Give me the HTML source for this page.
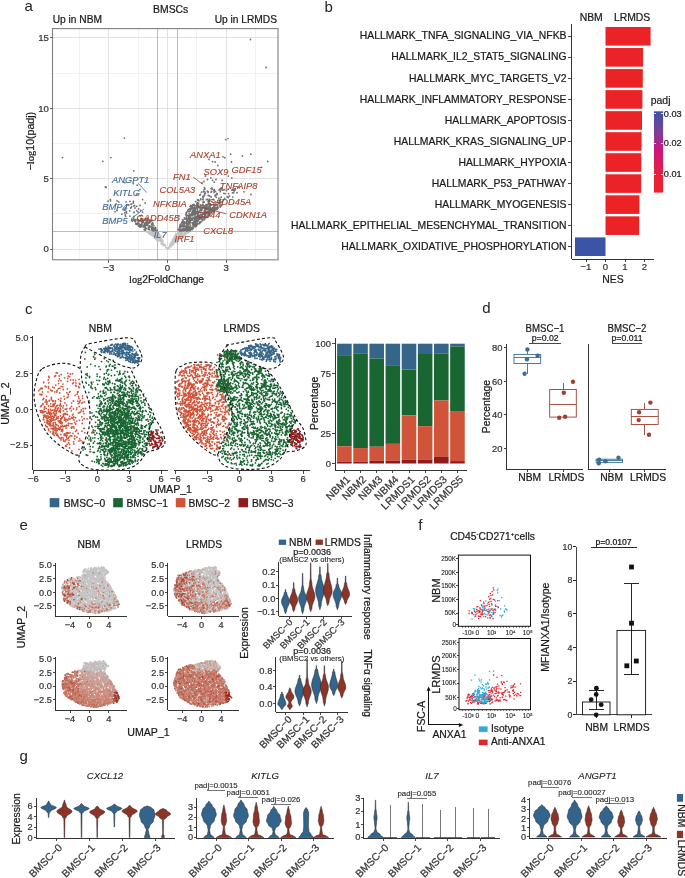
<!DOCTYPE html>
<html><head><meta charset="utf-8"><style>
html,body{margin:0;padding:0;background:#fff;width:685px;height:878px;overflow:hidden}
svg{display:block;will-change:transform}
text{font-family:"Liberation Sans",sans-serif}
</style></head><body>
<svg width="685" height="878" viewBox="0 0 685 878">
<text x="24.5" y="11.2" font-size="15" text-anchor="start" fill="#222" font-family="Liberation Sans" class="pl">a</text>
<text x="324.6" y="11.6" font-size="15" text-anchor="start" fill="#222" font-family="Liberation Sans" class="pl">b</text>
<text x="25.0" y="314.0" font-size="15" text-anchor="start" fill="#222" font-family="Liberation Sans" class="pl">c</text>
<text x="482.3" y="313.0" font-size="15" text-anchor="start" fill="#222" font-family="Liberation Sans" class="pl">d</text>
<text x="19.5" y="530.0" font-size="15" text-anchor="start" fill="#222" font-family="Liberation Sans" class="pl">e</text>
<text x="418.2" y="529.6" font-size="15" text-anchor="start" fill="#222" font-family="Liberation Sans" class="pl">f</text>
<text x="19.5" y="761.0" font-size="15" text-anchor="start" fill="#222" font-family="Liberation Sans" class="pl">g</text>
<line x1="79.4" y1="28.6" x2="79.4" y2="259.8" stroke="#efefef" stroke-width="0.8" shape-rendering="crispEdges"/>
<line x1="138.1" y1="28.6" x2="138.1" y2="259.8" stroke="#efefef" stroke-width="0.8" shape-rendering="crispEdges"/>
<line x1="196.9" y1="28.6" x2="196.9" y2="259.8" stroke="#efefef" stroke-width="0.8" shape-rendering="crispEdges"/>
<line x1="255.6" y1="28.6" x2="255.6" y2="259.8" stroke="#efefef" stroke-width="0.8" shape-rendering="crispEdges"/>
<line x1="52.5" y1="213.8" x2="278.0" y2="213.8" stroke="#efefef" stroke-width="0.8" shape-rendering="crispEdges"/>
<line x1="52.5" y1="143.4" x2="278.0" y2="143.4" stroke="#efefef" stroke-width="0.8" shape-rendering="crispEdges"/>
<line x1="52.5" y1="73.0" x2="278.0" y2="73.0" stroke="#efefef" stroke-width="0.8" shape-rendering="crispEdges"/>
<line x1="108.8" y1="28.6" x2="108.8" y2="259.8" stroke="#e2e2e2" stroke-width="1" shape-rendering="crispEdges"/>
<line x1="167.5" y1="28.6" x2="167.5" y2="259.8" stroke="#e2e2e2" stroke-width="1" shape-rendering="crispEdges"/>
<line x1="226.2" y1="28.6" x2="226.2" y2="259.8" stroke="#e2e2e2" stroke-width="1" shape-rendering="crispEdges"/>
<line x1="52.5" y1="249.0" x2="278.0" y2="249.0" stroke="#e2e2e2" stroke-width="1" shape-rendering="crispEdges"/>
<line x1="52.5" y1="178.6" x2="278.0" y2="178.6" stroke="#e2e2e2" stroke-width="1" shape-rendering="crispEdges"/>
<line x1="52.5" y1="108.2" x2="278.0" y2="108.2" stroke="#e2e2e2" stroke-width="1" shape-rendering="crispEdges"/>
<line x1="52.5" y1="37.8" x2="278.0" y2="37.8" stroke="#e2e2e2" stroke-width="1" shape-rendering="crispEdges"/>
<line x1="157.7" y1="28.6" x2="157.7" y2="259.8" stroke="#b4b4b4" stroke-width="0.9" shape-rendering="crispEdges"/>
<line x1="177.2" y1="28.6" x2="177.2" y2="259.8" stroke="#b4b4b4" stroke-width="0.9" shape-rendering="crispEdges"/>
<line x1="52.5" y1="231.2" x2="278.0" y2="231.2" stroke="#b4b4b4" stroke-width="0.9" shape-rendering="crispEdges"/>
<path transform="scale(.1)" d="M1467 2312h0m1 7h0m12-5h0m19 3h0m8-7h0m7 3h0m3 3h0m32-4h0m1 7h0m11-8h0m4 3h0m0-1h0m2 4h0m2-1h0m205-4h0m10 0h0m3 2h0m13 1h0m15-1h0m5-1h0m2 5h0m4-4h0m28-1h0m2-1h0m2 2h0m6 5h0m1-1h0m3 1h0m12-8h0m15 5h0m-414 11h0m9 9h0m2-15h0m4 20h0m2-12h0m5 9h0m1-17h0m4 15h0m0-6h0m1-8h0m1 26h0m2-28h0m6 33h0m3 2h0m1-21h0m1 0h0m2-1h0m1 4h0m0 5h0m1 1h0m2-4h0m3-12h0m1 21h0m7-21h0m6 29h0m0-20h0m2-1h0m4 18h0m8-18h0m1-15h0m0 3h0m5 13h0m1 7h0m0 2h0m0 11h0m4-19h0m2-12h0m10-3h0m5 16h0m2 6h0m0 2h0m11 9h0m146 3h0m4 0h0m6-21h0m1 5h0m1 3h0m5 5h0m3-6h0m7 9h0m0-16h0m4-12h0m2 34h0m0-33h0m6 1h0m1 27h0m1-17h0m1 20h0m1-10h0m1-14h0m1-6h0m1 27h0m2-27h0m3-4h0m2 19h0m0-1h0m2-19h0m0 28h0m2-2h0m8-14h0m5 21h0m1-23h0m1 5h0m0-1h0m1 4h0m0 19h0m0-34h0m2 31h0m2 1h0m1-24h0m8 24h0m3-10h0m2-2h0m0 12h0m2-4h0m0 3h0m3-26h0m2 18h0m4-25h0m1 4h0m1 21h0m1-8h0m6 6h0m4-22h0m1-2h0m2 5h0m0 4h0m10-1h0m3-5h0m1 3h0m6-4h0m1-3h0m-352 42h0m2 1h0m9 17h0m6-15h0m1-3h0m7 23h0m2-23h0m2 27h0m0 5h0m2 4h0m0-38h0m2 6h0m5 8h0m1 18h0m2-29h0m1 14h0m4-11h0m0 10h0m6-7h0m0 13h0m1-6h0m0 4h0m1-11h0m0-6h0m2 15h0m0-17h0m1 19h0m2 13h0m4-3h0m2-23h0m0 2h0m7 22h0m0-27h0m1 0h0m1 31h0m1 2h0m3-12h0m8 9h0m1 2h0m111-12h0m1-1h0m0 14h0m0 0h0m1-12h0m6 3h0m2-7h0m3-21h0m1 27h0m2 11h0m2-8h0m1-5h0m3 10h0m0-24h0m4-12h0m0 4h0m7 6h0m2-10h0m1 18h0m0 6h0m1 4h0m0-18h0m3 20h0m2-5h0m1-23h0m1 15h0m3 5h0m5-14h0m3 2h0m1 21h0m1-12h0m3 8h0m0-24h0m9 4h0m1 8h0m0-13h0m1 21h0m4-4h0m2-5h0m0-12h0m5 10h0m1 5h0m1-3h0m0 0h0m12-8h0m1-6h0m6 0h0m4 0h0m-270 42h0m7 3h0m2 4h0m3 0h0m17 0h0m6 2h0m4 2h0m3 21h0m0-32h0m1 32h0m0-31h0m3 17h0m0 5h0m0-1h0m1-24h0m7 24h0m1 2h0m2-3h0m1-18h0m0 13h0m1-5h0m3 25h0m75 0h0m1 1h0m3-12h0m3 5h0m3-4h0m1-5h0m0 11h0m2-6h0m1-10h0m1 9h0m0 8h0m2-34h0m5 15h0m0-7h0m1 3h0m0 17h0m1 4h0m3 1h0m1-27h0m2 12h0m0-7h0m1 10h0m3-20h0m1 15h0m1-16h0m4 0h0m2 14h0m2 6h0m2-17h0m0-4h0m1 6h0m1 17h0m0 4h0m2-9h0m3 4h0m1-20h0m0 14h0m0-13h0m10-3h0m9 7h0m-162 33h0m8 4h0m8 10h0m7-11h0m2 4h0m1 1h0m6 2h0m5 18h0m1-13h0m10 24h0m29-11h0m3-6h0m2 3h0m2-18h0m1 5h0m1-8h0m2 13h0m0-9h0m4 15h0m0 2h0m0-22h0m3 13h0m2-7h0m1 7h0m4-15h0m3 7h0m1 0h0m2-5h0m3-3h0m2 6h0m3 0h0m2-2h0m1-4h0m-71 41h0m1 3h0m3 1h0m10 2h0m6-7h0m4 0h0" stroke="#c4c4c4" stroke-width="18.0" stroke-linecap="round" fill="none"/>
<path transform="scale(.1)" d="M2505 395h0m155 280h0m-1417 706h0m1014 15h0m23-10h0m26 156h0m117 17h0m85-17h0m-1883 34h0m484 0h0m981 18h0m140-26h0m18 9h0m-1220 36h0m1098 4h0m26 3h0m163 0h0m362-5h0m-499 40h0m438 18h0m-1278 35h0m717 52h0m20 35h0m33-17h0m52 17h0m123-34h0m35 17h0m-1070 48h0m85 9h0m687-5h0m20-15h0m86-11h0m17 18h0m79-18h0m-1169 65h0m9 5h0m310-22h0m672 24h0m74 2h0m259-5h0m18 5h0m-995 16h0m634 21h0m8-18h0m6 21h0m3-30h0m22 23h0m6 8h0m2-3h0m0 1h0m29-31h0m5 29h0m8-23h0m14 15h0m3-6h0m1 1h0m2-5h0m12 17h0m36-14h0m11 17h0m0-31h0m7 12h0m1-1h0m4-17h0m12 21h0m4-1h0m16-3h0m20 8h0m16-13h0m37 9h0m6 0h0m4-4h0m11 13h0m0-8h0m2-9h0m10 6h0m1-12h0m87 31h0m-1073 27h0m631 7h0m6-7h0m11-23h0m30 32h0m1-15h0m7-9h0m28-6h0m1 31h0m14 4h0m15-37h0m31 2h0m10 28h0m13-3h0m2-16h0m5 6h0m66-6h0m13 3h0m34 0h0m40-8h0m11-1h0m34 0h0m140 18h0m-1406 51h0m322 0h0m579-2h0m2-4h0m1 7h0m19-30h0m1 27h0m2-20h0m1 17h0m8-31h0m26 37h0m7-3h0m19-2h0m21-22h0m22 24h0m16-34h0m13 13h0m26 9h0m18 13h0m5-23h0m34 11h0m27-14h0m9 6h0m12-13h0m33 9h0m-1246 41h0m24-4h0m55 30h0m11-29h0m17 10h0m72-1h0m39-5h0m34 17h0m1-16h0m117 16h0m505-14h0m13 21h0m4-10h0m3-27h0m2 34h0m3-34h0m1 4h0m4 28h0m4-24h0m41 16h0m3-11h0m8 9h0m39-6h0m4-9h0m1 25h0m12-22h0m4 29h0m16-25h0m35 5h0m27-11h0m4 23h0m5 1h0m4 4h0m6-29h0m2 8h0m6 9h0m14-5h0m4 1h0m10-20h0m-979 78h0m17-31h0m15 3h0m22-8h0m1-1h0m4 3h0m1 24h0m23-8h0m6-5h0m1 1h0m21 7h0m33-8h0m499 11h0m4-2h0m2-1h0m1 0h0m2-9h0m4 25h0m5-19h0m3 10h0m2-6h0m4 10h0m1-24h0m4 29h0m4-26h0m2 24h0m2-32h0m1 33h0m2-27h0m3 25h0m0-24h0m1 2h0m4 5h0m8 19h0m0-21h0m7 21h0m4-13h0m1-15h0m3 0h0m1 22h0m0-16h0m4 21h0m2-19h0m1 16h0m2-11h0m2-15h0m12 18h0m1 9h0m7-26h0m0 7h0m7 21h0m7-21h0m1 22h0m3-21h0m6-13h0m4 25h0m1-8h0m7-2h0m3 6h0m1 4h0m1-6h0m3 13h0m6-14h0m4 3h0m1-18h0m7 21h0m0-18h0m0 15h0m1-11h0m2 0h0m8-12h0m5 30h0m9-12h0m1-2h0m1-10h0m0 13h0m2-16h0m4 14h0m2 13h0m1-21h0m9 0h0m13 27h0m4 0h0m3-28h0m2 4h0m3 1h0m0 23h0m1-10h0m4 5h0m0-1h0m1-24h0m3 13h0m2 0h0m1-8h0m2 24h0m4-24h0m3 26h0m2-1h0m6-32h0m6 28h0m2-17h0m2 6h0m1-16h0m5 31h0m17-19h0m3 12h0m2-2h0m2-4h0m6-14h0m4 3h0m-1066 64h0m20-13h0m61-8h0m13 1h0m6 6h0m14 13h0m34-8h0m9-29h0m43 0h0m17 27h0m14 12h0m5-29h0m21 13h0m464 15h0m5-4h0m4-14h0m9-7h0m1 24h0m2-26h0m1 26h0m1-28h0m0 5h0m9 3h0m2 14h0m2-25h0m5 4h0m13 18h0m1 6h0m2-23h0m0 25h0m1-9h0m2-22h0m2 23h0m0-12h0m3 23h0m1-24h0m0 2h0m3-17h0m0 33h0m2-22h0m4 28h0m1-20h0m4-14h0m1 3h0m1 27h0m0-14h0m12-18h0m0 36h0m2-2h0m5-5h0m1 1h0m0-32h0m3 38h0m0-25h0m1 17h0m5 8h0m10-4h0m2 1h0m1 2h0m5-31h0m0 24h0m5-10h0m1-5h0m5-9h0m1 7h0m5 0h0m0 11h0m1-1h0m5-20h0m19 1h0m2 32h0m1-13h0m6-21h0m4 22h0m1-17h0m2 31h0m0-20h0m3 18h0m1-37h0m0 39h0m10-27h0m7 20h0m1-32h0m2 35h0m2 3h0m1-37h0m1 23h0m5 9h0m0 0h0m1-25h0m3 30h0m3-32h0m1 0h0m1 18h0m6-8h0m2 15h0m1-28h0m1-1h0m3 21h0m1-13h0m2 14h0m1-8h0m1 7h0m3 13h0m0-12h0m2 6h0m1-10h0m3 8h0m1 8h0m2-23h0m2 18h0m1-12h0m0 8h0m2 2h0m2-24h0m1 26h0m0-4h0m1-9h0m2 19h0m4-24h0m2 18h0m4-31h0m5 8h0m2 6h0m7-9h0m5 11h0m2-6h0m8-9h0m-961 61h0m28-14h0m6 21h0m12-18h0m75-6h0m2-4h0m72 32h0m12-31h0m433 23h0m3-16h0m0 25h0m1-7h0m1 6h0m1-2h0m1-26h0m0 22h0m8 9h0m9 2h0m3 1h0m4-21h0m5 6h0m3 7h0m0 7h0m6-10h0m5 4h0m2-4h0m1-8h0m5-12h0m3 29h0m1-8h0m6-14h0m1 1h0m1-3h0m4 15h0m0-16h0m4 1h0m5 0h0m5-8h0m1 6h0m0 18h0m3-29h0m0 14h0m1 11h0m1-21h0m3 2h0m2 7h0m13-7h0m1 11h0m3 15h0m1-5h0m2-26h0m5 1h0m3 35h0m0 0h0m9-2h0m2-35h0m7 24h0m8-18h0m3 22h0m1-1h0m6 3h0m7-6h0m1-17h0m7-5h0m3 7h0m3 11h0m4 2h0m1-18h0m2 18h0m1-21h0m0 31h0m1 4h0m1-13h0m2 14h0m5-25h0m7 5h0m8 22h0m2-35h0m4 16h0m1 6h0m3 3h0m3-13h0m3 16h0m1-8h0m3 8h0m2-22h0m3 18h0m1-18h0m5-5h0m9 3h0m-859 36h0m43-3h0m20 36h0m15-12h0m6 10h0m0-30h0m12 31h0m9 1h0m25 2h0m15-39h0m8 37h0m4-14h0m1 13h0m29-3h0m13 3h0m2 2h0m14-16h0m3 15h0m351 2h0m18-21h0m1 9h0m5 3h0m12 0h0m2-18h0m1 18h0m5 9h0m0-4h0m8-10h0m8 13h0m0-21h0m0-9h0m1-4h0m1 14h0m2 14h0m0-32h0m1 28h0m2-7h0m1-2h0m1-6h0m0-4h0m3 25h0m2-19h0m2-5h0m2 19h0m2 8h0m0-25h0m1 12h0m3-2h0m9 15h0m1 1h0m3-6h0m3-5h0m5-12h0m0 7h0m10 2h0m7 15h0m1-16h0m1-14h0m1-6h0m9 11h0m1-7h0m0 18h0m1 14h0m0-5h0m3-10h0m1-8h0m7-7h0m2 19h0m4-3h0m1-15h0m1-10h0m0 9h0m7 21h0m4-9h0m3 12h0m0-25h0m4 0h0m7 18h0m1-16h0m0-5h0m6 9h0m2 3h0m2 10h0m0 2h0m1-24h0m0 14h0m1 6h0m2 7h0m2-17h0m7-9h0m2 6h0m5-3h0m1 5h0m1 7h0m4 14h0m2-13h0m0 12h0m2-21h0m6 4h0m2-9h0m2-3h0m7 7h0m5 4h0m9-16h0m-762 47h0m8 3h0m15-10h0m8 12h0m5 2h0m0-6h0m4 6h0m1-13h0m1 32h0m2 2h0m16 1h0m1-4h0m1-29h0m5 16h0m2-5h0m0 18h0m15-24h0m4 0h0m8 8h0m7 21h0m1-27h0m2 20h0m10-25h0m0 20h0m2-8h0m1-13h0m13 33h0m1-5h0m1 6h0m3-37h0m5 23h0m4 12h0m0-15h0m1 15h0m1-21h0m1-4h0m1 22h0m1-3h0m2-4h0m5-6h0m0 15h0m1-29h0m6 19h0m4 4h0m3-8h0m2 10h0m5-30h0m0 11h0m2 14h0m2-17h0m9 8h0m8-13h0m3 34h0m4-33h0m0 30h0m5-6h0m291-4h0m2-2h0m3-6h0m5 2h0m1-18h0m2 33h0m1-9h0m3-12h0m5 10h0m1 14h0m1-4h0m2-13h0m15 11h0m0 1h0m3-9h0m1 13h0m1-17h0m1-4h0m1-7h0m5 0h0m4 28h0m6-17h0m1 9h0m6 0h0m1-28h0m4 26h0m0-17h0m0 21h0m3-7h0m1 16h0m5-29h0m2 13h0m3 0h0m7-21h0m8 0h0m1 32h0m3-8h0m0-24h0m1 37h0m1-4h0m2-5h0m8-14h0m1 18h0m2-4h0m7-27h0m2 31h0m0-21h0m1 20h0m6-7h0m3 1h0m4-13h0m3 14h0m0-5h0m2-7h0m2-8h0m5 7h0m4 23h0m2-38h0m10 36h0m3-13h0m0-2h0m3 8h0m0-11h0m4 7h0m9-10h0m1 2h0m13-13h0m4-3h0m-671 39h0m1 1h0m11 4h0m1-5h0m2 5h0m13 17h0m4-9h0m2-11h0m1-1h0m1 21h0m4 8h0m2-19h0m3-5h0m5 21h0m4 0h0m1-12h0m5-4h0m13 18h0m0-7h0m7-11h0m0 0h0m1 11h0m4 6h0m1-23h0m4-2h0m1 6h0m1 19h0m1-10h0m0-15h0m1 18h0m1-5h0m2 1h0m0 16h0m4-21h0m4-10h0m0 3h0m3 5h0m5-9h0m8 9h0m3 28h0m1-6h0m7-3h0m3 6h0m3-17h0m2 18h0m14-14h0m2-21h0m1 26h0m2 3h0m4-9h0m1-18h0m7-2h0m3 35h0m6-20h0m14 19h0m3 1h0m239-1h0m3-11h0m1-6h0m3-8h0m1-6h0m0 8h0m1 12h0m2 5h0m1-16h0m0-2h0m5-11h0m2 28h0m4-3h0m8-4h0m0 5h0m0 0h0m2-17h0m6 4h0m2 4h0m1 3h0m2-2h0m10-6h0m2 14h0m3 2h0m5 1h0m2 3h0m8-20h0m1 6h0m1 12h0m3-5h0m1-6h0m8 4h0m0-19h0m3 24h0m3 5h0m5-3h0m3-4h0m2-1h0m6-12h0m7 23h0m6-3h0m11-27h0m0 27h0m1-15h0m1 19h0m5-37h0m4 12h0m3-5h0m1 7h0m3-10h0m0 22h0m3 2h0m2-19h0m5 18h0m2-18h0m1 7h0m0 5h0m0-16h0m3 15h0m3-16h0m6 3h0m-530 48h0m7-3h0m2 10h0m4-21h0m7 6h0m21 5h0m0-3h0m11 8h0m23-9h0m0 7h0m1-10h0m1-2h0m1 18h0m1-18h0m3 4h0m2-2h0m5 23h0m2-12h0m4-13h0m1 11h0m0 15h0m8-17h0m0 3h0m4-3h0m7-5h0m1 20h0m13 1h0m1-7h0m209-4h0m5-2h0m9-2h0m1 16h0m0-2h0m2-12h0m1-12h0m5 11h0m1 15h0m5-8h0m7 4h0m1 4h0m3-17h0m4-4h0m1 16h0m4 0h0m6-8h0m1 12h0m1-26h0m5 2h0m5 20h0m1-1h0m2-14h0m6 6h0m1-4h0m0 2h0m3-1h0m0 13h0m2-5h0m0-3h0m0 11h0m0-5h0m4-17h0m1 23h0m5-1h0m2-26h0m4 14h0m6-4h0m1 15h0m0 0h0m7-14h0m1 14h0m3-19h0m4-3h0m1 6h0m2 14h0m4-20h0m6 4h0m4-7h0m3 13h0m11-11h0" stroke="#707070" stroke-width="18.0" stroke-linecap="round" fill="none"/>
<rect x="52.5" y="28.6" width="225.5" height="231.20000000000002" fill="none" stroke="#808080" stroke-width="1.1"/>
<line x1="49.5" y1="249.0" x2="52.5" y2="249.0" stroke="#666" stroke-width="1" shape-rendering="crispEdges"/>
<text stroke="#333" stroke-width="0.22" x="48.8" y="252.4" font-size="9.6" text-anchor="end" fill="#333" font-family="Liberation Sans">0</text>
<line x1="49.5" y1="178.6" x2="52.5" y2="178.6" stroke="#666" stroke-width="1" shape-rendering="crispEdges"/>
<text stroke="#333" stroke-width="0.22" x="48.8" y="182.0" font-size="9.6" text-anchor="end" fill="#333" font-family="Liberation Sans">5</text>
<line x1="49.5" y1="108.2" x2="52.5" y2="108.2" stroke="#666" stroke-width="1" shape-rendering="crispEdges"/>
<text stroke="#333" stroke-width="0.22" x="48.8" y="111.6" font-size="9.6" text-anchor="end" fill="#333" font-family="Liberation Sans">10</text>
<line x1="49.5" y1="37.8" x2="52.5" y2="37.8" stroke="#666" stroke-width="1" shape-rendering="crispEdges"/>
<text stroke="#333" stroke-width="0.22" x="48.8" y="41.2" font-size="9.6" text-anchor="end" fill="#333" font-family="Liberation Sans">15</text>
<line x1="108.8" y1="259.8" x2="108.8" y2="262.8" stroke="#666" stroke-width="1" shape-rendering="crispEdges"/>
<text stroke="#333" stroke-width="0.22" x="108.8" y="270.6" font-size="9.6" text-anchor="middle" fill="#333" font-family="Liberation Sans">−3</text>
<line x1="167.5" y1="259.8" x2="167.5" y2="262.8" stroke="#666" stroke-width="1" shape-rendering="crispEdges"/>
<text stroke="#333" stroke-width="0.22" x="167.5" y="270.6" font-size="9.6" text-anchor="middle" fill="#333" font-family="Liberation Sans">0</text>
<line x1="226.2" y1="259.8" x2="226.2" y2="262.8" stroke="#666" stroke-width="1" shape-rendering="crispEdges"/>
<text stroke="#333" stroke-width="0.22" x="226.2" y="270.6" font-size="9.6" text-anchor="middle" fill="#333" font-family="Liberation Sans">3</text>
<text stroke="#1a1a1a" stroke-width="0.22" x="170.7" y="13.3" font-size="10.4" text-anchor="middle" fill="#1a1a1a" font-family="Liberation Sans">BMSCs</text>
<text stroke="#1a1a1a" stroke-width="0.22" x="52.7" y="22.9" font-size="10.2" text-anchor="start" fill="#1a1a1a" font-family="Liberation Sans">Up in NBM</text>
<text stroke="#1a1a1a" stroke-width="0.22" x="277.0" y="22.9" font-size="10.2" text-anchor="end" fill="#1a1a1a" font-family="Liberation Sans">Up in LRMDS</text>
<text stroke="#1a1a1a" stroke-width="0.22" x="0" y="0" font-size="10.6" fill="#1a1a1a" text-anchor="middle" transform="translate(34.3 141.2) rotate(-90)"><tspan font-family="Liberation Sans">−</tspan><tspan font-family="Liberation Serif">log</tspan><tspan font-family="Liberation Sans">10(padj)</tspan></text>
<text stroke="#1a1a1a" stroke-width="0.22" x="166.6" y="283.3" font-size="10.3" fill="#1a1a1a" text-anchor="middle"><tspan font-family="Liberation Serif">log</tspan><tspan font-family="Liberation Sans">2FoldChange</tspan></text>
<text stroke="#3c6a9e" stroke-width="0.12" x="112.1" y="182.5" font-size="9.3" text-anchor="start" fill="#3c6a9e" font-family="Liberation Sans" font-style="italic">ANGPT1</text>
<text stroke="#3c6a9e" stroke-width="0.12" x="113.2" y="196.0" font-size="9.3" text-anchor="start" fill="#3c6a9e" font-family="Liberation Sans" font-style="italic">KITLG</text>
<text stroke="#3c6a9e" stroke-width="0.12" x="102.3" y="209.5" font-size="9.3" text-anchor="start" fill="#3c6a9e" font-family="Liberation Sans" font-style="italic">BMP4</text>
<text stroke="#3c6a9e" stroke-width="0.12" x="102.3" y="224.0" font-size="9.3" text-anchor="start" fill="#3c6a9e" font-family="Liberation Sans" font-style="italic">BMP5</text>
<text stroke="#3c6a9e" stroke-width="0.12" x="153.7" y="237.5" font-size="9.3" text-anchor="start" fill="#3c6a9e" font-family="Liberation Sans" font-style="italic">IL7</text>
<line x1="138.4" y1="183.4" x2="146.7" y2="192.6" stroke="#3c6a9e" stroke-width="0.8"/>
<line x1="131.2" y1="218.8" x2="143.9" y2="209.0" stroke="#3c6a9e" stroke-width="0.8"/>
<text stroke="#a63f2c" stroke-width="0.12" x="190.1" y="158.0" font-size="9.3" text-anchor="start" fill="#a63f2c" font-family="Liberation Sans" font-style="italic">ANXA1</text>
<text stroke="#a63f2c" stroke-width="0.12" x="173.0" y="179.6" font-size="9.3" text-anchor="start" fill="#a63f2c" font-family="Liberation Sans" font-style="italic">FN1</text>
<text stroke="#a63f2c" stroke-width="0.12" x="203.5" y="174.6" font-size="9.3" text-anchor="start" fill="#a63f2c" font-family="Liberation Sans" font-style="italic">SOX9</text>
<text stroke="#a63f2c" stroke-width="0.12" x="231.6" y="173.1" font-size="9.3" text-anchor="start" fill="#a63f2c" font-family="Liberation Sans" font-style="italic">GDF15</text>
<text stroke="#a63f2c" stroke-width="0.12" x="159.6" y="192.9" font-size="9.3" text-anchor="start" fill="#a63f2c" font-family="Liberation Sans" font-style="italic">COL5A3</text>
<text stroke="#a63f2c" stroke-width="0.12" x="219.8" y="189.4" font-size="9.3" text-anchor="start" fill="#a63f2c" font-family="Liberation Sans" font-style="italic">TNFAIP8</text>
<text stroke="#a63f2c" stroke-width="0.12" x="153.1" y="207.2" font-size="9.3" text-anchor="start" fill="#a63f2c" font-family="Liberation Sans" font-style="italic">NFKBIA</text>
<text stroke="#a63f2c" stroke-width="0.12" x="207.9" y="204.8" font-size="9.3" text-anchor="start" fill="#a63f2c" font-family="Liberation Sans" font-style="italic">GADD45A</text>
<text stroke="#a63f2c" stroke-width="0.12" x="136.5" y="221.1" font-size="9.3" text-anchor="start" fill="#a63f2c" font-family="Liberation Sans" font-style="italic">GADD45B</text>
<text stroke="#a63f2c" stroke-width="0.12" x="196.7" y="218.1" font-size="9.3" text-anchor="start" fill="#a63f2c" font-family="Liberation Sans" font-style="italic">CD44</text>
<text stroke="#a63f2c" stroke-width="0.12" x="229.3" y="218.1" font-size="9.3" text-anchor="start" fill="#a63f2c" font-family="Liberation Sans" font-style="italic">CDKN1A</text>
<text stroke="#a63f2c" stroke-width="0.12" x="203.2" y="233.5" font-size="9.3" text-anchor="start" fill="#a63f2c" font-family="Liberation Sans" font-style="italic">CXCL8</text>
<text stroke="#a63f2c" stroke-width="0.12" x="174.4" y="241.8" font-size="9.3" text-anchor="start" fill="#a63f2c" font-family="Liberation Sans" font-style="italic">IRF1</text>
<line x1="193.1" y1="176.9" x2="202.6" y2="184.3" stroke="#a63f2c" stroke-width="0.8"/>
<line x1="196.7" y1="205.9" x2="226.3" y2="213.9" stroke="#a63f2c" stroke-width="0.8"/>
<rect x="605.50" y="27.00" width="45.10" height="18.60" fill="#ec2326" stroke="none" stroke-width="0"/>
<line x1="568.3" y1="36.3" x2="571.5" y2="36.3" stroke="#333" stroke-width="0.9" shape-rendering="crispEdges"/>
<text stroke="#1a1a1a" stroke-width="0.22" x="566.5" y="39.4" font-size="10.4" text-anchor="end" fill="#1a1a1a" font-family="Liberation Sans">HALLMARK_TNFA_SIGNALING_VIA_NFKB</text>
<rect x="605.50" y="48.04" width="37.50" height="18.60" fill="#ec2326" stroke="none" stroke-width="0"/>
<line x1="568.3" y1="57.3" x2="571.5" y2="57.3" stroke="#333" stroke-width="0.9" shape-rendering="crispEdges"/>
<text stroke="#1a1a1a" stroke-width="0.22" x="566.5" y="60.4" font-size="10.4" text-anchor="end" fill="#1a1a1a" font-family="Liberation Sans">HALLMARK_IL2_STAT5_SIGNALING</text>
<rect x="605.50" y="69.08" width="37.30" height="18.60" fill="#ec2326" stroke="none" stroke-width="0"/>
<line x1="568.3" y1="78.4" x2="571.5" y2="78.4" stroke="#333" stroke-width="0.9" shape-rendering="crispEdges"/>
<text stroke="#1a1a1a" stroke-width="0.22" x="566.5" y="81.5" font-size="10.4" text-anchor="end" fill="#1a1a1a" font-family="Liberation Sans">HALLMARK_MYC_TARGETS_V2</text>
<rect x="605.50" y="90.12" width="36.90" height="18.60" fill="#ec2326" stroke="none" stroke-width="0"/>
<line x1="568.3" y1="99.4" x2="571.5" y2="99.4" stroke="#333" stroke-width="0.9" shape-rendering="crispEdges"/>
<text stroke="#1a1a1a" stroke-width="0.22" x="566.5" y="102.5" font-size="10.4" text-anchor="end" fill="#1a1a1a" font-family="Liberation Sans">HALLMARK_INFLAMMATORY_RESPONSE</text>
<rect x="605.50" y="111.16" width="36.50" height="18.60" fill="#ec2326" stroke="none" stroke-width="0"/>
<line x1="568.3" y1="120.5" x2="571.5" y2="120.5" stroke="#333" stroke-width="0.9" shape-rendering="crispEdges"/>
<text stroke="#1a1a1a" stroke-width="0.22" x="566.5" y="123.6" font-size="10.4" text-anchor="end" fill="#1a1a1a" font-family="Liberation Sans">HALLMARK_APOPTOSIS</text>
<rect x="605.50" y="132.20" width="36.10" height="18.60" fill="#ec2326" stroke="none" stroke-width="0"/>
<line x1="568.3" y1="141.5" x2="571.5" y2="141.5" stroke="#333" stroke-width="0.9" shape-rendering="crispEdges"/>
<text stroke="#1a1a1a" stroke-width="0.22" x="566.5" y="144.6" font-size="10.4" text-anchor="end" fill="#1a1a1a" font-family="Liberation Sans">HALLMARK_KRAS_SIGNALING_UP</text>
<rect x="605.50" y="153.24" width="35.80" height="18.60" fill="#ec2326" stroke="none" stroke-width="0"/>
<line x1="568.3" y1="162.5" x2="571.5" y2="162.5" stroke="#333" stroke-width="0.9" shape-rendering="crispEdges"/>
<text stroke="#1a1a1a" stroke-width="0.22" x="566.5" y="165.6" font-size="10.4" text-anchor="end" fill="#1a1a1a" font-family="Liberation Sans">HALLMARK_HYPOXIA</text>
<rect x="605.50" y="174.28" width="35.60" height="18.60" fill="#ec2326" stroke="none" stroke-width="0"/>
<line x1="568.3" y1="183.6" x2="571.5" y2="183.6" stroke="#333" stroke-width="0.9" shape-rendering="crispEdges"/>
<text stroke="#1a1a1a" stroke-width="0.22" x="566.5" y="186.7" font-size="10.4" text-anchor="end" fill="#1a1a1a" font-family="Liberation Sans">HALLMARK_P53_PATHWAY</text>
<rect x="605.50" y="195.32" width="33.90" height="18.60" fill="#ec2326" stroke="none" stroke-width="0"/>
<line x1="568.3" y1="204.6" x2="571.5" y2="204.6" stroke="#333" stroke-width="0.9" shape-rendering="crispEdges"/>
<text stroke="#1a1a1a" stroke-width="0.22" x="566.5" y="207.7" font-size="10.4" text-anchor="end" fill="#1a1a1a" font-family="Liberation Sans">HALLMARK_MYOGENESIS</text>
<rect x="605.50" y="216.36" width="33.70" height="18.60" fill="#ec2326" stroke="none" stroke-width="0"/>
<line x1="568.3" y1="225.7" x2="571.5" y2="225.7" stroke="#333" stroke-width="0.9" shape-rendering="crispEdges"/>
<text stroke="#1a1a1a" stroke-width="0.22" x="566.5" y="228.8" font-size="10.4" text-anchor="end" fill="#1a1a1a" font-family="Liberation Sans">HALLMARK_EPITHELIAL_MESENCHYMAL_TRANSITION</text>
<rect x="575.00" y="237.40" width="30.50" height="18.60" fill="#3b54a5" stroke="none" stroke-width="0"/>
<line x1="568.3" y1="246.7" x2="571.5" y2="246.7" stroke="#333" stroke-width="0.9" shape-rendering="crispEdges"/>
<text stroke="#1a1a1a" stroke-width="0.22" x="566.5" y="249.8" font-size="10.4" text-anchor="end" fill="#1a1a1a" font-family="Liberation Sans">HALLMARK_OXIDATIVE_PHOSPHORYLATION</text>
<line x1="571.5" y1="23.7" x2="571.5" y2="259.0" stroke="#333" stroke-width="1" shape-rendering="crispEdges"/>
<line x1="571.5" y1="259.0" x2="654.3" y2="259.0" stroke="#333" stroke-width="1" shape-rendering="crispEdges"/>
<line x1="586.0" y1="259.0" x2="586.0" y2="262.0" stroke="#333" stroke-width="0.9" shape-rendering="crispEdges"/>
<text stroke="#333" stroke-width="0.22" x="586.0" y="269.6" font-size="9.6" text-anchor="middle" fill="#333" font-family="Liberation Sans">−1</text>
<line x1="605.5" y1="259.0" x2="605.5" y2="262.0" stroke="#333" stroke-width="0.9" shape-rendering="crispEdges"/>
<text stroke="#333" stroke-width="0.22" x="605.5" y="269.6" font-size="9.6" text-anchor="middle" fill="#333" font-family="Liberation Sans">0</text>
<line x1="625.0" y1="259.0" x2="625.0" y2="262.0" stroke="#333" stroke-width="0.9" shape-rendering="crispEdges"/>
<text stroke="#333" stroke-width="0.22" x="625.0" y="269.6" font-size="9.6" text-anchor="middle" fill="#333" font-family="Liberation Sans">1</text>
<line x1="644.4" y1="259.0" x2="644.4" y2="262.0" stroke="#333" stroke-width="0.9" shape-rendering="crispEdges"/>
<text stroke="#333" stroke-width="0.22" x="644.4" y="269.6" font-size="9.6" text-anchor="middle" fill="#333" font-family="Liberation Sans">2</text>
<text stroke="#1a1a1a" stroke-width="0.22" x="613.0" y="282.9" font-size="10.4" text-anchor="middle" fill="#1a1a1a" font-family="Liberation Sans">NES</text>
<text stroke="#1a1a1a" stroke-width="0.22" x="591.2" y="21.0" font-size="10.4" text-anchor="middle" fill="#1a1a1a" font-family="Liberation Sans">NBM</text>
<text stroke="#1a1a1a" stroke-width="0.22" x="632.1" y="21.0" font-size="10.4" text-anchor="middle" fill="#1a1a1a" font-family="Liberation Sans">LRMDS</text>
<defs><linearGradient id="cb" x1="0" y1="0" x2="0" y2="1"><stop offset="0" stop-color="#3b54a5"/><stop offset="0.3" stop-color="#8a3a95"/><stop offset="0.47" stop-color="#cc1480"/><stop offset="0.78" stop-color="#e8203c"/><stop offset="1" stop-color="#ec2326"/></linearGradient></defs>
<rect x="654.00" y="111.30" width="9.10" height="81.30" fill="url(#cb)" stroke="none" stroke-width="0"/>
<line x1="654.0" y1="113.7" x2="656.0" y2="113.7" stroke="#fff" stroke-width="0.8" shape-rendering="crispEdges"/>
<line x1="661.0" y1="113.7" x2="663.1" y2="113.7" stroke="#fff" stroke-width="0.8" shape-rendering="crispEdges"/>
<text stroke="#1a1a1a" stroke-width="0.22" x="663.8" y="117.0" font-size="9.2" text-anchor="start" fill="#1a1a1a" font-family="Liberation Sans">0.03</text>
<line x1="654.0" y1="143.1" x2="656.0" y2="143.1" stroke="#fff" stroke-width="0.8" shape-rendering="crispEdges"/>
<line x1="661.0" y1="143.1" x2="663.1" y2="143.1" stroke="#fff" stroke-width="0.8" shape-rendering="crispEdges"/>
<text stroke="#1a1a1a" stroke-width="0.22" x="663.8" y="146.4" font-size="9.2" text-anchor="start" fill="#1a1a1a" font-family="Liberation Sans">0.02</text>
<line x1="654.0" y1="174.0" x2="656.0" y2="174.0" stroke="#fff" stroke-width="0.8" shape-rendering="crispEdges"/>
<line x1="661.0" y1="174.0" x2="663.1" y2="174.0" stroke="#fff" stroke-width="0.8" shape-rendering="crispEdges"/>
<text stroke="#1a1a1a" stroke-width="0.22" x="663.8" y="177.3" font-size="9.2" text-anchor="start" fill="#1a1a1a" font-family="Liberation Sans">0.01</text>
<text stroke="#1a1a1a" stroke-width="0.22" x="650.8" y="104.2" font-size="10.4" text-anchor="start" fill="#1a1a1a" font-family="Liberation Sans">padj</text>
<path transform="scale(.1)" d="M556 3757h0m6-27h0m11-1h0m0 0h0m40 18h0m65-14h0m25 9h0m22-5h0m-243 62h0m6-36h0m3 14h0m56-12h0m45-5h0m2 28h0m51-10h0m32 6h0m5-23h0m14 6h0m10 32h0m26 0h0m58-5h0m-353 28h0m0 4h0m1-1h0m50 3h0m97-20h0m1 28h0m23-29h0m67 7h0m51 23h0m7-11h0m22-22h0m3 25h0m35 5h0m-343 27h0m9 9h0m24-3h0m43 4h0m16 7h0m14-27h0m55 12h0m16 5h0m1-27h0m127 13h0m4 8h0m26 3h0m5 12h0m7-35h0m-410 66h0m12-15h0m10-12h0m10 7h0m3-4h0m57 35h0m6-35h0m21 16h0m5 6h0m12 2h0m24 11h0m22-15h0m13-18h0m16-5h0m34 14h0m40-6h0m27 27h0m80 1h0m-381 26h0m11 2h0m3 4h0m6-5h0m6-24h0m144 0h0m28 9h0m72-2h0m13 21h0m0-6h0m13-19h0m56 30h0m21-11h0m4-18h0m1-4h0m48 39h0m-395 38h0m4-9h0m3-4h0m24 15h0m5-36h0m47 26h0m1-14h0m72 19h0m23-10h0m31-21h0m6 27h0m26-13h0m8-8h0m105-4h0m5 20h0m35-2h0m-396 54h0m22-16h0m12-12h0m7 19h0m1-10h0m19-10h0m1 2h0m4-7h0m12 35h0m15-35h0m7 13h0m4-6h0m11 26h0m9-28h0m1 24h0m1-20h0m49-6h0m4 10h0m41 13h0m67 2h0m18-21h0m45 1h0m3 25h0m13-7h0m1-12h0m7-14h0m16 28h0m7-5h0m18-7h0m-437 46h0m4-4h0m3-8h0m16-9h0m14 35h0m4-12h0m20-25h0m18 18h0m22 3h0m14 0h0m7-5h0m1-15h0m6 18h0m8-12h0m9 24h0m12-8h0m4-8h0m9-4h0m19 2h0m2-4h0m5-11h0m8 22h0m17 17h0m4-21h0m32-7h0m1 3h0m49 10h0m53 14h0m24-13h0m-390 41h0m13 0h0m8 4h0m8 9h0m7-1h0m3-22h0m16 18h0m5-31h0m21 15h0m1 1h0m1 20h0m0-25h0m4 18h0m18-18h0m4 13h0m16-5h0m17 11h0m1-17h0m9-10h0m4 21h0m4 11h0m7-13h0m5-18h0m2 7h0m6-14h0m5 35h0m11-12h0m4-22h0m3 13h0m0 19h0m29-4h0m18-18h0m12 2h0m4-4h0m3 27h0m26-29h0m5-5h0m11 26h0m22-19h0m30 7h0m42 20h0m6-16h0m17-15h0m2 29h0m1 1h0m2-29h0m21-1h0m-447 37h0m13 6h0m5-8h0m9 5h0m0 29h0m0 3h0m6-37h0m1 35h0m8-3h0m17-20h0m5 3h0m1 2h0m7 22h0m7-27h0m2-6h0m1 1h0m1 1h0m2 13h0m7-12h0m3 15h0m4-18h0m10 13h0m16-13h0m4 0h0m2 11h0m6 5h0m1 15h0m2-8h0m1-2h0m9 10h0m3-22h0m1 0h0m40-11h0m2 34h0m27-13h0m3 7h0m4-10h0m8-3h0m2-6h0m8 5h0m1 4h0m0-2h0m17 5h0m50 6h0m7-10h0m52-10h0m12-4h0m44 9h0m-408 59h0m5-19h0m1 21h0m3-37h0m0 6h0m12-4h0m6 9h0m1 6h0m7-6h0m0-7h0m2-4h0m4 29h0m0-8h0m8 3h0m7-13h0m4 0h0m8 26h0m2 1h0m1-24h0m2-11h0m2 5h0m2-8h0m4 31h0m2-9h0m8-21h0m8 5h0m1 20h0m6 12h0m3-25h0m1-12h0m12 36h0m9-6h0m6-9h0m2-11h0m3 4h0m7 11h0m3-17h0m21 21h0m5 2h0m8-15h0m3 3h0m5-9h0m9-4h0m13 12h0m3 15h0m11 1h0m11 4h0m13-16h0m11-20h0m2 27h0m16-11h0m4-4h0m0 2h0m6 7h0m5-4h0m7-11h0m18 8h0m64-9h0m23 19h0m29 2h0m-423 32h0m20 7h0m1-23h0m3 11h0m0 6h0m1 7h0m0-13h0m3 16h0m0-15h0m1 2h0m1-2h0m1 21h0m3-29h0m8 29h0m3-6h0m6-19h0m1 10h0m2-9h0m4 25h0m1-6h0m4-19h0m1-6h0m6-3h0m12-4h0m3 25h0m20-3h0m2 16h0m26-30h0m12 10h0m1-10h0m1 13h0m9 12h0m1-30h0m3 8h0m2 11h0m3 4h0m4 10h0m1-5h0m1 7h0m0-16h0m3 1h0m22-24h0m14 14h0m20-14h0m5 35h0m0-2h0m18 3h0m18 1h0m20-37h0m8 25h0m22-14h0m26-8h0m27 32h0m4-34h0m-371 50h0m7 13h0m11 5h0m19-25h0m3 1h0m2 9h0m6-5h0m3-2h0m3 12h0m15-3h0m8-16h0m0 20h0m1-18h0m4 12h0m6 23h0m11-12h0m8-21h0m3 5h0m3-2h0m15 12h0m10 17h0m14-14h0m12 5h0m7-8h0m8 7h0m12-6h0m7-1h0m6 7h0m7-14h0m18 3h0m28 21h0m8-6h0m14-2h0m8 11h0m15-39h0m-273 49h0m3 15h0m18 15h0m6-35h0m9 2h0m5 5h0m5 5h0m0 22h0m3-36h0m3 2h0m6 17h0m7 2h0m3-22h0m8 13h0m2 13h0m7-25h0m3 21h0m11-11h0m2-4h0m10 7h0m7-15h0m11 29h0m1-13h0m6 7h0m6 13h0m1-13h0m1-12h0m34-9h0m54 0h0m40 32h0m10-12h0m53 10h0m19-29h0m6 0h0m-318 53h0m7 6h0m4-2h0m1-17h0m4 30h0m15-19h0m4-14h0m4 25h0m1 7h0m1-9h0m6-1h0m1 9h0m35-6h0m32 4h0m2-11h0m7 16h0m4-6h0m3-8h0m5 13h0m3-26h0m5 28h0m1-22h0m5-7h0m10 6h0m15-4h0m1 31h0m28-25h0m52 1h0m66-7h0m-267 32h0m5 9h0m10 12h0m13 18h0m0-9h0m7-14h0m12 1h0m7 22h0m0-6h0m25 6h0m6-29h0m5 19h0m11-5h0m6-12h0m30-12h0m27 29h0m3-29h0m0 27h0m21-15h0m27 16h0m-159 21h0m13 5h0m36 16h0m5-27h0m45 15h0m54-8h0m19-6h0m15 14h0m4 12h0m-173 30h0m8 3h0m8-19h0m23 35h0m2-35h0m43-4h0m-20 69h0m70-15h0" stroke="#d0543a" stroke-width="17.6" stroke-linecap="round" fill="none"/>
<path transform="scale(.1)" d="M854 3524h0m93 21h0m-99 44h0m87-23h0m13 26h0m95-5h0m-28 29h0m53-8h0m16 10h0m48-13h0m-261 65h0m35-27h0m45 16h0m38 7h0m70 2h0m5-6h0m29-5h0m0 3h0m9-17h0m20 18h0m8 0h0m14 12h0m6 6h0m0-29h0m5 27h0m-152 17h0m68 17h0m3-11h0m11-3h0m30 5h0m32-17h0m25 31h0m27-5h0m50 4h0m-392 29h0m14-7h0m1 18h0m99-13h0m72-2h0m21-8h0m18 19h0m6-8h0m25 14h0m33-5h0m41-5h0m9-24h0m1 10h0m5 6h0m28 2h0m9-7h0m37-14h0m-416 59h0m34-14h0m2 11h0m0-10h0m76-3h0m26 6h0m39 21h0m6-15h0m15 20h0m19-12h0m96 8h0m33 4h0m13-12h0m2 4h0m27-26h0m10 14h0m28-9h0m5-5h0m5 13h0m-437 50h0m4 7h0m49-6h0m2 0h0m55-22h0m22 1h0m6 2h0m31 32h0m29-13h0m6 11h0m15-21h0m8 10h0m2 6h0m0-10h0m1-8h0m7-6h0m4 18h0m25 9h0m23 4h0m10-33h0m14 1h0m13 3h0m9-9h0m2 12h0m12-12h0m1 25h0m8-4h0m3-5h0m8 15h0m18-10h0m2 16h0m8-22h0m4-5h0m4-9h0m31 3h0m8 34h0m0-2h0m9-8h0m2-6h0m12-10h0m1 25h0m6-4h0m5-11h0m2 8h0m-452 20h0m21 26h0m2-14h0m7-22h0m34 37h0m25-34h0m51 1h0m13 7h0m1-10h0m9 37h0m12-3h0m15-32h0m7 1h0m17 34h0m38-3h0m5-3h0m3-3h0m1-27h0m24 17h0m9 5h0m12 14h0m8-29h0m3 17h0m3 4h0m5 9h0m11-22h0m1 14h0m1-2h0m28-22h0m6 11h0m29 18h0m26-18h0m11-2h0m6 21h0m25-29h0m4 8h0m20 23h0m-458 5h0m35 11h0m44 23h0m3-5h0m26 1h0m5-10h0m17-22h0m11 0h0m12 11h0m5 7h0m20 4h0m8-13h0m11 7h0m23-3h0m4-10h0m10 16h0m4 0h0m12 7h0m6-13h0m7 3h0m6 12h0m1 8h0m4-32h0m5 5h0m1 22h0m1-30h0m3 15h0m3-13h0m5 2h0m22 7h0m10-14h0m7 22h0m2-3h0m1-11h0m21 29h0m16-29h0m11-1h0m4 24h0m7-12h0m0 11h0m16 1h0m4-23h0m21 12h0m1 2h0m7-14h0m1-5h0m1 36h0m7-14h0m16-9h0m0 0h0m9 6h0m-510 22h0m94 14h0m24 15h0m26-24h0m5 3h0m5 0h0m6 25h0m8-36h0m5 20h0m47-15h0m3-2h0m15 23h0m2 7h0m10-33h0m7 2h0m26 15h0m7-6h0m6 22h0m12-4h0m0 6h0m9 2h0m12-32h0m2-4h0m1 29h0m7-27h0m2 32h0m1-11h0m5 1h0m1-2h0m1-22h0m0 37h0m6-9h0m2-21h0m2 23h0m6-7h0m0-1h0m4 15h0m12-29h0m3 13h0m10 12h0m9-30h0m3 29h0m18 2h0m1-26h0m12 16h0m3 12h0m7-24h0m15 14h0m2 4h0m2-31h0m0 21h0m10-1h0m10-21h0m26 31h0m35-10h0m-510 39h0m1 2h0m14-16h0m27 12h0m7 4h0m10-17h0m9 19h0m11-20h0m7 2h0m10 1h0m14 20h0m17 6h0m18-9h0m14-8h0m10 17h0m0 6h0m7-25h0m8 5h0m1 2h0m8 6h0m1 4h0m0 4h0m1-31h0m2 21h0m1-19h0m1 7h0m2 19h0m0-28h0m1 35h0m3-16h0m10-19h0m3 4h0m3-7h0m7 19h0m5-7h0m22 8h0m3 14h0m2 1h0m1-1h0m4 0h0m1-30h0m2-3h0m6 27h0m5-12h0m2 20h0m1-10h0m0 8h0m7-1h0m11-16h0m1 5h0m9 0h0m1-13h0m1 25h0m6-32h0m19 1h0m19 34h0m10-27h0m1 0h0m17 17h0m2-27h0m3 5h0m6-4h0m3 20h0m5 7h0m14-22h0m0 24h0m6-1h0m6-24h0m10 22h0m1-26h0m15 3h0m4 34h0m1-16h0m1-3h0m23-2h0m31 19h0m18-16h0m-565 44h0m106-17h0m5 24h0m9-12h0m6 15h0m19-31h0m9 30h0m5-6h0m22-18h0m5 7h0m13-17h0m8 25h0m2-23h0m14 11h0m4 7h0m7 10h0m1 0h0m2-18h0m6-12h0m12 37h0m0-11h0m2-7h0m8-7h0m7-2h0m1 24h0m7-16h0m3-5h0m2 11h0m4-6h0m3-3h0m2 13h0m1 4h0m2-5h0m2 2h0m5 9h0m3-21h0m4-16h0m1 29h0m0-23h0m1-7h0m3 30h0m2-5h0m4-3h0m8-6h0m8 8h0m4-18h0m0 21h0m6 5h0m26-15h0m4 13h0m12-26h0m2 20h0m7 0h0m3-23h0m3 16h0m6 14h0m0-21h0m4 8h0m5-17h0m4 38h0m4-25h0m5 13h0m0-18h0m3-4h0m7 15h0m19-10h0m4-1h0m4 21h0m0-21h0m6 5h0m5-1h0m2 13h0m4 10h0m29-26h0m7 18h0m14-7h0m9-15h0m8 28h0m-479 20h0m23 7h0m5-17h0m2 18h0m9-18h0m9-4h0m13 32h0m10-14h0m6 9h0m10-26h0m14 38h0m4-17h0m11-22h0m7 34h0m4-15h0m2 19h0m2-16h0m0 13h0m4-17h0m4-5h0m3-11h0m19 35h0m0-15h0m7-8h0m8-14h0m9 10h0m5-10h0m1 10h0m8 9h0m1-9h0m14 0h0m1 3h0m0 6h0m5-11h0m3 14h0m6-6h0m2 3h0m2 17h0m19-36h0m4 35h0m3 2h0m0-34h0m3 3h0m0-6h0m3 9h0m0-8h0m2 13h0m17 8h0m4-17h0m1 7h0m2 11h0m9-3h0m5-20h0m0 24h0m8 11h0m3-12h0m6 16h0m3-13h0m5 7h0m17 6h0m9-34h0m1-5h0m0 34h0m1-27h0m5 27h0m7-6h0m8 11h0m22-25h0m6 9h0m7-5h0m12-11h0m7 14h0m2 12h0m26 1h0m21-22h0m37 25h0m4-4h0m-528 44h0m18-34h0m10 35h0m5-12h0m5-20h0m2 12h0m5 2h0m1-13h0m3 17h0m1-2h0m1 14h0m19-12h0m1 0h0m6-12h0m2 22h0m6-2h0m6-7h0m0 3h0m2 0h0m8-20h0m2 26h0m1-8h0m1-3h0m1-10h0m8 21h0m2 3h0m2-15h0m8 9h0m0-15h0m4 23h0m5-31h0m3 16h0m7-6h0m2 0h0m1-13h0m14 11h0m3 22h0m11-34h0m9 32h0m8-1h0m2-13h0m8-13h0m4-3h0m3 18h0m2 1h0m0-9h0m1-5h0m3 21h0m1-25h0m1 1h0m6 31h0m1-38h0m2 20h0m7 11h0m5 5h0m2-1h0m1-20h0m1 7h0m11 12h0m2 1h0m2 2h0m0-37h0m1 6h0m3 32h0m3-30h0m7 11h0m7-11h0m3 21h0m2 5h0m7-28h0m1 6h0m15 8h0m0-19h0m2 26h0m2-9h0m0-16h0m9 25h0m2-4h0m5-4h0m0 13h0m3-1h0m16-19h0m12 24h0m2-1h0m10-34h0m10 1h0m1 34h0m3-29h0m9 2h0m2 5h0m23 16h0m11-29h0m9 13h0m1 15h0m7-30h0m12 34h0m8-7h0m1 7h0m25-7h0m7 6h0m35 5h0m3-28h0m-580 38h0m21 27h0m42-34h0m6 12h0m5 8h0m0-4h0m13 17h0m6-16h0m14-14h0m12 22h0m8 13h0m8-6h0m10-7h0m2-5h0m2-12h0m21 19h0m0-1h0m2 9h0m3-20h0m7-10h0m4 25h0m1 2h0m3-15h0m5 17h0m1-30h0m12 10h0m4-14h0m9 20h0m0 4h0m1 8h0m2-25h0m2-2h0m4 28h0m2-29h0m0 10h0m0 20h0m2-26h0m1 25h0m2-19h0m3 14h0m10 0h0m1-20h0m4 22h0m2-13h0m4-7h0m4 2h0m13 12h0m11-22h0m4 16h0m0-6h0m3-13h0m3 33h0m2-1h0m1-28h0m3-2h0m0 9h0m5 12h0m8 1h0m1-23h0m3 26h0m1-23h0m4 32h0m2-16h0m1 13h0m8 0h0m1-22h0m2 5h0m4-9h0m1 19h0m0-2h0m1-7h0m2 3h0m1-11h0m2 26h0m3 1h0m6-5h0m1-27h0m1 22h0m2-8h0m1-13h0m3 2h0m2 27h0m0 2h0m2 2h0m13-21h0m1 13h0m6-17h0m18-4h0m8 8h0m7 11h0m9-8h0m8-3h0m4-12h0m6-4h0m2 15h0m7 22h0m9-23h0m11 15h0m18 7h0m1-11h0m1-21h0m21 33h0m1 0h0m38-15h0m22 10h0m5-27h0m-593 68h0m13-31h0m28 6h0m18 3h0m40 15h0m1-17h0m7 3h0m0 15h0m1-12h0m4 5h0m6-14h0m9 22h0m3-9h0m4-18h0m1 5h0m3 11h0m10-9h0m6 6h0m0 13h0m7-6h0m4-1h0m3-2h0m5 20h0m8-27h0m2 26h0m4-30h0m3 14h0m2-19h0m0 14h0m0-5h0m1 27h0m1-6h0m3-29h0m0 3h0m3 16h0m1 5h0m6-10h0m3-17h0m1 35h0m4-2h0m4-5h0m2-11h0m5-14h0m4 10h0m2 12h0m7-10h0m1 14h0m7 5h0m6-28h0m5 7h0m0-7h0m2 7h0m3 4h0m4 12h0m1-16h0m1 18h0m0-5h0m0 4h0m8-30h0m1 27h0m2-26h0m2 27h0m1-11h0m2-4h0m1 16h0m0-24h0m3-4h0m2 34h0m2-8h0m5 10h0m1-25h0m2 11h0m8 11h0m5-6h0m7-13h0m1 23h0m6-39h0m6 3h0m3 19h0m7-4h0m1 19h0m0-1h0m4-29h0m0-3h0m2 34h0m1-23h0m0 21h0m1-23h0m4 8h0m1-19h0m10 6h0m1-1h0m4 9h0m0 12h0m0-28h0m16 26h0m1-8h0m1 7h0m6-19h0m8 19h0m2 10h0m7-12h0m5 2h0m17 14h0m8-21h0m7 6h0m5 4h0m10-17h0m1 27h0m1-2h0m7-12h0m1-4h0m7-11h0m0 30h0m17-10h0m7-22h0m7 10h0m7-3h0m1-3h0m23 28h0m15-6h0m23-23h0m4 27h0m19-15h0m3-10h0m-569 51h0m24-22h0m13 0h0m6 21h0m2-6h0m0 12h0m10-2h0m9 13h0m6-10h0m19-28h0m2-1h0m2 11h0m5 26h0m2-3h0m3-31h0m3 5h0m2-7h0m0 32h0m2 0h0m1-29h0m1 29h0m0 0h0m10-33h0m5 23h0m0 7h0m3-23h0m16 14h0m5-5h0m2 15h0m7 3h0m4-21h0m2-10h0m3 6h0m1 23h0m0-28h0m7 4h0m2 2h0m5 12h0m0-10h0m3-4h0m1 19h0m5-1h0m0-4h0m1 16h0m2-13h0m0-25h0m10 23h0m5 11h0m1-14h0m9 15h0m0-11h0m3-9h0m3 10h0m4-22h0m1 22h0m2-24h0m4 21h0m0-4h0m1-8h0m6 1h0m4-11h0m0 32h0m7-14h0m1 0h0m1 11h0m0-8h0m3-10h0m9 22h0m1-8h0m1 7h0m4-32h0m4 8h0m0 16h0m0-4h0m2-13h0m4 22h0m8-22h0m1 12h0m3 13h0m2-13h0m0-2h0m1 12h0m10-2h0m4-3h0m4 4h0m6-6h0m7-17h0m7 29h0m4 5h0m1-36h0m2 36h0m0-25h0m2 18h0m0-4h0m5-14h0m4 21h0m6-9h0m2 2h0m1-13h0m2-7h0m4-5h0m1 29h0m13-10h0m4 11h0m3-1h0m4-22h0m2-6h0m18 25h0m2-25h0m2 20h0m4 12h0m11-35h0m25 5h0m66 6h0m5 27h0m14-10h0m20-19h0m0 10h0m10 4h0m-614 37h0m33 5h0m20-3h0m8-20h0m6 19h0m8 0h0m6-20h0m9 6h0m2 5h0m36 19h0m4-16h0m6 5h0m3 0h0m11 11h0m6-20h0m6-3h0m0 5h0m5-3h0m0 1h0m8-3h0m3 8h0m3 3h0m6 14h0m9-20h0m1 7h0m4-6h0m0 15h0m1-24h0m4 3h0m1 2h0m2 20h0m1-29h0m4 17h0m1 9h0m7-22h0m1 13h0m6 5h0m0 15h0m3-3h0m4-15h0m6 17h0m0-17h0m4 13h0m11-28h0m10 32h0m1-19h0m0 4h0m4-6h0m0 6h0m4-1h0m2-4h0m5 19h0m2-10h0m1-22h0m5 11h0m2 6h0m2-20h0m0 29h0m2-18h0m2 1h0m5 1h0m1 4h0m2 1h0m6-2h0m3-12h0m4 23h0m0-29h0m3 26h0m1-1h0m8 4h0m1-4h0m2-7h0m0-3h0m1-8h0m1 29h0m2-21h0m1-4h0m8 5h0m1-2h0m3 13h0m1 12h0m3-32h0m1 23h0m2-29h0m2 27h0m1 5h0m11-5h0m1-27h0m8 24h0m1-4h0m4 6h0m2 11h0m2-19h0m5 19h0m9-13h0m11-3h0m0 10h0m5-12h0m1 11h0m10-27h0m7 33h0m5-37h0m3 8h0m5 27h0m13-23h0m22 26h0m6-26h0m1 15h0m2-1h0m3 10h0m7-17h0m22 8h0m0 3h0m5-4h0m1 3h0m2-11h0m10-7h0m28 11h0m2 7h0m4-4h0m1-9h0m2-5h0m-570 49h0m18 7h0m27-26h0m5 0h0m10 8h0m9 16h0m2-19h0m0 27h0m5-25h0m3 24h0m1-4h0m5-17h0m11 3h0m1-10h0m1 34h0m9-29h0m5 6h0m22 17h0m3-7h0m1-1h0m1 15h0m1-31h0m11 15h0m0-14h0m1 29h0m4-9h0m10-24h0m3 16h0m0 5h0m1-10h0m4 22h0m1-23h0m3-11h0m4 30h0m4-26h0m2 12h0m4-3h0m2 5h0m4 5h0m1-6h0m12 9h0m7 4h0m1-9h0m2-6h0m2-5h0m0 18h0m2-22h0m5 27h0m2-7h0m2-28h0m2 20h0m1-5h0m1 18h0m3-13h0m4-2h0m5 8h0m13-26h0m0 25h0m0-10h0m6 11h0m4-26h0m1 19h0m1 15h0m0-4h0m5-8h0m3 15h0m0-7h0m8 2h0m1-7h0m1-10h0m1 20h0m1-28h0m1 16h0m3 4h0m3-3h0m12-21h0m1 22h0m3-2h0m2-25h0m1 25h0m1 7h0m1-19h0m6 1h0m0 21h0m6-13h0m3-14h0m0 18h0m0 12h0m0-7h0m4-20h0m3 19h0m0-11h0m1 14h0m2-10h0m1 8h0m0-28h0m4 9h0m7 13h0m6-8h0m1-6h0m6 1h0m3 25h0m2-7h0m6-21h0m14 22h0m1 3h0m1-13h0m2 10h0m3-30h0m6 14h0m0 2h0m1-2h0m2 15h0m1-21h0m1-8h0m3 4h0m6 9h0m1-2h0m3 25h0m1-21h0m1 19h0m1-29h0m8 28h0m0 1h0m5-24h0m2 6h0m3-7h0m5 28h0m1-24h0m9 11h0m0 7h0m10 0h0m6-2h0m3-26h0m7 0h0m1 2h0m14 23h0m12-2h0m39-22h0m2 30h0m5-34h0m10 34h0m9-4h0m-627 48h0m32-32h0m14-2h0m3 1h0m11 21h0m19-15h0m26 4h0m11 14h0m14-27h0m3 23h0m5-13h0m3 5h0m5-15h0m4 15h0m1 7h0m4-24h0m2 4h0m0 30h0m8-32h0m0 25h0m4-16h0m3 9h0m1-20h0m4 24h0m9 1h0m2-12h0m0-1h0m3 26h0m1-34h0m6 8h0m4 22h0m0-15h0m9-6h0m3-14h0m7 9h0m0 8h0m6 0h0m7 0h0m5 21h0m1-31h0m1-4h0m1 18h0m1 10h0m1-27h0m7 4h0m0 0h0m3 14h0m2 14h0m2-20h0m1 17h0m2-22h0m4 14h0m7-18h0m5-1h0m1 12h0m2 7h0m2-23h0m5 33h0m0-35h0m1 23h0m5-11h0m0 7h0m1-11h0m12 5h0m4 6h0m3 1h0m3 18h0m1-38h0m3 21h0m1-16h0m1 33h0m3 1h0m5-25h0m3-12h0m5 10h0m2-3h0m4 6h0m3-3h0m0-2h0m0 14h0m1 1h0m0-1h0m2 14h0m0-30h0m1 5h0m1 12h0m1-9h0m3 17h0m5-15h0m1 13h0m5-23h0m5 8h0m7 13h0m1 0h0m4-3h0m2-21h0m5 1h0m0 21h0m3 8h0m3 4h0m3-27h0m14 3h0m1 18h0m1-20h0m1-3h0m1-8h0m4 15h0m7 7h0m1-24h0m1 37h0m2-5h0m0-28h0m6 8h0m22 7h0m4 7h0m3-19h0m6 0h0m6 11h0m1 4h0m10 5h0m8-24h0m1 30h0m5-21h0m4 25h0m15-20h0m16 3h0m10-15h0m9 20h0m15 0h0m4-24h0m5 0h0m13 34h0m14-10h0m8 2h0m-632 35h0m29 10h0m1-15h0m23 4h0m20-3h0m35 8h0m22-11h0m6-11h0m1 20h0m2-16h0m1 25h0m1-27h0m13 15h0m26 17h0m6-6h0m2-13h0m18 12h0m6 4h0m4-35h0m1 38h0m4-23h0m0 9h0m1-18h0m0 14h0m4 19h0m3-31h0m1 29h0m3-29h0m2 0h0m16-8h0m2 3h0m3 30h0m5-25h0m10 21h0m0 8h0m4-26h0m2-4h0m2 28h0m7-6h0m3 10h0m7-28h0m0 2h0m5 8h0m0-5h0m2 6h0m0-4h0m5-5h0m1-4h0m1 3h0m2 3h0m2-4h0m12 15h0m3-5h0m1-14h0m3 30h0m0-7h0m0-5h0m2 0h0m3 7h0m2-25h0m3-2h0m4 17h0m13-7h0m8-4h0m2 6h0m1 6h0m2-9h0m7 8h0m0-8h0m5 2h0m5-2h0m1-3h0m2-1h0m0-5h0m3 9h0m4 24h0m10-37h0m5 30h0m2 7h0m6-15h0m1-18h0m2 22h0m9 5h0m5-12h0m1-13h0m1 26h0m0-17h0m14 0h0m0-16h0m1 6h0m1 17h0m2-12h0m5 7h0m1 10h0m1 9h0m2-19h0m12-14h0m7 27h0m13 6h0m2-26h0m17 4h0m6 10h0m8-15h0m19 23h0m2-12h0m14-18h0m2 3h0m6 0h0m20 21h0m3-9h0m11 8h0m9 11h0m3-22h0m-590 34h0m26 21h0m12-17h0m28 20h0m5 4h0m12-5h0m2-3h0m4-3h0m8-22h0m4 28h0m17-24h0m8 29h0m21-8h0m6 9h0m2-32h0m2 24h0m3-6h0m4-12h0m14 22h0m15-34h0m1 11h0m2 26h0m1-7h0m13-2h0m5 2h0m7 2h0m0-10h0m0 4h0m1 10h0m3-28h0m0 20h0m4-27h0m1 10h0m11 11h0m2 5h0m3-7h0m1-4h0m4-14h0m3 29h0m4-4h0m2 5h0m6-32h0m0 37h0m4-14h0m3 12h0m4-26h0m1 11h0m0 5h0m1-19h0m8-4h0m2 12h0m1-13h0m1 37h0m2-32h0m1-1h0m2 28h0m2 6h0m7-5h0m0-2h0m2-26h0m2-3h0m0 34h0m0-6h0m2-9h0m1-22h0m4 1h0m10 38h0m0-28h0m1 27h0m0-19h0m1 20h0m1-2h0m7-17h0m4-4h0m4 4h0m0 9h0m5-16h0m4 13h0m6 1h0m5-5h0m8-2h0m0 17h0m6-31h0m7 22h0m0-12h0m5 20h0m2-21h0m6 1h0m4 0h0m1-3h0m0 9h0m8 7h0m2-15h0m0 2h0m1-15h0m1 22h0m1-12h0m2 28h0m0-38h0m1 1h0m2 35h0m9-29h0m0 21h0m7 1h0m2-18h0m4-5h0m3 23h0m14 8h0m15-25h0m1 8h0m4 18h0m5-7h0m0-6h0m5 2h0m1-24h0m6 19h0m19-2h0m17-11h0m3 27h0m12-6h0m2 0h0m3 6h0m24-25h0m9 24h0m13-26h0m-675 66h0m8-4h0m52-32h0m9 25h0m27 4h0m67-4h0m3 6h0m0 8h0m4-37h0m14 18h0m0 11h0m4-17h0m6 11h0m2-5h0m12 3h0m3 12h0m1-7h0m7-7h0m3-1h0m9-1h0m3 5h0m4-8h0m1-5h0m7 22h0m3-24h0m5 11h0m3-20h0m15 3h0m2 5h0m11 31h0m6-30h0m8 24h0m0 3h0m2-16h0m1 3h0m3-6h0m12-3h0m3 18h0m0-27h0m6 8h0m2 11h0m4 12h0m6-29h0m3 6h0m1 22h0m3-9h0m1-5h0m8-8h0m1-5h0m3 10h0m1-14h0m2 8h0m0 10h0m5-5h0m8-11h0m2-6h0m1 11h0m4 10h0m4-11h0m1-9h0m7 5h0m1 22h0m1-1h0m0 1h0m0-3h0m8 2h0m1-25h0m2 24h0m1 3h0m3 10h0m1-8h0m3-25h0m6 19h0m2-19h0m2 19h0m3-4h0m1-12h0m0 2h0m1-7h0m0 4h0m1 13h0m4-2h0m2 1h0m12-12h0m1-6h0m2 37h0m2-11h0m5 7h0m2 4h0m6-9h0m1-26h0m5 35h0m6-35h0m2 10h0m1 24h0m0-13h0m3 7h0m4-29h0m1 17h0m3 10h0m0-12h0m6 2h0m7 14h0m1-17h0m4-15h0m2 8h0m6 23h0m4-28h0m0 5h0m1 13h0m3-11h0m30-3h0m38 9h0m13 9h0m16-11h0m4 20h0m6-22h0m-635 47h0m20-11h0m49 28h0m1-25h0m75 18h0m5-8h0m4-17h0m1-3h0m8-2h0m7 38h0m2-5h0m9-18h0m13 5h0m6-6h0m5 15h0m10-25h0m2 33h0m3-27h0m0 0h0m6 21h0m4-18h0m20 14h0m0 0h0m1-10h0m11 2h0m1 13h0m7-23h0m1 8h0m5 10h0m0-22h0m3 6h0m4 10h0m5-21h0m4 32h0m1-31h0m1 8h0m4 14h0m6-8h0m1 6h0m5-16h0m1 25h0m1-7h0m6-22h0m2 19h0m3-11h0m9 21h0m0-28h0m1 32h0m8-22h0m3 4h0m0-13h0m1 5h0m1-9h0m1 14h0m2 2h0m1 3h0m1-6h0m2-8h0m5 34h0m1-25h0m7-12h0m3 6h0m14 23h0m1 1h0m2-19h0m4-1h0m6 3h0m5 14h0m5-13h0m8 14h0m1-23h0m2-3h0m0 27h0m6-25h0m0-3h0m1-2h0m9 28h0m6-22h0m7 8h0m3 0h0m4 12h0m0 7h0m13-28h0m7-3h0m0 34h0m5-15h0m9-19h0m7 15h0m3 0h0m17 7h0m3-2h0m21 14h0m3-34h0m1 28h0m0-28h0m4 27h0m6-8h0m2 8h0m4-12h0m11-13h0m19 5h0m1 28h0m4-16h0m2-14h0m13 23h0m11 2h0m9-9h0m-596 46h0m14 3h0m56-30h0m11 1h0m67 22h0m29-2h0m1-16h0m2-3h0m5 19h0m1 11h0m22-2h0m4-6h0m3-15h0m18-11h0m5 17h0m7-15h0m2 21h0m3 8h0m0 4h0m6-34h0m4 29h0m14-16h0m2-4h0m9 16h0m2-9h0m2-17h0m5 28h0m3 10h0m2-31h0m5 4h0m0 25h0m3-6h0m3 8h0m8-38h0m3 21h0m1 6h0m2 11h0m2-14h0m5 9h0m5-28h0m2-3h0m1 17h0m3 18h0m2-29h0m1-8h0m5 37h0m1-35h0m7 25h0m2-2h0m2 6h0m2-6h0m1-13h0m5 4h0m3-15h0m0 3h0m2 17h0m7-1h0m3 17h0m2-25h0m2 17h0m3 2h0m1-32h0m6 0h0m3 14h0m1-12h0m5 33h0m2-9h0m5 9h0m3-9h0m1-26h0m3 33h0m3-11h0m2-18h0m5-2h0m12 22h0m3-13h0m6 7h0m1-2h0m7-14h0m4 37h0m11-13h0m5-21h0m9 11h0m1-15h0m2 31h0m6-24h0m4-5h0m13 17h0m5-10h0m14-6h0m6-4h0m1 16h0m10-2h0m1-5h0m4 20h0m9-4h0m6-5h0m-469 55h0m6-30h0m12 29h0m22 3h0m3-29h0m2 22h0m37-5h0m4 12h0m17-23h0m6 23h0m4 0h0m11-9h0m0-6h0m3 1h0m2 15h0m15-9h0m4-24h0m10 12h0m16 20h0m0-23h0m0 5h0m0-15h0m1 11h0m0 19h0m1-33h0m4 36h0m5-1h0m5-22h0m1-11h0m1 25h0m10-26h0m1 33h0m6-19h0m1 3h0m3-6h0m1 22h0m3 1h0m12 3h0m1-9h0m1-3h0m1-11h0m1 12h0m2 8h0m3-7h0m3-3h0m4-7h0m2-5h0m9-5h0m5 5h0m1 2h0m3 6h0m4-8h0m4 1h0m3 24h0m2-18h0m1 14h0m3-15h0m1-4h0m3-14h0m3 4h0m3-2h0m5 5h0m4-1h0m1 9h0m1-8h0m1 22h0m1-27h0m3 11h0m6-6h0m1 27h0m3-19h0m20-7h0m1 25h0m2-3h0m13-20h0m5 2h0m0-3h0m11 2h0m5-12h0m11 38h0m1-21h0m27-15h0m3 33h0m-462 16h0m24 6h0m22 5h0m6-19h0m8 10h0m6 23h0m1-16h0m2 5h0m2 9h0m3-30h0m34 29h0m10 5h0m16-27h0m3 25h0m5-27h0m14 4h0m2 6h0m10-4h0m2 11h0m1 12h0m1-2h0m7-36h0m0 19h0m10-4h0m1-9h0m0 16h0m2-19h0m1 15h0m9 1h0m6-4h0m4 18h0m0 0h0m5-22h0m0-6h0m1 29h0m9 0h0m3-21h0m3 24h0m4-10h0m1 6h0m5-29h0m4 10h0m1-1h0m5 4h0m1 14h0m1-29h0m11 2h0m20 17h0m4-1h0m3-1h0m0 18h0m1-6h0m2 3h0m5-10h0m1 8h0m2-18h0m10 16h0m6-8h0m4 8h0m8-4h0m6 8h0m9-14h0m10-12h0m10 27h0m0-16h0m8-10h0m1-10h0m2 34h0m4-26h0m10 8h0m3-7h0m4-3h0m2 24h0m5-18h0m5 8h0m20-5h0m0-5h0m2-5h0m20 6h0m-360 41h0m14 11h0m22-10h0m12-2h0m11-11h0m2 1h0m2 7h0m4 21h0m4-22h0m1 7h0m4 2h0m0 0h0m2-15h0m14 22h0m5-4h0m5-5h0m2 10h0m7-5h0m11-9h0m4 6h0m4-2h0m32-9h0m7 7h0m7 14h0m4-3h0m3-12h0m1-1h0m8 9h0m6-3h0m3-10h0m18-3h0m0 5h0m1 11h0m17-7h0m4-8h0m3 10h0m4 0h0m12-10h0m27-2h0" stroke="#1a6633" stroke-width="17.6" stroke-linecap="round" fill="none"/>
<path transform="scale(.1)" d="M1181 3439h0m52 0h0m3-6h0m1 4h0m11-3h0m4 0h0m22 4h0m-218 34h0m26-9h0m0-2h0m6 16h0m7-3h0m9 4h0m2-24h0m7-8h0m4 6h0m7-9h0m13 21h0m3-5h0m5-8h0m5 24h0m7-33h0m6 22h0m2-19h0m1 34h0m5-1h0m1-16h0m0-6h0m6-9h0m0 4h0m3 27h0m3-35h0m3 4h0m6 25h0m7-7h0m0-5h0m4 13h0m1-29h0m11 21h0m2 14h0m0-19h0m4-3h0m1-12h0m1-4h0m1 31h0m1-31h0m4 26h0m1-2h0m1-11h0m2 23h0m0-36h0m2 25h0m3-3h0m1-12h0m4 22h0m0-33h0m1 2h0m8 0h0m2 29h0m1-19h0m2 1h0m13 6h0m0 17h0m7-5h0m2 6h0m2-21h0m5 10h0m4 11h0m2-18h0m3 13h0m13-7h0m2 5h0m7 2h0m-328 19h0m16-2h0m2 1h0m2 23h0m1-23h0m0 2h0m3 11h0m6-5h0m3 7h0m14 14h0m0-33h0m6 31h0m0-22h0m4 10h0m1-22h0m2 8h0m4 19h0m2-19h0m1 18h0m1-5h0m7-19h0m6 7h0m1 24h0m1-21h0m0-7h0m2 24h0m1-6h0m1-26h0m5 35h0m0-27h0m2 17h0m6 2h0m2 0h0m1-27h0m5 8h0m2-4h0m0 31h0m6 1h0m0 3h0m2-38h0m5 38h0m5-37h0m3 21h0m4-21h0m2 17h0m0-10h0m1 27h0m16-13h0m3-14h0m2 18h0m9 3h0m4-20h0m11 25h0m6-20h0m1-7h0m4 4h0m1 11h0m8-21h0m5 14h0m2 16h0m6-23h0m10 21h0m1-23h0m0 3h0m1 2h0m8 20h0m1-4h0m8-4h0m12-18h0m4 6h0m5-5h0m4 10h0m4-4h0m4 0h0m3 2h0m2-12h0m5 1h0m2 14h0m10 4h0m5-20h0m2 26h0m4-27h0m1 12h0m1-1h0m5 7h0m1-1h0m4 7h0m2-6h0m9-7h0m4-11h0m1 30h0m19-13h0m-334 25h0m21-1h0m5 2h0m6 1h0m4 1h0m27-2h0m3-4h0m18 9h0m1 12h0m18-2h0m18 4h0m6-15h0m1 5h0m10 10h0m2 1h0m1-6h0m0 15h0m14-20h0m2 20h0m3-29h0m4 30h0m3-28h0m2 12h0m2 4h0m0 4h0m2 0h0m1-19h0m0-6h0m6 34h0m0-16h0m2 2h0m2-9h0m0 25h0m10-20h0m3-5h0m8-11h0m2 6h0m2 18h0m1 10h0m1-25h0m0 14h0m7-16h0m3-4h0m5 12h0m4-9h0m8 24h0m9-8h0m0-15h0m1 7h0m3-13h0m3 28h0m5-21h0m2-5h0m5 6h0m4 7h0m1-3h0m0-8h0m0 18h0m9 6h0m3-6h0m2-22h0m5 32h0m14-15h0m5-5h0m6 10h0m7 0h0m2 4h0m2 4h0m7-11h0m5 5h0m2 7h0m3-16h0m1-4h0m0 7h0m5 12h0m1-31h0m2 29h0m5-9h0m7 11h0m0-6h0m-205 17h0m4 5h0m14-8h0m11 19h0m8-2h0m2-6h0m13-3h0m7 5h0m1 1h0m17 3h0m8 7h0m1-9h0m1 3h0m0-4h0m7 10h0m2-6h0m2-6h0m1-9h0m2 23h0m0 11h0m4 1h0m2-12h0m8-11h0m0 10h0m1-12h0m2-6h0m4 11h0m1-7h0m5 25h0m2-2h0m6-13h0m5-11h0m0 15h0m2-25h0m0 6h0m6-3h0m8 23h0m1 3h0m2-12h0m9-15h0m1 22h0m0-13h0m1-5h0m3 22h0m0-22h0m3 6h0m1-7h0m3 6h0m20 9h0m9 6h0m1 1h0m0-11h0m11 10h0m2-8h0m-138 26h0m21-1h0m8 11h0m8 2h0m8-11h0m2 16h0m5-21h0m13 26h0m0-3h0m2-23h0m0 18h0m10-14h0m0 6h0m2 4h0m0 6h0m8 9h0m3-11h0m5-13h0m6 4h0m0 17h0m3-19h0m5 5h0m1-4h0m8 3h0m0 11h0m1 8h0m0-9h0m3-20h0m8 3h0m2 8h0m1 2h0" stroke="#36658a" stroke-width="17.6" stroke-linecap="round" fill="none"/>
<path transform="scale(.1)" d="M1560 4298h0m2 10h0m5 9h0m13-16h0m-76 50h0m7-22h0m3 15h0m3-19h0m2 15h0m2 0h0m2 14h0m7-23h0m3-11h0m3 35h0m22-19h0m3 6h0m13 7h0m2-17h0m13 26h0m20-32h0m-119 70h0m3-27h0m0-1h0m13 9h0m4 19h0m2-21h0m5 10h0m3-7h0m8-14h0m2 31h0m1-17h0m3-10h0m1 27h0m4-28h0m10 10h0m19 6h0m12 2h0m14-13h0m1 14h0m17-14h0m5-1h0m3 11h0m4 5h0m0 8h0m-133 40h0m12-23h0m6-3h0m8 24h0m18-32h0m8 14h0m8 17h0m4-11h0m0-9h0m5 17h0m11-3h0m18-2h0m4-16h0m11-3h0m3 32h0m3-11h0m5 7h0m10-24h0m4-8h0m-128 52h0m0 1h0m10-4h0m17-5h0m2 25h0m1 1h0m9-1h0m3-3h0m7-21h0m4 18h0m1-16h0m2-4h0m13 15h0m1-10h0m4 10h0m1 14h0m9 5h0m10-14h0m10-13h0m6-6h0m4-5h0m-88 41h0" stroke="#8d1c1e" stroke-width="17.6" stroke-linecap="round" fill="none"/>
<path transform="scale(.1)" d="M944 3530h0m-6 43h0m17 6h0m-23 241h0m-39 185h0m32 268h0m5 40h0m-10 10h0m-31 76h0m26 3h0m-38 39h0m30 75h0" stroke="#d0543a" stroke-width="17.0" stroke-linecap="round" fill="none"/>
<path d="M85.2 346.4C85.2 345.2 84.2 344.7 91.3 343.3C98.5 341.9 120.6 337.6 128.1 337.8C135.6 337.9 134.1 341.5 136.3 344.3C138.5 347.1 140.5 351.8 141.4 354.5C142.2 357.3 142.2 358.6 141.4 360.7C140.5 362.7 138.2 365.6 136.3 366.8C134.4 368.0 132.9 368.2 130.2 367.8C127.4 367.5 123.7 366.3 119.9 364.7C116.2 363.2 112.4 361.0 107.7 358.6C102.9 356.2 95.1 352.5 91.3 350.4C87.6 348.4 85.2 347.5 85.2 346.4Z" fill="none" stroke="#111" stroke-width="1.1" stroke-dasharray="3 2.2"/>
<path d="M42.3 368.8C46.4 365.9 55.2 363.8 60.7 363.3C66.1 362.8 71.6 364.5 75.0 365.8C78.4 367.0 79.9 368.3 81.1 370.9C82.3 373.4 80.8 375.3 82.1 381.1C83.5 386.9 88.1 398.1 89.3 405.6C90.5 413.1 90.3 419.6 89.3 426.1C88.3 432.5 84.8 439.7 83.1 444.5C81.4 449.2 81.1 453.3 79.1 454.7C77.0 456.0 74.3 454.3 70.9 452.6C67.5 450.9 62.7 447.9 58.6 444.5C54.5 441.1 49.8 437.0 46.4 432.2C42.9 427.4 40.2 421.6 38.2 415.8C36.1 410.1 34.4 403.2 34.1 397.5C33.7 391.7 34.8 385.9 36.1 381.1C37.5 376.3 38.2 371.8 42.3 368.8Z" fill="none" stroke="#111" stroke-width="1.1" stroke-dasharray="3 2.2"/>
<path d="M85.2 346.4C84.5 347.7 82.0 350.8 81.1 354.5C80.2 358.3 80.2 366.5 80.1 368.8" fill="none" stroke="#111" stroke-width="1.1" stroke-dasharray="3 2.2"/>
<path d="M79.1 454.7C79.2 456.0 78.0 460.5 80.1 462.9C82.1 465.2 85.4 467.8 91.3 469.0C97.3 470.2 109.0 470.4 115.8 470.0C122.7 469.7 128.1 468.5 132.2 466.9C136.3 465.4 138.0 463.2 140.4 460.8C142.8 458.4 144.5 454.3 146.5 452.6C148.6 450.9 149.9 451.6 152.6 450.6C155.4 449.6 160.8 448.2 162.9 446.5C164.9 444.8 165.2 443.4 164.9 440.4C164.6 437.3 162.5 431.9 160.8 428.1C159.1 424.4 156.0 420.6 154.7 417.9C153.3 415.2 154.3 415.2 152.6 411.8C150.9 408.4 147.2 402.6 144.5 397.5C141.7 392.3 138.7 386.0 136.3 381.1C133.9 376.2 131.2 370.0 130.2 367.8" fill="none" stroke="#111" stroke-width="1.1" stroke-dasharray="3 2.2"/>
<path d="M154.7 417.9C153.8 419.6 150.8 424.4 149.6 428.1C148.4 431.9 148.0 436.3 147.5 440.4C147.0 444.5 146.7 450.6 146.5 452.6" fill="none" stroke="#111" stroke-width="1.1" stroke-dasharray="3 2.2"/>
<path transform="scale(.1)" d="M1865 3678h0m15-11h0m0 8h0m7-4h0m12-2h0m16-10h0m17 20h0m7-32h0m2 32h0m5-31h0m0 17h0m5 10h0m17-24h0m1 27h0m8-24h0m5-8h0m9 9h0m7 21h0m0-11h0m9 0h0m4-21h0m2 27h0m9 6h0m19-10h0m18-3h0m2-16h0m6 14h0m4-7h0m8-5h0m8-2h0m7 6h0m0 19h0m4-19h0m5 14h0m9-13h0m32 18h0m-339 45h0m12-13h0m10 13h0m9-10h0m4 3h0m8-23h0m7 15h0m1-23h0m10 34h0m31-18h0m2 12h0m19-2h0m11 4h0m1 0h0m2-5h0m4-1h0m11-19h0m4 5h0m5 11h0m4 12h0m4-17h0m10 0h0m8-5h0m4 9h0m25-4h0m7 17h0m16-21h0m1-10h0m1 3h0m10 4h0m8 13h0m5 1h0m1-12h0m30-2h0m10 8h0m9 2h0m16-3h0m1-4h0m18 24h0m-355 38h0m9-27h0m4 15h0m1 5h0m9-24h0m6 35h0m11-2h0m5-19h0m6-3h0m6 22h0m5-32h0m13-4h0m5 14h0m9 23h0m18-25h0m2-12h0m7 36h0m1-3h0m9-6h0m4-27h0m19 8h0m13 17h0m1 4h0m0-26h0m2 9h0m1 6h0m6 16h0m10 5h0m6-17h0m19 11h0m22-23h0m6 27h0m13-6h0m9-11h0m4-17h0m2 28h0m3-2h0m5-23h0m1 2h0m13 23h0m15-17h0m3-8h0m9 18h0m7-3h0m14 15h0m1-25h0m20 3h0m0 1h0m12 21h0m16-23h0m1 13h0m0-15h0m-356 63h0m11 2h0m3-11h0m22-11h0m10 6h0m28-17h0m5 32h0m29-33h0m5 11h0m6 19h0m0-9h0m6-7h0m14-1h0m9-9h0m7 2h0m5 31h0m3-8h0m8-27h0m12-1h0m23 26h0m7 5h0m3-5h0m11-23h0m32 11h0m13 22h0m1 0h0m1-18h0m5-14h0m26 0h0m19 4h0m21-3h0m22-1h0m-416 52h0m2-1h0m7-6h0m12-7h0m26 30h0m6-27h0m4 17h0m9-13h0m13 0h0m2-1h0m4 18h0m5-13h0m4-5h0m19-4h0m1 28h0m3-25h0m3-1h0m1 22h0m2-7h0m10 15h0m4-8h0m4 1h0m31 7h0m5-31h0m13 20h0m1-7h0m8-2h0m6 11h0m19-18h0m5 11h0m2 5h0m2-11h0m6-11h0m3 21h0m7-12h0m0 8h0m6-14h0m4-8h0m19 35h0m8-8h0m8 7h0m2-30h0m11-2h0m2 17h0m0-1h0m1 12h0m14-31h0m0 4h0m9 2h0m28 19h0m8 3h0m10-12h0m26 22h0m8-4h0m-392 16h0m4 2h0m0 10h0m7-22h0m7 18h0m13 11h0m4-2h0m4 3h0m21 3h0m3-14h0m1-10h0m17 22h0m0 3h0m5-22h0m7 6h0m3 6h0m1 0h0m1-23h0m6 12h0m12 22h0m4-32h0m2 2h0m7 16h0m0-11h0m0 8h0m2 17h0m2-31h0m6 19h0m0 5h0m3 5h0m6-21h0m4 25h0m2-29h0m13 18h0m27 13h0m47-8h0m2-27h0m5 4h0m4-8h0m4 29h0m2-7h0m8 5h0m3 1h0m6-1h0m0-21h0m9 12h0m2-13h0m2-2h0m5-3h0m16 11h0m13 20h0m5-19h0m5 4h0m6-2h0m39 13h0m5-15h0m23 2h0m2-6h0m9 16h0m0 7h0m3-13h0m-446 40h0m2 21h0m0-35h0m4 0h0m15 6h0m5 10h0m0 7h0m10 0h0m34 2h0m8-20h0m6-7h0m2 8h0m2 0h0m4 9h0m2 9h0m2 5h0m6-27h0m16-5h0m14 31h0m5-5h0m4-6h0m2-14h0m7 13h0m23-18h0m3 9h0m1 2h0m2 25h0m7-33h0m0 3h0m5 19h0m23-24h0m6 6h0m5 29h0m9-4h0m4 3h0m5-18h0m11-16h0m5 28h0m22-30h0m0 16h0m1 9h0m16-16h0m5 10h0m36-7h0m9 5h0m10-3h0m8 8h0m0-7h0m24-3h0m10-7h0m7 14h0m3-4h0m0 15h0m2-5h0m10-11h0m37-3h0m1 7h0m-452 58h0m7-24h0m1 6h0m15-2h0m0-6h0m6 0h0m2 20h0m19 3h0m13-26h0m5 9h0m3 18h0m5-21h0m4 4h0m1 15h0m2 6h0m2-2h0m0-20h0m7 10h0m2 6h0m3 3h0m7-25h0m9 18h0m1-20h0m4 4h0m1 3h0m0 15h0m1-24h0m6 2h0m3-5h0m2 24h0m3-5h0m2 4h0m12-13h0m1 3h0m6 1h0m3 13h0m6-29h0m1 27h0m4 3h0m3-10h0m7 14h0m9-3h0m1-30h0m0 19h0m1-13h0m1 28h0m4-4h0m2-3h0m1-25h0m3 15h0m21-2h0m11 12h0m24-18h0m12 17h0m24 7h0m4-24h0m3-1h0m1 27h0m7-31h0m1 13h0m6-13h0m0 3h0m9-1h0m18 0h0m8-3h0m7 21h0m44 12h0m3-13h0m5-14h0m19-11h0m4 24h0m14 5h0m12-10h0m-448 30h0m9 23h0m1-32h0m4 30h0m27 7h0m4-13h0m7-8h0m9-11h0m7 28h0m10 0h0m7-1h0m4-4h0m4 4h0m3 3h0m5-21h0m6 6h0m2 16h0m1-33h0m2 10h0m10-8h0m4 6h0m1 1h0m2 9h0m1 5h0m1-21h0m8 32h0m5-23h0m2-12h0m9 7h0m5 16h0m2-18h0m13 11h0m5-1h0m6 19h0m8-18h0m2 15h0m14-19h0m1 10h0m12 7h0m23-6h0m2 5h0m1-3h0m9-20h0m5-1h0m1 20h0m9-2h0m3-18h0m0 14h0m12 8h0m7-1h0m6 5h0m12-25h0m3 8h0m3 16h0m29-10h0m4-11h0m2 2h0m17 21h0m11-30h0m53 31h0m1-23h0m1 24h0m4-16h0m2-19h0m1 9h0m6 7h0m6-15h0m2 29h0m14-9h0m1-6h0m2 16h0m-483 35h0m2 7h0m19 3h0m13-19h0m3 21h0m14-7h0m1-14h0m4-16h0m2 6h0m1 8h0m9 16h0m6-5h0m5-9h0m1 21h0m0-24h0m3-1h0m0 9h0m8-17h0m3-3h0m5-1h0m15-1h0m3 31h0m1 6h0m12-16h0m2-19h0m3 5h0m2 7h0m15 18h0m6-3h0m3-3h0m5-3h0m2-9h0m2 3h0m3-9h0m1 14h0m0 1h0m2 3h0m1-5h0m20-5h0m10 9h0m2 6h0m8-1h0m5-12h0m21 4h0m6 5h0m27-19h0m3 20h0m1-29h0m1 6h0m12 31h0m8-5h0m19-2h0m10-23h0m2 24h0m49-3h0m2 9h0m16-22h0m16-2h0m5 18h0m3-25h0m8-4h0m3 6h0m16 17h0m12-6h0m6 7h0m12-9h0m-455 61h0m11-29h0m11 30h0m8-32h0m8 31h0m1 1h0m15-25h0m4 7h0m7-4h0m7 14h0m3-24h0m0 6h0m7-12h0m5 26h0m7 2h0m1-17h0m1-6h0m5 27h0m2 2h0m3-27h0m1 27h0m9-12h0m5 10h0m1-25h0m13 26h0m1-4h0m0 8h0m10-30h0m7 10h0m10-9h0m10 0h0m8 15h0m2 10h0m16-9h0m7-6h0m5 1h0m1-1h0m3-10h0m5 15h0m7 12h0m5-32h0m14 17h0m0-15h0m13 22h0m8 5h0m6-21h0m22 17h0m4 4h0m2-32h0m2 11h0m1 25h0m16-18h0m2-4h0m4 5h0m7-5h0m13 2h0m20 9h0m8 7h0m8-1h0m7-32h0m6 26h0m22-4h0m11-3h0m7-13h0m22 19h0m15 4h0m6-17h0m-492 56h0m0-9h0m1-12h0m8 24h0m2-27h0m9 9h0m3 4h0m11-3h0m0-5h0m23 23h0m1-28h0m3 22h0m0-1h0m5 10h0m1-15h0m6 12h0m1-3h0m7-7h0m6 14h0m1-1h0m4 0h0m3-2h0m1 4h0m3-1h0m4 2h0m5-11h0m2 1h0m1-21h0m3 31h0m4-11h0m12-6h0m3 0h0m3-9h0m3-11h0m3 10h0m6 27h0m3-31h0m2 17h0m1-22h0m0 12h0m8 9h0m3-17h0m1 5h0m3-3h0m8 23h0m2-28h0m1 11h0m1 12h0m4 13h0m4-2h0m0-28h0m1 10h0m1 12h0m1-13h0m0-5h0m10 8h0m13 16h0m1-5h0m2-15h0m3-16h0m3 23h0m6-4h0m7-7h0m3 23h0m4-26h0m10 16h0m9 2h0m7-7h0m8-17h0m11 9h0m5 9h0m7-15h0m20-2h0m4 11h0m0 20h0m1-34h0m16 26h0m5-3h0m23-5h0m9-12h0m11 10h0m0-18h0m11 16h0m20-7h0m3 23h0m16 7h0m11-38h0m19 17h0m3-16h0m5 31h0m11 3h0m3-4h0m10-15h0m2-3h0m-485 27h0m3 2h0m1 29h0m8-14h0m1-13h0m2 1h0m15 11h0m0 19h0m3-4h0m1 4h0m14-9h0m3-12h0m13-10h0m4 27h0m1-1h0m3-1h0m5 8h0m2-30h0m2 27h0m4-15h0m1 3h0m3-20h0m12 20h0m2 12h0m1-27h0m2 27h0m7-12h0m1 2h0m1 9h0m7-14h0m2-12h0m6 11h0m5-12h0m1 21h0m3-1h0m0 3h0m26 1h0m7-10h0m3-3h0m2 0h0m1-7h0m18 19h0m2 7h0m8-4h0m11-24h0m2 0h0m2 18h0m0-5h0m4-18h0m2 5h0m2 22h0m7-18h0m5 11h0m3 1h0m38 9h0m0-10h0m23 3h0m6 0h0m36-19h0m12 21h0m4-3h0m4-20h0m10 33h0m11-14h0m5 10h0m15-10h0m33-24h0m6 24h0m8-19h0m29 3h0m6 16h0m-482 27h0m17-1h0m9-10h0m4 32h0m1-12h0m6-11h0m4 2h0m6-11h0m2 29h0m0 0h0m2-21h0m3 19h0m9-27h0m10 34h0m4 0h0m10-34h0m5 20h0m1-9h0m2-7h0m17 15h0m17-12h0m14 19h0m1 12h0m2-13h0m18-7h0m8 1h0m5-14h0m9 5h0m4-3h0m0 28h0m3-9h0m9-21h0m9 13h0m2 5h0m0-22h0m2 34h0m6-2h0m7-7h0m11-4h0m5-16h0m9 29h0m7-10h0m0-11h0m6-12h0m12 36h0m2-3h0m17-5h0m4 0h0m28-10h0m8-1h0m7-7h0m19-10h0m7 30h0m2-32h0m39 30h0m5-17h0m3-1h0m0-12h0m4 34h0m8-26h0m1-2h0m4 30h0m6-5h0m2-14h0m2 9h0m13 4h0m-438 17h0m4 11h0m0-16h0m8-3h0m1 36h0m4-21h0m3 6h0m0 14h0m1-11h0m0-16h0m1-6h0m4 35h0m10-13h0m5 11h0m6-11h0m2-18h0m10 8h0m12-4h0m1 8h0m3 0h0m19-6h0m2 2h0m11 17h0m1-27h0m1 14h0m6 10h0m1-17h0m7-2h0m7 13h0m6-8h0m9-8h0m10 32h0m3-24h0m3 12h0m7 4h0m18-20h0m1 26h0m1-1h0m7-4h0m8-22h0m0 24h0m17 1h0m1 2h0m5-24h0m5 15h0m1-11h0m2-2h0m17 18h0m21-25h0m12 13h0m15 0h0m10 12h0m5-5h0m30-6h0m10-14h0m25 24h0m23-22h0m12-2h0m8 28h0m39-5h0m-440 37h0m6 5h0m5-17h0m6 4h0m1-10h0m3 0h0m1-7h0m4 15h0m6 11h0m2 0h0m1-21h0m3 8h0m2 23h0m1-1h0m12-27h0m23 27h0m2-36h0m1 19h0m5-15h0m2 33h0m3-26h0m3 19h0m4 6h0m1-27h0m2-3h0m19 12h0m3 4h0m6 12h0m29-26h0m3 25h0m1-25h0m6 16h0m1-17h0m12 31h0m6-25h0m14 16h0m6-15h0m4 20h0m11-20h0m2-8h0m41 5h0m6 27h0m12-9h0m33-1h0m0-16h0m8-11h0m11 0h0m4 7h0m2 2h0m12-9h0m28 22h0m7-5h0m22 14h0m3 2h0m9-1h0m4 4h0m3-12h0m5-15h0m-407 47h0m2-11h0m5-1h0m2 12h0m5 0h0m2-5h0m5 15h0m5-7h0m3-21h0m0 14h0m1-10h0m5 4h0m10 17h0m0 4h0m2 1h0m12-5h0m4 4h0m0 8h0m7-1h0m0-23h0m0 19h0m1-25h0m2 4h0m1-7h0m5 34h0m1-26h0m1 4h0m2 9h0m2 14h0m2-35h0m2 13h0m1 8h0m9-8h0m0 10h0m15-13h0m13-2h0m4-9h0m10 13h0m5 21h0m2-26h0m11-9h0m4 29h0m3 0h0m10-8h0m12 14h0m3-11h0m6-7h0m7-6h0m8-10h0m21 9h0m1-12h0m10 23h0m1-12h0m17 23h0m1-3h0m2-12h0m29 15h0m31-4h0m43 3h0m-337 12h0m15 10h0m2 23h0m3-26h0m10 14h0m1-3h0m4 1h0m13-16h0m12 27h0m9-5h0m2-23h0m9 12h0m19 6h0m9-12h0m5-4h0m4 27h0m7-25h0m3 20h0m3-9h0m0 10h0m6-22h0m5-5h0m0 16h0m2-13h0m9 25h0m8-18h0m31 6h0m8 8h0m4 10h0m1-39h0m16 13h0m5-1h0m2 7h0m1-11h0m4 15h0m9 10h0m14-15h0m5 20h0m39-12h0m20-24h0m10 34h0m13-16h0m-309 36h0m5 0h0m2-8h0m9 1h0m2 23h0m4-9h0m2 10h0m4-19h0m0 5h0m12-6h0m9 16h0m6 8h0m3-36h0m3 8h0m5 21h0m4-16h0m24 13h0m2-14h0m5 9h0m10-1h0m19 14h0m2-19h0m2-4h0m2 20h0m4-23h0m2 26h0m1 0h0m12-1h0m4-21h0m9-7h0m1 23h0m0-24h0m14 20h0m9-10h0m5-6h0m0 24h0m21-11h0m14-6h0m2 16h0m14-4h0m20-15h0m6 12h0m-218 41h0m8-5h0m3-19h0m4 15h0m0-11h0m6-1h0m3 19h0m1 14h0m17 1h0m17 0h0m1-30h0m9 17h0m1-4h0m8-5h0m1-15h0m3 20h0m12 11h0m0-11h0m6-10h0m23 7h0m6-1h0m20 16h0m25-10h0m10-3h0m12 0h0m8 13h0m-150 28h0m6-2h0m9-5h0m30 10h0m1-8h0m7-15h0m1 19h0m16-7h0m27-14h0m21 15h0m2-3h0m4 22h0m1-6h0m9 9h0m-116 5h0m38 5h0m10 1h0m12-4h0m17 26h0m18-20h0m4-7h0m3 11h0m19-7h0m8-5h0" stroke="#d0543a" stroke-width="17.6" stroke-linecap="round" fill="none"/>
<path transform="scale(.1)" d="M2241 3517h0m-46 38h0m4-17h0m27 19h0m15-18h0m11 13h0m9-6h0m3-19h0m3 21h0m3-12h0m2 7h0m4-11h0m2 14h0m20-12h0m16 18h0m8-11h0m3-8h0m22 24h0m7-11h0m2 0h0m-164 39h0m0 6h0m5-19h0m10 18h0m8-7h0m1-21h0m33 37h0m11-29h0m12-10h0m2 20h0m6-16h0m20 27h0m10-6h0m3 11h0m7-35h0m1 21h0m2 6h0m8 4h0m16-3h0m1-3h0m1 4h0m1-19h0m2 9h0m1-10h0m3 27h0m3-26h0m4-1h0m6 11h0m0-11h0m9 10h0m13 9h0m3-1h0m3-17h0m12 22h0m4-13h0m-243 43h0m19-7h0m15 15h0m3 4h0m17-5h0m7-21h0m33 21h0m0 9h0m2-24h0m5-7h0m4 4h0m1 13h0m4 7h0m1-7h0m14-15h0m27 1h0m3 21h0m4 7h0m3-11h0m9-1h0m24-21h0m17 7h0m14-7h0m5 27h0m2 1h0m10-9h0m2-5h0m11 6h0m31-19h0m10 27h0m12-2h0m0-11h0m1-8h0m9 26h0m-290 28h0m15-24h0m1 36h0m5-17h0m9-18h0m1 0h0m3 24h0m28 7h0m11-4h0m18-4h0m3 8h0m40-25h0m3 19h0m0 5h0m5-13h0m36 9h0m24 9h0m4-31h0m6 21h0m6 1h0m7 9h0m7-22h0m1-14h0m27 20h0m11 13h0m2-34h0m4 10h0m4 10h0m14 11h0m3-14h0m12 4h0m19 6h0m8-24h0m7 24h0m12-13h0m45 10h0m0 12h0m30-2h0m-467 24h0m2 12h0m16-13h0m20 13h0m25-10h0m7 4h0m7 11h0m12-9h0m5-14h0m11 2h0m0 17h0m0-3h0m9-15h0m11 21h0m10-30h0m6 6h0m28 19h0m13-22h0m3 27h0m52-6h0m26-25h0m7 1h0m5 30h0m3-17h0m3 9h0m7-3h0m7-8h0m1 20h0m3-23h0m3 9h0m4-21h0m5 10h0m5 11h0m9 13h0m2-1h0m4-2h0m22-18h0m29-8h0m1 31h0m6-6h0m1 0h0m2-11h0m2-13h0m5 16h0m7 9h0m12-2h0m5 8h0m7-16h0m0-16h0m4 31h0m2-3h0m4-33h0m4 13h0m4 16h0m2-14h0m7-14h0m19 0h0m16 29h0m-490 14h0m5-5h0m5 35h0m29-1h0m2-30h0m12 19h0m15-24h0m3 39h0m2-10h0m14-10h0m0-13h0m38 24h0m23-9h0m2-16h0m1-2h0m5 8h0m5-1h0m0 25h0m0-3h0m3 5h0m6-11h0m10 4h0m8-12h0m15 0h0m4-7h0m6 25h0m6-32h0m4 33h0m8-30h0m5 16h0m4-16h0m1-4h0m4 22h0m2-22h0m2 14h0m4-11h0m6 8h0m5 20h0m14-20h0m8 12h0m2-8h0m1 16h0m10-10h0m4 3h0m9-14h0m2-11h0m6 24h0m10 2h0m1 9h0m1-1h0m1-30h0m11 3h0m18 13h0m0-12h0m40 27h0m3-9h0m11-6h0m0-16h0m15 9h0m5-5h0m15 2h0m7 14h0m0-6h0m1 10h0m7-1h0m11 9h0m18-12h0m2 3h0m16 8h0m7 1h0m2-22h0m10 12h0m0-1h0m-527 47h0m5-28h0m37 33h0m3-31h0m1-3h0m1 10h0m22 7h0m2 13h0m6-29h0m25 28h0m14-12h0m0 16h0m14-21h0m12 21h0m1-1h0m12-14h0m0-11h0m3-2h0m19 23h0m20-33h0m4 16h0m11 3h0m6 3h0m11 4h0m20 2h0m20-19h0m3 4h0m2 25h0m10-35h0m4 33h0m10-1h0m11-27h0m2 9h0m7 0h0m41 6h0m7 11h0m7-19h0m13-3h0m2 1h0m6 12h0m3 4h0m0-22h0m7 26h0m9-19h0m5 1h0m1 1h0m30-16h0m1 37h0m8-19h0m5-17h0m14 11h0m5 27h0m23-11h0m19-25h0m26 28h0m14 5h0m-550 34h0m5-17h0m1-13h0m9 10h0m20 29h0m2-3h0m1-20h0m18 17h0m0-7h0m7-17h0m22-9h0m14 13h0m0 26h0m0-16h0m22 4h0m1 10h0m23-1h0m13-24h0m1 6h0m8-11h0m10 3h0m6 3h0m9 8h0m12 11h0m17-25h0m27 16h0m4 15h0m7-3h0m12-6h0m1-1h0m3-22h0m4 28h0m10 2h0m29-32h0m13 31h0m9-33h0m4-2h0m7 27h0m29-13h0m0 6h0m5-20h0m2 22h0m10 15h0m31 0h0m9 1h0m20-9h0m1-17h0m0 25h0m1-32h0m10 17h0m4 11h0m2-24h0m9 17h0m22-18h0m17 8h0m4-15h0m19 15h0m0-15h0m3 13h0m5-12h0m2-2h0m-540 65h0m11 8h0m4 6h0m5-1h0m14-16h0m0 8h0m6 3h0m5-8h0m0 1h0m1 11h0m3-7h0m6-22h0m16-6h0m1 34h0m3-16h0m4-2h0m8-5h0m2 0h0m2-11h0m14 19h0m1-3h0m10 9h0m34 3h0m4-24h0m7 28h0m4-15h0m19-8h0m6 12h0m5 8h0m26 1h0m8-18h0m2 20h0m49-33h0m4 33h0m4-20h0m5 21h0m3-10h0m8-14h0m0 0h0m6 16h0m2 2h0m1 10h0m6-16h0m9-22h0m30 26h0m4 3h0m3-22h0m3 10h0m8 16h0m1-33h0m35 38h0m2-6h0m3-14h0m5 17h0m5-16h0m2 11h0m4-10h0m1-11h0m0-7h0m2 2h0m7 18h0m6-10h0m2-3h0m2 27h0m5-31h0m4 16h0m15-3h0m11 2h0m7 10h0m4-2h0m1 10h0m3-5h0m2-29h0m0 25h0m4-19h0m2 10h0m4-20h0m2 18h0m21-2h0m5-15h0m5 12h0m9 23h0m7-23h0m11 17h0m4-14h0m-574 39h0m4-13h0m7 1h0m3 31h0m15-23h0m6-10h0m0 10h0m12-12h0m4 17h0m1 16h0m7-5h0m3 10h0m3-28h0m23-2h0m0 11h0m1 6h0m10-13h0m6-11h0m0 36h0m10-32h0m1 10h0m6-13h0m4 6h0m7-6h0m2 28h0m15-1h0m10-19h0m11-7h0m14 36h0m44-3h0m15-21h0m13 14h0m2-24h0m11-3h0m7 31h0m19-26h0m0 7h0m2-4h0m9 0h0m2-5h0m0 9h0m2 9h0m12-3h0m1-8h0m1 10h0m1-7h0m3-15h0m2 21h0m6-4h0m0 1h0m7-5h0m22-9h0m1 19h0m6 14h0m10-4h0m8-33h0m1 1h0m6 9h0m3-1h0m5 17h0m5 2h0m15-5h0m28 13h0m3-24h0m1-11h0m16 30h0m0 4h0m2-19h0m6 8h0m4-2h0m5-8h0m0 17h0m5-17h0m10 13h0m0 10h0m16-36h0m5 35h0m7-34h0m3 32h0m4-32h0m26 36h0m5-17h0m8-14h0m20 29h0m0-1h0m-568 5h0m5 4h0m14 31h0m8-33h0m6 5h0m3 23h0m9-25h0m9 32h0m0-3h0m5-31h0m13 11h0m18-5h0m41-3h0m10 2h0m22 29h0m13-21h0m1 15h0m4-1h0m45 6h0m0-6h0m7-23h0m1 28h0m3-10h0m11-25h0m16 39h0m10-5h0m6-31h0m1 8h0m0 14h0m8-17h0m5 28h0m5-15h0m5-8h0m11 3h0m9-3h0m1 2h0m12 15h0m4-24h0m21 6h0m15-5h0m0 18h0m7-10h0m10 20h0m8-32h0m4-2h0m11 35h0m4-17h0m3-14h0m8 10h0m1 21h0m8-16h0m44 13h0m0 2h0m1-19h0m6-6h0m5-7h0m6 14h0m9 1h0m6 7h0m9-6h0m0 12h0m2-15h0m22-6h0m3 27h0m7-14h0m15-12h0m8 24h0m2-4h0m7-17h0m-579 34h0m4-2h0m22 31h0m8-10h0m2 4h0m18-19h0m2 15h0m12 0h0m8 10h0m5-16h0m9-6h0m2 16h0m0-25h0m2 28h0m4 5h0m9-25h0m5 22h0m12-19h0m25 18h0m12-22h0m2 6h0m26 11h0m8 1h0m11 4h0m10-3h0m4-1h0m7-22h0m1 9h0m3 18h0m1-26h0m1 27h0m10-29h0m23 26h0m23-19h0m2 20h0m4-20h0m15-3h0m3 19h0m0-27h0m5 16h0m18 1h0m5-16h0m1 4h0m1 0h0m17 25h0m0-3h0m21-19h0m2 16h0m7-28h0m3 37h0m11-15h0m15 12h0m7-1h0m12 6h0m1-23h0m4 21h0m7-31h0m12-4h0m9 31h0m23-2h0m29-24h0m17 32h0m3-16h0m15 11h0m3-21h0m22 6h0m12-12h0m-594 35h0m9 16h0m39 7h0m6-19h0m4 11h0m10-10h0m2 28h0m3 3h0m10-33h0m39 14h0m10-17h0m2 6h0m3 29h0m5-2h0m1-35h0m17 2h0m6 5h0m7 5h0m27 15h0m8-6h0m1 15h0m2 3h0m2-19h0m2-16h0m0 17h0m2 3h0m4-2h0m13-16h0m4-3h0m0 24h0m6 6h0m8 0h0m3 1h0m10-31h0m1 4h0m4 15h0m3-14h0m3 6h0m7 19h0m11 5h0m16-16h0m5-1h0m1 7h0m9 8h0m9-24h0m1 0h0m2-3h0m3 13h0m7-2h0m3 5h0m13 13h0m10-15h0m11-17h0m4 5h0m4 0h0m9 27h0m67-17h0m10-12h0m10 0h0m2 3h0m0-9h0m4 10h0m3-2h0m3 10h0m11 10h0m3 5h0m0-1h0m1-19h0m2 14h0m4-9h0m10-15h0m8-4h0m4 22h0m13 8h0m17-31h0m5 19h0m4 12h0m15-21h0m2 22h0m1-11h0m2-15h0m0 1h0m9 14h0m7-5h0m-587 35h0m6 15h0m0 1h0m2-18h0m21-6h0m2-3h0m8 14h0m0 16h0m10-12h0m15 12h0m5-1h0m7-27h0m4 2h0m11 14h0m16-9h0m2 8h0m2 19h0m30-30h0m13 18h0m5-14h0m13 26h0m4-2h0m14-34h0m5 21h0m4 15h0m5-22h0m3 12h0m10-16h0m0 28h0m5-15h0m6-23h0m4 29h0m3 9h0m1-35h0m15 17h0m28 14h0m11-29h0m8 4h0m14 0h0m2 19h0m11 1h0m32-3h0m5-10h0m0 10h0m7-9h0m5 17h0m2 2h0m5-37h0m3 12h0m7 4h0m10 11h0m1-19h0m1 22h0m3-23h0m3 18h0m2-4h0m6-5h0m12-13h0m42 22h0m10-20h0m5 27h0m11-4h0m5-25h0m16 4h0m7-6h0m3 37h0m4-22h0m0-11h0m22-1h0m2 1h0m1 19h0m6-1h0m12-19h0m16-4h0m4 7h0m3 27h0m5-21h0m-594 54h0m3-2h0m3-20h0m14 11h0m5 19h0m44-21h0m7-7h0m4 13h0m5 17h0m3-1h0m14 1h0m4-30h0m11 22h0m11-21h0m5-5h0m14 2h0m43 3h0m6-6h0m5 10h0m0-6h0m6 31h0m7-19h0m10-14h0m25 35h0m29-8h0m2-23h0m11 9h0m1-10h0m9 5h0m11 7h0m1-7h0m0-8h0m2 28h0m1 3h0m3-10h0m1-2h0m7-14h0m2-7h0m4 7h0m11 28h0m1-1h0m10-11h0m10-8h0m13 22h0m0-5h0m7-9h0m11 0h0m21-15h0m9 1h0m6 23h0m0-31h0m20-3h0m18 5h0m5 11h0m12 12h0m34-21h0m0 1h0m48 3h0m20 16h0m21-24h0m-585 68h0m6-22h0m13 10h0m6 18h0m30-31h0m5 26h0m6-2h0m2 1h0m7-23h0m2-5h0m0 2h0m12 9h0m10 2h0m2-2h0m2 7h0m4 1h0m21 4h0m5-1h0m7 14h0m12-15h0m4 0h0m16 9h0m5-8h0m1 4h0m2-22h0m13 30h0m24-32h0m1 34h0m0-32h0m12 18h0m7-23h0m30 1h0m9 21h0m2-23h0m6 15h0m5 9h0m5-10h0m4 13h0m18-2h0m4-3h0m7-2h0m22 8h0m6 6h0m3-33h0m1 6h0m2 8h0m19 20h0m3 3h0m2-25h0m4 13h0m5-1h0m0 10h0m2-10h0m23-3h0m1 11h0m4-30h0m7 34h0m23-13h0m2 5h0m13 4h0m1-9h0m20-13h0m6-9h0m8 0h0m19 35h0m4-18h0m26 3h0m7-1h0m18 7h0m11 1h0m2-24h0m5 10h0m3 22h0m-600 37h0m9-28h0m6 12h0m11-18h0m0 34h0m2-33h0m13 5h0m2 9h0m5 5h0m6 13h0m12-27h0m5 13h0m1-8h0m8 11h0m13 9h0m9-29h0m21 35h0m8-36h0m6 1h0m17 21h0m1 1h0m4-19h0m5 11h0m3 21h0m11-18h0m11 12h0m12-23h0m18 13h0m6-15h0m19 13h0m3 5h0m7 13h0m12-4h0m0-29h0m1 17h0m0-9h0m22 18h0m5-28h0m1 26h0m10-23h0m9 18h0m4 4h0m4-8h0m17-6h0m1-7h0m4 7h0m19 10h0m7-22h0m16 14h0m1-9h0m17-1h0m9 15h0m0 17h0m7-5h0m7-18h0m1-5h0m6-1h0m1 15h0m13-8h0m17-4h0m3-11h0m3 7h0m3 27h0m33-20h0m9 23h0m6-36h0m8 35h0m2-20h0m13 5h0m1-11h0m0 17h0m5 9h0m4-11h0m3-5h0m5-14h0m20-1h0m13 18h0m19-15h0m1 23h0m1-16h0m4 18h0m-619 13h0m6-1h0m3 9h0m0-10h0m9 3h0m2 17h0m10 2h0m18 10h0m4-12h0m30-1h0m2 5h0m6 2h0m4-18h0m21 23h0m1 0h0m8-32h0m5 35h0m2-17h0m11 3h0m8-1h0m6-7h0m26-7h0m10 8h0m7 20h0m2-22h0m10 17h0m5-18h0m38-15h0m0 19h0m21-14h0m3 16h0m4 9h0m1 6h0m40-15h0m1-19h0m2 20h0m15 9h0m0 5h0m24-25h0m1 6h0m4 16h0m3-13h0m9-18h0m6 31h0m8-23h0m49 17h0m1-13h0m0 11h0m1-8h0m6 7h0m4 14h0m2-18h0m2 12h0m4-26h0m0 18h0m8 8h0m7-21h0m7 26h0m17-2h0m9-6h0m14 9h0m8-33h0m1 14h0m5-8h0m1 12h0m8 9h0m25-13h0m14 13h0m2-15h0m10-7h0m18 11h0m9-16h0m3 26h0m-657 15h0m1 1h0m35 17h0m14 11h0m1 2h0m0-35h0m3 26h0m1-22h0m10 16h0m8-20h0m1 7h0m1 12h0m3-10h0m2-4h0m1-5h0m29 9h0m31 18h0m15-16h0m2 15h0m13 4h0m8-17h0m5 20h0m21-22h0m12-12h0m10 33h0m2-28h0m3-2h0m8 28h0m10-32h0m8 35h0m26 3h0m27-9h0m6-4h0m17 8h0m20-5h0m23-21h0m7 13h0m22 3h0m2 3h0m14-10h0m1-9h0m1 11h0m10-15h0m16 16h0m3-18h0m6 37h0m2-13h0m2 8h0m1-20h0m19 18h0m2-1h0m1-28h0m2-2h0m1 34h0m7-25h0m11 19h0m2 11h0m3-14h0m8-19h0m10-1h0m1 25h0m1-3h0m12-18h0m4-3h0m10 4h0m6 14h0m2 13h0m1-32h0m12 25h0m11-8h0m12-7h0m6 12h0m13-5h0m6 11h0m0-22h0m1 5h0m-633 46h0m3 0h0m5-15h0m12 14h0m5 15h0m2-3h0m5-31h0m1 22h0m28-11h0m4-3h0m2-4h0m9 11h0m0 2h0m7 9h0m7-3h0m2 11h0m6-12h0m14 5h0m20-29h0m0 33h0m1 3h0m5-31h0m8 9h0m10-2h0m3-1h0m19-11h0m10 30h0m0-25h0m1 34h0m2-21h0m57 12h0m3-28h0m3 37h0m11-38h0m8 25h0m2 11h0m7-34h0m2 19h0m4 10h0m11-13h0m1 2h0m2-4h0m5-5h0m9 12h0m7-23h0m2 23h0m3 11h0m2-8h0m29-22h0m10 23h0m2 0h0m0-23h0m0-4h0m8 22h0m0 5h0m4-6h0m11-10h0m14 3h0m2-1h0m3 18h0m28-25h0m20 9h0m9 11h0m3-4h0m4 11h0m7-13h0m19 5h0m16-2h0m2-16h0m11 9h0m34 16h0m9-15h0m3 5h0m3-23h0m0 34h0m2-6h0m5-4h0m20-11h0m2 18h0m2 6h0m2-11h0m2-17h0m15-6h0m1 32h0m-655 29h0m3 1h0m2-15h0m9 26h0m0-4h0m5 7h0m10-39h0m1 14h0m20 13h0m8-12h0m10-13h0m0 13h0m4 18h0m2-24h0m1-5h0m4 7h0m3-4h0m28-2h0m1 3h0m3 27h0m25-10h0m10 0h0m1 4h0m1-18h0m3-3h0m11 0h0m16-1h0m31 6h0m2 20h0m9-21h0m2 14h0m18-21h0m1 8h0m12 14h0m2-17h0m7-6h0m2-1h0m1 25h0m6-14h0m6 9h0m8-4h0m13 20h0m1-20h0m2 15h0m2-4h0m1 0h0m12-3h0m7-18h0m12-2h0m9 30h0m8-7h0m13-30h0m9 17h0m11-2h0m0-13h0m7 13h0m2 13h0m8 4h0m3-5h0m1-6h0m13 5h0m1-23h0m1 6h0m8 15h0m4 12h0m16-27h0m1 4h0m28-4h0m3 4h0m6 6h0m7-2h0m5-4h0m0 8h0m6 11h0m5-13h0m8 3h0m9-17h0m18 24h0m9-28h0m6 11h0m20 16h0m3 6h0m2-9h0m1-21h0m9 11h0m3-4h0m1 16h0m0-1h0m16-25h0m30 6h0m0 10h0m24-11h0m-688 50h0m4-8h0m12 23h0m3 3h0m6-20h0m24 11h0m0-17h0m23 24h0m3-10h0m18-3h0m8 20h0m22-39h0m1 5h0m16 17h0m0 6h0m1 0h0m15 4h0m1 6h0m6-12h0m3-25h0m6-1h0m25 21h0m27 13h0m14-34h0m3 4h0m0 4h0m21 10h0m17 1h0m3-12h0m20 30h0m15-17h0m3 1h0m6-7h0m0 22h0m2-30h0m0-2h0m11-3h0m3 18h0m10 0h0m1 10h0m3-29h0m4 21h0m13 0h0m7-20h0m1 21h0m27 4h0m3-1h0m8-8h0m11 16h0m20-31h0m2 9h0m17 17h0m7-20h0m2 7h0m20 11h0m4 13h0m5-30h0m3 24h0m7 1h0m13-23h0m13 20h0m76 2h0m6-15h0m40-11h0m24 25h0m8-3h0m2-18h0m-712 52h0m4-19h0m17 33h0m19-31h0m6 13h0m25 13h0m7-9h0m16-18h0m0 25h0m7-12h0m3-4h0m11-1h0m6 23h0m8-33h0m36 9h0m2-9h0m2-1h0m11 20h0m5-18h0m27 21h0m44-17h0m9 19h0m0-2h0m31 10h0m2 3h0m19-5h0m2-14h0m6-19h0m1 12h0m37 16h0m4 8h0m15-32h0m17 5h0m13 13h0m3 7h0m4 8h0m5-36h0m6 5h0m9 6h0m0 20h0m1-21h0m1 12h0m13 2h0m9 4h0m16-20h0m19 7h0m13-3h0m38 7h0m9 0h0m2-19h0m1 17h0m13-18h0m2 16h0m0-4h0m19-12h0m3 30h0m5-18h0m1-10h0m7 20h0m8 3h0m3 8h0m3 6h0m12-21h0m4-11h0m7 7h0m1 8h0m7-3h0m31-3h0m7-9h0m-703 51h0m10 4h0m12-19h0m15 10h0m20 1h0m1-11h0m21-3h0m2 10h0m7 29h0m9-23h0m26-2h0m23 12h0m1-25h0m22 8h0m12 4h0m0 4h0m5-8h0m7-8h0m13 19h0m3-10h0m10 6h0m7-10h0m12 23h0m5 3h0m7-18h0m3 19h0m16 3h0m6-8h0m3-7h0m12-8h0m26 6h0m14 14h0m18-8h0m0-2h0m7-19h0m10 27h0m9-14h0m7 18h0m23-16h0m2 1h0m8 3h0m12-6h0m13-16h0m3 15h0m1-3h0m0-12h0m9 16h0m17-9h0m2 11h0m1-12h0m20 28h0m5-19h0m11-14h0m17 20h0m18 5h0m13-25h0m6-1h0m5 25h0m5-26h0m12 17h0m13 2h0m3 7h0m4-22h0m21 21h0m9-8h0m16 9h0m30-20h0m-689 63h0m8-21h0m9-3h0m1 23h0m17 6h0m24 2h0m29-25h0m33 3h0m44-3h0m32 5h0m7 3h0m9 18h0m17-2h0m8-25h0m30 18h0m5-4h0m2-15h0m19 20h0m28 8h0m10-30h0m5 23h0m25-16h0m5 5h0m16-19h0m2 23h0m4-18h0m1 13h0m7-1h0m17 8h0m16-1h0m38-8h0m3-2h0m2 14h0m7-23h0m2 33h0m5-31h0m46 7h0m7 17h0m2 6h0m3 0h0m0-17h0m5-19h0m4 14h0m2 16h0m3-9h0m10-16h0m12 28h0m6-26h0m1-2h0m0-1h0m24 17h0m-626 18h0m18 15h0m22-11h0m1 17h0m12-1h0m6 2h0m4 1h0m10 5h0m2-28h0m9 24h0m4-6h0m15 14h0m16-18h0m8 15h0m7-14h0m13-10h0m4 9h0m9-13h0m5 34h0m0-28h0m30 20h0m0-27h0m28 27h0m14-2h0m21-21h0m1 1h0m23 2h0m8 28h0m16-32h0m6 28h0m11-31h0m20 0h0m3 36h0m4-30h0m11 32h0m14-25h0m0-3h0m0 20h0m4 4h0m2-30h0m12 6h0m5-1h0m1 13h0m0 10h0m27-29h0m8 8h0m7 1h0m11 23h0m9-32h0m2 0h0m2 1h0m1 18h0m7 2h0m3-2h0m9 6h0m1-23h0m4 0h0m2 18h0m11 5h0m0-18h0m17 11h0m3-16h0m18 5h0m6-8h0m2 27h0m2-27h0m3 14h0m13 6h0m16-10h0m14 9h0m7 5h0m20-7h0m13-14h0m-623 49h0m14-9h0m17 25h0m7-12h0m19-5h0m2 12h0m25-6h0m10 19h0m19-9h0m10-14h0m26-4h0m5 17h0m1-2h0m18-13h0m7 8h0m31 7h0m15-26h0m20 19h0m9-19h0m41 36h0m1 1h0m22-25h0m23 25h0m0-1h0m12-5h0m2-16h0m10 15h0m9-31h0m3-1h0m7 5h0m0 2h0m4 17h0m0-20h0m13-2h0m25 1h0m8 30h0m14 4h0m9-28h0m15 18h0m21 9h0m2-23h0m1-12h0m36 22h0m23-19h0m15 3h0m-528 38h0m12 16h0m8 0h0m30 8h0m5 6h0m3 2h0m23 1h0m17-5h0m46-21h0m1 12h0m10-6h0m11 5h0m6-11h0m12-6h0m27-4h0m6 20h0m0 4h0m35-13h0m40 16h0m6-23h0m1-2h0m53 31h0m5-1h0m15-19h0m14-8h0m33 26h0m1-31h0m53-1h0m-371 48h0m32-5h0m9-2h0m7 0h0m8 10h0m24-12h0m21 7h0m6 0h0m31 5h0m2-1h0m7 4h0m13 2h0m3-13h0m52 13h0m9-12h0m4 15h0m0-9h0m10-1h0m66-9h0" stroke="#1a6633" stroke-width="17.6" stroke-linecap="round" fill="none"/>
<path transform="scale(.1)" d="M2556 3439h0m46 0h0m52-2h0m37-4h0m-225 45h0m3 1h0m16 0h0m1-20h0m4 14h0m1 0h0m7-16h0m1 14h0m5-14h0m8-3h0m1 9h0m4-6h0m6 18h0m1-9h0m9 12h0m0-12h0m10 1h0m4 11h0m11-10h0m1-22h0m1-5h0m0 11h0m10-7h0m2 11h0m1 4h0m6 4h0m4 2h0m2-14h0m8 24h0m8-9h0m4 1h0m2-6h0m4-3h0m1-11h0m1 24h0m16-29h0m0 2h0m3 6h0m9 7h0m6-14h0m3 13h0m12-9h0m3 8h0m11 8h0m0 3h0m0-10h0m3-4h0m4 16h0m1-25h0m15 20h0m1 12h0m7-8h0m3-6h0m4-2h0m5 19h0m8-14h0m-326 52h0m7-16h0m12-5h0m8-8h0m6 0h0m15-8h0m2 37h0m2-21h0m3-8h0m1 18h0m10-23h0m4 27h0m2-16h0m5 14h0m4-28h0m5 23h0m8-17h0m3 0h0m6 6h0m0 9h0m6-9h0m1 10h0m5-13h0m11 0h0m5-6h0m10 23h0m8 8h0m0-19h0m6 8h0m4 5h0m1-10h0m2 21h0m19-22h0m0-2h0m4-2h0m4 8h0m10 4h0m3 6h0m2 7h0m4-29h0m10 29h0m6-15h0m1-21h0m1 0h0m6 22h0m6-22h0m4 12h0m5 4h0m2 12h0m6-24h0m4 22h0m9-23h0m11-2h0m1 31h0m1-13h0m3 13h0m1-19h0m5-8h0m3 17h0m2-17h0m2 27h0m14-10h0m1 15h0m8-21h0m9-14h0m3 28h0m2-15h0m0-12h0m9-3h0m6 30h0m3-16h0m4 0h0m7 17h0m3-20h0m-364 34h0m3 9h0m1-4h0m5-4h0m4 22h0m1-29h0m1 13h0m10 6h0m5 4h0m4 6h0m5-15h0m4-8h0m0 18h0m0 12h0m3-4h0m3-22h0m2 22h0m5-7h0m11 13h0m1 0h0m8-2h0m10-28h0m6 6h0m0 24h0m6-38h0m0 13h0m0 11h0m4-20h0m5 31h0m6-11h0m0-11h0m8 20h0m13 3h0m2-26h0m4 19h0m0 2h0m1 3h0m4-35h0m1 27h0m13 8h0m3-11h0m1-4h0m5-13h0m12 22h0m2-4h0m7 10h0m1-6h0m1 8h0m0-21h0m2 21h0m2 2h0m1-24h0m2 6h0m1-16h0m0 25h0m1-25h0m6-1h0m2 22h0m2 3h0m5-13h0m3-16h0m11 21h0m20 14h0m6-8h0m2 10h0m1-28h0m0 0h0m1 5h0m4 3h0m2 9h0m2-23h0m4 28h0m2-30h0m1 9h0m7 21h0m6-1h0m3-22h0m0 30h0m5-27h0m0 26h0m5 1h0m1-20h0m1-10h0m2 6h0m1 23h0m5-6h0m5 0h0m5-11h0m6-17h0m3 3h0m1 14h0m2-5h0m4-15h0m4 15h0m27 16h0m1-11h0m10 14h0m5-10h0m7 11h0m0-9h0m-306 26h0m11-2h0m6-1h0m22-5h0m21 4h0m3 17h0m0-7h0m19 6h0m2-1h0m17-21h0m10 29h0m4-19h0m13 25h0m3-33h0m5 24h0m3-28h0m0 39h0m1-19h0m2 5h0m4 0h0m1 5h0m1-16h0m1 7h0m5 10h0m5-19h0m4-4h0m2 5h0m13 24h0m2-28h0m3 26h0m5-19h0m3 21h0m0-37h0m7 16h0m1-11h0m7 10h0m3 19h0m1-31h0m2 30h0m7-2h0m8 3h0m1-17h0m1 12h0m22 8h0m9-6h0m1-23h0m6 28h0m0-29h0m3 30h0m2-30h0m1 17h0m21-15h0m5 15h0m7-7h0m3-17h0m2 24h0m3 5h0m6-12h0m-143 35h0m37 0h0m37-4h0m2 8h0m14 2h0m42-17h0m4 8h0m3 10h0" stroke="#36658a" stroke-width="17.6" stroke-linecap="round" fill="none"/>
<path transform="scale(.1)" d="M2913 4318h0m9-9h0m18-8h0m0 1h0m10 15h0m1-7h0m6-4h0m6 6h0m11-19h0m8-3h0m7 13h0m12 13h0m-97 29h0m7 13h0m0-13h0m10-18h0m3 14h0m13-1h0m11-20h0m3 30h0m3-21h0m5-3h0m11 20h0m4-9h0m11 8h0m4-9h0m7 20h0m0-30h0m1 22h0m0-12h0m5 5h0m16 7h0m4 7h0m2 0h0m-126 8h0m6 8h0m0-11h0m11 29h0m1-6h0m6 1h0m2-20h0m2 23h0m6-22h0m0-1h0m7 21h0m7-21h0m0 13h0m4-9h0m9 29h0m3-37h0m1 23h0m0-3h0m9 14h0m2-33h0m8 13h0m8 6h0m4-20h0m6 15h0m1-5h0m2 14h0m7 15h0m8-12h0m2 9h0m3-33h0m8 35h0m0-10h0m0 7h0m1-20h0m-133 26h0m7-1h0m2 27h0m3-12h0m6 12h0m4 12h0m2-13h0m5-13h0m3 3h0m12 13h0m6 1h0m8-30h0m10 36h0m5-29h0m5 13h0m4-11h0m8 1h0m2 14h0m6-1h0m2-2h0m13-13h0m16-1h0m-111 43h0m10 11h0m18-7h0m7-14h0m4 27h0m7 0h0m1-1h0m2-22h0m13 23h0m5-5h0m0 3h0m10 0h0m1 9h0m2-15h0m3-16h0m4 18h0m1 7h0m3-3h0m-45 22h0m4 0h0" stroke="#8d1c1e" stroke-width="17.6" stroke-linecap="round" fill="none"/>
<path transform="scale(.1)" d="M2176 3548h0m71 31h0m-74 166h0m-10 21h0m26 30h0m97 117h0m-16 14h0m3 410h0m11 39h0m-22 33h0m22 138h0m10 42h0" stroke="#d0543a" stroke-width="17.0" stroke-linecap="round" fill="none"/>
<path d="M227.2 345.3C227.6 344.0 224.2 345.6 231.3 344.3C238.5 343.0 262.7 338.1 270.2 337.8C277.7 337.4 274.1 339.1 276.3 342.3C278.5 345.4 282.8 353.0 283.4 356.6C284.1 360.1 281.7 361.9 280.4 363.7C279.0 365.6 277.7 367.0 275.3 367.8C272.9 368.7 269.3 369.3 266.1 368.8C262.8 368.3 259.9 366.5 255.8 364.7C251.8 363.0 246.0 360.7 241.5 358.6C237.1 356.6 231.7 354.7 229.3 352.5C226.9 350.3 226.9 346.7 227.2 345.3Z" fill="none" stroke="#111" stroke-width="1.1" stroke-dasharray="3 2.2"/>
<path d="M176.1 370.9C177.3 367.3 179.9 367.1 182.3 365.8C184.6 364.4 185.7 363.2 190.4 362.7C195.2 362.2 206.1 361.7 210.9 362.7C215.6 363.7 217.4 366.5 219.1 368.8C220.8 371.2 219.1 370.5 221.1 377.0C223.1 383.5 229.6 400.2 231.3 407.7C233.0 415.2 231.7 418.6 231.3 422.0C231.0 425.4 231.0 424.4 229.3 428.1C227.6 431.9 223.1 440.0 221.1 444.5C219.1 448.9 219.4 453.7 217.0 454.7C214.6 455.7 211.2 453.7 206.8 450.6C202.4 447.5 194.9 441.1 190.4 436.3C186.0 431.5 182.6 426.7 180.2 422.0C177.8 417.2 177.0 413.5 176.1 407.7C175.3 401.9 175.1 393.4 175.1 387.2C175.1 381.1 174.9 374.5 176.1 370.9Z" fill="none" stroke="#111" stroke-width="1.1" stroke-dasharray="3 2.2"/>
<path d="M227.2 345.3C226.2 346.9 222.5 350.8 221.1 354.5C219.7 358.3 219.4 365.6 219.1 367.8" fill="none" stroke="#111" stroke-width="1.1" stroke-dasharray="3 2.2"/>
<path d="M217.4 453.7C218.0 455.2 218.8 460.5 221.1 462.9C223.4 465.2 226.2 466.9 231.3 468.0C236.4 469.1 245.6 469.6 251.8 469.4C257.9 469.2 263.3 468.7 268.1 466.9C272.9 465.2 277.7 461.2 280.4 458.8C283.1 456.4 281.7 454.0 284.5 452.6C287.2 451.3 293.3 451.6 296.7 450.6C300.1 449.6 303.4 448.2 304.9 446.5C306.4 444.8 306.3 443.4 305.9 440.4C305.6 437.3 304.4 431.5 302.9 428.1C301.3 424.7 298.4 422.7 296.7 419.9C295.0 417.2 294.7 415.8 292.6 411.8C290.6 407.7 287.2 400.5 284.5 395.4C281.7 390.3 279.4 385.5 276.3 381.1C273.2 376.7 267.8 370.9 266.1 368.8" fill="none" stroke="#111" stroke-width="1.1" stroke-dasharray="3 2.2"/>
<path d="M296.7 419.9C295.7 421.6 292.0 426.4 290.6 430.2C289.2 433.9 289.6 438.7 288.6 442.4C287.5 446.2 285.1 450.9 284.5 452.6" fill="none" stroke="#111" stroke-width="1.1" stroke-dasharray="3 2.2"/>
<line x1="32.5" y1="336.0" x2="32.5" y2="470.0" stroke="#333" stroke-width="1" shape-rendering="crispEdges"/>
<line x1="32.5" y1="470.0" x2="167.9" y2="470.0" stroke="#333" stroke-width="1" shape-rendering="crispEdges"/>
<line x1="29.5" y1="337.9" x2="32.5" y2="337.9" stroke="#333" stroke-width="0.9" shape-rendering="crispEdges"/>
<text stroke="#333" stroke-width="0.22" x="28.5" y="341.2" font-size="9.4" text-anchor="end" fill="#333" font-family="Liberation Sans">5.0</text>
<line x1="29.5" y1="373.6" x2="32.5" y2="373.6" stroke="#333" stroke-width="0.9" shape-rendering="crispEdges"/>
<text stroke="#333" stroke-width="0.22" x="28.5" y="376.9" font-size="9.4" text-anchor="end" fill="#333" font-family="Liberation Sans">2.5</text>
<line x1="29.5" y1="409.4" x2="32.5" y2="409.4" stroke="#333" stroke-width="0.9" shape-rendering="crispEdges"/>
<text stroke="#333" stroke-width="0.22" x="28.5" y="412.7" font-size="9.4" text-anchor="end" fill="#333" font-family="Liberation Sans">0.0</text>
<line x1="29.5" y1="445.1" x2="32.5" y2="445.1" stroke="#333" stroke-width="0.9" shape-rendering="crispEdges"/>
<text stroke="#333" stroke-width="0.22" x="28.5" y="448.4" font-size="9.4" text-anchor="end" fill="#333" font-family="Liberation Sans">−2.5</text>
<line x1="33.4" y1="470.0" x2="33.4" y2="473.8" stroke="#333" stroke-width="0.9" shape-rendering="crispEdges"/>
<text stroke="#333" stroke-width="0.22" x="33.4" y="482.3" font-size="9.4" text-anchor="middle" fill="#333" font-family="Liberation Sans">−6</text>
<line x1="65.3" y1="470.0" x2="65.3" y2="473.8" stroke="#333" stroke-width="0.9" shape-rendering="crispEdges"/>
<text stroke="#333" stroke-width="0.22" x="65.3" y="482.3" font-size="9.4" text-anchor="middle" fill="#333" font-family="Liberation Sans">−3</text>
<line x1="97.3" y1="470.0" x2="97.3" y2="473.8" stroke="#333" stroke-width="0.9" shape-rendering="crispEdges"/>
<text stroke="#333" stroke-width="0.22" x="97.3" y="482.3" font-size="9.4" text-anchor="middle" fill="#333" font-family="Liberation Sans">0</text>
<line x1="129.2" y1="470.0" x2="129.2" y2="473.8" stroke="#333" stroke-width="0.9" shape-rendering="crispEdges"/>
<text stroke="#333" stroke-width="0.22" x="129.2" y="482.3" font-size="9.4" text-anchor="middle" fill="#333" font-family="Liberation Sans">3</text>
<line x1="161.2" y1="470.0" x2="161.2" y2="473.8" stroke="#333" stroke-width="0.9" shape-rendering="crispEdges"/>
<text stroke="#333" stroke-width="0.22" x="161.2" y="482.3" font-size="9.4" text-anchor="middle" fill="#333" font-family="Liberation Sans">6</text>
<line x1="173.7" y1="470.0" x2="310.0" y2="470.0" stroke="#333" stroke-width="1" shape-rendering="crispEdges"/>
<line x1="175.4" y1="470.0" x2="175.4" y2="473.8" stroke="#333" stroke-width="0.9" shape-rendering="crispEdges"/>
<text stroke="#333" stroke-width="0.22" x="175.4" y="482.3" font-size="9.4" text-anchor="middle" fill="#333" font-family="Liberation Sans">−6</text>
<line x1="207.4" y1="470.0" x2="207.4" y2="473.8" stroke="#333" stroke-width="0.9" shape-rendering="crispEdges"/>
<text stroke="#333" stroke-width="0.22" x="207.4" y="482.3" font-size="9.4" text-anchor="middle" fill="#333" font-family="Liberation Sans">−3</text>
<line x1="239.3" y1="470.0" x2="239.3" y2="473.8" stroke="#333" stroke-width="0.9" shape-rendering="crispEdges"/>
<text stroke="#333" stroke-width="0.22" x="239.3" y="482.3" font-size="9.4" text-anchor="middle" fill="#333" font-family="Liberation Sans">0</text>
<line x1="271.2" y1="470.0" x2="271.2" y2="473.8" stroke="#333" stroke-width="0.9" shape-rendering="crispEdges"/>
<text stroke="#333" stroke-width="0.22" x="271.2" y="482.3" font-size="9.4" text-anchor="middle" fill="#333" font-family="Liberation Sans">3</text>
<line x1="303.2" y1="470.0" x2="303.2" y2="473.8" stroke="#333" stroke-width="0.9" shape-rendering="crispEdges"/>
<text stroke="#333" stroke-width="0.22" x="303.2" y="482.3" font-size="9.4" text-anchor="middle" fill="#333" font-family="Liberation Sans">6</text>
<text stroke="#1a1a1a" stroke-width="0.22" x="100.3" y="331.7" font-size="10.4" text-anchor="middle" fill="#1a1a1a" font-family="Liberation Sans">NBM</text>
<text stroke="#1a1a1a" stroke-width="0.22" x="241.7" y="331.7" font-size="10.4" text-anchor="middle" fill="#1a1a1a" font-family="Liberation Sans">LRMDS</text>
<text stroke="#1a1a1a" stroke-width="0.22" x="170.8" y="492.8" font-size="10.6" text-anchor="middle" fill="#1a1a1a" font-family="Liberation Sans">UMAP_1</text>
<text stroke="#1a1a1a" stroke-width="0.22" x="9.3" y="403.6" font-size="10.6" text-anchor="middle" fill="#1a1a1a" font-family="Liberation Sans" transform="rotate(-90 9.3 403.6)">UMAP_2</text>
<rect x="49.70" y="498.10" width="9.60" height="9.20" fill="#36658a" stroke="none" stroke-width="0"/>
<text stroke="#1a1a1a" stroke-width="0.22" x="63.7" y="506.8" font-size="10.3" text-anchor="start" fill="#1a1a1a" font-family="Liberation Sans">BMSC−0</text>
<rect x="113.20" y="498.10" width="9.60" height="9.20" fill="#1a6633" stroke="none" stroke-width="0"/>
<text stroke="#1a1a1a" stroke-width="0.22" x="126.4" y="506.8" font-size="10.3" text-anchor="start" fill="#1a1a1a" font-family="Liberation Sans">BMSC−1</text>
<rect x="175.80" y="498.10" width="9.60" height="9.20" fill="#d0543a" stroke="none" stroke-width="0"/>
<text stroke="#1a1a1a" stroke-width="0.22" x="188.5" y="506.8" font-size="10.3" text-anchor="start" fill="#1a1a1a" font-family="Liberation Sans">BMSC−2</text>
<rect x="238.50" y="498.10" width="9.60" height="9.20" fill="#8d1c1e" stroke="none" stroke-width="0"/>
<text stroke="#1a1a1a" stroke-width="0.22" x="252.0" y="506.8" font-size="10.3" text-anchor="start" fill="#1a1a1a" font-family="Liberation Sans">BMSC−3</text>
<rect x="337.10" y="343.70" width="14.60" height="11.50" fill="#36658a" stroke="none" stroke-width="0"/>
<rect x="337.10" y="355.20" width="14.60" height="91.05" fill="#1a6633" stroke="none" stroke-width="0"/>
<rect x="337.10" y="446.25" width="14.60" height="15.33" fill="#d0543a" stroke="none" stroke-width="0"/>
<rect x="337.10" y="461.58" width="14.60" height="1.92" fill="#8d1c1e" stroke="none" stroke-width="0"/>
<line x1="344.4" y1="470.0" x2="344.4" y2="473.0" stroke="#333" stroke-width="0.9" shape-rendering="crispEdges"/>
<text stroke="#333" stroke-width="0.22" x="0" y="0" font-size="10.5" text-anchor="end" fill="#333" transform="translate(350.8 480.0) rotate(-45)">NBM1</text>
<rect x="353.25" y="343.70" width="14.60" height="9.58" fill="#36658a" stroke="none" stroke-width="0"/>
<rect x="353.25" y="353.28" width="14.60" height="94.76" fill="#1a6633" stroke="none" stroke-width="0"/>
<rect x="353.25" y="448.05" width="14.60" height="13.54" fill="#d0543a" stroke="none" stroke-width="0"/>
<rect x="353.25" y="461.58" width="14.60" height="1.92" fill="#8d1c1e" stroke="none" stroke-width="0"/>
<line x1="360.6" y1="470.0" x2="360.6" y2="473.0" stroke="#333" stroke-width="0.9" shape-rendering="crispEdges"/>
<text stroke="#333" stroke-width="0.22" x="0" y="0" font-size="10.5" text-anchor="end" fill="#333" transform="translate(366.9 480.0) rotate(-45)">NBM2</text>
<rect x="369.40" y="343.70" width="14.60" height="14.98" fill="#36658a" stroke="none" stroke-width="0"/>
<rect x="369.40" y="358.68" width="14.60" height="88.05" fill="#1a6633" stroke="none" stroke-width="0"/>
<rect x="369.40" y="446.73" width="14.60" height="14.02" fill="#d0543a" stroke="none" stroke-width="0"/>
<rect x="369.40" y="460.74" width="14.60" height="2.76" fill="#8d1c1e" stroke="none" stroke-width="0"/>
<line x1="376.7" y1="470.0" x2="376.7" y2="473.0" stroke="#333" stroke-width="0.9" shape-rendering="crispEdges"/>
<text stroke="#333" stroke-width="0.22" x="0" y="0" font-size="10.5" text-anchor="end" fill="#333" transform="translate(383.1 480.0) rotate(-45)">NBM3</text>
<rect x="385.55" y="343.70" width="14.60" height="22.16" fill="#36658a" stroke="none" stroke-width="0"/>
<rect x="385.55" y="365.86" width="14.60" height="77.99" fill="#1a6633" stroke="none" stroke-width="0"/>
<rect x="385.55" y="443.85" width="14.60" height="16.89" fill="#d0543a" stroke="none" stroke-width="0"/>
<rect x="385.55" y="460.74" width="14.60" height="2.76" fill="#8d1c1e" stroke="none" stroke-width="0"/>
<line x1="392.9" y1="470.0" x2="392.9" y2="473.0" stroke="#333" stroke-width="0.9" shape-rendering="crispEdges"/>
<text stroke="#333" stroke-width="0.22" x="0" y="0" font-size="10.5" text-anchor="end" fill="#333" transform="translate(399.2 480.0) rotate(-45)">NBM4</text>
<rect x="401.70" y="343.70" width="14.60" height="25.88" fill="#36658a" stroke="none" stroke-width="0"/>
<rect x="401.70" y="369.58" width="14.60" height="45.76" fill="#1a6633" stroke="none" stroke-width="0"/>
<rect x="401.70" y="415.34" width="14.60" height="44.45" fill="#d0543a" stroke="none" stroke-width="0"/>
<rect x="401.70" y="459.79" width="14.60" height="3.71" fill="#8d1c1e" stroke="none" stroke-width="0"/>
<line x1="409.0" y1="470.0" x2="409.0" y2="473.0" stroke="#333" stroke-width="0.9" shape-rendering="crispEdges"/>
<text stroke="#333" stroke-width="0.22" x="0" y="0" font-size="10.5" text-anchor="end" fill="#333" transform="translate(415.4 480.0) rotate(-45)">LRMDS1</text>
<rect x="417.85" y="343.70" width="14.60" height="10.30" fill="#36658a" stroke="none" stroke-width="0"/>
<rect x="417.85" y="354.00" width="14.60" height="72.12" fill="#1a6633" stroke="none" stroke-width="0"/>
<rect x="417.85" y="426.12" width="14.60" height="33.42" fill="#d0543a" stroke="none" stroke-width="0"/>
<rect x="417.85" y="459.55" width="14.60" height="3.95" fill="#8d1c1e" stroke="none" stroke-width="0"/>
<line x1="425.2" y1="470.0" x2="425.2" y2="473.0" stroke="#333" stroke-width="0.9" shape-rendering="crispEdges"/>
<text stroke="#333" stroke-width="0.22" x="0" y="0" font-size="10.5" text-anchor="end" fill="#333" transform="translate(431.6 480.0) rotate(-45)">LRMDS2</text>
<rect x="434.00" y="343.70" width="14.60" height="10.06" fill="#36658a" stroke="none" stroke-width="0"/>
<rect x="434.00" y="353.76" width="14.60" height="46.72" fill="#1a6633" stroke="none" stroke-width="0"/>
<rect x="434.00" y="400.49" width="14.60" height="56.43" fill="#d0543a" stroke="none" stroke-width="0"/>
<rect x="434.00" y="456.91" width="14.60" height="6.59" fill="#8d1c1e" stroke="none" stroke-width="0"/>
<line x1="441.3" y1="470.0" x2="441.3" y2="473.0" stroke="#333" stroke-width="0.9" shape-rendering="crispEdges"/>
<text stroke="#333" stroke-width="0.22" x="0" y="0" font-size="10.5" text-anchor="end" fill="#333" transform="translate(447.7 480.0) rotate(-45)">LRMDS3</text>
<rect x="450.15" y="343.70" width="14.60" height="2.76" fill="#36658a" stroke="none" stroke-width="0"/>
<rect x="450.15" y="346.46" width="14.60" height="64.57" fill="#1a6633" stroke="none" stroke-width="0"/>
<rect x="450.15" y="411.03" width="14.60" height="50.08" fill="#d0543a" stroke="none" stroke-width="0"/>
<rect x="450.15" y="461.10" width="14.60" height="2.40" fill="#8d1c1e" stroke="none" stroke-width="0"/>
<line x1="457.4" y1="470.0" x2="457.4" y2="473.0" stroke="#333" stroke-width="0.9" shape-rendering="crispEdges"/>
<text stroke="#333" stroke-width="0.22" x="0" y="0" font-size="10.5" text-anchor="end" fill="#333" transform="translate(463.8 480.0) rotate(-45)">LRMDS5</text>
<line x1="335.0" y1="338.0" x2="335.0" y2="470.0" stroke="#333" stroke-width="1" shape-rendering="crispEdges"/>
<line x1="335.0" y1="470.0" x2="466.8" y2="470.0" stroke="#333" stroke-width="1" shape-rendering="crispEdges"/>
<line x1="332.0" y1="463.5" x2="335.0" y2="463.5" stroke="#333" stroke-width="0.9" shape-rendering="crispEdges"/>
<text stroke="#333" stroke-width="0.22" x="331.0" y="466.8" font-size="9.4" text-anchor="end" fill="#333" font-family="Liberation Sans">0</text>
<line x1="332.0" y1="433.6" x2="335.0" y2="433.6" stroke="#333" stroke-width="0.9" shape-rendering="crispEdges"/>
<text stroke="#333" stroke-width="0.22" x="331.0" y="436.9" font-size="9.4" text-anchor="end" fill="#333" font-family="Liberation Sans">25</text>
<line x1="332.0" y1="403.6" x2="335.0" y2="403.6" stroke="#333" stroke-width="0.9" shape-rendering="crispEdges"/>
<text stroke="#333" stroke-width="0.22" x="331.0" y="406.9" font-size="9.4" text-anchor="end" fill="#333" font-family="Liberation Sans">50</text>
<line x1="332.0" y1="373.6" x2="335.0" y2="373.6" stroke="#333" stroke-width="0.9" shape-rendering="crispEdges"/>
<text stroke="#333" stroke-width="0.22" x="331.0" y="376.9" font-size="9.4" text-anchor="end" fill="#333" font-family="Liberation Sans">75</text>
<line x1="332.0" y1="343.7" x2="335.0" y2="343.7" stroke="#333" stroke-width="0.9" shape-rendering="crispEdges"/>
<text stroke="#333" stroke-width="0.22" x="331.0" y="347.0" font-size="9.4" text-anchor="end" fill="#333" font-family="Liberation Sans">100</text>
<text stroke="#1a1a1a" stroke-width="0.22" x="318.3" y="403.3" font-size="10.4" text-anchor="middle" fill="#1a1a1a" font-family="Liberation Sans" transform="rotate(-90 318.3 403.3)">Percentage</text>
<path transform="scale(.1)" d="M2260 3511h0m7 2h0m2 4h0m7-3h0m24 4h0m8-3h0m3-8h0m0 7h0m3-14h0m2 17h0m5-11h0m6 0h0m8 3h0m5 4h0m1-2h0m5 0h0m10-6h0m3 6h0m7 0h0m-128 48h0m5-1h0m2-35h0m10 20h0m9-10h0m5-13h0m10 31h0m3-3h0m0-13h0m2-4h0m6 9h0m7-6h0m1 13h0m1-19h0m0 22h0m1-18h0m0 16h0m1-1h0m3-8h0m0-13h0m4-5h0m0 12h0m2 8h0m4 13h0m2-1h0m15-10h0m3 0h0m2-12h0m0 15h0m0-5h0m17 8h0m2-24h0m1 13h0m2 16h0m11 1h0m1-6h0m7-3h0m4-11h0m-136 30h0m22 8h0m2 5h0m2 9h0m7-22h0m8 31h0m7-9h0m3 5h0m0-3h0m1-17h0m2 16h0m3 11h0m2-28h0m9-9h0m4 9h0m2 7h0m0 9h0m2-12h0m0-5h0m9-5h0m15 7h0m8-2h0m4 15h0m5-22h0m13 18h0m2-6h0m0 13h0m10-17h0m6-3h0m-107 39h0m2-3h0m28 5h0m8 6h0" stroke="#1a6633" stroke-width="19.0" stroke-linecap="round" fill="none"/>
<path transform="scale(.1)" d="M2207 3799h0m3-7h0m23 7h0m8-8h0m-56 37h0m2 0h0m3-5h0m1-17h0m7 31h0m3-11h0m0-20h0m2-4h0m3 5h0m1 1h0m8 28h0m5-22h0m7 24h0m8-34h0m0 23h0m8-15h0m4-11h0m2 24h0m1 12h0m1-30h0m5 2h0m6-1h0m14 13h0m4 7h0m6 6h0m16 2h0m-136 22h0m5-9h0m5 7h0m0 6h0m3 9h0m6-17h0m0-9h0m16 10h0m16 9h0m8 2h0m0 9h0m5-35h0m3 28h0m2-10h0m24-4h0m3-14h0m1 10h0m1-4h0m1 26h0m4-8h0m2 11h0m5-33h0m2 4h0m3 23h0m4-22h0m10 29h0m-107 30h0m12-2h0m6 7h0m5-28h0m1 15h0m4-9h0m1 5h0m9-9h0m4 4h0m2 23h0m3-17h0m3 4h0m7 10h0m7-14h0m3 0h0m2-5h0m7 25h0m9-2h0m1-4h0m2-26h0m1 3h0m1 2h0m9-6h0m10 10h0" stroke="#1a6633" stroke-width="19.0" stroke-linecap="round" fill="none"/>
<line x1="506.3" y1="344.2" x2="506.3" y2="469.0" stroke="#333" stroke-width="1" shape-rendering="crispEdges"/>
<line x1="506.3" y1="469.0" x2="583.4" y2="469.0" stroke="#333" stroke-width="1" shape-rendering="crispEdges"/>
<line x1="588.1" y1="344.2" x2="588.1" y2="469.0" stroke="#333" stroke-width="1" shape-rendering="crispEdges"/>
<line x1="588.1" y1="469.0" x2="666.3" y2="469.0" stroke="#333" stroke-width="1" shape-rendering="crispEdges"/>
<line x1="503.5" y1="448.3" x2="506.3" y2="448.3" stroke="#333" stroke-width="0.9" shape-rendering="crispEdges"/>
<text stroke="#333" stroke-width="0.22" x="502.5" y="451.6" font-size="9.4" text-anchor="end" fill="#333" font-family="Liberation Sans">20</text>
<line x1="503.5" y1="414.8" x2="506.3" y2="414.8" stroke="#333" stroke-width="0.9" shape-rendering="crispEdges"/>
<text stroke="#333" stroke-width="0.22" x="502.5" y="418.1" font-size="9.4" text-anchor="end" fill="#333" font-family="Liberation Sans">40</text>
<line x1="503.5" y1="381.3" x2="506.3" y2="381.3" stroke="#333" stroke-width="0.9" shape-rendering="crispEdges"/>
<text stroke="#333" stroke-width="0.22" x="502.5" y="384.6" font-size="9.4" text-anchor="end" fill="#333" font-family="Liberation Sans">60</text>
<line x1="503.5" y1="347.8" x2="506.3" y2="347.8" stroke="#333" stroke-width="0.9" shape-rendering="crispEdges"/>
<text stroke="#333" stroke-width="0.22" x="502.5" y="351.1" font-size="9.4" text-anchor="end" fill="#333" font-family="Liberation Sans">80</text>
<text stroke="#1a1a1a" stroke-width="0.22" x="489.8" y="406.6" font-size="10.4" text-anchor="middle" fill="#1a1a1a" font-family="Liberation Sans" transform="rotate(-90 489.8 406.6)">Percentage</text>
<text stroke="#1a1a1a" stroke-width="0.22" x="0" y="0" font-size="10.4" text-anchor="middle" fill="#1a1a1a" transform="translate(545 331.8) scale(0.93 1)">BMSC−1</text>
<text stroke="#1a1a1a" stroke-width="0.22" x="0" y="0" font-size="10.4" text-anchor="middle" fill="#1a1a1a" transform="translate(626.9 331.8) scale(0.93 1)">BMSC−2</text>
<text stroke="#1a1a1a" stroke-width="0.22" x="545.2" y="341.0" font-size="8.7" text-anchor="middle" fill="#1a1a1a" font-family="Liberation Sans">p=0.02</text>
<text stroke="#1a1a1a" stroke-width="0.22" x="627.0" y="341.0" font-size="8.7" text-anchor="middle" fill="#1a1a1a" font-family="Liberation Sans">p=0.011</text>
<line x1="529.0" y1="343.6" x2="560.8" y2="343.6" stroke="#333" stroke-width="0.9" shape-rendering="crispEdges"/>
<line x1="611.8" y1="343.6" x2="641.7" y2="343.6" stroke="#333" stroke-width="0.9" shape-rendering="crispEdges"/>
<text stroke="#1a1a1a" stroke-width="0.22" x="529.7" y="480.5" font-size="10.3" text-anchor="middle" fill="#1a1a1a" font-family="Liberation Sans">NBM</text>
<line x1="527.4" y1="469.0" x2="527.4" y2="471.5" stroke="#333" stroke-width="0.9" shape-rendering="crispEdges"/>
<text stroke="#1a1a1a" stroke-width="0.22" x="566.4" y="480.5" font-size="10.3" text-anchor="middle" fill="#1a1a1a" font-family="Liberation Sans">LRMDS</text>
<line x1="563.0" y1="469.0" x2="563.0" y2="471.5" stroke="#333" stroke-width="0.9" shape-rendering="crispEdges"/>
<text stroke="#1a1a1a" stroke-width="0.22" x="611.6" y="480.5" font-size="10.3" text-anchor="middle" fill="#1a1a1a" font-family="Liberation Sans">NBM</text>
<line x1="609.4" y1="469.0" x2="609.4" y2="471.5" stroke="#333" stroke-width="0.9" shape-rendering="crispEdges"/>
<text stroke="#1a1a1a" stroke-width="0.22" x="648.1" y="480.5" font-size="10.3" text-anchor="middle" fill="#1a1a1a" font-family="Liberation Sans">LRMDS</text>
<line x1="644.8" y1="469.0" x2="644.8" y2="471.5" stroke="#333" stroke-width="0.9" shape-rendering="crispEdges"/>
<line x1="527.4" y1="349.5" x2="527.4" y2="354.4" stroke="#3a6d9a" stroke-width="0.9" shape-rendering="crispEdges"/>
<line x1="527.4" y1="363.5" x2="527.4" y2="373.6" stroke="#3a6d9a" stroke-width="0.9" shape-rendering="crispEdges"/>
<rect x="514" y="354.4" width="26.7" height="9.1" fill="none" stroke="#3a6d9a" stroke-width="0.9"/>
<line x1="514.0" y1="357.4" x2="540.7" y2="357.4" stroke="#3a6d9a" stroke-width="0.9" shape-rendering="crispEdges"/>
<circle cx="527.4" cy="349.5" r="2.2" fill="#3a6d9a"/>
<circle cx="537.6" cy="355.7" r="2.2" fill="#3a6d9a"/>
<circle cx="527" cy="359.3" r="2.2" fill="#3a6d9a"/>
<circle cx="524.6" cy="373.7" r="2.2" fill="#3a6d9a"/>
<line x1="563.0" y1="382.6" x2="563.0" y2="389.5" stroke="#a0402f" stroke-width="0.9" shape-rendering="crispEdges"/>
<line x1="563.0" y1="417.1" x2="563.0" y2="417.1" stroke="#a0402f" stroke-width="0.9" shape-rendering="crispEdges"/>
<rect x="549.7" y="389.5" width="26.6" height="27.6" fill="none" stroke="#a0402f" stroke-width="0.9"/>
<line x1="549.7" y1="404.3" x2="576.3" y2="404.3" stroke="#a0402f" stroke-width="0.9" shape-rendering="crispEdges"/>
<circle cx="573" cy="381.7" r="2.2" fill="#a0402f"/>
<circle cx="563.8" cy="392.8" r="2.2" fill="#a0402f"/>
<circle cx="559.2" cy="417.8" r="2.2" fill="#a0402f"/>
<circle cx="565.1" cy="416.8" r="2.2" fill="#a0402f"/>
<line x1="609.4" y1="459.2" x2="609.4" y2="459.2" stroke="#3a6d9a" stroke-width="0.9" shape-rendering="crispEdges"/>
<line x1="609.4" y1="462.4" x2="609.4" y2="462.4" stroke="#3a6d9a" stroke-width="0.9" shape-rendering="crispEdges"/>
<rect x="596.1" y="459.2" width="26.5" height="3.2" fill="none" stroke="#3a6d9a" stroke-width="0.9"/>
<line x1="596.1" y1="460.8" x2="622.6" y2="460.8" stroke="#3a6d9a" stroke-width="0.9" shape-rendering="crispEdges"/>
<circle cx="599.2" cy="459.8" r="2.2" fill="#3a6d9a"/>
<circle cx="605.4" cy="461.3" r="2.2" fill="#3a6d9a"/>
<circle cx="618.5" cy="457.7" r="2.2" fill="#3a6d9a"/>
<circle cx="598.8" cy="463.3" r="2.2" fill="#3a6d9a"/>
<line x1="644.8" y1="403.2" x2="644.8" y2="409.4" stroke="#a0402f" stroke-width="0.9" shape-rendering="crispEdges"/>
<line x1="644.8" y1="424.5" x2="644.8" y2="434.7" stroke="#a0402f" stroke-width="0.9" shape-rendering="crispEdges"/>
<rect x="631.3" y="409.4" width="26.9" height="15.1" fill="none" stroke="#a0402f" stroke-width="0.9"/>
<line x1="631.3" y1="416.4" x2="658.2" y2="416.4" stroke="#a0402f" stroke-width="0.9" shape-rendering="crispEdges"/>
<circle cx="650.4" cy="402.6" r="2.2" fill="#a0402f"/>
<circle cx="639.1" cy="412.3" r="2.2" fill="#a0402f"/>
<circle cx="638.7" cy="420.1" r="2.2" fill="#a0402f"/>
<circle cx="649" cy="434.7" r="2.2" fill="#a0402f"/>
<path transform="scale(.1)" d="M1007 5679h0m13 0h0m-186 35h0m10-15h0m3 15h0m1 2h0m1-21h0m22 7h0m12 6h0m5 10h0m20-2h0m3-36h0m3 11h0m1 6h0m0 6h0m2-10h0m9 10h0m10 13h0m15 3h0m8-5h0m3-32h0m1 16h0m18 2h0m1 0h0m14-6h0m1-3h0m2-4h0m8 6h0m3-10h0m15 28h0m4-3h0m3-18h0m0 16h0m6 2h0m0-2h0m2 10h0m1 2h0m0-35h0m0 24h0m10-13h0m19 19h0m-238 9h0m7 30h0m0-4h0m5-3h0m18 0h0m1-24h0m7 36h0m1-32h0m1 21h0m9-22h0m0 7h0m2 26h0m2-37h0m1 8h0m3 8h0m1 21h0m10-3h0m3-9h0m7-19h0m8 8h0m2 8h0m7 15h0m6-26h0m7-4h0m2 11h0m2 16h0m8-5h0m10-20h0m8 28h0m3-12h0m12 4h0m6-27h0m2 26h0m21-11h0m4 15h0m1-5h0m2 1h0m3 6h0m2-24h0m17 12h0m3-3h0m6-7h0m1 22h0m3-13h0m3-20h0m4 3h0m-289 48h0m14 10h0m2-17h0m14 7h0m4 12h0m15-11h0m4-12h0m4 10h0m6 11h0m7 10h0m4-26h0m8-1h0m15 7h0m2 26h0m4 0h0m22-9h0m2-6h0m5 9h0m5 3h0m1-1h0m4-7h0m7-3h0m2-8h0m3 0h0m0 20h0m10-27h0m25 24h0m2 6h0m1-11h0m2-2h0m3-3h0m10 16h0m1-21h0m8 17h0m1-34h0m1 16h0m3-4h0m5 18h0m2-13h0m2-3h0m15-12h0m0 21h0m7-24h0m4 32h0m1 0h0m20-17h0m-381 39h0m24-4h0m9 4h0m18-4h0m3 11h0m2-13h0m3 10h0m2-1h0m3 20h0m2 0h0m31-15h0m20-1h0m3 11h0m12-12h0m2-1h0m6 18h0m5 1h0m3-18h0m5-20h0m24 16h0m1-11h0m6 30h0m1 3h0m24-31h0m4 8h0m4 1h0m6 12h0m9 9h0m4-12h0m2 2h0m12-13h0m1 22h0m3-1h0m6-9h0m3 7h0m9-25h0m6 15h0m4 1h0m1-12h0m8 16h0m2-19h0m9 4h0m6-1h0m1-11h0m5 4h0m8 11h0m16 20h0m4-29h0m2 25h0m13-7h0m9-1h0m1-1h0m1-22h0m0 6h0m32 12h0m-431 41h0m0 13h0m36 4h0m3-26h0m12 25h0m4-4h0m1-15h0m3 8h0m5-6h0m3 1h0m23-1h0m2-10h0m3 26h0m20-27h0m1-3h0m26 11h0m1 17h0m24-1h0m6 4h0m5-36h0m19 1h0m5 20h0m12 12h0m10-9h0m3 15h0m4-24h0m2 23h0m5-7h0m8-11h0m3 6h0m8-7h0m1-1h0m1 11h0m21-15h0m1 22h0m5-34h0m1 20h0m1 8h0m21-5h0m2-1h0m8-8h0m1 14h0m6 2h0m6 0h0m21-23h0m23-5h0m1 20h0m4-6h0m2 0h0m7-13h0m9 33h0m35-25h0m6 15h0m7-2h0m18 8h0m0-3h0m-435 17h0m43 3h0m7 14h0m2-21h0m33-1h0m14-1h0m1 9h0m1 5h0m3-9h0m4-1h0m8 10h0m2-7h0m1 0h0m1 5h0m12-12h0m0 11h0m10-5h0m9 10h0m3 18h0m1-30h0m10 5h0m12 4h0m6 0h0m10-10h0m6 34h0m8-25h0m6 13h0m15-12h0m4 8h0m1 6h0m1 9h0m7-22h0m16 22h0m2-13h0m13-10h0m1 5h0m4 19h0m5-2h0m5 1h0m2-4h0m9 2h0m3-10h0m0-23h0m22 31h0m6 4h0m6-32h0m5 0h0m1 27h0m5-15h0m3-10h0m3-1h0m2 29h0m10-8h0m5-24h0m13 28h0m2-18h0m20 20h0m1-3h0m5 8h0m3-15h0m2-13h0m3-9h0m1 34h0m13-10h0m3 6h0m2-21h0m0 22h0m3-32h0m6 27h0m-461 30h0m8 8h0m10 9h0m1 1h0m0-24h0m10 18h0m4-4h0m16-10h0m14 22h0m8-7h0m13-14h0m5 11h0m4 1h0m0-7h0m2-21h0m6 30h0m4-5h0m2-4h0m6 6h0m5 4h0m14-26h0m15 0h0m2 29h0m2 4h0m3-11h0m5-19h0m1 6h0m1-6h0m2 29h0m6-32h0m3 9h0m1 2h0m4 14h0m11 1h0m4-5h0m5-19h0m14 24h0m2-27h0m15 27h0m1-24h0m9 28h0m2-11h0m9 12h0m3-7h0m22 7h0m1-5h0m4-1h0m14-2h0m1-11h0m3-15h0m3 26h0m2-15h0m3 25h0m3-8h0m20-13h0m23 3h0m17-17h0m5 14h0m11 12h0m9-19h0m6 3h0m1-7h0m4 14h0m8 6h0m1 7h0m5-24h0m1 10h0m6-20h0m0 26h0m1 1h0m10 0h0m3-14h0m3 9h0m3 11h0m4-26h0m8 4h0m1 28h0m0-34h0m10 4h0m1-2h0m9 32h0m9 0h0m-485 7h0m4 30h0m3-7h0m40-21h0m3 25h0m9-22h0m5 24h0m6-18h0m4-2h0m3 1h0m12 22h0m7-8h0m12-24h0m2-1h0m1 4h0m15-9h0m4 6h0m16 31h0m0-13h0m10-16h0m1 10h0m6-11h0m4 9h0m6-6h0m9 0h0m4 1h0m20 28h0m6-34h0m3 5h0m6-7h0m1 11h0m7 20h0m20-25h0m1-7h0m12 10h0m14 11h0m19-16h0m13 26h0m0-18h0m8-14h0m2 26h0m5-19h0m10 4h0m1-7h0m4 14h0m6 7h0m2-14h0m11-3h0m8 6h0m2 21h0m12-14h0m13-15h0m4 0h0m5 6h0m6 6h0m9-6h0m7 14h0m12-11h0m0 13h0m2-2h0m6-12h0m15-8h0m25-4h0m3 5h0m7 23h0m15 6h0m2-28h0m-484 65h0m8-31h0m1 7h0m34 18h0m1-26h0m11 12h0m1 1h0m7 16h0m6-23h0m2-5h0m5 3h0m4 10h0m1 3h0m2 11h0m3-14h0m7 9h0m13 1h0m1 12h0m1-20h0m0 20h0m5-8h0m8-23h0m2 24h0m4-28h0m12 21h0m7 4h0m0-7h0m10 10h0m6-6h0m12 11h0m6 3h0m5-31h0m6 5h0m4-12h0m2 3h0m2 35h0m10-16h0m6-4h0m5 9h0m3-17h0m9-2h0m3-2h0m10 27h0m21-28h0m23 16h0m0-8h0m1 24h0m3-23h0m6-3h0m1-4h0m1 5h0m4 20h0m26 4h0m36-17h0m12 9h0m4-18h0m1 28h0m11-35h0m4 25h0m1 0h0m0-7h0m7-21h0m17 35h0m2-10h0m13-1h0m5-4h0m2 5h0m3-16h0m1 10h0m1-11h0m15 13h0m11 8h0m4-9h0m9-17h0m2-2h0m14 32h0m-481 8h0m31 8h0m11-2h0m1 25h0m10-20h0m6-3h0m17 27h0m9-19h0m11 8h0m11 3h0m8 7h0m2-14h0m21 10h0m3-17h0m14 2h0m4 1h0m2 12h0m7-18h0m2-8h0m5 2h0m2 32h0m6-25h0m5 25h0m37-31h0m10 3h0m12-5h0m12 14h0m3-1h0m7 4h0m11-5h0m4 2h0m1-16h0m6 22h0m15 13h0m10-10h0m8-27h0m12 29h0m2-6h0m6-6h0m7 13h0m6-10h0m4-1h0m9 2h0m3-16h0m13 4h0m8 23h0m7-16h0m11 18h0m1 1h0m10-4h0m13-22h0m31 7h0m-383 33h0m23 0h0m24 9h0m24 2h0m16-17h0m5 13h0m16 2h0m51 20h0m1-24h0m3 1h0m11-13h0m0 18h0m7-19h0m8 3h0m1 30h0m7-20h0m17 21h0m11-14h0m47-3h0m10-9h0m0 1h0m14 11h0m0 8h0m14-15h0m0 6h0m12-15h0m5 0h0m5 2h0m5-2h0m4 4h0m7-3h0m3 0h0m3-2h0m-280 36h0m41 4h0m19 0h0m24 5h0m34-1h0" stroke="#c4c4c4" stroke-width="17.0" stroke-linecap="round" fill="none"/>
<path transform="scale(.1)" d="M938 5861h0m124 18h0m-232 47h0m84 92h0m-131 56h0m112 10h0m30 10h0m100 21h0m37-11h0" stroke="#c9968a" stroke-width="17.0" stroke-linecap="round" fill="none"/>
<path transform="scale(.1)" d="M964 5732h0m-284 69h0m90 29h0m235-29h0m-372 98h0m3 46h0m70-18h0m282 18h0m2-16h0m83 18h0m-436 50h0m8-25h0m0 34h0m42 8h0m13-6h0m22 30h0m133 10h0m44 23h0m161 8h0m29-24h0m53-11h0m-300 39h0m2 28h0m38-27h0m9 32h0m26-19h0m148 7h0m1-11h0m-187 33h0" stroke="#cb8777" stroke-width="17.0" stroke-linecap="round" fill="none"/>
<path transform="scale(.1)" d="M845 5770h0m70 99h0m-230 44h0m188 1h0m251-3h0m5 5h0m-456 65h0m1 20h0m2 16h0m149-17h0m114 12h0m193 25h0m30-18h0m1 3h0m-397 31h0m117 3h0m97 20h0m13-15h0m87 10h0m14 1h0m22 7h0m-282 33h0m92-30h0m4 11h0m-26 27h0m52 9h0m32-7h0" stroke="#c67765" stroke-width="17.0" stroke-linecap="round" fill="none"/>
<path transform="scale(.1)" d="M1027 5810h0m-191 56h0m133-18h0m-141 50h0m281 19h0m-416 25h0m13 8h0m325-25h0m-284 55h0m42 21h0m274 22h0m81-21h0m-438 51h0m56 3h0m46 19h0m107 0h0m-75 6h0m6 9h0m163 23h0m36-25h0" stroke="#bc6554" stroke-width="17.0" stroke-linecap="round" fill="none"/>
<path transform="scale(.1)" d="M672 5835h0m6 0h0m-56 39h0m55-12h0m-4 37h0m13 7h0m-39 40h0m42-21h0" stroke="#b25443" stroke-width="17.0" stroke-linecap="round" fill="none"/>
<path transform="scale(.1)" d="M649 5812h0m115-6h0m-90 62h0m168 10h0m-66 17h0m-134 56h0m66-7h0m-68 44h0m18-13h0m133 56h0m-89 14h0m74 22h0" stroke="#a84232" stroke-width="17.0" stroke-linecap="round" fill="none"/>
<path transform="scale(.1)" d="M1017 5672h0m2 4h0m8 1h0m-185 30h0m3-2h0m4-4h0m10 12h0m0 4h0m5-6h0m13 4h0m14-9h0m13 2h0m0-11h0m14 12h0m1-26h0m11 36h0m2-15h0m1 3h0m6-14h0m2 11h0m11-18h0m0 6h0m1 2h0m1 2h0m6 11h0m2-18h0m2 9h0m1-17h0m1 36h0m26-4h0m0 2h0m8-27h0m9 6h0m2 8h0m1-15h0m3 2h0m8 16h0m8 6h0m3-17h0m5-10h0m1 23h0m20-11h0m4 9h0m5 0h0m4 3h0m11 10h0m-255 39h0m8-4h0m17-3h0m0 5h0m21-4h0m9-15h0m0 5h0m3 16h0m5-12h0m2-1h0m1-23h0m24 28h0m3-24h0m11 2h0m9 12h0m7-12h0m12 16h0m5-5h0m3-3h0m4-4h0m36 23h0m0-30h0m6 29h0m5-12h0m0-8h0m21 15h0m0 2h0m31-19h0m1 3h0m-347 44h0m15 9h0m42-11h0m11 22h0m23-6h0m26-17h0m12 14h0m1 5h0m6-15h0m11 9h0m5-18h0m12 3h0m6 23h0m8-13h0m5-18h0m7 19h0m1-22h0m1 3h0m1 31h0m5-8h0m9-15h0m11 26h0m4-19h0m5 0h0m2 8h0m5 7h0m7-35h0m8 25h0m5-23h0m5 28h0m8-30h0m17 14h0m1-4h0m2-9h0m7 24h0m13 7h0m2-22h0m1 14h0m5-23h0m-359 71h0m24 1h0m4-33h0m16 19h0m19 6h0m28-6h0m18 16h0m10-3h0m16-7h0m12-24h0m32 22h0m16 6h0m8 6h0m5-30h0m2 3h0m0 2h0m3 25h0m13-9h0m6-10h0m4 4h0m3-2h0m48-10h0m9 0h0m1 6h0m10-11h0m12 33h0m1-34h0m8 7h0m3-6h0m7 1h0m5 22h0m5-25h0m2 36h0m7-14h0m8-7h0m0-15h0m1 11h0m1 17h0m5-12h0m0 11h0m5-13h0m8 24h0m18-2h0m-453 18h0m10 19h0m11-1h0m2 3h0m1-35h0m1 14h0m68 21h0m5-6h0m1-19h0m3 1h0m16 4h0m12 11h0m18-17h0m3 24h0m1-33h0m15 15h0m12 22h0m14-3h0m4-25h0m1 25h0m6-22h0m11-9h0m4 8h0m6-7h0m1 26h0m7-10h0m6-5h0m0 4h0m5 1h0m2-6h0m10 3h0m10-14h0m18 0h0m3 1h0m25 14h0m6-16h0m1 8h0m2 9h0m12-4h0m1 3h0m5 16h0m1-13h0m0-15h0m1 18h0m17-13h0m16 8h0m1 16h0m3-17h0m2-4h0m12 22h0m1-10h0m9 1h0m1-4h0m6-14h0m6 14h0m4-19h0m0 3h0m12 20h0m4-3h0m14-12h0m10-5h0m12 15h0m-473 23h0m4 29h0m38-22h0m8 15h0m4-15h0m2 2h0m18 14h0m10-17h0m9 1h0m5 19h0m8 0h0m6-5h0m25-27h0m6 25h0m4-17h0m4 14h0m6-6h0m14 16h0m25-16h0m11-2h0m2 10h0m1 4h0m6-2h0m1-10h0m10-3h0m8 18h0m5-6h0m1-5h0m2 17h0m4-18h0m3 10h0m9-7h0m3-15h0m14 9h0m12-14h0m6 26h0m5-28h0m3 15h0m6 9h0m13 14h0m13 1h0m11-20h0m9-15h0m0 1h0m6-1h0m2 16h0m8 15h0m7-30h0m0 15h0m1-16h0m3 2h0m1 9h0m2 21h0m6-16h0m2 2h0m31 10h0m2-10h0m1 13h0m3-7h0m5 6h0m2-12h0m9 11h0m2-22h0m2 26h0m5-7h0m9-27h0m3 2h0m3 27h0m2-5h0m1-24h0m20 19h0m-483 53h0m60-22h0m8 1h0m3-5h0m14 18h0m23-24h0m1 3h0m1 27h0m8-32h0m3 5h0m0 17h0m10-19h0m11-3h0m13 27h0m1-14h0m7 23h0m1-10h0m4 6h0m1-17h0m3 11h0m0-19h0m13-6h0m14 24h0m9-13h0m6 20h0m8-8h0m8-12h0m17 23h0m5-10h0m3-13h0m6 6h0m4 11h0m2-30h0m2 38h0m3-3h0m1 2h0m1-7h0m6 9h0m5-25h0m9-14h0m5 12h0m7-5h0m14 23h0m5-2h0m3-20h0m5-5h0m13 31h0m11-1h0m28-22h0m3 28h0m23-28h0m8 9h0m10-1h0m6 13h0m20-21h0m12 14h0m3-21h0m6 1h0m3 27h0m2-5h0m0 11h0m3-34h0m2 29h0m2-18h0m15-10h0m8 20h0m-507 33h0m6-18h0m2 15h0m13 24h0m16-22h0m2-2h0m16-9h0m9-4h0m2 36h0m9-21h0m11-5h0m1 11h0m6 16h0m9-29h0m4 20h0m5-5h0m19-20h0m7 5h0m10 19h0m13-18h0m6 28h0m2-18h0m0-4h0m0 19h0m1-13h0m0 2h0m11-18h0m28-4h0m0-3h0m2 9h0m2 25h0m4 5h0m4-15h0m2 7h0m5-30h0m2 30h0m11-8h0m21 10h0m1-19h0m0-8h0m17 11h0m4 14h0m7-4h0m7-14h0m13 5h0m6 6h0m27 1h0m3-8h0m4 21h0m0-31h0m3-5h0m3 4h0m1-4h0m2 12h0m1 19h0m3-13h0m4 7h0m8-17h0m3 8h0m4-11h0m1 14h0m11-19h0m0 24h0m10 6h0m13 5h0m7 0h0m31-15h0m2 8h0m2-24h0m2 15h0m9 18h0m0-15h0m13 13h0m2-28h0m4 4h0m3-12h0m5 18h0m5 3h0m-493 27h0m24-8h0m34 32h0m38-19h0m10-12h0m8 16h0m3 19h0m1-37h0m0 8h0m16-8h0m8 30h0m8 1h0m21-21h0m5 13h0m5-10h0m18 10h0m7 13h0m17-20h0m4 6h0m8 7h0m4-20h0m14 3h0m3-2h0m8-3h0m3 16h0m17-13h0m6 29h0m11-31h0m4 27h0m2-11h0m4-22h0m6 0h0m1-2h0m9 31h0m0-14h0m4-15h0m11 9h0m9 18h0m9 6h0m4-22h0m10-2h0m12 0h0m9 22h0m3-18h0m3 14h0m6-9h0m9-16h0m5 14h0m8 19h0m1-30h0m9 15h0m28-2h0m13-8h0m8 9h0m4-21h0m0 1h0m17 30h0m5-13h0m11 20h0m2-22h0m5-4h0m-476 43h0m7 1h0m17 11h0m8-8h0m0-11h0m8-1h0m20 25h0m5 7h0m10-30h0m14 8h0m10-4h0m1-2h0m3 24h0m7-31h0m16 22h0m1-18h0m9 9h0m27-16h0m14 15h0m1-4h0m2 8h0m38-9h0m3 11h0m7 8h0m4-25h0m12 19h0m1 6h0m2-15h0m2-4h0m1 5h0m13-11h0m3 3h0m18 10h0m1 11h0m1-26h0m1 1h0m4 16h0m11 11h0m1 6h0m4-20h0m7 9h0m5-20h0m5 12h0m6 1h0m3-13h0m2 2h0m2 12h0m4-13h0m1 4h0m3 26h0m2-7h0m0-11h0m0-13h0m3 5h0m16 8h0m58 8h0m9-16h0m11 28h0m16-35h0m20 3h0m-410 36h0m4 3h0m10 5h0m14-8h0m35-1h0m4 26h0m7-9h0m15 5h0m2-23h0m12 14h0m15 17h0m1-17h0m2 17h0m11-7h0m3 6h0m8-22h0m2 30h0m20-23h0m2 21h0m0-21h0m12 3h0m1-11h0m1 25h0m20-1h0m4-3h0m6-25h0m3 24h0m0-8h0m1 13h0m6-8h0m2-12h0m1 22h0m8-10h0m9-21h0m3 8h0m1 20h0m2-7h0m5-19h0m13 31h0m3-28h0m1 10h0m4 7h0m18 3h0m2-23h0m4 16h0m6-12h0m15-7h0m1 3h0m9-1h0m54-2h0m-220 40h0m17 10h0m22-5h0" stroke="#c4c4c4" stroke-width="17.0" stroke-linecap="round" fill="none"/>
<path transform="scale(.1)" d="M719 5965h0m434 5h0m-17 44h0m-233 50h0m93-10h0m100 5h0m1-13h0m1 28h0m-258 39h0m52-7h0m59 0h0m-1 27h0" stroke="#c9968a" stroke-width="17.0" stroke-linecap="round" fill="none"/>
<path transform="scale(.1)" d="M853 5754h0m82-6h0m-92 20h0m181 21h0m-338 19h0m18 16h0m22-17h0m206 25h0m98 3h0m-342 30h0m307-1h0m-364 19h0m12 14h0m394-15h0m61 35h0m-90 31h0m-366 43h0m54 3h0m11-27h0m57 18h0m160-17h0m226 12h0m-480 25h0m247 30h0m3-13h0m89 1h0m61 10h0m78-23h0m-451 30h0m27 23h0m40-9h0m0-4h0m64 21h0m58-4h0m137 8h0m83-2h0m-193 24h0m89 12h0m62-27h0m44 18h0m3-20h0" stroke="#cb8777" stroke-width="17.0" stroke-linecap="round" fill="none"/>
<path transform="scale(.1)" d="M751 5808h0m85 18h0m185-6h0m-392 24h0m66 16h0m13-10h0m111 16h0m-200 17h0m70 34h0m-3 42h0m8-22h0m357-16h0m-384 74h0m476-10h0m-472 18h0m135 72h0m133-33h0m65 9h0m4 9h0m73-15h0m2 23h0m21-22h0m62 0h0m14 23h0m-282 46h0m60-9h0m31 2h0" stroke="#c67765" stroke-width="17.0" stroke-linecap="round" fill="none"/>
<path transform="scale(.1)" d="M644 5827h0m30 31h0m79 11h0m-87 22h0m126 9h0m77 17h0m69 1h0m-287 71h0m7 3h0m50-4h0m249-9h0m-283 36h0m26 17h0m275 3h0m-132 13h0m47 12h0m70 13h0m37-31h0m99 7h0m-109 73h0" stroke="#bc6554" stroke-width="17.0" stroke-linecap="round" fill="none"/>
<path transform="scale(.1)" d="M708 5796h0m1-6h0m80 18h0m-154 70h0m179-20h0m-145 59h0m110-16h0m-154 20h0m6 16h0m61 15h0m1 4h0m97-3h0m-131 26h0m32 41h0m54 47h0" stroke="#b25443" stroke-width="17.0" stroke-linecap="round" fill="none"/>
<path transform="scale(.1)" d="M673 5798h0m-9 20h0m24 49h0m41 24h0m38 3h0m-19 91h0m-64 24h0m22 3h0m88 63h0m3 18h0" stroke="#a84232" stroke-width="17.0" stroke-linecap="round" fill="none"/>
<path transform="scale(.1)" d="M945 5677h0m12 2h0m28-7h0m48-1h0m5 5h0m-202 29h0m5-11h0m5 0h0m12-3h0m0 20h0m0 2h0m11 4h0m9-1h0m2-3h0m3-29h0m9 22h0m5 1h0m6-2h0m2-24h0m6 17h0m2 9h0m18-12h0m8-11h0m13 21h0m5-23h0m3 23h0m3 5h0m9-18h0m11-8h0m20-3h0m1 13h0m2 2h0m2 18h0m7-2h0m3 1h0m4-32h0m20 1h0m0 21h0m17 15h0m1-20h0m1 14h0m3-6h0m-236 43h0m4-23h0m9 17h0m7-5h0m16 18h0m1-5h0m1-3h0m4-7h0m2-3h0m1 10h0m27-16h0m28 4h0m5 11h0m3 12h0m4-5h0m24-29h0m8 13h0m3-18h0m1 16h0m1 14h0m4 7h0m11-20h0m1 20h0m2 1h0m8-22h0m3 0h0m6 7h0m2 16h0m18-39h0m11 21h0m18-5h0m6-6h0m4 5h0m10-9h0m-392 64h0m5-2h0m4-4h0m22-2h0m7 16h0m14-8h0m13 2h0m16-17h0m14-10h0m4 19h0m32-24h0m5 29h0m6-9h0m3-19h0m10 2h0m12 27h0m4-13h0m4-16h0m0 33h0m1-11h0m1-6h0m5 5h0m0 8h0m1 8h0m6-27h0m12 26h0m4-30h0m12 16h0m7-6h0m0 11h0m2-13h0m2 18h0m1-29h0m2 28h0m1-24h0m10 23h0m10 8h0m2-17h0m2 11h0m21-15h0m29 1h0m5 20h0m16-5h0m3 5h0m5-30h0m2 28h0m3-30h0m16 28h0m7-4h0m-400 20h0m12 15h0m32-15h0m27 17h0m49-26h0m7 24h0m30-17h0m1 9h0m2 6h0m0-11h0m7-12h0m0 20h0m3 11h0m10-18h0m14 8h0m1-15h0m0 7h0m5-1h0m14 5h0m2-3h0m11 5h0m11 14h0m6-14h0m3 0h0m6-15h0m1 16h0m8 1h0m1 16h0m31-19h0m3 8h0m0 11h0m1-2h0m8-24h0m2 18h0m6-19h0m1 1h0m0-11h0m2 13h0m17 10h0m7-1h0m4 2h0m1-16h0m22-7h0m4 16h0m6 17h0m8-14h0m4 10h0m1-20h0m9 1h0m1 21h0m2-19h0m16 22h0m11-1h0m-463 42h0m6-17h0m9-12h0m8 10h0m74 0h0m0-12h0m3 29h0m7-6h0m2-8h0m2 17h0m5-11h0m43-17h0m4 13h0m5-14h0m28 0h0m9 26h0m1-26h0m6-1h0m10 23h0m18-26h0m7 23h0m17-23h0m15 18h0m27-13h0m1 9h0m2 15h0m3-29h0m2 21h0m15-20h0m9 14h0m5 19h0m5-34h0m3 15h0m2-11h0m2 19h0m4-25h0m14 35h0m6-4h0m8-4h0m1-9h0m7-3h0m4 5h0m8-23h0m1 35h0m8-22h0m1 1h0m6 20h0m7-16h0m16 7h0m8-23h0m11 27h0m3-24h0m1 12h0m5 22h0m3-28h0m13 22h0m-482 26h0m1-11h0m14 8h0m10-13h0m4 15h0m5-12h0m5 2h0m9 1h0m15 22h0m17 6h0m9-34h0m2-2h0m19 21h0m0 4h0m3-21h0m0 28h0m4-11h0m8-4h0m0 19h0m1-1h0m8-20h0m18 3h0m3 10h0m2 9h0m2-6h0m0-31h0m3 8h0m2 14h0m13-8h0m22-4h0m23-9h0m0 29h0m3 7h0m12-31h0m4 5h0m1 24h0m1-19h0m7 17h0m5-32h0m0 12h0m9 17h0m21 8h0m7-21h0m8 19h0m2-27h0m2 15h0m1 12h0m2-21h0m3 14h0m9-19h0m1 25h0m4-22h0m2-6h0m7 13h0m17 6h0m1 3h0m1-12h0m12-8h0m1 23h0m9-23h0m12 17h0m8 6h0m0-28h0m4 4h0m8 10h0m3-19h0m3 28h0m13 2h0m8-20h0m13-9h0m1 26h0m4 12h0m15-25h0m11 19h0m0-12h0m13-8h0m3 5h0m-475 35h0m6 20h0m3-25h0m25 27h0m23-29h0m13-1h0m0-3h0m5 28h0m12-26h0m2 7h0m26 1h0m4 2h0m2 7h0m2 15h0m29-21h0m6-6h0m13 3h0m7 13h0m1-21h0m0 12h0m5-5h0m5 15h0m1 5h0m4 5h0m2 2h0m4-38h0m3 3h0m12 29h0m1 6h0m2-25h0m3 25h0m0-5h0m14-12h0m3 3h0m20 15h0m5-4h0m3-21h0m18 12h0m3 1h0m3-23h0m1 32h0m3-30h0m2 30h0m3-19h0m2-13h0m2 17h0m12-3h0m1-6h0m56 15h0m19-3h0m3-1h0m11-23h0m1 14h0m15 13h0m3 2h0m1 4h0m6 1h0m13-9h0m9 14h0m0-18h0m4-1h0m4-17h0m13 24h0m2-20h0m35 24h0m-513 11h0m14 11h0m8-10h0m0 30h0m3-4h0m6-20h0m4-3h0m19 11h0m8 17h0m1-10h0m18 5h0m7 10h0m13-13h0m7-24h0m2 19h0m7 14h0m2-9h0m9-13h0m5-11h0m3 13h0m1-3h0m5 2h0m28-6h0m7 29h0m0-21h0m7-2h0m2-12h0m3 14h0m5 14h0m9-10h0m4-17h0m19 24h0m1 12h0m6-36h0m8 23h0m10-4h0m28-12h0m22-1h0m6 12h0m0-16h0m20 30h0m3 4h0m13-29h0m0 9h0m2 4h0m6 0h0m2 15h0m11-36h0m22 15h0m1 3h0m10 7h0m4 6h0m1-4h0m1-10h0m1 18h0m5-34h0m12 24h0m7-2h0m5-13h0m0-11h0m3 30h0m6-18h0m5-8h0m9 14h0m2 0h0m5 19h0m13 0h0m2-37h0m4 26h0m2-17h0m6 7h0m1-6h0m28 9h0m-473 31h0m7-9h0m1 27h0m4 2h0m3 4h0m8-25h0m9 14h0m1-16h0m0 29h0m17-17h0m3 18h0m9-4h0m0-8h0m12 5h0m0-22h0m7-7h0m0 30h0m18 4h0m3-2h0m0-19h0m18 22h0m13-15h0m8-9h0m4 22h0m1-5h0m8 8h0m2 0h0m1-35h0m18 3h0m5 31h0m6 0h0m15-3h0m0-28h0m1 25h0m5 7h0m12 1h0m22-29h0m23 13h0m4-10h0m1 12h0m3-18h0m8 28h0m33 2h0m1-20h0m9 20h0m9-3h0m1-6h0m1 11h0m1-35h0m6 3h0m5 16h0m21 5h0m0-2h0m3 4h0m14-13h0m8-9h0m3 3h0m8 10h0m2 4h0m1 5h0m11-27h0m1 17h0m15 8h0m15-22h0m6 27h0m4-28h0m10 25h0m8 3h0m6-6h0m-481 13h0m40 6h0m1 17h0m10 9h0m26-26h0m49-5h0m5 6h0m7 15h0m2-2h0m1-1h0m0-11h0m2 14h0m8 17h0m5-31h0m6 12h0m2-17h0m2 8h0m0-8h0m11-2h0m3 16h0m12-3h0m5 7h0m0-15h0m2 25h0m8-30h0m2 25h0m2-9h0m9 0h0m21 9h0m36-14h0m14 22h0m18-8h0m8-19h0m5 32h0m3-12h0m6-14h0m32 8h0m10-2h0m3 13h0m2 0h0m6-8h0m5 4h0m3-27h0m8 36h0m7-7h0m18-18h0m21 25h0m9-18h0m19-9h0m13-4h0m-400 43h0m6-3h0m63 20h0m25 13h0m1-1h0m2-10h0m2-18h0m1 25h0m36-24h0m31 12h0m4-9h0m39-5h0m3-1h0m4 6h0m18 7h0m20 4h0m6-16h0m2 10h0m2 14h0m9-26h0m10 17h0m8 11h0m22-20h0m13 2h0m25-17h0m-206 41h0m10 6h0m5 0h0m4 0h0m49 1h0m4-4h0m14 0h0" stroke="#c4c4c4" stroke-width="17.0" stroke-linecap="round" fill="none"/>
<path transform="scale(.1)" d="M1139 5946h0m2 50h0m-188 43h0m42-3h0m153-5h0m-320 69h0m1 11h0m38-2h0m165-21h0" stroke="#c9968a" stroke-width="17.0" stroke-linecap="round" fill="none"/>
<path transform="scale(.1)" d="M933 5729h0m61 5h0m-328 88h0m77 15h0m3-11h0m32 11h0m243-16h0m-249 44h0m168 13h0m59-21h0m-349 42h0m25 11h0m19-8h0m98 11h0m74-28h0m-236 61h0m38 53h0m185-10h0m295-1h0m-344 31h0m216-3h0m56 23h0m102-21h0m8 19h0m-342 15h0m75 16h0m3-23h0m4 23h0m6 8h0m30-11h0m31 10h0m143-22h0m7 1h0m9 1h0m-339 42h0m10-5h0m79 24h0m43-8h0m39 7h0m63-7h0m-55 15h0" stroke="#cb8777" stroke-width="17.0" stroke-linecap="round" fill="none"/>
<path transform="scale(.1)" d="M722 5831h0m9-4h0m-91 43h0m26-6h0m5 14h0m18-13h0m89-22h0m10 11h0m291 0h0m-425 35h0m3-8h0m33 28h0m291 1h0m60-30h0m79 36h0m-480 26h0m30 40h0m12-16h0m28-5h0m330 22h0m55-22h0m-322 111h0m86-5h0m40-9h0m48 20h0m100-19h0m126-9h0m-327 37h0m53 16h0m81-23h0m40 29h0m1-4h0m54-10h0m-191 27h0" stroke="#c67765" stroke-width="17.0" stroke-linecap="round" fill="none"/>
<path transform="scale(.1)" d="M776 5785h0m-33 54h0m37 0h0m22-30h0m-156 53h0m48 15h0m-39 10h0m3 30h0m24-31h0m6 4h0m275-6h0m-281 53h0m40-5h0m16 16h0m293 10h0m-395 27h0m40-14h0m-31 37h0m525 5h0m-313 50h0m127 7h0m204-24h0m-122 52h0m-78 25h0" stroke="#bc6554" stroke-width="17.0" stroke-linecap="round" fill="none"/>
<path transform="scale(.1)" d="M728 5830h0m15 47h0m-96 82h0m9-6h0m21-11h0m32 1h0m17-1h0m13 54h0m73 0h0m-139 29h0m111 13h0m-12 48h0" stroke="#b25443" stroke-width="17.0" stroke-linecap="round" fill="none"/>
<path transform="scale(.1)" d="M714 5778h0m-68 97h0m44 2h0m47 0h0m2-36h0m-96 111h0m87-3h0m89 38h0m-174 21h0m29 22h0m12-19h0m16 17h0" stroke="#a84232" stroke-width="17.0" stroke-linecap="round" fill="none"/>
<path transform="scale(.1)" d="M2053 5679h0m7-3h0m34-5h0m1 4h0m8 2h0m45-2h0m11 2h0m-214 27h0m12-2h0m21 1h0m6-5h0m9 8h0m2 13h0m4-4h0m0-15h0m2 15h0m1 4h0m3-4h0m0-1h0m1-16h0m7 5h0m14-1h0m5-3h0m12 0h0m12-19h0m1 23h0m2-18h0m2 6h0m5 28h0m25-3h0m11-34h0m0 31h0m6-7h0m0-15h0m21-10h0m8 22h0m9 1h0m18 11h0m3-15h0m15 8h0m-346 51h0m31-15h0m4-3h0m10 0h0m1-18h0m2 12h0m0 16h0m5-8h0m28-9h0m4 7h0m15-21h0m4 21h0m15-21h0m1 34h0m0-24h0m5-10h0m2 13h0m13 20h0m4-33h0m9 34h0m4-26h0m10 13h0m13-21h0m18 35h0m7-28h0m22 7h0m4-5h0m12 18h0m2-7h0m3-1h0m1-19h0m2 13h0m2 8h0m7-4h0m11 11h0m3-3h0m1-3h0m27-21h0m14 32h0m9-14h0m3 15h0m5-9h0m1-22h0m1 7h0m4 25h0m8-17h0m8 13h0m1-20h0m-420 63h0m49-15h0m78 16h0m6-6h0m11 6h0m6 0h0m8-35h0m18 11h0m14 24h0m18-9h0m23-20h0m3 23h0m3-29h0m7 30h0m15-18h0m15-3h0m8 15h0m2 2h0m4 3h0m12-1h0m2-21h0m6 3h0m7 19h0m5-14h0m8 5h0m24-11h0m2 11h0m7 3h0m11-7h0m2-13h0m4 8h0m5 17h0m2 0h0m2 5h0m4-17h0m2 2h0m8-13h0m2 13h0m-355 23h0m10 21h0m18 1h0m22 2h0m10 0h0m14 9h0m19-21h0m7 4h0m20 2h0m22-15h0m9 2h0m5 13h0m12 8h0m11-15h0m17 16h0m6-24h0m6 10h0m31-6h0m17-2h0m3 27h0m4-16h0m9 5h0m3-2h0m5-20h0m8 24h0m12 7h0m14-6h0m8 13h0m5-10h0m3-16h0m4-8h0m12 29h0m10 5h0m11-36h0m18 31h0m13 5h0m2 1h0m-372 38h0m22-33h0m10 19h0m42 0h0m4 13h0m13-3h0m1-24h0m2-8h0m4 4h0m15 25h0m23 9h0m1-12h0m8 4h0m10-11h0m24-12h0m4-6h0m5 3h0m11 6h0m18 22h0m4 3h0m1-5h0m5-7h0m6-19h0m10 5h0m5-3h0m17 7h0m7-11h0m13 7h0m8 18h0m0 9h0m3-30h0m1 30h0m4 1h0m0-38h0m9 30h0m2-29h0m3 20h0m9 15h0m1-7h0m1-16h0m4 8h0m3 6h0m2-10h0m17 14h0m2-7h0m7-15h0m12 10h0m12-3h0m0 1h0m5 10h0m5 10h0m-487 42h0m4-28h0m4 21h0m6-13h0m61-15h0m1-4h0m29 2h0m5 1h0m2 10h0m30 6h0m36 13h0m3-3h0m2-2h0m3 12h0m1-1h0m31-22h0m6 4h0m3-3h0m15-3h0m2 20h0m16-29h0m3 19h0m39-18h0m10 8h0m11 4h0m7-7h0m7-6h0m19 11h0m20 1h0m29 5h0m0 6h0m2 9h0m8 2h0m1-23h0m6 7h0m2 3h0m4-8h0m8-12h0m11 32h0m10-36h0m5 18h0m6-1h0m4-2h0m5 1h0m17 17h0m1 4h0m-429 21h0m21 10h0m13-16h0m3 19h0m5-4h0m34-22h0m8 15h0m18-5h0m6 22h0m2-26h0m17-13h0m0 33h0m10 0h0m35 0h0m17-28h0m4 6h0m4-3h0m10 13h0m13 10h0m1-8h0m3 9h0m1-2h0m3-29h0m1 10h0m2-3h0m3 19h0m7 1h0m28-1h0m5-8h0m4-1h0m5 6h0m5 13h0m2-16h0m23-19h0m6 22h0m2-7h0m2-1h0m16 0h0m1 3h0m1 12h0m5-2h0m4 2h0m2-1h0m12-13h0m5 15h0m8-27h0m3 3h0m3 11h0m7 5h0m1 3h0m4 4h0m17-12h0m2 12h0m2-17h0m1 6h0m3 12h0m6-21h0m6 9h0m1-5h0m3-12h0m19 18h0m-464 53h0m40 3h0m19-23h0m13 10h0m15-8h0m1 7h0m2-5h0m2 4h0m18-2h0m6-17h0m5 4h0m4 25h0m23 1h0m5-11h0m23-21h0m3 2h0m1 30h0m0-8h0m11 13h0m14-13h0m11 2h0m6-20h0m20 4h0m4 8h0m5-15h0m13 13h0m0 13h0m15-20h0m7-3h0m10 6h0m3-8h0m8 11h0m2-4h0m20 8h0m1 17h0m9-32h0m3 16h0m2-11h0m1 2h0m0-5h0m4 18h0m1-11h0m13-3h0m1 18h0m13-14h0m21 11h0m1-21h0m5 15h0m2-18h0m16 20h0m3-1h0m5 16h0m3-10h0m11-10h0m1-7h0m4 19h0m4-9h0m1-5h0m9 3h0m3-5h0m16 10h0m6 15h0m-490 28h0m15-14h0m13-2h0m41 1h0m15 9h0m9-3h0m4 1h0m33-18h0m4 21h0m32-9h0m2-10h0m11 35h0m6-37h0m13 8h0m5 20h0m30-24h0m7 15h0m1 6h0m7-10h0m7 19h0m1-5h0m7-25h0m3 7h0m1 15h0m10-8h0m6 13h0m3-22h0m10-2h0m18-1h0m14 13h0m0-11h0m9-8h0m20 32h0m6-10h0m23 4h0m14-4h0m8-10h0m4 4h0m9 3h0m11 4h0m8 10h0m14-22h0m4 11h0m10 0h0m4 6h0m1 0h0m-446 19h0m24 0h0m9 0h0m10-7h0m9 19h0m11 2h0m24-7h0m14-8h0m6 13h0m13 4h0m8 13h0m25-20h0m10-14h0m31 14h0m32 22h0m3-30h0m2 16h0m6-7h0m39 11h0m2-10h0m12 11h0m1-14h0m6 4h0m0-2h0m62-2h0m5 21h0m0-36h0m3 23h0m5 14h0m12 1h0m3-30h0m6 0h0m7 24h0m3-18h0m11 23h0m10-22h0m4-12h0m32 10h0m-346 52h0m8 6h0m47-3h0m11-21h0m10-3h0m19 20h0m5 11h0m11-19h0m27 6h0m5-14h0m6-3h0m12 10h0m1 12h0m14-2h0m2-19h0m12 14h0m40-4h0m17-14h0m15-1h0m2 9h0m3 8h0m15-13h0m29 2h0m18-6h0m-267 41h0m31 6h0m21-2h0m32-6h0" stroke="#c4c4c4" stroke-width="17.0" stroke-linecap="round" fill="none"/>
<path transform="scale(.1)" d="M2155 5676h0m-82 89h0m99 30h0m-179 20h0m-25 61h0m-35 77h0m61-27h0m107-6h0m107 39h0m-243 34h0m8-23h0m80 57h0m6-11h0m56-9h0m27 17h0m99 9h0m-364 36h0m65-28h0m12 12h0m28 8h0m9-9h0m80 12h0m29-18h0m-170 46h0m35 20h0m52-23h0m50 5h0m24 14h0m68-7h0" stroke="#c9968a" stroke-width="17.0" stroke-linecap="round" fill="none"/>
<path transform="scale(.1)" d="M1907 5717h0m73-9h0m89-23h0m69 5h0m-335 68h0m144-11h0m-116 50h0m10-25h0m11-1h0m137 17h0m-200 38h0m23-12h0m17 3h0m37-7h0m42 8h0m-133 57h0m19-13h0m12 11h0m68-1h0m173 0h0m-262 44h0m15-26h0m67 11h0m10-21h0m10 38h0m38-38h0m77 6h0m74 27h0m-273 39h0m45-13h0m22 8h0m59-13h0m58 8h0m5 4h0m221-5h0m-424 24h0m28 32h0m36-8h0m128-2h0m0-4h0m63-2h0m237-10h0m-432 52h0m25 2h0m27 13h0m55 0h0m27-14h0m11 15h0m37-9h0m5-28h0m29 33h0m21-8h0m40-3h0m142-8h0m-400 32h0m18 9h0m45-4h0m5 24h0m25-14h0m4-2h0m46 8h0m15-18h0m40 10h0m47-14h0m46 18h0m24-20h0m38 34h0m21-37h0m10 11h0m36-4h0m-352 46h0m32 9h0m27-13h0m19 1h0m55-8h0m27 7h0m3-5h0m2 22h0m34-27h0m115 7h0m0-5h0m21-3h0m-229 54h0m6-5h0" stroke="#cb8777" stroke-width="17.0" stroke-linecap="round" fill="none"/>
<path transform="scale(.1)" d="M1915 5710h0m-42 42h0m15-30h0m4 30h0m30-20h0m-140 62h0m45-20h0m39 1h0m26-12h0m165 13h0m11 5h0m-293 38h0m64 2h0m35-6h0m108 6h0m28 16h0m41-35h0m-303 47h0m17 13h0m26-9h0m4 2h0m29-13h0m17 20h0m30 13h0m134 3h0m53-5h0m-278 20h0m6-10h0m79 11h0m7 5h0m31 17h0m40-7h0m193 7h0m-366 32h0m29-18h0m6 27h0m19-17h0m33-2h0m122-8h0m6 12h0m13-19h0m33 0h0m62 28h0m29-1h0m-335 11h0m42 18h0m8 13h0m39-12h0m3 10h0m26-30h0m11 7h0m13 4h0m73 20h0m26-24h0m42 6h0m67 21h0m18 5h0m2-19h0m4 8h0m49-6h0m21 12h0m44-3h0m-468 30h0m54 5h0m10-18h0m58 21h0m12 5h0m18-32h0m63 26h0m41-16h0m107 21h0m5 1h0m31 2h0m20-7h0m15-25h0m20 9h0m41 1h0m11 22h0m-448 31h0m33-22h0m23 22h0m43-3h0m32-3h0m7-13h0m1 5h0m33 19h0m30-24h0m5 1h0m27 27h0m11-14h0m81-12h0m8-8h0m68 31h0m-348 16h0m5-1h0m23-8h0m2 16h0m5 19h0m63-23h0m10 10h0m0-3h0m7 5h0m18-18h0m17 13h0m25 1h0m22-11h0m40 19h0m34-9h0m23-4h0m-189 36h0m4-10h0m7 7h0" stroke="#c67765" stroke-width="17.0" stroke-linecap="round" fill="none"/>
<path transform="scale(.1)" d="M1856 5748h0m126 3h0m-173 21h0m16 23h0m12-1h0m25-6h0m25 7h0m75-5h0m64-5h0m-223 51h0m36-25h0m3 25h0m27-33h0m29 34h0m64-19h0m124 12h0m8-14h0m-293 46h0m56-16h0m43 29h0m10-5h0m-96 47h0m65-9h0m32-3h0m36 5h0m271 0h0m-472 23h0m49 15h0m129 3h0m62-12h0m7 3h0m12-22h0m-167 77h0m25-36h0m15 2h0m2 29h0m1-11h0m76-14h0m270 20h0m-390 19h0m53-1h0m56 23h0m17 1h0m74-10h0m70-14h0m7 25h0m54 2h0m69-28h0m43 35h0m2-13h0m-399 49h0m24-22h0m2-4h0m22 8h0m77 1h0m66-2h0m74-9h0m8-3h0m43 33h0m63-21h0m5 16h0m25-25h0m-343 41h0m31 17h0m122-8h0m5 12h0m46-23h0m31-3h0" stroke="#bc6554" stroke-width="17.0" stroke-linecap="round" fill="none"/>
<path transform="scale(.1)" d="M1808 5755h0m52-30h0m1 11h0m9 11h0m-74 41h0m3 3h0m49 8h0m-34 8h0m56 67h0m1-30h0m0 24h0m23 5h0m-153 22h0m72 15h0m51-7h0m-96 31h0m176 2h0m-138 53h0m35 32h0m425 16h0m-399 31h0m21-20h0m1 22h0m377 14h0" stroke="#b25443" stroke-width="17.0" stroke-linecap="round" fill="none"/>
<path transform="scale(.1)" d="M1772 5778h0m1 15h0m44-8h0m-24 49h0m64-9h0m6 6h0m-106 65h0m4 18h0m10-2h0m32-13h0m52-13h0m124 15h0m-219 57h0m5 1h0m105 24h0m7-19h0m78 16h0m-138 56h0m5-19h0m3 29h0m97 21h0m-24 29h0" stroke="#a84232" stroke-width="17.0" stroke-linecap="round" fill="none"/>
<path transform="scale(.1)" d="M2063 5678h0m27 0h0m44-3h0m5-5h0m15-1h0m3 7h0m3 1h0m-240 38h0m2 0h0m27-9h0m29-6h0m2 6h0m20 6h0m2-16h0m1 9h0m5 11h0m3-3h0m7-15h0m2 6h0m8 1h0m3 2h0m15-18h0m2 13h0m23 6h0m5 9h0m3-36h0m19 28h0m0-22h0m1 12h0m28-2h0m33-17h0m2 1h0m30 33h0m-409 40h0m46-20h0m17-4h0m5 10h0m9-12h0m10-8h0m0 14h0m1 6h0m6 6h0m37-4h0m2 15h0m27-37h0m3 11h0m10-11h0m1 27h0m19-27h0m3 38h0m0-3h0m10-21h0m2 25h0m4-34h0m4 21h0m40 1h0m24 9h0m2-19h0m1-8h0m19 8h0m6-2h0m10 1h0m1 22h0m9-36h0m3 21h0m2 1h0m3 3h0m2 9h0m7-15h0m17 13h0m4-28h0m8 24h0m0 2h0m1-25h0m6 16h0m3 14h0m8-25h0m1 7h0m1-3h0m5-10h0m1 29h0m1-35h0m5 16h0m7-12h0m2-1h0m-424 59h0m0 6h0m15-5h0m13 2h0m26-12h0m39 18h0m9-22h0m10 16h0m12 14h0m24-27h0m1 12h0m11-2h0m18-14h0m3 5h0m0-5h0m4 8h0m12-1h0m2 0h0m0 13h0m4-23h0m0 3h0m9 8h0m10 3h0m1-5h0m0-13h0m4 10h0m1-6h0m8 16h0m5 13h0m6-7h0m10 11h0m3-31h0m4 9h0m0 11h0m4 3h0m8-20h0m7-3h0m24 3h0m7 7h0m1 19h0m17-4h0m36-21h0m4-1h0m16 29h0m7 0h0m5-13h0m-351 37h0m0-6h0m12-3h0m69 21h0m32-2h0m0 6h0m15-10h0m0-13h0m5 23h0m4-22h0m17 12h0m13-2h0m11-8h0m4-6h0m5-11h0m9 0h0m3 20h0m32 8h0m5-15h0m0 12h0m25-13h0m12-2h0m17-3h0m12 8h0m5-17h0m6 27h0m3-13h0m17 2h0m6-1h0m12 6h0m9 11h0m4-29h0m2 33h0m3-26h0m10 14h0m5 15h0m6-5h0m-455 9h0m17 19h0m52 1h0m14-1h0m11-2h0m2-1h0m2 6h0m10-5h0m59 16h0m22-9h0m6-2h0m7 10h0m7-16h0m10-4h0m2-11h0m13 3h0m2 23h0m14-30h0m6 39h0m2-9h0m5 0h0m8-3h0m4-5h0m2 17h0m5-38h0m0 19h0m4-15h0m0 33h0m1-1h0m27 0h0m2-37h0m11 17h0m1-5h0m1-6h0m1 1h0m2 7h0m3 15h0m11-4h0m2-5h0m1-7h0m34 10h0m1-12h0m9 1h0m11 16h0m29-16h0m6 6h0m3 14h0m3-2h0m14 5h0m6-34h0m3 13h0m-475 33h0m11 18h0m7 2h0m43-3h0m15-11h0m16-1h0m7 9h0m22-13h0m49-6h0m7-2h0m11 33h0m12-4h0m5-14h0m27 9h0m2-8h0m1 1h0m6 22h0m4-33h0m27 31h0m2-29h0m18 10h0m9-9h0m0-8h0m2 15h0m0 1h0m6 10h0m3-18h0m4 15h0m9-10h0m7 4h0m4-11h0m2 20h0m5-16h0m7-10h0m1 21h0m7-15h0m3 26h0m4 6h0m27-39h0m12 21h0m16-6h0m3 4h0m8-12h0m5 17h0m7-4h0m4-12h0m11 13h0m5-21h0m3 36h0m22-33h0m2 26h0m2-21h0m3 25h0m1-7h0m1 7h0m7 1h0m-502 44h0m11-12h0m6-26h0m28 25h0m25-15h0m7 1h0m69 3h0m6-9h0m12 26h0m7-8h0m13 7h0m6-15h0m6 4h0m15-3h0m6 6h0m27 3h0m4-5h0m3-20h0m5 22h0m1-17h0m20-1h0m12 13h0m16 12h0m7 2h0m3 8h0m3-14h0m1-16h0m6 27h0m0-18h0m17 13h0m3-15h0m30 14h0m19-3h0m1-20h0m12 14h0m3-20h0m1-1h0m1 12h0m23 10h0m1-11h0m19 1h0m44-2h0m7 18h0m5-1h0m9-2h0m3-2h0m4 8h0m-512 14h0m19 31h0m11-32h0m5 14h0m22 0h0m8-18h0m7 0h0m27 0h0m19 0h0m15 9h0m3 11h0m7-1h0m22-14h0m18 4h0m3 29h0m0-14h0m12-10h0m22-14h0m2 27h0m39-11h0m1 10h0m2 2h0m1-21h0m4 26h0m5 6h0m8-24h0m2-1h0m16 7h0m2-15h0m10 27h0m1-12h0m64 9h0m7 2h0m7-25h0m11-7h0m12 39h0m16-6h0m1 1h0m15-5h0m5-25h0m0 1h0m1 5h0m5-1h0m4 18h0m4-21h0m4 16h0m10 1h0m0 10h0m0-8h0m4 5h0m10-17h0m17 18h0m3-11h0m2-17h0m0 12h0m-472 55h0m5-16h0m1-7h0m22 30h0m19-33h0m10 18h0m11-6h0m20-8h0m5 18h0m7-19h0m1 25h0m1-20h0m19 10h0m61 5h0m16 7h0m1-20h0m2-5h0m23-9h0m3 27h0m1-2h0m2-14h0m22-5h0m8 11h0m2-15h0m0 5h0m4 4h0m4-9h0m8 13h0m1-11h0m2 29h0m8-30h0m5 23h0m9-17h0m27 7h0m2 21h0m53-23h0m3-7h0m3 9h0m4 23h0m10-23h0m7 1h0m0 9h0m17-8h0m2-10h0m1 4h0m3 9h0m6 0h0m2 16h0m0-6h0m9-14h0m3 19h0m9-10h0m1-22h0m3 0h0m-323 64h0m1 5h0m5-22h0m15 1h0m15 14h0m4-6h0m4 9h0m7-18h0m10-1h0m22 2h0m33 24h0m17-35h0m5 22h0m13-14h0m35 23h0m1 0h0m1-21h0m14-4h0m11 17h0m12-10h0m2-10h0m10-1h0m7 11h0m5-6h0m7 22h0m4-24h0m7 5h0m18 5h0m11-5h0m17-3h0m4-8h0m15 22h0m5-17h0m-409 41h0m9-1h0m27 18h0m36 8h0m10-7h0m11 12h0m20-22h0m15 21h0m13 0h0m11-27h0m8 4h0m44 13h0m2-12h0m27 12h0m18-17h0m3 11h0m37-9h0m21-2h0m10 1h0m20 5h0m44-9h0m-194 42h0" stroke="#c4c4c4" stroke-width="17.0" stroke-linecap="round" fill="none"/>
<path transform="scale(.1)" d="M2137 5749h0m61-19h0m-250 79h0m7 8h0m85 14h0m9 8h0m-142 36h0m-24 24h0m101 20h0m20-11h0m7-27h0m22 35h0m30 27h0m70 12h0m85 0h0m-267 20h0m310-11h0m-313 47h0m0-1h0m15 44h0m39 22h0m121-28h0m48-6h0m-215 39h0m98 9h0m41 14h0m25-7h0m26 6h0m52-23h0" stroke="#c9968a" stroke-width="17.0" stroke-linecap="round" fill="none"/>
<path transform="scale(.1)" d="M1959 5717h0m-178 37h0m56-17h0m83-4h0m9 5h0m194-9h0m-353 70h0m13-7h0m32 2h0m30 4h0m55-14h0m24-13h0m15-11h0m12 25h0m1-13h0m12 22h0m13-11h0m155 1h0m-303 17h0m1 25h0m81 9h0m45-1h0m75 0h0m99-22h0m-382 65h0m23-14h0m28-17h0m7 11h0m78 20h0m0-2h0m17-12h0m18-15h0m130-2h0m6 15h0m19-10h0m58-9h0m72 31h0m-453 13h0m16 30h0m19-28h0m42 7h0m78-7h0m18 8h0m4-13h0m15 9h0m30-12h0m60 4h0m-285 55h0m3-17h0m14 7h0m28-4h0m53 22h0m33-20h0m35 31h0m18-7h0m1-4h0m131 10h0m151-2h0m-390 9h0m12-2h0m62 15h0m5 10h0m23 9h0m81-16h0m35-11h0m21 29h0m37-10h0m1-18h0m52-6h0m12 28h0m98 4h0m-429 20h0m14-7h0m12 14h0m5 10h0m48-10h0m1 14h0m2-7h0m35-20h0m1 11h0m11 14h0m8-25h0m21 22h0m15-32h0m2 19h0m91 19h0m102-15h0m28-17h0m12 3h0m0-4h0m-400 48h0m30-13h0m26 12h0m3-9h0m39 2h0m30 17h0m28-18h0m29 0h0m7 15h0m3-11h0m41 30h0m37-33h0m79 20h0m24-14h0m23 26h0m10-23h0m1 16h0m-313 32h0m3-16h0m10 9h0m16 0h0m7-2h0m36 2h0m32 5h0m80-1h0" stroke="#cb8777" stroke-width="17.0" stroke-linecap="round" fill="none"/>
<path transform="scale(.1)" d="M1897 5710h0m-38 37h0m-80 29h0m3 10h0m112 2h0m25-5h0m19 6h0m11-4h0m156-17h0m70 0h0m-403 67h0m20-2h0m2 1h0m27-3h0m8-13h0m83-16h0m22 34h0m72-25h0m30 12h0m0-3h0m69-3h0m-361 61h0m49-11h0m21 0h0m108 5h0m14-32h0m3 15h0m3 2h0m56 18h0m99 1h0m33-2h0m18-11h0m-359 41h0m114-3h0m19-2h0m15-10h0m285 12h0m34-10h0m-364 36h0m9 1h0m186 2h0m33 21h0m35-10h0m-220 55h0m11-26h0m8 22h0m84-26h0m1 30h0m30-24h0m209-1h0m-436 35h0m61 1h0m40 28h0m57-10h0m3 13h0m102-25h0m35 6h0m96 17h0m0-13h0m-401 23h0m49 6h0m23 6h0m55-3h0m82 16h0m21-21h0m47 8h0m21 12h0m37-12h0m9 16h0m38-16h0m2-15h0m21 0h0m8 1h0m14 2h0m6 30h0m-340 17h0m5-4h0m14 21h0m29 2h0m16-1h0m17-12h0m18 18h0m14-11h0m7 5h0m26-22h0m10 23h0m39-14h0m30-7h0m-125 30h0m18 12h0" stroke="#c67765" stroke-width="17.0" stroke-linecap="round" fill="none"/>
<path transform="scale(.1)" d="M1812 5750h0m127-7h0m-158 53h0m26-34h0m57 23h0m6-2h0m37-8h0m22 10h0m-152 41h0m96-14h0m-123 46h0m11-6h0m6 12h0m6-9h0m19 12h0m69 8h0m11 2h0m3-20h0m35 2h0m-88 36h0m18-4h0m365 20h0m-332 36h0m130-13h0m-235 47h0m30 12h0m23-20h0m62 23h0m64-24h0m-159 31h0m33 25h0m21-6h0m61 2h0m201 13h0m167-32h0m-419 41h0m1 10h0m56 0h0m18 16h0m13-2h0m49-18h0m37 20h0m0 2h0m27-11h0m35 6h0m37-7h0m11-6h0m70 12h0m-270 12h0m102 31h0m63 5h0m39-23h0m-121 37h0" stroke="#bc6554" stroke-width="17.0" stroke-linecap="round" fill="none"/>
<path transform="scale(.1)" d="M1808 5755h0m65-4h0m9 7h0m-95 21h0m17-8h0m46 25h0m-77 17h0m24 3h0m14 2h0m14 7h0m5-20h0m-61 45h0m33 1h0m-53 37h0m14 19h0m31 3h0m8-8h0m1-17h0m2 29h0m1-1h0m14-21h0m32-7h0m32 31h0m-135 27h0m34 1h0m38 8h0m16-15h0m83 20h0m-106 3h0m0 20h0m15-18h0m102 30h0m-103 31h0m65 0h0m20-4h0m125 64h0" stroke="#b25443" stroke-width="17.0" stroke-linecap="round" fill="none"/>
<path transform="scale(.1)" d="M1816 5796h0m9-5h0m25-20h0m1 17h0m17-12h0m-52 28h0m19 8h0m11 24h0m-80 9h0m1 23h0m9-4h0m-22 22h0m8 16h0m79 8h0m23-2h0m30-22h0m-110 51h0m55 1h0m113 17h0m5-14h0m-64 41h0m-71 52h0m1 4h0m154 80h0" stroke="#a84232" stroke-width="17.0" stroke-linecap="round" fill="none"/>
<path transform="scale(.1)" d="M2050 5678h0m31-1h0m6-7h0m23 7h0m11-4h0m2 4h0m-185 40h0m10-12h0m10-1h0m0-4h0m3 19h0m1-10h0m21-5h0m8-2h0m8 17h0m18-15h0m25 0h0m7-21h0m6 6h0m0 22h0m8-26h0m6 19h0m2-12h0m5 10h0m4 6h0m3 4h0m8 6h0m1-34h0m4 28h0m1-6h0m7-26h0m2 33h0m0 4h0m5-7h0m6-5h0m1 9h0m2 3h0m5-31h0m4 10h0m2 0h0m4 15h0m13-23h0m5 6h0m-329 53h0m17 9h0m20-15h0m1 17h0m3-21h0m4-6h0m11 3h0m8 10h0m4 9h0m6-11h0m23-16h0m13 28h0m0 3h0m12-7h0m9-30h0m11 5h0m5 32h0m12-5h0m7-23h0m3-1h0m7 22h0m0-23h0m9 6h0m2 25h0m18-29h0m6 28h0m2-3h0m1-29h0m17 12h0m1-1h0m2 3h0m5-8h0m0 21h0m7-32h0m22 6h0m5 29h0m0-3h0m3 1h0m15 6h0m16-36h0m4 34h0m7-23h0m4 2h0m7 1h0m13 8h0m2-24h0m3 5h0m2 23h0m7-2h0m1-22h0m-375 38h0m44 29h0m36-30h0m12 9h0m8-3h0m1 16h0m6-22h0m5 13h0m10 17h0m2-4h0m9-10h0m2-1h0m5 1h0m0-17h0m2 11h0m1 10h0m4-19h0m22 12h0m0-6h0m3 27h0m10-27h0m4 20h0m3-19h0m9 9h0m0-12h0m0-5h0m2 33h0m13-20h0m9 13h0m6-7h0m23 3h0m18-14h0m15 7h0m5 4h0m10-14h0m15 17h0m11-3h0m1-19h0m9 6h0m1 17h0m2-23h0m13 7h0m1-8h0m8 26h0m1-10h0m-393 49h0m8 13h0m7-9h0m11-16h0m8 2h0m23 14h0m20 1h0m4-21h0m23-4h0m23 22h0m11 4h0m2-25h0m6 3h0m1 2h0m15 8h0m34-13h0m19 16h0m11-18h0m6 17h0m5-19h0m1 28h0m18 6h0m5-13h0m15 6h0m8 9h0m3-30h0m5 9h0m0-17h0m14 19h0m19-14h0m2 17h0m16 6h0m8-24h0m5 16h0m6-8h0m4-3h0m12 5h0m22 7h0m6-8h0m1 23h0m25-2h0m12 1h0m-469 39h0m40-14h0m14-10h0m6-11h0m26 1h0m10 13h0m22-12h0m13 7h0m0 12h0m13 6h0m17-4h0m4-12h0m10 22h0m5-4h0m21 4h0m4-33h0m11 33h0m2-31h0m3 30h0m4 2h0m1 4h0m4-6h0m4 7h0m4-32h0m5 26h0m9-26h0m7 16h0m7 10h0m10 1h0m3-2h0m14-19h0m27-9h0m13 10h0m17 7h0m5-17h0m3 8h0m8 14h0m2-6h0m5-18h0m15 18h0m2-19h0m1 11h0m5-8h0m25 33h0m3-21h0m0 21h0m1-16h0m6 5h0m1-8h0m3 15h0m23-28h0m2 12h0m8 16h0m1-20h0m15 24h0m1 1h0m13-6h0m-506 28h0m0 11h0m19-26h0m5 33h0m24-38h0m7 23h0m17-23h0m18 36h0m7 1h0m22-22h0m3-14h0m1 38h0m1-30h0m21 23h0m16-11h0m12-19h0m13-2h0m9 11h0m11 23h0m11 1h0m56-7h0m4-15h0m9 7h0m2-7h0m17 2h0m23 7h0m10-20h0m2 15h0m12 18h0m6-30h0m6 21h0m20-18h0m9 12h0m0-18h0m19 26h0m13-1h0m1-18h0m0 10h0m12 11h0m2-22h0m2 7h0m3 12h0m24-2h0m3-21h0m4 24h0m23-19h0m6 28h0m2-22h0m0 18h0m3-11h0m0 15h0m5-1h0m5-4h0m-514 9h0m30 36h0m1-11h0m11 0h0m12-19h0m38 26h0m17-1h0m17-13h0m2 6h0m12-13h0m2-12h0m23 24h0m1 2h0m57-8h0m8-17h0m16 22h0m10-10h0m10 12h0m3-6h0m12 17h0m1 0h0m35-2h0m12-29h0m2 26h0m2-29h0m5 35h0m6-28h0m8 1h0m18 13h0m16-21h0m0 37h0m23-16h0m3-16h0m8-4h0m21 1h0m8-1h0m0 35h0m2-4h0m3-32h0m6 16h0m2-15h0m23 17h0m3 3h0m5-21h0m4 2h0m4 8h0m5 8h0m8 12h0m5 1h0m8-21h0m0 15h0m-490 29h0m34 8h0m5-24h0m7 10h0m22 2h0m8 7h0m36-9h0m5 29h0m1-23h0m1-4h0m15-2h0m0 28h0m11-2h0m4-21h0m2-5h0m0 23h0m5 5h0m3-11h0m6-8h0m20 8h0m35 9h0m3-16h0m1-13h0m11 3h0m9 22h0m26 4h0m36 3h0m18-9h0m1 7h0m14-34h0m6 13h0m14 20h0m14-21h0m1 15h0m2-13h0m3 20h0m4-23h0m8-3h0m1-11h0m3 20h0m16-7h0m6 1h0m11-14h0m7 36h0m10-9h0m3-27h0m2 6h0m53 9h0m-484 54h0m53-8h0m3-18h0m6 14h0m0-8h0m4 21h0m6 3h0m2-23h0m34 27h0m0-29h0m14 9h0m3 2h0m1-15h0m2 23h0m23-16h0m4-3h0m6 22h0m6-28h0m2 7h0m8 18h0m4-24h0m2 8h0m6-7h0m12 23h0m48-26h0m2 38h0m24-6h0m3 1h0m3 2h0m2-15h0m5 2h0m2 6h0m2-12h0m1 6h0m4 12h0m25-33h0m0 2h0m54 13h0m9-2h0m1 3h0m9 6h0m0-4h0m24-3h0m15-9h0m1-1h0m2-7h0m14 34h0m7-3h0m7 2h0m36 1h0m2-19h0m-456 39h0m6-5h0m37 3h0m15-5h0m8 12h0m1 16h0m10-3h0m62-15h0m10-8h0m3-9h0m4 22h0m17-14h0m3-1h0m4 17h0m23-1h0m0-1h0m4 0h0m32 7h0m11-12h0m22 7h0m69 10h0m16-32h0m36 22h0m4-1h0m0 7h0m10 4h0m24-9h0m3-15h0m20-10h0m-400 46h0m23 16h0m37 4h0m6 10h0m19-8h0m5-22h0m51 29h0m4-10h0m2-12h0m6 24h0m12 1h0m4-15h0m2-18h0m6 15h0m14 0h0m2-8h0m11 9h0m4-4h0m2-12h0m19 19h0m3-14h0m6 28h0m2-35h0m9-1h0m4 33h0m7-28h0m48 6h0m5-1h0m40-11h0m-210 41h0m20 4h0" stroke="#c4c4c4" stroke-width="17.0" stroke-linecap="round" fill="none"/>
<path transform="scale(.1)" d="M1985 5699h0m30 20h0m-117 58h0m136 51h0m-6 37h0m-87 29h0m32-13h0m22 29h0m65 5h0m-139 29h0m149-11h0m65-2h0m-189 31h0m233 26h0m28-11h0m-337 49h0m80 3h0m69-15h0m221 3h0m-328 48h0m96 12h0m135-7h0m44 4h0m-169 35h0m21 0h0m58 5h0m46 4h0" stroke="#c9968a" stroke-width="17.0" stroke-linecap="round" fill="none"/>
<path transform="scale(.1)" d="M1937 5718h0m93-27h0m123 22h0m-288 13h0m49 12h0m83 3h0m153-3h0m5-8h0m34 21h0m-403 16h0m16 29h0m69-20h0m5 17h0m14-4h0m4-4h0m103 12h0m36-23h0m13 12h0m130 10h0m-384 6h0m18 29h0m3-15h0m1-13h0m74 3h0m64 28h0m0-12h0m84 11h0m76-32h0m-317 65h0m11 10h0m22-27h0m28 21h0m74-12h0m54 4h0m2-7h0m4-5h0m182 26h0m56-15h0m19 17h0m-475 20h0m2-1h0m73 16h0m46-19h0m30 11h0m2 0h0m76-23h0m20 7h0m55 19h0m109-17h0m-408 42h0m14 0h0m27 17h0m134-10h0m41-7h0m42 11h0m4 0h0m123-5h0m-368 22h0m89 8h0m34 4h0m23 8h0m20 5h0m47 8h0m14 4h0m27-19h0m74-17h0m123 6h0m48 30h0m-475 14h0m154 14h0m37 0h0m238 5h0m14-16h0m13-12h0m24 16h0m-455 21h0m8 20h0m32-15h0m73 26h0m4-7h0m32 11h0m102-21h0m136 15h0m18-2h0m29-12h0m-385 28h0m66 30h0m8-26h0m6 21h0m2-5h0m3-16h0m21-5h0m10 34h0m41 3h0m127-8h0m14-19h0m60-8h0m-257 41h0" stroke="#cb8777" stroke-width="17.0" stroke-linecap="round" fill="none"/>
<path transform="scale(.1)" d="M1850 5749h0m45 3h0m-88 28h0m109 9h0m5-8h0m11 10h0m-120 24h0m112-7h0m13 21h0m53-4h0m97-8h0m51 11h0m63 4h0m-439 42h0m57-31h0m1 28h0m79 1h0m71-11h0m73-9h0m4 26h0m137-3h0m-436 18h0m2 5h0m7-1h0m5 11h0m74-1h0m133 4h0m11-19h0m82-2h0m138 5h0m9 24h0m-453 33h0m11-1h0m37-5h0m73-3h0m8-13h0m113 13h0m22 14h0m5-36h0m1 32h0m17 3h0m19-34h0m189 29h0m15 8h0m-473 5h0m25 34h0m28-34h0m66 30h0m220-29h0m-336 43h0m64-3h0m35 31h0m6-15h0m39 10h0m6-7h0m28 6h0m7-1h0m82 9h0m85-6h0m29-5h0m32-12h0m5-4h0m14 21h0m-406 18h0m61-9h0m29 23h0m39 13h0m49-37h0m27 18h0m3 8h0m10-21h0m14-5h0m20 34h0m72-27h0m37-2h0m13-4h0m4 21h0m8 14h0m63-16h0m-296 24h0m29 29h0m67-26h0m64 31h0m3-14h0m16 5h0m40-29h0m2 25h0m-172 18h0" stroke="#c67765" stroke-width="17.0" stroke-linecap="round" fill="none"/>
<path transform="scale(.1)" d="M1767 5797h0m67-9h0m67 10h0m98-30h0m-231 59h0m41 12h0m2 0h0m10-27h0m19 4h0m1-13h0m101-1h0m238 9h0m-430 42h0m10 22h0m5-35h0m39 6h0m109 32h0m4-18h0m49-6h0m21 1h0m14 8h0m27-22h0m50 36h0m-293 35h0m22 4h0m30-15h0m8 5h0m22-17h0m70 27h0m306-15h0m-482 49h0m4-7h0m159-21h0m-163 39h0m47 1h0m24 27h0m58-6h0m41-18h0m333 21h0m-443 35h0m45 11h0m3 2h0m50-2h0m97-8h0m151 2h0m61 7h0m22-22h0m10-10h0m11 9h0m4 17h0m7-5h0m0 11h0m-352 42h0m9 3h0m17-32h0m17 22h0m4-16h0m53 0h0m0 22h0m125-26h0m105 8h0m21-13h0m6 17h0m9 2h0m1-18h0m3 3h0m-295 54h0m100 16h0m25-33h0" stroke="#bc6554" stroke-width="17.0" stroke-linecap="round" fill="none"/>
<path transform="scale(.1)" d="M1795 5753h0m42-4h0m16 3h0m5-12h0m4-10h0m2 47h0m60-13h0m-161 47h0m28 24h0m51 1h0m22-6h0m31-3h0m31-26h0m-149 51h0m16-1h0m1 28h0m-40 3h0m46 6h0m105 18h0m-106 33h0m106 6h0m-144 28h0m49-6h0m41 4h0m16 7h0m21-16h0m-101 43h0m26-1h0m22 24h0m17-20h0m58 20h0m10 3h0m40-11h0m-71 50h0m405-20h0m-397 37h0" stroke="#b25443" stroke-width="17.0" stroke-linecap="round" fill="none"/>
<path transform="scale(.1)" d="M1836 5745h0m-5 54h0m29-25h0m78-8h0m-170 57h0m47-8h0m0 47h0m112-4h0m-102 30h0m-51 53h0m47-4h0m0 15h0m-36 12h0m32 44h0m25 40h0" stroke="#a84232" stroke-width="17.0" stroke-linecap="round" fill="none"/>
<path transform="scale(.1)" d="M843 6633h0m8-6h0m14 2h0m30-1h0m81 11h0m17-7h0m1-9h0m8 1h0m13 12h0m13-1h0m5-9h0m-199 28h0m22 10h0m19-22h0m3 27h0m2 7h0m4-24h0m6-7h0m6 1h0m9-1h0m18 33h0m11-19h0m9 10h0m7-3h0m6 9h0m5-31h0m1 27h0m15-17h0m12 10h0m0 7h0m3-29h0m1 30h0m34 6h0m6-15h0m11-21h0m6 29h0m2-23h0m9-1h0m21 17h0m-256 45h0m6-27h0m12 5h0m3 9h0m11 9h0m7-11h0m5 2h0m1 1h0m4 8h0m18-4h0m22 7h0m19-17h0m16 9h0m14-17h0m3 18h0m3-13h0m6 6h0m10-6h0m20-3h0m0 29h0m7-26h0m34-2h0m-104 37h0m38 12h0" stroke="#c4c4c4" stroke-width="17.0" stroke-linecap="round" fill="none"/>
<path transform="scale(.1)" d="M854 6639h0m68-2h0m11-5h0m9 7h0m13-22h0m25 20h0m35-6h0m4 1h0m-182 27h0m21-14h0m17 31h0m18-36h0m6 32h0m46-18h0m7-1h0m18-10h0m3 25h0m12-12h0m38 14h0m14-5h0m-221 37h0m11-11h0m17-5h0m15-3h0m7-1h0m46 13h0m20 20h0m30-35h0m7 29h0m4-8h0m19-9h0m8 5h0m7-1h0m35-16h0m5 17h0m-225 32h0m7 8h0m23 20h0m82-1h0m22-13h0m6 3h0m22-18h0m4 11h0m2 1h0m3-9h0m16 22h0m22-10h0m7 15h0m8-34h0m9 24h0m-221 44h0m32-23h0m51 9h0m31-1h0m7-9h0m11 4h0m73 5h0m30-10h0m-210 50h0m64-15h0m148 33h0m31-23h0m-243 60h0m151-27h0m-49 50h0" stroke="#c5b4b0" stroke-width="17.0" stroke-linecap="round" fill="none"/>
<path transform="scale(.1)" d="M827 6715h0m42-3h0m40 7h0m5-1h0m55-19h0m39 1h0m-261 22h0m19 33h0m1-3h0m13-14h0m9-18h0m35 22h0m9 11h0m17 3h0m18-23h0m31 24h0m1-31h0m2 24h0m16-22h0m20 22h0m4-21h0m16 12h0m3 11h0m11-29h0m3 26h0m25-28h0m27 1h0m0 34h0m5-21h0m5-1h0m16 3h0m13 18h0m1 3h0m-313 13h0m7 22h0m46-9h0m35 10h0m12-4h0m9-3h0m11-20h0m14 27h0m4-9h0m1-15h0m5-10h0m7 9h0m8 4h0m13 24h0m4-6h0m4-28h0m5 12h0m5-9h0m18 9h0m29-14h0m25 1h0m4 37h0m10-3h0m19-21h0m8-2h0m5 8h0m5 12h0m2 1h0m3-16h0m6-10h0m-381 36h0m99-1h0m50 25h0m0-7h0m13-18h0m7 13h0m0-15h0m3 19h0m37-2h0m12-5h0m10-9h0m1-2h0m9 24h0m1 0h0m10-12h0m1-1h0m7 2h0m4 3h0m5-18h0m2 0h0m3 10h0m5 26h0m24 3h0m2-9h0m2-19h0m37 26h0m1-18h0m21 15h0m5 0h0m29-17h0m4-4h0m13 14h0m-293 20h0m53 16h0m32-6h0m22-16h0m70 31h0m5-17h0m44-1h0m3-11h0m5-2h0m64 16h0m1 13h0m-205 10h0m73 2h0m3 3h0m100 22h0m3-8h0m-234 31h0m49-7h0m70 15h0m96 2h0m39-18h0" stroke="#c7a59d" stroke-width="17.0" stroke-linecap="round" fill="none"/>
<path transform="scale(.1)" d="M747 6737h0m79-15h0m40 7h0m166 24h0m2 2h0m-322 27h0m4 11h0m94-29h0m41 4h0m66 23h0m3-4h0m82-13h0m52 4h0m7-7h0m-435 41h0m82-1h0m92 11h0m32-6h0m4 23h0m3-32h0m8 26h0m1-13h0m12 4h0m13-10h0m36-14h0m8 9h0m11 24h0m43-6h0m3-26h0m16 27h0m28 1h0m21-24h0m31-3h0m3 20h0m3 6h0m36-13h0m-452 63h0m50-8h0m47-27h0m28 5h0m36 15h0m23-18h0m7 18h0m13-13h0m13 1h0m3-7h0m22 8h0m13 24h0m6-18h0m1-9h0m1 12h0m17 12h0m2-28h0m2 18h0m3 3h0m11-1h0m21-18h0m16-2h0m20 14h0m1-5h0m29 8h0m6-1h0m8-8h0m3 24h0m15-19h0m16-16h0m13-2h0m4 4h0m3-2h0m12 19h0m7-1h0m2 0h0m3 10h0m-389 34h0m39-8h0m13 15h0m5-19h0m19 27h0m14-10h0m8-1h0m0 6h0m4 2h0m23 2h0m18-32h0m2-1h0m2 12h0m23 17h0m4-2h0m10-7h0m10 9h0m10-13h0m20-16h0m4 0h0m13-4h0m8 10h0m1 0h0m9 26h0m5 1h0m8-32h0m16 17h0m35-20h0m0 29h0m13 4h0m1-22h0m36-10h0m0 0h0m3-4h0m7 32h0m10-13h0m1 10h0m4-3h0m2-13h0m7 22h0m11-7h0m-383 30h0m50 4h0m0-15h0m19 2h0m12 15h0m29-9h0m17-4h0m42 1h0m14-12h0m20 21h0m53-6h0m4 6h0m2-11h0m2 24h0m7-6h0m18-7h0m2 9h0m16-24h0m7 15h0m6-18h0m13 13h0m-335 37h0m32-6h0m110-1h0m0 9h0m5 0h0m30 8h0m19-22h0m3 12h0m30 12h0m6-16h0m15-6h0m11 3h0m12 9h0m7-14h0m43 6h0m1-1h0m2-5h0m5 2h0m11 8h0m-375 41h0m8 7h0m37-18h0m19 1h0m187 3h0m85-3h0m8 2h0m23-3h0" stroke="#c9968a" stroke-width="17.0" stroke-linecap="round" fill="none"/>
<path transform="scale(.1)" d="M680 6733h0m92 21h0m55-5h0m-165 25h0m72 3h0m24-11h0m276 29h0m-408 14h0m63 19h0m32-6h0m28 2h0m186 7h0m-304 24h0m19 1h0m5 8h0m31-13h0m16-8h0m38 11h0m46-1h0m6-6h0m1-1h0m95 14h0m19 19h0m73-39h0m14 2h0m67 23h0m50 3h0m-465 45h0m59-18h0m18 8h0m24-2h0m14 0h0m30 13h0m10-11h0m17 7h0m5 2h0m11-2h0m4-8h0m21 7h0m8-12h0m3 4h0m21 11h0m49 2h0m7-4h0m7-22h0m2-2h0m35 33h0m24-4h0m7 4h0m11-19h0m16 13h0m27 1h0m5-2h0m14-3h0m30-13h0m19 3h0m-483 59h0m27-28h0m7 17h0m19 11h0m6-36h0m2 4h0m8 21h0m5 1h0m5-5h0m3-10h0m3 0h0m2 8h0m2-19h0m36 7h0m2 24h0m2-27h0m62 5h0m16 27h0m68-20h0m12-13h0m35 34h0m11 0h0m43-27h0m1-2h0m17 20h0m5 9h0m21 0h0m17 0h0m5-20h0m6 5h0m18-23h0m-462 40h0m74 17h0m40 14h0m10-11h0m1 0h0m0 2h0m2-7h0m20 8h0m12-19h0m8 26h0m9-22h0m2 5h0m4 5h0m3 6h0m2-16h0m2 15h0m31 0h0m5-6h0m13-13h0m10 24h0m1 7h0m14-1h0m24-10h0m2-2h0m13 6h0m6-21h0m3 28h0m1-34h0m9 8h0m7 23h0m10-21h0m54 18h0m4-6h0m5 0h0m26 11h0m5 4h0m11-12h0m5-27h0m2 39h0m6-10h0m-383 17h0m65 5h0m5 24h0m27-29h0m16-4h0m11 9h0m39-8h0m2 34h0m3 0h0m14-23h0m21 19h0m8-31h0m0 5h0m12 18h0m17-3h0m6-8h0m3 22h0m13-25h0m9 28h0m19-32h0m6 1h0m9 10h0m12-9h0m5 4h0m8-13h0m13 4h0m7 24h0m15-14h0m-272 32h0m64 7h0m5 8h0m21 8h0m11-17h0m7 22h0m2-31h0m48 13h0m24 2h0m11-2h0m24-13h0" stroke="#cb8777" stroke-width="17.0" stroke-linecap="round" fill="none"/>
<path transform="scale(.1)" d="M745 6711h0m72 5h0m-109 27h0m-39 37h0m14 0h0m14 16h0m4-26h0m17 28h0m52-10h0m1 9h0m-111 39h0m10-30h0m20 13h0m5 2h0m1 16h0m8-10h0m4-10h0m28 12h0m2 7h0m5-10h0m41-19h0m44 31h0m-174 32h0m8-26h0m12 12h0m67 15h0m47-3h0m139 10h0m-248 16h0m3 19h0m8-11h0m1-12h0m2 22h0m15 6h0m36-24h0m17-10h0m19 15h0m41 3h0m134 4h0m-305 30h0m2-16h0m1 27h0m2 7h0m9-19h0m5 2h0m42 19h0m15-35h0m0 4h0m103 6h0m65-5h0m-222 38h0m44 20h0m0 7h0m11-7h0m3 12h0m12-3h0m40-5h0m15 0h0m8-19h0m58 4h0m14 11h0m59 15h0m8-2h0m8-8h0m25-16h0m85 9h0m9-14h0m17-6h0m42 36h0m1-6h0m-365 14h0m16 5h0m5 15h0m5 0h0m4-4h0m10-5h0m3 9h0m10-12h0m40 8h0m2 16h0m1-37h0m35 1h0m14 33h0m26-28h0m57-5h0m10 26h0m51-12h0m2-9h0m3 6h0m29 18h0m-261 20h0m46 11h0m48-10h0m8-11h0m7 7h0m4-2h0m6 20h0m3-25h0m10 9h0m6 19h0m6-29h0m37 22h0m16-6h0m1-6h0m16-1h0" stroke="#c67765" stroke-width="17.0" stroke-linecap="round" fill="none"/>
<path transform="scale(.1)" d="M704 6759h0m19-37h0m9 37h0m34-20h0m51-10h0m-166 58h0m30 4h0m100-5h0m-102 23h0m6 27h0m12-19h0m14 2h0m40-12h0m8 13h0m-125 23h0m67 2h0m20 18h0m19-16h0m8 23h0m-68 24h0m54 21h0m19-29h0m-94 67h0m83-11h0m3-13h0m7 25h0m13-32h0m29 5h0m-125 34h0m90 4h0m3 6h0m23 22h0m3-28h0m48 8h0m36 2h0m-53 41h0m15 4h0" stroke="#bc6554" stroke-width="17.0" stroke-linecap="round" fill="none"/>
<path transform="scale(.1)" d="M652 6752h0m27-10h0m-49 142h0m98 35h0m446 40h0m9-9h0m-442 35h0m15-21h0m391 17h0m22-17h0m-410 44h0m379-4h0m1 26h0" stroke="#b25443" stroke-width="17.0" stroke-linecap="round" fill="none"/>
<path transform="scale(.1)" d="M1145 6952h0m1-5h0m2 37h0m39-16h0m5 16h0m-412 45h0m360-27h0m9 6h0m17 8h0" stroke="#a84232" stroke-width="17.0" stroke-linecap="round" fill="none"/>
<path transform="scale(.1)" d="M1135 6954h0m42 3h0m-25 5h0m4-1h0m32 8h0m-21 49h0" stroke="#9e3121" stroke-width="17.0" stroke-linecap="round" fill="none"/>
<path transform="scale(.1)" d="M844 6626h0m11 7h0m52-4h0m6-1h0m0 8h0m31-9h0m22-7h0m49 12h0m13-16h0m4-9h0m3 15h0m3 8h0m15-1h0m-221 46h0m9-5h0m7 7h0m18-25h0m1 25h0m3-4h0m10-8h0m3 2h0m14 10h0m23-34h0m7 20h0m7-4h0m1 8h0m1 12h0m2-39h0m63 19h0m14 4h0m9-10h0m9-13h0m2 26h0m27-5h0m7-4h0m-223 24h0m14 9h0m4 2h0m13-7h0m9 5h0m8-2h0m3 10h0m6-13h0m6 13h0m31-6h0m25 4h0m4 8h0m18-4h0m15-1h0m13-10h0m2-8h0m21 10h0m6 18h0m1-12h0m-36 53h0" stroke="#c4c4c4" stroke-width="17.0" stroke-linecap="round" fill="none"/>
<path transform="scale(.1)" d="M864 6635h0m34-9h0m99-15h0m-119 60h0m7-24h0m23-3h0m2 9h0m10 21h0m2-34h0m5 2h0m11 34h0m39-14h0m32-14h0m3 31h0m9-7h0m9-16h0m31-15h0m-267 65h0m28 0h0m14 8h0m20-4h0m41 9h0m4-14h0m2 13h0m4-12h0m4-8h0m2 2h0m5 0h0m3 16h0m2-1h0m1-9h0m2 7h0m16-27h0m2 6h0m19 10h0m21-11h0m10 0h0m9-6h0m6 26h0m26-19h0m-222 67h0m4-22h0m13 4h0m36-9h0m4 1h0m1 18h0m9-7h0m11-10h0m45-11h0m7-2h0m5 35h0m26-28h0m65-8h0m2 37h0m8-33h0m-165 37h0m31 30h0m110-7h0m16-19h0m21 4h0m-228 56h0m190-19h0m19-6h0m13 11h0" stroke="#c5b4b0" stroke-width="17.0" stroke-linecap="round" fill="none"/>
<path transform="scale(.1)" d="M772 6710h0m43-7h0m6 7h0m5-2h0m47 10h0m11-6h0m-113 9h0m23 31h0m27-14h0m12 19h0m20-15h0m3-4h0m58 11h0m14-3h0m10-6h0m8-15h0m1-2h0m25 28h0m2-5h0m20-25h0m1 27h0m36 11h0m6-15h0m-323 16h0m58 30h0m50-8h0m14-17h0m6 4h0m9 16h0m4 7h0m15-17h0m2 3h0m7 12h0m0-1h0m3-21h0m2-3h0m0 15h0m2-13h0m3 7h0m7-8h0m15 32h0m15-7h0m1 3h0m2-5h0m18-1h0m7-7h0m22 9h0m21-29h0m12 25h0m1-10h0m14-10h0m2 26h0m9-12h0m6 6h0m12-19h0m9 23h0m1 1h0m3-27h0m2 5h0m10 22h0m11 6h0m5 1h0m-312 6h0m9 33h0m42-27h0m0 18h0m30-3h0m31-5h0m8-6h0m4 1h0m4-4h0m1 23h0m6 0h0m66 4h0m4-22h0m29 2h0m13-9h0m13 7h0m8-16h0m1 30h0m5-13h0m2-7h0m14-3h0m15 17h0m8-19h0m6 32h0m2-13h0m-304 32h0m19 3h0m58-19h0m10 7h0m25 20h0m17 9h0m20-18h0m44-6h0m6 18h0m13-9h0m116-6h0m1-1h0m12 6h0m-305 22h0m150-1h0m156-1h0m6 0h0m-443 42h0m267 23h0m154-10h0m-77 35h0" stroke="#c7a59d" stroke-width="17.0" stroke-linecap="round" fill="none"/>
<path transform="scale(.1)" d="M808 6713h0m36 30h0m-196 38h0m24-11h0m4-5h0m11 21h0m94 6h0m9-4h0m22-11h0m14-3h0m9 18h0m23-6h0m12-5h0m13 15h0m2-19h0m83 16h0m12-7h0m7 11h0m27-5h0m10-17h0m34 7h0m-325 29h0m33-10h0m11 10h0m39 5h0m13 13h0m17-9h0m42 11h0m3-15h0m5-7h0m59 9h0m24 21h0m1-36h0m4 6h0m1 11h0m21-7h0m0-10h0m45 32h0m39-22h0m3-13h0m15 18h0m2 21h0m5-3h0m-424 5h0m117 32h0m13-21h0m16-2h0m0 5h0m6 22h0m33-27h0m1-3h0m5-7h0m9 6h0m6 12h0m14 15h0m1-29h0m13 2h0m22 15h0m5 17h0m9-33h0m15 22h0m8-18h0m7-8h0m5 35h0m11-3h0m5-11h0m6-19h0m26 25h0m32-16h0m14 13h0m2 1h0m3-4h0m6-4h0m13-18h0m6 27h0m6 1h0m2-12h0m2 18h0m11-10h0m-484 20h0m43 18h0m51-4h0m23-13h0m26 28h0m0-2h0m12-16h0m6 1h0m6 8h0m32-12h0m11 23h0m3-7h0m32-3h0m24 8h0m33-16h0m39-2h0m1 21h0m32-7h0m3 3h0m6-19h0m19 3h0m6-7h0m6 7h0m35 6h0m22-9h0m4 15h0m2-13h0m17 16h0m2-14h0m-427 47h0m104-21h0m6 23h0m5-6h0m39-12h0m2 25h0m6-5h0m19 5h0m16-16h0m58-6h0m5-4h0m17 10h0m8-12h0m41 4h0m27 3h0m22-9h0m27 0h0m-398 68h0m173-24h0m34 9h0m21-9h0m0 32h0m74-5h0m72-3h0m-246 30h0m35-15h0m7 12h0m3-16h0m41 1h0m24 17h0m11-8h0m20 4h0m48-15h0" stroke="#c9968a" stroke-width="17.0" stroke-linecap="round" fill="none"/>
<path transform="scale(.1)" d="M666 6744h0m62 12h0m-81 25h0m145 7h0m23-2h0m5 9h0m139-23h0m-313 58h0m9-24h0m19 19h0m6 7h0m0-5h0m73 2h0m10-21h0m18 30h0m79-1h0m46-22h0m208 18h0m-468 22h0m47-12h0m1 24h0m14-3h0m7-21h0m1 1h0m2 19h0m14-22h0m13 2h0m60 7h0m170-2h0m50 23h0m-383 15h0m57-6h0m1 37h0m29-25h0m25 7h0m0-5h0m3 11h0m2-12h0m3 18h0m18-17h0m30 25h0m10-1h0m10-8h0m62-25h0m10 34h0m11-28h0m24-11h0m23 12h0m24 25h0m0-32h0m1 27h0m15-6h0m1-8h0m22 18h0m35-12h0m11 11h0m27-19h0m4-8h0m0 28h0m8-2h0m15 0h0m-463 43h0m15-9h0m80-20h0m23 3h0m4 12h0m8-5h0m4-5h0m15 13h0m4-15h0m42-10h0m5 38h0m13-28h0m6 15h0m15-18h0m24 18h0m8 6h0m1-19h0m30 9h0m5 12h0m22-29h0m8 25h0m18-2h0m20-3h0m16-4h0m16 11h0m15-15h0m9-2h0m4 5h0m6-12h0m11 22h0m58-30h0m-471 47h0m40 31h0m27-29h0m1 24h0m12-3h0m5-12h0m33 11h0m4-23h0m11 18h0m13 15h0m13-25h0m8-4h0m7 7h0m8 2h0m4 19h0m5-1h0m20-3h0m3-2h0m4 4h0m7-5h0m2-22h0m7-8h0m5 5h0m11-6h0m9 21h0m13 4h0m8 5h0m6-9h0m47-13h0m5-8h0m21 16h0m2 14h0m19 6h0m5-13h0m4-3h0m2 3h0m1 15h0m3-24h0m23-13h0m0 32h0m-354 7h0m17 1h0m24 35h0m20-33h0m29 19h0m18 0h0m12 16h0m11-27h0m14 11h0m17 9h0m8-30h0m0 9h0m15-7h0m51 20h0m5-1h0m0-15h0m3 25h0m1 5h0m12-2h0m22-17h0m0 13h0m4-21h0m19 2h0m5-11h0m5 6h0m3 30h0m11-8h0m9-25h0m5 12h0m0 17h0m1 4h0m14-8h0m-228 18h0m21 21h0m7-22h0m35 13h0m91-12h0m5-4h0m7 8h0" stroke="#cb8777" stroke-width="17.0" stroke-linecap="round" fill="none"/>
<path transform="scale(.1)" d="M777 6719h0m2-12h0m-97 30h0m39 13h0m50-18h0m-120 56h0m15-15h0m4-9h0m45 11h0m95 19h0m-164 33h0m39-21h0m18-1h0m4 8h0m15 23h0m10-3h0m35-19h0m40 22h0m-186 4h0m17 9h0m10-7h0m24 1h0m11 9h0m0 5h0m1-15h0m10 28h0m31-3h0m4-4h0m65 0h0m27 6h0m-184 17h0m20-5h0m0 6h0m3 19h0m13-5h0m3-2h0m5-14h0m36 34h0m9-5h0m5-22h0m1 10h0m23 12h0m2-26h0m17 4h0m7 17h0m49 1h0m77 3h0m-263 26h0m9-3h0m36 3h0m34 13h0m7-10h0m8-9h0m27 8h0m19 5h0m257-9h0m-359 39h0m7-5h0m17-2h0m8 27h0m2-30h0m19 0h0m25-3h0m2 19h0m11-21h0m2-1h0m5 25h0m35 3h0m5-8h0m9 19h0m11-26h0m6 1h0m2-11h0m1 13h0m1 14h0m2-29h0m4 38h0m23-12h0m27-24h0m7-2h0m5 34h0m18-21h0m5 24h0m15 1h0m13-18h0m5 8h0m7-27h0m6 25h0m19 10h0m68-6h0m-324 22h0m27 6h0m8-11h0m9 16h0m3 15h0m28-21h0m5 0h0m2 8h0m2 3h0m3 3h0m21 2h0m1-3h0m16-30h0m11 23h0m33 3h0m2 7h0m23-1h0m10-7h0m8-2h0m36-1h0m14-13h0m29 22h0m1-8h0m9 8h0m3 6h0m10-4h0m44-17h0m-290 24h0m42 18h0m9-2h0m15-14h0m1 7h0m24 14h0m15-11h0m25 0h0m8 19h0m7-20h0m4 18h0m1-20h0m16 17h0m12-22h0m1 5h0m7 6h0m31-12h0" stroke="#c67765" stroke-width="17.0" stroke-linecap="round" fill="none"/>
<path transform="scale(.1)" d="M647 6797h0m42-31h0m24-5h0m116 2h0m-193 46h0m25 2h0m84 16h0m17 7h0m8-19h0m-145 43h0m2 11h0m14-18h0m41 28h0m6-13h0m98-5h0m5-17h0m-155 49h0m52 14h0m22-12h0m3 10h0m7 0h0m8-6h0m10 6h0m-9 53h0m69 0h0m-100 24h0m49 10h0m35 36h0m48-16h0m295 7h0m-226 30h0m20 0h0m21 8h0m15-2h0m8-12h0m86-1h0" stroke="#bc6554" stroke-width="17.0" stroke-linecap="round" fill="none"/>
<path transform="scale(.1)" d="M662 6793h0m127 4h0m-147 70h0m129-23h0m-68 53h0m-39 32h0m56-7h0m420 22h0m3-19h0m21 12h0m9-11h0m-483 49h0m466-1h0m2 16h0m7-13h0m17 20h0m-418 23h0m393-13h0m17 0h0" stroke="#b25443" stroke-width="17.0" stroke-linecap="round" fill="none"/>
<path transform="scale(.1)" d="M1137 6951h0m13 1h0m2-23h0m1 50h0m6-16h0m10 57h0" stroke="#a84232" stroke-width="17.0" stroke-linecap="round" fill="none"/>
<path transform="scale(.1)" d="M1147 6956h0m26-21h0m6 19h0m-7 22h0m6-16h0m8 20h0m-22 29h0" stroke="#9e3121" stroke-width="17.0" stroke-linecap="round" fill="none"/>
<path transform="scale(.1)" d="M899 6632h0m1-11h0m14 3h0m24 14h0m6-23h0m2 22h0m9-15h0m4 13h0m4-1h0m5-2h0m6-4h0m6-12h0m1 2h0m27 14h0m3-1h0m2-10h0m18 18h0m5-27h0m6 16h0m8-5h0m-211 49h0m1-14h0m12-9h0m1-8h0m12 10h0m1 1h0m7 27h0m5-4h0m24-17h0m6-8h0m2 17h0m1 5h0m4-30h0m1 29h0m1-1h0m10 2h0m14 1h0m16-27h0m7 1h0m7 25h0m2-7h0m9-11h0m21-3h0m1-10h0m10 28h0m2 3h0m32-26h0m16 10h0m16 0h0m-260 47h0m9 7h0m4-27h0m1 22h0m2-15h0m1 11h0m54 6h0m16-12h0m10 13h0m3 11h0m15-29h0m5 11h0m26 0h0m7 10h0m4-20h0m38-6h0m13 2h0m-99 35h0m23 25h0m84-27h0" stroke="#c4c4c4" stroke-width="17.0" stroke-linecap="round" fill="none"/>
<path transform="scale(.1)" d="M878 6636h0m72-11h0m-111 54h0m11 0h0m12-15h0m50-1h0m13-9h0m0-13h0m11 0h0m8 33h0m25-33h0m24 36h0m33-18h0m30-13h0m7 18h0m-281 39h0m32-6h0m18 14h0m20-11h0m22-16h0m36 31h0m1-11h0m2-13h0m32 12h0m2 7h0m9-25h0m15 10h0m24-12h0m17 32h0m0-9h0m43-22h0m-301 38h0m91 4h0m36-2h0m8 33h0m0-15h0m1 9h0m13-4h0m1-20h0m18 6h0m1 6h0m20-10h0m4 20h0m36-17h0m8-8h0m8 11h0m2-9h0m3 18h0m4 3h0m3-25h0m27 25h0m-307 37h0m126-13h0m5 4h0m38-2h0m11 21h0m19-28h0m21-4h0m101 0h0m15 7h0m5 2h0m-82 34h0m5 7h0m-89 56h0" stroke="#c5b4b0" stroke-width="17.0" stroke-linecap="round" fill="none"/>
<path transform="scale(.1)" d="M757 6712h0m256-11h0m-243 29h0m34 20h0m10-26h0m1 23h0m1 6h0m16-8h0m28-19h0m7 8h0m10 15h0m4-14h0m1-15h0m6 21h0m2-16h0m8 12h0m0 9h0m15 13h0m5-34h0m14 10h0m38-3h0m0 23h0m1-14h0m15-2h0m2 3h0m7-22h0m18 29h0m2-15h0m6-4h0m17 18h0m17-8h0m-262 31h0m7 8h0m15 4h0m18-8h0m5-11h0m2 16h0m20 3h0m2-14h0m29 12h0m3 4h0m4-17h0m3 22h0m0-25h0m2 8h0m9 4h0m9-8h0m6-3h0m4-4h0m1 1h0m1 26h0m4-3h0m22-8h0m10 16h0m12-28h0m43 5h0m1 10h0m3-13h0m5 19h0m14-12h0m8 2h0m4 1h0m9-4h0m10 5h0m11 20h0m-352 9h0m39 12h0m3-5h0m50 3h0m45 10h0m1-27h0m5-1h0m6 19h0m7 1h0m16 10h0m9 4h0m21-11h0m3 11h0m8-11h0m6-20h0m1 29h0m1-13h0m7 4h0m2-16h0m11 12h0m12-15h0m14 29h0m11-17h0m6-5h0m10-2h0m6 12h0m9-19h0m61 36h0m-357 14h0m53 17h0m29 2h0m63-27h0m5 4h0m4 22h0m27-6h0m7-19h0m11 2h0m11 27h0m45-28h0m12 28h0m22-10h0m23-7h0m33 20h0m17-1h0m1-12h0m5-10h0m4-13h0m1 20h0m-114 47h0m46 14h0" stroke="#c7a59d" stroke-width="17.0" stroke-linecap="round" fill="none"/>
<path transform="scale(.1)" d="M703 6758h0m53-27h0m16 12h0m30 6h0m93-29h0m69 20h0m4-1h0m2 7h0m-124 29h0m7 17h0m71-13h0m5 8h0m41-13h0m106-10h0m-304 74h0m45-4h0m4 4h0m41-1h0m11-37h0m28 9h0m14 12h0m7 8h0m7-1h0m41 2h0m17 1h0m61 5h0m28-15h0m8 15h0m20-15h0m0-16h0m5 14h0m12 15h0m-424 21h0m12 14h0m21 9h0m18-4h0m4-26h0m18 20h0m25-1h0m62-16h0m1 6h0m7 3h0m5-15h0m1 8h0m1-6h0m2 22h0m0-1h0m62-18h0m5 13h0m34-2h0m8-16h0m29 5h0m7 3h0m7 14h0m7 3h0m28-30h0m7 14h0m44-14h0m21 13h0m-470 34h0m50 29h0m47 2h0m3-15h0m30-15h0m3 24h0m10-7h0m7-9h0m18-15h0m10 23h0m4-10h0m13 8h0m5-22h0m9 3h0m2 17h0m10-9h0m4 5h0m9-2h0m44 0h0m2 13h0m34-13h0m2 7h0m3-7h0m15-3h0m45 27h0m27-7h0m1-24h0m9 12h0m8 2h0m10 1h0m41-14h0m16 12h0m6 15h0m-443 41h0m55-34h0m20 10h0m39-3h0m17 1h0m25-9h0m17 23h0m67-23h0m3 21h0m53-20h0m30 25h0m2-2h0m21-15h0m26 16h0m4 4h0m6 0h0m7 8h0m7-20h0m3 12h0m15 1h0m-270 47h0m22-20h0m24 6h0m7-18h0m4 1h0m25 15h0m18-12h0m16-5h0m8 16h0m22-5h0m8 23h0m8-12h0m5-4h0m44-20h0m37 18h0m2 3h0m-326 17h0m65 16h0m139-11h0m64-2h0m36-3h0m-210 60h0m73-21h0" stroke="#c9968a" stroke-width="17.0" stroke-linecap="round" fill="none"/>
<path transform="scale(.1)" d="M751 6720h0m5 15h0m-101 43h0m68-18h0m27 10h0m-120 45h0m1-1h0m19 16h0m2-28h0m73 16h0m49 17h0m26-32h0m0 31h0m53-1h0m83-24h0m140 30h0m1-2h0m-439 13h0m18 12h0m46-16h0m48 3h0m157 16h0m16-13h0m40 26h0m-264 31h0m1 5h0m11-3h0m42-6h0m19-23h0m40 3h0m18 20h0m0-13h0m13 23h0m8-14h0m20-20h0m47 37h0m12-4h0m32-30h0m46 34h0m29-31h0m4 19h0m23-21h0m91 28h0m-495 25h0m22 0h0m30-16h0m56 36h0m3-14h0m31 5h0m20 9h0m2-29h0m2 12h0m12-10h0m15 21h0m18-6h0m2 4h0m2-19h0m23 24h0m8-25h0m11 10h0m6-10h0m14 29h0m18-26h0m18 3h0m2 13h0m5 6h0m4-12h0m1-15h0m0-6h0m14-1h0m6 2h0m9 35h0m0-35h0m8-3h0m18 15h0m12 20h0m8-32h0m35 27h0m18-18h0m6 19h0m-405 44h0m26-31h0m2 10h0m1 21h0m11-20h0m14-13h0m29 0h0m7 32h0m6-5h0m2-29h0m20 18h0m21 16h0m7-22h0m3 1h0m14-6h0m2 4h0m6 21h0m5 0h0m5-15h0m9-8h0m26-2h0m10-7h0m31 2h0m5 33h0m0-32h0m3 29h0m23-6h0m11 4h0m5-30h0m2 30h0m9-20h0m9-2h0m1 20h0m3-26h0m10 5h0m6 4h0m5 26h0m1-17h0m24 12h0m8-32h0m1 32h0m23-28h0m6 22h0m6 8h0m-368 23h0m78-12h0m3 8h0m5 9h0m5 3h0m30 8h0m4-9h0m1 0h0m3-21h0m21 33h0m3-14h0m8-6h0m5 15h0m3-18h0m24-13h0m0 19h0m49 11h0m5 0h0m4-29h0m4 19h0m15-4h0m10 0h0m12-1h0m11 3h0m20-8h0m8-9h0m8 21h0m11-17h0m-229 54h0m29-14h0m77 18h0m21-13h0m2 0h0m19-5h0m19-5h0m22 11h0" stroke="#cb8777" stroke-width="17.0" stroke-linecap="round" fill="none"/>
<path transform="scale(.1)" d="M748 6717h0m-98 39h0m13-15h0m50 13h0m35 0h0m23-28h0m-117 57h0m49-13h0m15 7h0m1-11h0m19 10h0m26 4h0m-136 29h0m24 19h0m3-17h0m42 15h0m0 5h0m7-5h0m12-3h0m4-8h0m11 22h0m28-17h0m32-19h0m79 17h0m-245 39h0m8 19h0m21-36h0m0 17h0m8 2h0m19 6h0m36-18h0m3 22h0m25-20h0m34 4h0m0-2h0m115-10h0m211 2h0m-458 39h0m13 34h0m10-3h0m11-10h0m25-3h0m5 13h0m7-19h0m3 8h0m12-9h0m1-12h0m1 1h0m353 19h0m-448 24h0m0 6h0m15 11h0m5 11h0m23-22h0m18 27h0m1-19h0m23 17h0m1-25h0m6 7h0m18 13h0m49-24h0m11 16h0m33 4h0m18 1h0m158-26h0m83 25h0m-430 19h0m33 24h0m8-24h0m5 10h0m4-8h0m27 18h0m7-11h0m9 21h0m12-23h0m12 22h0m45-35h0m4 24h0m89 12h0m48 2h0m10-3h0m-221 26h0m18-5h0m14 0h0m6 9h0m7-8h0m7-10h0m1 24h0m11-24h0m10 27h0m5 4h0m23-25h0m8-6h0m19 19h0m2-13h0m7 20h0m16-16h0m14 3h0m3-4h0m8-8h0m12 10h0m22 12h0m4-8h0m40 17h0m19-3h0m8-33h0m15 17h0m16 2h0m2 17h0m8-23h0m42-1h0m-312 33h0m13 5h0m15-12h0m2 13h0m29 3h0m11-1h0m28-5h0m17 17h0m10-1h0m15-17h0m12 5h0m2-15h0m4 23h0m31-9h0m33-9h0" stroke="#c67765" stroke-width="17.0" stroke-linecap="round" fill="none"/>
<path transform="scale(.1)" d="M769 6719h0m-74 26h0m37-21h0m18 20h0m-105 36h0m17-15h0m2 19h0m3 13h0m-43 21h0m5-9h0m37 25h0m43-8h0m2 10h0m9-36h0m6 31h0m57-17h0m28 25h0m-176 6h0m7 21h0m15-26h0m7 35h0m9-1h0m59-15h0m1 6h0m9-19h0m-107 35h0m63 15h0m1 1h0m72 15h0m11 5h0m-31 12h0m5 12h0m17-11h0m23 23h0m-105 29h0m17-8h0m105-12h0m1 66h0m42-3h0m181 23h0" stroke="#bc6554" stroke-width="17.0" stroke-linecap="round" fill="none"/>
<path transform="scale(.1)" d="M847 6714h0m-190 63h0m-26 60h0m81-16h0m11 16h0m-29 40h0m73-9h0m-62 23h0m26 8h0m53-13h0m11 65h0m-90 10h0m19 28h0m411-29h0m32 0h0m7 10h0m1 3h0m2 22h0m-404 28h0m362 9h0m8-23h0m3-2h0m18 11h0" stroke="#b25443" stroke-width="17.0" stroke-linecap="round" fill="none"/>
<path transform="scale(.1)" d="M774 6758h0m381 165h0m-20 65h0m24 22h0m5-1h0m13 1h0" stroke="#a84232" stroke-width="17.0" stroke-linecap="round" fill="none"/>
<path transform="scale(.1)" d="M1166 6927h0m-3 60h0m3 17h0" stroke="#9e3121" stroke-width="17.0" stroke-linecap="round" fill="none"/>
<path transform="scale(.1)" d="M1977 6638h0m6-3h0m98-22h0m12 2h0m1 8h0m36-14h0m6 14h0m-153 50h0m2 5h0m7-3h0m27-12h0m2-9h0m6 6h0m9-5h0m34-8h0m41 25h0m14-6h0m2-7h0m5 2h0m4 14h0m12-35h0m2 24h0m0 0h0m1-5h0m20-17h0m2 34h0m25-5h0m-235 27h0m40-5h0m5-6h0m4 5h0m1-1h0m27-7h0m17 12h0m25 19h0m0-14h0m23-13h0m13-6h0m38 31h0m7-17h0m36-13h0m-80 37h0" stroke="#c4c4c4" stroke-width="17.0" stroke-linecap="round" fill="none"/>
<path transform="scale(.1)" d="M2061 6616h0m68 17h0m13-6h0m4-4h0m-200 50h0m24-21h0m95 13h0m30-19h0m63-2h0m4 27h0m2-30h0m1 19h0m36 8h0m-251 24h0m20 20h0m77-24h0m1 18h0m6-7h0m15-3h0m23 11h0m-14 46h0m-337 82h0m529 38h0m-285 11h0m-138 47h0m5 14h0" stroke="#c5b4b0" stroke-width="17.0" stroke-linecap="round" fill="none"/>
<path transform="scale(.1)" d="M2075 6635h0m75-1h0m-264 42h0m32-28h0m70 5h0m6 22h0m8-9h0m25 3h0m46-18h0m18 8h0m5-13h0m11 24h0m30 9h0m48-23h0m-314 60h0m57-28h0m75 21h0m135-4h0m20-12h0m-323 44h0m105 19h0m167-29h0m-289 70h0m84-30h0m130 25h0m127-8h0m65 6h0m-436 42h0m221-30h0m-161 69h0m47-6h0m113-4h0m-175 50h0m136-3h0m61-20h0m164 20h0m65 2h0m-375 34h0m12-4h0m221 19h0m-112 18h0m65 16h0m36-21h0m40 38h0" stroke="#c7a59d" stroke-width="17.0" stroke-linecap="round" fill="none"/>
<path transform="scale(.1)" d="M2011 6631h0m82-21h0m64 13h0m-290 36h0m9 12h0m51-2h0m26 10h0m107-37h0m37 31h0m6-9h0m0-24h0m2 39h0m-314 13h0m44 27h0m6-26h0m24 11h0m64-22h0m12 37h0m47-9h0m2-25h0m36 14h0m22-5h0m19-1h0m9 19h0m25-31h0m37 19h0m39-12h0m-387 63h0m0-25h0m23 23h0m9 8h0m6 1h0m2-38h0m20 20h0m29-2h0m21 10h0m18-26h0m73 14h0m1 18h0m2-2h0m34-4h0m61-12h0m110 16h0m-404 18h0m17 18h0m17-1h0m2-15h0m1-2h0m4 24h0m14 4h0m148-14h0m11-12h0m35 15h0m16-25h0m103 15h0m51 5h0m-459 26h0m3 15h0m52 1h0m133-12h0m24 10h0m81-4h0m21-12h0m3 26h0m48-7h0m25-22h0m25 14h0m27 14h0m51-16h0m-467 59h0m93-27h0m17 27h0m58-25h0m105 14h0m69-1h0m30 17h0m79-31h0m-484 32h0m46 21h0m101 14h0m38 2h0m6-10h0m12-26h0m22 14h0m115 4h0m69-5h0m54 9h0m57-1h0m-489 21h0m21 7h0m61-8h0m18 19h0m33 16h0m4-20h0m54-2h0m119 10h0m10 1h0m36-3h0m35 13h0m72-32h0m1 31h0m-441 15h0m17 11h0m39-20h0m60 38h0m55 0h0m59-4h0m10-30h0m36 29h0m18-3h0m68 5h0m11-36h0m3 29h0m-332 14h0m46 14h0m25-6h0m27-7h0m4 1h0m95 5h0m37-5h0m41 16h0m16-15h0m9 27h0m21-21h0m28-9h0m25 0h0m12 27h0m8-30h0m-285 42h0" stroke="#c9968a" stroke-width="17.0" stroke-linecap="round" fill="none"/>
<path transform="scale(.1)" d="M1904 6667h0m5-4h0m16-2h0m-51 52h0m11-27h0m16-1h0m24-4h0m37 24h0m14 2h0m134 8h0m52-16h0m-381 40h0m46 9h0m20 8h0m13 1h0m2-22h0m29 23h0m33-31h0m39 17h0m18 8h0m24 2h0m48-15h0m109-17h0m3 19h0m-411 35h0m44 0h0m52-9h0m15 16h0m1-17h0m35 13h0m15-9h0m4 22h0m52-9h0m48 12h0m21-1h0m24-30h0m32 29h0m1-26h0m11-1h0m21 3h0m18 5h0m18 12h0m-406 37h0m42-13h0m31 27h0m45-34h0m31 4h0m1 8h0m31-4h0m22 11h0m5-15h0m26 23h0m19-17h0m18 1h0m23 23h0m55-2h0m50-5h0m6-18h0m30-1h0m15 26h0m13-37h0m20 26h0m4-7h0m-445 43h0m8 6h0m19-22h0m22-3h0m4 17h0m11-1h0m23 9h0m17-28h0m30 29h0m1-4h0m3-8h0m5-14h0m5 31h0m22-28h0m35 31h0m9-7h0m3-24h0m63 23h0m15 7h0m12-19h0m20-2h0m1 22h0m22-6h0m30-24h0m42 1h0m8 0h0m1 12h0m4-3h0m5 18h0m-447 30h0m84 5h0m10-28h0m2 12h0m42-6h0m54 25h0m40-16h0m45-10h0m106 27h0m27-21h0m-418 41h0m13-6h0m0 2h0m11 27h0m1-5h0m15-12h0m0 9h0m14-8h0m4-7h0m13 1h0m9 9h0m22 15h0m10-30h0m3 22h0m38 3h0m31 3h0m18-16h0m37-5h0m69-9h0m1 30h0m31-36h0m0 0h0m0 13h0m25-6h0m52-2h0m15-4h0m21 13h0m-421 26h0m25 16h0m0-3h0m28 16h0m44-18h0m17-11h0m32 36h0m8-4h0m61 2h0m17-11h0m23-8h0m49 2h0m10 17h0m32-23h0m20 22h0m17-20h0m3 1h0m32 17h0m-388 9h0m37 0h0m32 2h0m5 28h0m30 2h0m7-32h0m6 0h0m25 2h0m39 11h0m4 7h0m5-21h0m17 20h0m64-10h0m6 28h0m3 1h0m38-26h0m16-6h0m5 27h0m18-3h0m7-17h0m0 14h0m14-3h0m-224 17h0m5 13h0m0-13h0m25 1h0m2 2h0" stroke="#cb8777" stroke-width="17.0" stroke-linecap="round" fill="none"/>
<path transform="scale(.1)" d="M1828 6674h0m16 5h0m97-4h0m-143 32h0m9 3h0m23-9h0m15-4h0m11 10h0m8-26h0m50 27h0m0-23h0m25 3h0m1-2h0m30-1h0m56 30h0m59 0h0m90-2h0m-402 24h0m4 5h0m32-17h0m18 5h0m39 9h0m5-2h0m41-13h0m11 22h0m36-20h0m20 3h0m1-1h0m9 7h0m4-6h0m4 4h0m9 15h0m59-18h0m35 12h0m33 4h0m4-25h0m1 25h0m21 10h0m3-34h0m-403 43h0m12 7h0m35 9h0m35-19h0m5 31h0m34-30h0m5 27h0m99-29h0m23 34h0m8-22h0m15 23h0m63-24h0m1-6h0m11 15h0m10-2h0m1 14h0m29-7h0m14-2h0m30 10h0m5-32h0m10 6h0m36 31h0m-490 15h0m43 6h0m4 13h0m4-29h0m9 27h0m46-20h0m35 6h0m12-10h0m10 14h0m46 3h0m17 8h0m18-19h0m2 18h0m5 0h0m25-10h0m24 9h0m41-15h0m34 9h0m16-24h0m29 7h0m5 17h0m13-4h0m8 16h0m19-11h0m4-14h0m0-10h0m-476 47h0m9 5h0m2-5h0m35 6h0m16 21h0m7-29h0m7 21h0m43 7h0m53-18h0m11 19h0m18-7h0m20-16h0m21-6h0m20 10h0m49-6h0m90 26h0m36-2h0m36-18h0m16 1h0m30 6h0m-504 33h0m39 3h0m3-3h0m21 10h0m33 2h0m4-13h0m32 21h0m85-14h0m12-18h0m19-2h0m14 22h0m19 3h0m2 10h0m2-21h0m18 1h0m17-4h0m11 19h0m10 7h0m5-39h0m8 31h0m6 1h0m7-9h0m12 11h0m10 1h0m49-24h0m16 1h0m23-5h0m28-7h0m2 24h0m-484 16h0m45 27h0m36-11h0m13 9h0m32-12h0m2-6h0m27 3h0m1-8h0m16 36h0m11-3h0m0-22h0m4 3h0m78 2h0m7-18h0m21 9h0m19 22h0m43 4h0m9-7h0m56-24h0m0 13h0m18-14h0m3 18h0m30 12h0m-442 10h0m58 36h0m13-33h0m8 19h0m4 7h0m3-6h0m13 6h0m6-25h0m21-4h0m14 1h0m10 6h0m5 26h0m35-24h0m16-1h0m3 3h0m8-11h0m27 13h0m31-16h0m33 5h0m15 6h0m9 22h0m51-32h0m20 18h0m15 9h0m0-24h0m14 9h0m-345 28h0m24 34h0m3-24h0m2-1h0m34-2h0m5 13h0m25 5h0m33-22h0m19 25h0m36-13h0m1 7h0m23-16h0m3 8h0m30 2h0m20 6h0m9 12h0m61-35h0m-307 42h0m24 1h0m15 0h0m39 14h0m13 9h0m10-18h0m6 15h0m1-4h0m19-17h0m67 4h0m87-3h0m5-1h0" stroke="#c67765" stroke-width="17.0" stroke-linecap="round" fill="none"/>
<path transform="scale(.1)" d="M1810 6710h0m23-10h0m35 5h0m143 11h0m73-8h0m35 8h0m39 3h0m-374 9h0m9 9h0m44 20h0m7-22h0m18 18h0m6 3h0m6-14h0m20 5h0m13 5h0m20-1h0m100 7h0m15 0h0m76-17h0m0 1h0m4-15h0m18 18h0m24-23h0m13 34h0m16 0h0m-401 42h0m60-11h0m18-4h0m30-10h0m39 6h0m49 18h0m3-4h0m24-29h0m20 21h0m6 9h0m71-33h0m20 23h0m-389 21h0m28 7h0m22-12h0m42 14h0m20 21h0m8 1h0m12-34h0m6 18h0m6-18h0m51 36h0m70 1h0m7-18h0m25 3h0m67-9h0m66 6h0m1 12h0m11 2h0m49-1h0m-417 38h0m42-28h0m6 23h0m9-25h0m19 21h0m1 7h0m11-1h0m15-22h0m2 31h0m36-33h0m6 18h0m67-15h0m20 15h0m19 0h0m56 8h0m17-7h0m7-14h0m9 25h0m3 1h0m90 3h0m3-31h0m-478 52h0m12-7h0m30 18h0m8-21h0m50 16h0m63 12h0m5-38h0m70 37h0m27-26h0m14 22h0m1-17h0m13-5h0m117 1h0m5 23h0m3-34h0m11 15h0m0-4h0m14-1h0m48 20h0m-463 39h0m15-28h0m19-1h0m51 18h0m1 15h0m72-21h0m18-13h0m89 28h0m38 7h0m11-31h0m18 15h0m16-4h0m35-13h0m42-2h0m-352 46h0m68 12h0m37 20h0m64-32h0m3 24h0m1-3h0m24 9h0m11 2h0m50-11h0m12 2h0m0 10h0m26-32h0m14 3h0m16 29h0m25-8h0m-339 34h0m98-12h0m26 6h0m74 15h0m20-9h0m74-12h0m11 6h0m23 1h0m-186 51h0m20-1h0" stroke="#bc6554" stroke-width="17.0" stroke-linecap="round" fill="none"/>
<path transform="scale(.1)" d="M1938 6659h0m-117 44h0m89 3h0m103 6h0m52-14h0m-289 30h0m10 12h0m199-4h0m-206 54h0m81-20h0m74 5h0m19 23h0m25-24h0m100 17h0m139 2h0m-448 18h0m65 7h0m149-4h0m76-9h0m17 34h0m122-27h0m8-10h0m2 8h0m32 3h0m-431 57h0m301 5h0m-361 10h0m449 33h0m27-24h0m10 10h0m7-19h0m1 11h0m-467 35h0m25-3h0m158 27h0m-80 34h0m50-26h0m97 1h0m85 18h0m75 4h0m52-12h0m18 18h0m8-9h0m17 2h0m-306 15h0m147 8h0m3 1h0m64 1h0m22 16h0m-182 26h0m145-3h0" stroke="#b25443" stroke-width="17.0" stroke-linecap="round" fill="none"/>
<path transform="scale(.1)" d="M1825 6697h0m-6 79h0m-34 35h0m396 18h0m94 163h0m4-10h0m-414 18h0m282 23h0m110-6h0" stroke="#a84232" stroke-width="17.0" stroke-linecap="round" fill="none"/>
<path transform="scale(.1)" d="M2057 6819h0m224 137h0m9-31h0m-3 61h0m19-19h0m-44 54h0" stroke="#9e3121" stroke-width="17.0" stroke-linecap="round" fill="none"/>
<path transform="scale(.1)" d="M2269 6948h0m7 8h0m21 3h0m-10 38h0" stroke="#942010" stroke-width="17.0" stroke-linecap="round" fill="none"/>
<path transform="scale(.1)" d="M2032 6632h0m35-10h0m8 15h0m2-7h0m1-15h0m16 21h0m26-1h0m17-9h0m12 8h0m-203 26h0m2 16h0m0-31h0m17 25h0m7-13h0m15 21h0m0-29h0m3 13h0m1-13h0m39 18h0m19-12h0m15 22h0m7-29h0m11-2h0m3 24h0m3-6h0m23-2h0m1-10h0m11 2h0m6 22h0m44-27h0m8 0h0m6 30h0m6-21h0m-248 40h0m51-13h0m44-5h0m1 13h0m8 9h0m2 6h0m25-9h0m14 18h0m37-25h0m5 10h0m23 8h0m6-19h0m17 13h0m8-4h0" stroke="#c4c4c4" stroke-width="17.0" stroke-linecap="round" fill="none"/>
<path transform="scale(.1)" d="M2019 6631h0m83-9h0m22 13h0m28-15h0m-190 42h0m13-7h0m18 0h0m4-4h0m10-7h0m7 15h0m16 13h0m85 6h0m15-7h0m4-21h0m31 28h0m10-4h0m-30 24h0m9 2h0m36-11h0m-339 98h0m104 14h0m-118 50h0m92 10h0m-110 63h0m209 108h0" stroke="#c5b4b0" stroke-width="17.0" stroke-linecap="round" fill="none"/>
<path transform="scale(.1)" d="M2043 6631h0m11-17h0m18 3h0m30 0h0m-145 29h0m70 11h0m21 22h0m7-10h0m18-1h0m5 8h0m81-35h0m-358 59h0m132-11h0m57 13h0m107-22h0m23 36h0m28-29h0m38 3h0m-327 38h0m6-2h0m80-6h0m32 30h0m14-11h0m154-19h0m-115 65h0m36 4h0m80-27h0m64 10h0m-457 66h0m80-15h0m69-13h0m11 12h0m159 12h0m-279 24h0m278-1h0m184 0h0m-433 43h0m104 8h0m35-4h0m128 11h0m-282 25h0m5 4h0m19-20h0m70 1h0m13 18h0m88-13h0m131 8h0m3-9h0m53 30h0m-250 17h0m230 13h0m26 48h0m-204 5h0m61 4h0" stroke="#c7a59d" stroke-width="17.0" stroke-linecap="round" fill="none"/>
<path transform="scale(.1)" d="M1988 6639h0m12-7h0m11-1h0m65-17h0m27 17h0m9-17h0m27 9h0m11-7h0m4-6h0m-307 59h0m24-1h0m70 0h0m30-28h0m39 27h0m29-7h0m12 7h0m24-17h0m50 28h0m14-30h0m-204 62h0m13-29h0m15 26h0m16-23h0m5 28h0m7-3h0m60-7h0m13-20h0m58 32h0m38-13h0m-281 22h0m39 20h0m4-6h0m2-12h0m54 22h0m50-8h0m27 11h0m9-25h0m81-1h0m10 34h0m13-16h0m-403 35h0m15-15h0m39 25h0m49-17h0m13 16h0m32-10h0m4 20h0m15-30h0m22 33h0m183-7h0m81-2h0m12 1h0m4 3h0m-484 31h0m17-10h0m10 17h0m2-29h0m49 29h0m55-22h0m18 2h0m24-11h0m89 11h0m124 2h0m23-14h0m12 32h0m16-8h0m29-15h0m-459 31h0m49 26h0m102-20h0m121 24h0m23-30h0m7 34h0m72-7h0m-378 35h0m115 1h0m117-1h0m54-1h0m21-2h0m57-15h0m28 16h0m7-18h0m28 34h0m73-32h0m-462 56h0m124 14h0m60-2h0m8-26h0m45 30h0m11-1h0m15-31h0m79 14h0m26-17h0m18 16h0m-337 30h0m31 28h0m10 0h0m27-34h0m19 5h0m67 12h0m11 16h0m34-11h0m69-21h0m40 0h0m24 6h0m70 27h0m5-28h0m5 3h0m-331 46h0m103-10h0m32 33h0m73-37h0m6 27h0m23 4h0m-222 7h0m36 17h0m153-9h0m2-4h0" stroke="#c9968a" stroke-width="17.0" stroke-linecap="round" fill="none"/>
<path transform="scale(.1)" d="M1887 6674h0m1-17h0m6 19h0m41-1h0m-151 30h0m16-7h0m10 12h0m62 7h0m190-7h0m-295 45h0m47-25h0m1 8h0m16 7h0m13 1h0m29-13h0m65-12h0m44 3h0m5 27h0m3-18h0m0 20h0m33-5h0m53-22h0m7 24h0m57 4h0m22-8h0m-370 30h0m39 12h0m36-22h0m8 13h0m55 9h0m40 2h0m3-12h0m19-11h0m3 3h0m34 14h0m5-12h0m99-10h0m10 4h0m13 8h0m5-7h0m32 6h0m21 8h0m-450 26h0m6 26h0m3-31h0m12 22h0m12-17h0m3 12h0m23 0h0m36-7h0m56 19h0m29-20h0m1 21h0m15-21h0m24 12h0m6-1h0m22 1h0m7-2h0m21 14h0m23-7h0m3 11h0m63-22h0m41 15h0m3 4h0m21-32h0m5-3h0m7 23h0m-465 20h0m8 7h0m18-4h0m26 12h0m9 8h0m137-26h0m11 25h0m1 10h0m74-22h0m8 3h0m13 9h0m12-24h0m57 6h0m36 21h0m64-22h0m-440 64h0m44-10h0m90-2h0m6 2h0m12-16h0m19-2h0m1 15h0m88-7h0m12-9h0m20 1h0m5 11h0m34 12h0m52-4h0m5-5h0m19-16h0m17 21h0m1 11h0m3-28h0m24 21h0m12-1h0m23 9h0m-476 37h0m22-3h0m2 5h0m17-7h0m33-26h0m19 0h0m8 33h0m16-31h0m54 30h0m8-14h0m26-16h0m27 31h0m4-2h0m32 0h0m48-8h0m17-17h0m8 28h0m17-20h0m5-13h0m14 18h0m2 20h0m36-1h0m1-3h0m1-11h0m8 14h0m2-21h0m12 22h0m-387 8h0m17 13h0m1-2h0m3-11h0m4 10h0m71 9h0m56-18h0m2 26h0m14-3h0m66-31h0m4 4h0m2 34h0m10-5h0m9 0h0m52-1h0m16-15h0m12-6h0m47 28h0m-327 5h0m1 30h0m2-27h0m63-5h0m1 16h0m4 5h0m10-20h0m19 32h0m44-14h0m12-3h0m1 1h0m2 1h0m3-1h0m21 2h0m1-5h0m42 16h0m18 3h0m91-13h0m-259 27h0m26 11h0m59 5h0m18 2h0m1-18h0m51 2h0m2-6h0m43 0h0" stroke="#cb8777" stroke-width="17.0" stroke-linecap="round" fill="none"/>
<path transform="scale(.1)" d="M1854 6666h0m19 0h0m17 4h0m7-18h0m7-4h0m17 18h0m1-1h0m-115 34h0m6 4h0m17 4h0m5 11h0m9-29h0m7 2h0m22 26h0m40-7h0m2-2h0m8-19h0m6-2h0m49 32h0m18-27h0m91 20h0m-315 42h0m1-14h0m22-9h0m8 24h0m6 3h0m26 1h0m1-37h0m20 15h0m10 2h0m13 11h0m6-23h0m50 9h0m5 6h0m7-3h0m7 10h0m96-1h0m15 4h0m8-12h0m22-10h0m13 0h0m15 7h0m1 15h0m1-10h0m7-8h0m26 15h0m19 7h0m-425 31h0m5 0h0m24-9h0m30 4h0m0 9h0m57 0h0m57-14h0m26 10h0m1-2h0m4-12h0m5-6h0m9 27h0m18-32h0m81 28h0m9-19h0m53 22h0m8-25h0m71 18h0m10 1h0m-477 36h0m12 14h0m1-6h0m27-13h0m9-5h0m19-10h0m19-3h0m10 29h0m3-20h0m39 24h0m30 0h0m21-5h0m49-3h0m22-19h0m3 30h0m8-14h0m5-9h0m25 22h0m20 2h0m0-1h0m4-35h0m6 32h0m4-15h0m2-2h0m0-3h0m7 2h0m18 14h0m6-10h0m8-16h0m17 11h0m10 13h0m17 7h0m28 3h0m15-15h0m-426 51h0m31-22h0m36 1h0m4 8h0m6-15h0m25 12h0m6 2h0m17-3h0m15 1h0m18-9h0m38 4h0m12-6h0m11 3h0m1-8h0m14 17h0m109 14h0m5-25h0m0 6h0m1 20h0m0-20h0m3 11h0m2 11h0m45 4h0m14-29h0m3 6h0m1 11h0m0-8h0m-408 25h0m47 12h0m67 0h0m43 23h0m1-25h0m60-6h0m47-1h0m7-4h0m5-1h0m10 5h0m5 8h0m5-7h0m0 12h0m14-10h0m5 23h0m22-14h0m15 12h0m12-4h0m31 12h0m6-20h0m13-7h0m16 23h0m12-31h0m7 21h0m27-8h0m13 9h0m-478 52h0m4 0h0m29-7h0m16-26h0m9 28h0m3-4h0m4-21h0m5 11h0m4 10h0m18 7h0m63-3h0m3-3h0m9 7h0m5-18h0m33 3h0m6 0h0m22-14h0m8 4h0m15-8h0m86 7h0m16 11h0m27-1h0m5 18h0m27-28h0m18 6h0m0 5h0m1 17h0m-418 11h0m20 15h0m9 4h0m48 0h0m50-14h0m20 24h0m59-17h0m0-1h0m58-13h0m14-3h0m9 14h0m32-16h0m7 22h0m7-16h0m26-7h0m10 4h0m3 13h0m58-17h0m-369 63h0m45 0h0m10-16h0m1 28h0m48-29h0m27 13h0m47 4h0m33-5h0m28 1h0m33 0h0m29 2h0m15 12h0m9-9h0m5-5h0m22 9h0m7-8h0m8-19h0m5 19h0m-256 37h0m60-13h0m9 15h0m8-12h0m2 3h0m60-1h0" stroke="#c67765" stroke-width="17.0" stroke-linecap="round" fill="none"/>
<path transform="scale(.1)" d="M1909 6674h0m24 4h0m-135 41h0m77-1h0m1-28h0m4 4h0m13 9h0m52 16h0m69-14h0m115 10h0m26 3h0m-357 27h0m2 6h0m90-29h0m36 5h0m15-3h0m40 8h0m15 3h0m85 21h0m29-13h0m-313 45h0m9-6h0m20 13h0m74-28h0m20 32h0m8-22h0m15 8h0m45-6h0m43-19h0m11 2h0m13 14h0m33-10h0m69 16h0m11 9h0m29 8h0m-459 27h0m58 4h0m2 8h0m15-13h0m3 5h0m20-27h0m142 14h0m49-14h0m17 33h0m55-13h0m29-15h0m3 15h0m22 11h0m-390 39h0m45-4h0m111-24h0m86 34h0m61-37h0m144 10h0m50 6h0m-480 22h0m1 35h0m24 2h0m2-32h0m61 17h0m10 5h0m7 12h0m49-9h0m50-10h0m5 12h0m2-7h0m95 2h0m53-4h0m22-5h0m10 16h0m116 0h0m-515 16h0m19 27h0m32-18h0m44 19h0m30-22h0m0 23h0m18-26h0m37 25h0m60-22h0m14 9h0m5-12h0m32 17h0m130 5h0m10-14h0m-336 51h0m118-13h0m16-17h0m11 34h0m15-3h0m9-32h0m21 30h0m37-19h0m37-8h0m3-2h0m15 29h0m72-25h0m19 15h0m13 9h0m-317 42h0m6 4h0m97-12h0m48-1h0m17-20h0m21 7h0m0-5h0m2-5h0m29 26h0m1-10h0m9 6h0m4-11h0m5 11h0m39-17h0m-260 36h0m42 9h0m11-8h0m26 14h0m13-10h0m5-1h0m19 23h0m12-24h0m15-4h0" stroke="#bc6554" stroke-width="17.0" stroke-linecap="round" fill="none"/>
<path transform="scale(.1)" d="M1940 6671h0m-60 10h0m275 38h0m-384 8h0m2 2h0m26 5h0m191-6h0m28 12h0m50 0h0m46-20h0m-223 55h0m141 5h0m60-20h0m3 16h0m59 20h0m-388 12h0m2 16h0m292-2h0m-309 43h0m51-23h0m77 2h0m42 9h0m13 15h0m50-8h0m97-6h0m8 11h0m-257 49h0m211-20h0m41 25h0m181-12h0m-477 35h0m307 14h0m106-13h0m54 8h0m2-12h0m12-13h0m-306 45h0m186 7h0m41 21h0m37-2h0m32-37h0m6 12h0m-384 44h0m145-1h0m178 17h0m66-14h0m-116 26h0m42 1h0" stroke="#b25443" stroke-width="17.0" stroke-linecap="round" fill="none"/>
<path transform="scale(.1)" d="M1835 6750h0m331 15h0m-176 125h0m-45 50h0m297-16h0m14-1h0m-127 74h0m129-1h0m21-11h0m7 3h0m-330 50h0m327-26h0m-308 44h0" stroke="#a84232" stroke-width="17.0" stroke-linecap="round" fill="none"/>
<path transform="scale(.1)" d="M2126 6793h0m131 130h0m30 29h0m5-8h0m-28 28h0m3-11h0m-415 43h0m180 34h0" stroke="#9e3121" stroke-width="17.0" stroke-linecap="round" fill="none"/>
<path transform="scale(.1)" d="M2270 6969h0m6 47h0" stroke="#942010" stroke-width="17.0" stroke-linecap="round" fill="none"/>
<path transform="scale(.1)" d="M1993 6637h0m58-8h0m2-1h0m25 9h0m35-19h0m10 20h0m0-31h0m6 22h0m-167 15h0m19 18h0m4-5h0m1 5h0m4 11h0m26-9h0m2 12h0m3-12h0m6 3h0m11 8h0m25-5h0m3-12h0m18 13h0m8-22h0m3 23h0m27 4h0m14 2h0m25-38h0m-208 69h0m6-6h0m18-21h0m34 9h0m1 19h0m25-7h0m1-12h0m11 21h0m0-12h0m20 1h0m34-18h0m56 11h0" stroke="#c4c4c4" stroke-width="17.0" stroke-linecap="round" fill="none"/>
<path transform="scale(.1)" d="M2045 6627h0m16 9h0m67-4h0m17-6h0m7 13h0m20-8h0m-175 9h0m84 20h0m6-12h0m22-3h0m41 29h0m18 1h0m-194 30h0m34-22h0m91 2h0m-321 62h0m371 5h0m-180 117h0m-53 101h0m144 0h0" stroke="#c5b4b0" stroke-width="17.0" stroke-linecap="round" fill="none"/>
<path transform="scale(.1)" d="M2056 6621h0m4-9h0m13 16h0m36-19h0m21 30h0m9-21h0m11 14h0m-230 25h0m76 13h0m32-27h0m56 8h0m21-6h0m-306 62h0m174-11h0m89 0h0m58-10h0m30-5h0m-294 49h0m49 24h0m247-2h0m3-14h0m-374 49h0m70 0h0m-83 17h0m29 14h0m122 9h0m125-16h0m-169 32h0m3 33h0m150-17h0m41 14h0m-178 41h0m-32 38h0m148-14h0m137 8h0m20 10h0m-355 11h0m347-5h0m-192 61h0m32-9h0m46-12h0m11 0h0m52 1h0" stroke="#c7a59d" stroke-width="17.0" stroke-linecap="round" fill="none"/>
<path transform="scale(.1)" d="M2022 6629h0m20 1h0m8 0h0m1 8h0m44-7h0m6-7h0m-210 30h0m6 22h0m4-23h0m41 8h0m53-7h0m84 25h0m27-26h0m35 11h0m24-3h0m-354 40h0m47-1h0m5-17h0m4 9h0m52 24h0m31-23h0m32-1h0m116 5h0m22 21h0m2-19h0m18 10h0m6 0h0m5-7h0m26 1h0m8-3h0m12-19h0m-406 60h0m9 18h0m0-19h0m18 7h0m32-10h0m2-8h0m22 13h0m85 12h0m12-8h0m51-22h0m80 25h0m-342 32h0m86 8h0m42-2h0m6-22h0m1 27h0m63-19h0m1 16h0m4 4h0m19-31h0m86 22h0m43-1h0m5-7h0m7-13h0m20 24h0m7 3h0m35 2h0m6 3h0m30-20h0m-446 49h0m7-15h0m148-8h0m6 11h0m6 8h0m43-18h0m58 28h0m117-5h0m89-8h0m-458 52h0m145-8h0m45-21h0m31 25h0m82-18h0m18 16h0m103-5h0m7 9h0m-453 16h0m13 34h0m100-11h0m41-22h0m38 33h0m17-6h0m54-23h0m47 17h0m59 1h0m80-16h0m0 11h0m54-16h0m-494 46h0m8-1h0m17 7h0m7-6h0m10 11h0m42-1h0m4 1h0m12-21h0m29 10h0m166 22h0m55-32h0m24 8h0m60 12h0m18 0h0m-399 52h0m6-5h0m2-18h0m19 18h0m3-26h0m10 3h0m64 0h0m17-5h0m23 31h0m13-11h0m16 2h0m21-2h0m67-6h0m22 16h0m5-4h0m72-25h0m2 29h0m37-17h0m6 13h0m11-9h0m1 11h0m-381 21h0m87 28h0m48-3h0m3-14h0m48-5h0m31 4h0m16 10h0m-74 18h0m70-1h0m34 13h0" stroke="#c9968a" stroke-width="17.0" stroke-linecap="round" fill="none"/>
<path transform="scale(.1)" d="M1861 6665h0m4 11h0m47 2h0m20-6h0m8-7h0m-138 39h0m16-9h0m4 19h0m203 2h0m110-9h0m15 10h0m-367 40h0m22-26h0m50 25h0m29-15h0m48 17h0m22-16h0m28-17h0m25 1h0m35 33h0m66-39h0m3 36h0m75-15h0m1 8h0m-440 42h0m26 3h0m9-31h0m2 3h0m7 3h0m39 24h0m53-5h0m13-16h0m28 26h0m9-31h0m66 11h0m4-14h0m18 7h0m28 13h0m2-10h0m8 7h0m3-13h0m118 23h0m-403 14h0m32 20h0m54 1h0m59-18h0m40 18h0m20-2h0m6 11h0m3-31h0m12 1h0m40 3h0m59-5h0m27 21h0m12 11h0m26-26h0m57 8h0m22 12h0m-504 28h0m22 9h0m25-8h0m19-15h0m7 5h0m6 24h0m7-20h0m18 3h0m5 4h0m4-17h0m16 11h0m53 16h0m39-1h0m0-21h0m44 12h0m64-13h0m5 27h0m6-16h0m32 6h0m9 12h0m5-5h0m24-19h0m11 16h0m47-20h0m24 16h0m2-12h0m38 19h0m-503 37h0m19 8h0m41-28h0m5 27h0m19-13h0m58 7h0m19 6h0m6 5h0m21-20h0m34 5h0m32 5h0m44-26h0m82 30h0m23-4h0m40-14h0m8 1h0m38 8h0m12-5h0m-461 31h0m12 0h0m45 9h0m39 15h0m15 0h0m4-21h0m14 16h0m21 8h0m3 0h0m42-37h0m68 2h0m18 33h0m43-1h0m48-1h0m21-33h0m-386 65h0m2-14h0m15 17h0m23 4h0m31-2h0m11-25h0m2 18h0m6-4h0m14-13h0m38 3h0m0 10h0m28 5h0m9-15h0m13 25h0m5-34h0m14 16h0m2 15h0m10-7h0m38-10h0m1 22h0m24-20h0m66-2h0m15 24h0m31-21h0m-345 36h0m22-11h0m26 0h0m14 30h0m28 5h0m1-17h0m43 14h0m33-8h0m31-15h0m10 24h0m11-9h0m1-15h0m4-7h0m29 23h0m5 2h0m11-28h0m0 12h0m11 17h0m13-4h0m3-15h0m30-3h0m13 0h0m-216 36h0m43 11h0m55 10h0m24-7h0m25-16h0" stroke="#cb8777" stroke-width="17.0" stroke-linecap="round" fill="none"/>
<path transform="scale(.1)" d="M1878 6665h0m15-9h0m17 9h0m7-12h0m5 7h0m15 3h0m-140 56h0m16-12h0m1 12h0m22-33h0m9 8h0m18-3h0m48 14h0m139-9h0m11 12h0m29 6h0m-268 22h0m10 3h0m52 3h0m30 1h0m4 7h0m11-14h0m2-9h0m10 17h0m24-1h0m2 1h0m31-16h0m41-2h0m0 4h0m21-7h0m12-3h0m27 36h0m7-27h0m35 1h0m4 5h0m10-10h0m32 15h0m2 10h0m-386 19h0m14-5h0m23 31h0m36-4h0m17 8h0m2-31h0m13 20h0m13-13h0m10 15h0m1-1h0m33-29h0m24 17h0m29 21h0m24-11h0m11-18h0m27 22h0m11-20h0m98 16h0m-440 19h0m5 29h0m5-35h0m30 20h0m14 15h0m10-16h0m18-19h0m14 9h0m5 8h0m0 8h0m13-7h0m10 9h0m11-12h0m24 13h0m36-27h0m9-1h0m69 3h0m4 17h0m13-1h0m20 5h0m2-6h0m16 20h0m12-9h0m30-4h0m32 14h0m12-17h0m10 4h0m43-16h0m-443 64h0m35 1h0m47 4h0m85-27h0m1 21h0m17-5h0m25-5h0m5 4h0m5-8h0m52 7h0m6 9h0m6 3h0m6-26h0m1 5h0m10-5h0m16 22h0m11 1h0m13-22h0m3 5h0m4-13h0m20 17h0m2 4h0m41 13h0m49-11h0m4 8h0m-462 24h0m8-6h0m13 21h0m13 3h0m73-27h0m1 1h0m2 5h0m2-13h0m5 30h0m6-23h0m13 8h0m5-16h0m1 20h0m40 8h0m20-13h0m2 2h0m11-4h0m2 5h0m5 16h0m24-28h0m50 21h0m17-18h0m14-10h0m2 3h0m20 20h0m5-6h0m0-15h0m1 6h0m30 25h0m8-8h0m48-5h0m22-4h0m17-4h0m6 4h0m0-13h0m0 26h0m27-3h0m-505 14h0m15 28h0m11-3h0m14-6h0m22 4h0m22-5h0m31-5h0m2-15h0m9 19h0m14 16h0m46-35h0m4 16h0m30-4h0m7 5h0m25 4h0m5 7h0m3 7h0m27-25h0m4 19h0m7 4h0m29-30h0m14 26h0m1-22h0m1 7h0m13 8h0m95-7h0m7 9h0m-409 50h0m2-4h0m11-30h0m10 24h0m10 9h0m43-5h0m3-12h0m21 1h0m64-11h0m11 3h0m11 3h0m3 17h0m24-18h0m14-4h0m38 13h0m32 6h0m1 7h0m15-20h0m5 20h0m17-2h0m18-22h0m12-3h0m5 1h0m14-7h0m17 36h0m15-22h0m7 22h0m-384 11h0m31 23h0m4 9h0m22-10h0m16-21h0m16 22h0m3-20h0m116 4h0m10-4h0m2-3h0m15 13h0m15-4h0m5-4h0m82-9h0m11 13h0m29 11h0m8 0h0m-307 22h0m29-8h0m48 30h0m33-8h0" stroke="#c67765" stroke-width="17.0" stroke-linecap="round" fill="none"/>
<path transform="scale(.1)" d="M1828 6678h0m66-7h0m35-17h0m-154 63h0m56-36h0m232 37h0m77-18h0m-345 32h0m37 1h0m65 17h0m23-30h0m32 25h0m22 12h0m116-17h0m18-2h0m30 10h0m11 0h0m43 4h0m-392 37h0m55-26h0m22 5h0m3-4h0m17 1h0m23-3h0m161 15h0m8-2h0m31-1h0m21 12h0m39-15h0m24-11h0m20 26h0m-482 50h0m7 2h0m14-25h0m31 22h0m45-28h0m6 30h0m52-15h0m26-13h0m58 15h0m8 13h0m11 1h0m46-13h0m0-6h0m46-3h0m3-2h0m44 24h0m1-24h0m83 20h0m-462 20h0m33 20h0m0 3h0m12-4h0m43-5h0m48 0h0m17 6h0m57-31h0m28 17h0m17-9h0m23 2h0m2 22h0m43-34h0m37 17h0m17-3h0m39 13h0m13-10h0m0 3h0m4 0h0m26-6h0m14 22h0m-392 28h0m7 10h0m11-14h0m13-17h0m58 14h0m54 11h0m15-13h0m5 4h0m66 11h0m52-11h0m96-13h0m29-2h0m22 9h0m15 5h0m-502 33h0m16-7h0m8 0h0m8-5h0m1 13h0m15 8h0m209 3h0m11-12h0m52 15h0m9-15h0m0 13h0m22-17h0m21 1h0m6-2h0m43-6h0m51 28h0m-452 28h0m31 0h0m1-12h0m3 12h0m6 14h0m6 8h0m10-33h0m31 12h0m49 14h0m45-19h0m21 7h0m3-4h0m5 17h0m87-27h0m0 27h0m33 6h0m20-28h0m46 20h0m4-2h0m-327 28h0m14-14h0m82 25h0m41-2h0m207 1h0m12 5h0m0-4h0m-287 12h0m26 19h0m6-5h0m7-12h0m151 1h0" stroke="#bc6554" stroke-width="17.0" stroke-linecap="round" fill="none"/>
<path transform="scale(.1)" d="M1868 6661h0m11 10h0m-94 24h0m18-3h0m88 4h0m-128 48h0m40-1h0m98 1h0m-121 46h0m23-4h0m29-4h0m1-14h0m78-5h0m259 4h0m-381 47h0m14 22h0m63-5h0m6-7h0m74-7h0m47 18h0m-28 38h0m65-13h0m-109 31h0m43 24h0m43-3h0m56 1h0m47 0h0m147 3h0m-426 28h0m119-15h0m6 21h0m63-20h0m72 12h0m72 15h0m90 0h0m4-12h0m12 13h0m14-24h0m12-8h0m-368 36h0m19 21h0m155 0h0m64-9h0m95 2h0m2-15h0m26 5h0m-349 61h0m71-25h0m27 32h0m229-30h0" stroke="#b25443" stroke-width="17.0" stroke-linecap="round" fill="none"/>
<path transform="scale(.1)" d="M1998 6780h0m27-9h0m158-6h0m-425 49h0m424 44h0m-369 29h0m79 84h0m368 16h0m7-14h0m8 16h0m3-24h0m8 0h0m7 32h0m2 0h0m-307 38h0m109-19h0" stroke="#a84232" stroke-width="17.0" stroke-linecap="round" fill="none"/>
<path transform="scale(.1)" d="M2268 6950h0m20-15h0m-27 63h0m1-38h0m28 1h0m25 16h0m-154 34h0" stroke="#9e3121" stroke-width="17.0" stroke-linecap="round" fill="none"/>
<path transform="scale(.1)" d="M2262 6928h0m13 28h0m12-7h0m5 41h0" stroke="#942010" stroke-width="17.0" stroke-linecap="round" fill="none"/>
<line x1="55.4" y1="562.6" x2="55.4" y2="616.2" stroke="#333" stroke-width="1" shape-rendering="crispEdges"/>
<line x1="55.4" y1="616.2" x2="126.8" y2="616.2" stroke="#333" stroke-width="1" shape-rendering="crispEdges"/>
<line x1="52.9" y1="565.0" x2="55.4" y2="565.0" stroke="#333" stroke-width="0.9" shape-rendering="crispEdges"/>
<text stroke="#333" stroke-width="0.22" x="51.9" y="568.2" font-size="9.2" text-anchor="end" fill="#333" font-family="Liberation Sans">5.0</text>
<line x1="52.9" y1="578.6" x2="55.4" y2="578.6" stroke="#333" stroke-width="0.9" shape-rendering="crispEdges"/>
<text stroke="#333" stroke-width="0.22" x="51.9" y="581.9" font-size="9.2" text-anchor="end" fill="#333" font-family="Liberation Sans">2.5</text>
<line x1="52.9" y1="592.3" x2="55.4" y2="592.3" stroke="#333" stroke-width="0.9" shape-rendering="crispEdges"/>
<text stroke="#333" stroke-width="0.22" x="51.9" y="595.5" font-size="9.2" text-anchor="end" fill="#333" font-family="Liberation Sans">0.0</text>
<line x1="52.9" y1="605.9" x2="55.4" y2="605.9" stroke="#333" stroke-width="0.9" shape-rendering="crispEdges"/>
<text stroke="#333" stroke-width="0.22" x="51.9" y="609.1" font-size="9.2" text-anchor="end" fill="#333" font-family="Liberation Sans">−2.5</text>
<line x1="70.0" y1="616.2" x2="70.0" y2="618.7" stroke="#333" stroke-width="0.9" shape-rendering="crispEdges"/>
<text stroke="#333" stroke-width="0.22" x="70.0" y="627.8" font-size="9.2" text-anchor="middle" fill="#333" font-family="Liberation Sans">−4</text>
<line x1="89.4" y1="616.2" x2="89.4" y2="618.7" stroke="#333" stroke-width="0.9" shape-rendering="crispEdges"/>
<text stroke="#333" stroke-width="0.22" x="89.4" y="627.8" font-size="9.2" text-anchor="middle" fill="#333" font-family="Liberation Sans">0</text>
<line x1="108.8" y1="616.2" x2="108.8" y2="618.7" stroke="#333" stroke-width="0.9" shape-rendering="crispEdges"/>
<text stroke="#333" stroke-width="0.22" x="108.8" y="627.8" font-size="9.2" text-anchor="middle" fill="#333" font-family="Liberation Sans">4</text>
<line x1="167.5" y1="562.6" x2="167.5" y2="616.2" stroke="#333" stroke-width="1" shape-rendering="crispEdges"/>
<line x1="167.5" y1="616.2" x2="239.3" y2="616.2" stroke="#333" stroke-width="1" shape-rendering="crispEdges"/>
<line x1="165.0" y1="565.0" x2="167.5" y2="565.0" stroke="#333" stroke-width="0.9" shape-rendering="crispEdges"/>
<text stroke="#333" stroke-width="0.22" x="164.0" y="568.2" font-size="9.2" text-anchor="end" fill="#333" font-family="Liberation Sans">5.0</text>
<line x1="165.0" y1="578.6" x2="167.5" y2="578.6" stroke="#333" stroke-width="0.9" shape-rendering="crispEdges"/>
<text stroke="#333" stroke-width="0.22" x="164.0" y="581.9" font-size="9.2" text-anchor="end" fill="#333" font-family="Liberation Sans">2.5</text>
<line x1="165.0" y1="592.3" x2="167.5" y2="592.3" stroke="#333" stroke-width="0.9" shape-rendering="crispEdges"/>
<text stroke="#333" stroke-width="0.22" x="164.0" y="595.5" font-size="9.2" text-anchor="end" fill="#333" font-family="Liberation Sans">0.0</text>
<line x1="165.0" y1="605.9" x2="167.5" y2="605.9" stroke="#333" stroke-width="0.9" shape-rendering="crispEdges"/>
<text stroke="#333" stroke-width="0.22" x="164.0" y="609.1" font-size="9.2" text-anchor="end" fill="#333" font-family="Liberation Sans">−2.5</text>
<line x1="182.2" y1="616.2" x2="182.2" y2="618.7" stroke="#333" stroke-width="0.9" shape-rendering="crispEdges"/>
<text stroke="#333" stroke-width="0.22" x="182.2" y="627.8" font-size="9.2" text-anchor="middle" fill="#333" font-family="Liberation Sans">−4</text>
<line x1="201.6" y1="616.2" x2="201.6" y2="618.7" stroke="#333" stroke-width="0.9" shape-rendering="crispEdges"/>
<text stroke="#333" stroke-width="0.22" x="201.6" y="627.8" font-size="9.2" text-anchor="middle" fill="#333" font-family="Liberation Sans">0</text>
<line x1="221.0" y1="616.2" x2="221.0" y2="618.7" stroke="#333" stroke-width="0.9" shape-rendering="crispEdges"/>
<text stroke="#333" stroke-width="0.22" x="221.0" y="627.8" font-size="9.2" text-anchor="middle" fill="#333" font-family="Liberation Sans">4</text>
<line x1="55.4" y1="656.5" x2="55.4" y2="710.2" stroke="#333" stroke-width="1" shape-rendering="crispEdges"/>
<line x1="55.4" y1="710.2" x2="126.8" y2="710.2" stroke="#333" stroke-width="1" shape-rendering="crispEdges"/>
<line x1="52.9" y1="658.9" x2="55.4" y2="658.9" stroke="#333" stroke-width="0.9" shape-rendering="crispEdges"/>
<text stroke="#333" stroke-width="0.22" x="51.9" y="662.1" font-size="9.2" text-anchor="end" fill="#333" font-family="Liberation Sans">5.0</text>
<line x1="52.9" y1="672.6" x2="55.4" y2="672.6" stroke="#333" stroke-width="0.9" shape-rendering="crispEdges"/>
<text stroke="#333" stroke-width="0.22" x="51.9" y="675.8" font-size="9.2" text-anchor="end" fill="#333" font-family="Liberation Sans">2.5</text>
<line x1="52.9" y1="686.2" x2="55.4" y2="686.2" stroke="#333" stroke-width="0.9" shape-rendering="crispEdges"/>
<text stroke="#333" stroke-width="0.22" x="51.9" y="689.4" font-size="9.2" text-anchor="end" fill="#333" font-family="Liberation Sans">0.0</text>
<line x1="52.9" y1="699.9" x2="55.4" y2="699.9" stroke="#333" stroke-width="0.9" shape-rendering="crispEdges"/>
<text stroke="#333" stroke-width="0.22" x="51.9" y="703.1" font-size="9.2" text-anchor="end" fill="#333" font-family="Liberation Sans">−2.5</text>
<line x1="70.0" y1="710.2" x2="70.0" y2="712.7" stroke="#333" stroke-width="0.9" shape-rendering="crispEdges"/>
<text stroke="#333" stroke-width="0.22" x="70.0" y="721.8" font-size="9.2" text-anchor="middle" fill="#333" font-family="Liberation Sans">−4</text>
<line x1="89.4" y1="710.2" x2="89.4" y2="712.7" stroke="#333" stroke-width="0.9" shape-rendering="crispEdges"/>
<text stroke="#333" stroke-width="0.22" x="89.4" y="721.8" font-size="9.2" text-anchor="middle" fill="#333" font-family="Liberation Sans">0</text>
<line x1="108.8" y1="710.2" x2="108.8" y2="712.7" stroke="#333" stroke-width="0.9" shape-rendering="crispEdges"/>
<text stroke="#333" stroke-width="0.22" x="108.8" y="721.8" font-size="9.2" text-anchor="middle" fill="#333" font-family="Liberation Sans">4</text>
<line x1="167.5" y1="656.5" x2="167.5" y2="710.2" stroke="#333" stroke-width="1" shape-rendering="crispEdges"/>
<line x1="167.5" y1="710.2" x2="239.3" y2="710.2" stroke="#333" stroke-width="1" shape-rendering="crispEdges"/>
<line x1="165.0" y1="658.9" x2="167.5" y2="658.9" stroke="#333" stroke-width="0.9" shape-rendering="crispEdges"/>
<text stroke="#333" stroke-width="0.22" x="164.0" y="662.1" font-size="9.2" text-anchor="end" fill="#333" font-family="Liberation Sans">5.0</text>
<line x1="165.0" y1="672.6" x2="167.5" y2="672.6" stroke="#333" stroke-width="0.9" shape-rendering="crispEdges"/>
<text stroke="#333" stroke-width="0.22" x="164.0" y="675.8" font-size="9.2" text-anchor="end" fill="#333" font-family="Liberation Sans">2.5</text>
<line x1="165.0" y1="686.2" x2="167.5" y2="686.2" stroke="#333" stroke-width="0.9" shape-rendering="crispEdges"/>
<text stroke="#333" stroke-width="0.22" x="164.0" y="689.4" font-size="9.2" text-anchor="end" fill="#333" font-family="Liberation Sans">0.0</text>
<line x1="165.0" y1="699.9" x2="167.5" y2="699.9" stroke="#333" stroke-width="0.9" shape-rendering="crispEdges"/>
<text stroke="#333" stroke-width="0.22" x="164.0" y="703.1" font-size="9.2" text-anchor="end" fill="#333" font-family="Liberation Sans">−2.5</text>
<line x1="182.2" y1="710.2" x2="182.2" y2="712.7" stroke="#333" stroke-width="0.9" shape-rendering="crispEdges"/>
<text stroke="#333" stroke-width="0.22" x="182.2" y="721.8" font-size="9.2" text-anchor="middle" fill="#333" font-family="Liberation Sans">−4</text>
<line x1="201.6" y1="710.2" x2="201.6" y2="712.7" stroke="#333" stroke-width="0.9" shape-rendering="crispEdges"/>
<text stroke="#333" stroke-width="0.22" x="201.6" y="721.8" font-size="9.2" text-anchor="middle" fill="#333" font-family="Liberation Sans">0</text>
<line x1="221.0" y1="710.2" x2="221.0" y2="712.7" stroke="#333" stroke-width="0.9" shape-rendering="crispEdges"/>
<text stroke="#333" stroke-width="0.22" x="221.0" y="721.8" font-size="9.2" text-anchor="middle" fill="#333" font-family="Liberation Sans">4</text>
<text stroke="#1a1a1a" stroke-width="0.22" x="89.0" y="548.3" font-size="10.3" text-anchor="middle" fill="#1a1a1a" font-family="Liberation Sans">NBM</text>
<text stroke="#1a1a1a" stroke-width="0.22" x="204.0" y="548.3" font-size="10.3" text-anchor="middle" fill="#1a1a1a" font-family="Liberation Sans">LRMDS</text>
<text stroke="#1a1a1a" stroke-width="0.22" x="148.5" y="736.2" font-size="10.6" text-anchor="middle" fill="#1a1a1a" font-family="Liberation Sans">UMAP_1</text>
<text stroke="#1a1a1a" stroke-width="0.22" x="25.3" y="627.0" font-size="10.6" text-anchor="middle" fill="#1a1a1a" font-family="Liberation Sans" transform="rotate(-90 25.3 627.0)">UMAP_2</text>
<path d="M285.30 589.50 L285.28 590.02 L285.23 590.55 L285.17 591.08 L285.15 591.60 L284.73 592.05 L284.30 592.50 L284.28 593.01 L284.22 593.51 L284.11 594.02 L283.97 594.52 L283.80 595.03 L283.60 595.53 L283.38 596.04 L283.14 596.54 L282.90 597.05 L282.66 597.56 L282.42 598.06 L282.20 598.57 L282.00 599.07 L281.83 599.58 L281.69 600.08 L281.58 600.59 L281.52 601.09 L281.50 601.60 L281.52 602.12 L281.59 602.65 L281.71 603.18 L281.87 603.70 L282.06 604.23 L282.28 604.75 L282.52 605.27 L282.77 605.80 L283.03 606.33 L283.28 606.85 L283.52 607.38 L283.74 607.90 L283.93 608.42 L284.09 608.95 L284.21 609.48 L284.28 610.00 L284.30 610.52 L284.40 611.12 L284.65 611.72 L284.95 612.31 L285.20 612.90 L285.30 613.50 L285.70 613.50 L285.80 612.90 L286.05 612.31 L286.35 611.72 L286.60 611.12 L286.70 610.52 L286.72 610.00 L286.79 609.48 L286.91 608.95 L287.07 608.42 L287.26 607.90 L287.48 607.38 L287.72 606.85 L287.97 606.33 L288.23 605.80 L288.48 605.27 L288.72 604.75 L288.94 604.23 L289.13 603.70 L289.29 603.18 L289.41 602.65 L289.48 602.12 L289.50 601.60 L289.48 601.09 L289.42 600.59 L289.31 600.08 L289.17 599.58 L289.00 599.07 L288.80 598.57 L288.58 598.06 L288.34 597.56 L288.10 597.05 L287.86 596.54 L287.62 596.04 L287.40 595.53 L287.20 595.03 L287.03 594.52 L286.89 594.02 L286.78 593.51 L286.72 593.01 L286.70 592.50 L286.27 592.05 L285.85 591.60 L285.83 591.08 L285.77 590.55 L285.72 590.02 L285.70 589.50Z" fill="#33648c" stroke="#2a2a2a" stroke-width="0.6" stroke-linejoin="round"/>
<path d="M293.50 582.60 L293.50 583.10 L293.49 583.61 L293.47 584.11 L293.45 584.62 L293.43 585.12 L293.40 585.62 L293.38 586.13 L293.36 586.63 L293.35 587.14 L293.35 587.64 L293.23 588.18 L292.93 588.72 L292.62 589.26 L292.50 589.80 L292.48 590.30 L292.44 590.80 L292.36 591.30 L292.26 591.80 L292.13 592.30 L291.97 592.80 L291.80 593.30 L291.61 593.80 L291.41 594.30 L291.20 594.80 L291.00 595.30 L290.79 595.80 L290.59 596.30 L290.40 596.80 L290.23 597.30 L290.07 597.80 L289.94 598.30 L289.84 598.80 L289.76 599.30 L289.72 599.80 L289.70 600.30 L289.73 600.82 L289.81 601.35 L289.94 601.88 L290.11 602.40 L290.32 602.92 L290.56 603.45 L290.83 603.98 L291.10 604.50 L291.37 605.02 L291.64 605.55 L291.88 606.08 L292.09 606.60 L292.26 607.12 L292.39 607.65 L292.47 608.18 L292.50 608.70 L292.60 609.26 L292.85 609.82 L293.15 610.38 L293.40 610.94 L293.50 611.50 L293.90 611.50 L294.00 610.94 L294.25 610.38 L294.55 609.82 L294.80 609.26 L294.90 608.70 L294.93 608.18 L295.01 607.65 L295.14 607.12 L295.31 606.60 L295.52 606.08 L295.76 605.55 L296.03 605.02 L296.30 604.50 L296.57 603.98 L296.84 603.45 L297.08 602.92 L297.29 602.40 L297.46 601.88 L297.59 601.35 L297.67 600.82 L297.70 600.30 L297.68 599.80 L297.64 599.30 L297.56 598.80 L297.46 598.30 L297.33 597.80 L297.17 597.30 L297.00 596.80 L296.81 596.30 L296.61 595.80 L296.40 595.30 L296.20 594.80 L295.99 594.30 L295.79 593.80 L295.60 593.30 L295.43 592.80 L295.27 592.30 L295.14 591.80 L295.04 591.30 L294.96 590.80 L294.92 590.30 L294.90 589.80 L294.78 589.26 L294.47 588.72 L294.17 588.18 L294.05 587.64 L294.05 587.14 L294.04 586.63 L294.02 586.13 L294.00 585.62 L293.97 585.12 L293.95 584.62 L293.93 584.11 L293.91 583.61 L293.90 583.10 L293.90 582.60Z" fill="#8c3428" stroke="#2a2a2a" stroke-width="0.6" stroke-linejoin="round"/>
<path d="M302.40 573.40 L302.40 573.92 L302.40 574.44 L302.39 574.96 L302.39 575.48 L302.38 576.00 L302.37 576.52 L302.36 577.04 L302.35 577.56 L302.34 578.08 L302.33 578.60 L302.32 579.12 L302.31 579.64 L302.30 580.16 L302.29 580.68 L302.28 581.20 L302.27 581.72 L302.26 582.24 L302.26 582.76 L302.25 583.28 L302.25 583.80 L302.25 584.32 L302.22 584.84 L302.15 585.36 L302.04 585.88 L301.90 586.40 L301.75 586.92 L301.61 587.44 L301.50 587.96 L301.43 588.48 L301.40 589.00 L301.38 589.52 L301.32 590.04 L301.21 590.57 L301.07 591.09 L300.90 591.61 L300.70 592.13 L300.48 592.66 L300.24 593.18 L300.00 593.70 L299.76 594.22 L299.52 594.74 L299.30 595.27 L299.10 595.79 L298.93 596.31 L298.79 596.83 L298.68 597.36 L298.62 597.88 L298.60 598.40 L298.61 598.91 L298.66 599.43 L298.73 599.94 L298.82 600.46 L298.94 600.97 L299.08 601.49 L299.24 602.00 L299.42 602.52 L299.61 603.03 L299.80 603.55 L300.00 604.06 L300.20 604.58 L300.39 605.09 L300.58 605.61 L300.76 606.12 L300.92 606.64 L301.06 607.15 L301.18 607.67 L301.27 608.18 L301.34 608.70 L301.39 609.21 L301.40 609.73 L301.45 610.26 L301.59 610.80 L301.79 611.34 L302.01 611.88 L302.21 612.42 L302.35 612.96 L302.40 613.50 L302.80 613.50 L302.85 612.96 L302.99 612.42 L303.19 611.88 L303.41 611.34 L303.61 610.80 L303.75 610.26 L303.80 609.73 L303.81 609.21 L303.86 608.70 L303.93 608.18 L304.02 607.67 L304.14 607.15 L304.28 606.64 L304.44 606.12 L304.62 605.61 L304.81 605.09 L305.00 604.58 L305.20 604.06 L305.40 603.55 L305.59 603.03 L305.78 602.52 L305.96 602.00 L306.12 601.49 L306.26 600.97 L306.38 600.46 L306.47 599.94 L306.54 599.43 L306.59 598.91 L306.60 598.40 L306.58 597.88 L306.52 597.36 L306.41 596.83 L306.27 596.31 L306.10 595.79 L305.90 595.27 L305.68 594.74 L305.44 594.22 L305.20 593.70 L304.96 593.18 L304.72 592.66 L304.50 592.13 L304.30 591.61 L304.13 591.09 L303.99 590.57 L303.88 590.04 L303.82 589.52 L303.80 589.00 L303.77 588.48 L303.70 587.96 L303.59 587.44 L303.45 586.92 L303.30 586.40 L303.16 585.88 L303.05 585.36 L302.98 584.84 L302.95 584.32 L302.95 583.80 L302.95 583.28 L302.94 582.76 L302.94 582.24 L302.93 581.72 L302.92 581.20 L302.91 580.68 L302.90 580.16 L302.89 579.64 L302.88 579.12 L302.87 578.60 L302.86 578.08 L302.85 577.56 L302.84 577.04 L302.83 576.52 L302.82 576.00 L302.81 575.48 L302.81 574.96 L302.80 574.44 L302.80 573.92 L302.80 573.40Z" fill="#33648c" stroke="#2a2a2a" stroke-width="0.6" stroke-linejoin="round"/>
<path d="M310.50 562.90 L310.50 563.41 L310.50 563.91 L310.50 564.42 L310.49 564.93 L310.49 565.43 L310.48 565.94 L310.48 566.45 L310.47 566.96 L310.47 567.46 L310.46 567.97 L310.45 568.48 L310.45 568.98 L310.44 569.49 L310.43 570.00 L310.42 570.50 L310.41 571.01 L310.40 571.52 L310.40 572.02 L310.39 572.53 L310.38 573.04 L310.38 573.54 L310.37 574.05 L310.37 574.56 L310.36 575.07 L310.36 575.57 L310.35 576.08 L310.35 576.59 L310.35 577.09 L310.35 577.60 L310.33 578.12 L310.29 578.65 L310.22 579.17 L310.12 579.70 L310.01 580.23 L309.89 580.75 L309.78 581.27 L309.67 581.80 L309.57 582.33 L309.50 582.85 L309.46 583.38 L309.44 583.90 L309.43 584.40 L309.39 584.90 L309.34 585.40 L309.26 585.90 L309.16 586.40 L309.04 586.90 L308.91 587.40 L308.76 587.90 L308.60 588.40 L308.42 588.90 L308.25 589.40 L308.06 589.90 L307.88 590.40 L307.69 590.90 L307.52 591.40 L307.34 591.90 L307.18 592.40 L307.03 592.90 L306.90 593.40 L306.78 593.90 L306.68 594.40 L306.60 594.90 L306.55 595.40 L306.51 595.90 L306.50 596.40 L306.51 596.91 L306.56 597.43 L306.63 597.94 L306.73 598.46 L306.86 598.97 L307.01 599.49 L307.18 600.00 L307.36 600.52 L307.56 601.03 L307.76 601.55 L307.97 602.06 L308.18 602.58 L308.38 603.09 L308.58 603.61 L308.76 604.12 L308.93 604.64 L309.08 605.15 L309.21 605.67 L309.31 606.18 L309.38 606.70 L309.43 607.21 L309.44 607.73 L309.49 608.26 L309.64 608.80 L309.85 609.34 L310.09 609.88 L310.30 610.42 L310.45 610.96 L310.50 611.50 L310.90 611.50 L310.95 610.96 L311.10 610.42 L311.31 609.88 L311.55 609.34 L311.76 608.80 L311.91 608.26 L311.96 607.73 L311.97 607.21 L312.02 606.70 L312.09 606.18 L312.19 605.67 L312.32 605.15 L312.47 604.64 L312.64 604.12 L312.82 603.61 L313.02 603.09 L313.22 602.58 L313.43 602.06 L313.64 601.55 L313.84 601.03 L314.04 600.52 L314.22 600.00 L314.39 599.49 L314.54 598.97 L314.67 598.46 L314.77 597.94 L314.84 597.43 L314.89 596.91 L314.90 596.40 L314.89 595.90 L314.85 595.40 L314.80 594.90 L314.72 594.40 L314.62 593.90 L314.50 593.40 L314.37 592.90 L314.22 592.40 L314.06 591.90 L313.88 591.40 L313.71 590.90 L313.52 590.40 L313.34 589.90 L313.15 589.40 L312.98 588.90 L312.80 588.40 L312.64 587.90 L312.49 587.40 L312.36 586.90 L312.24 586.40 L312.14 585.90 L312.06 585.40 L312.01 584.90 L311.97 584.40 L311.96 583.90 L311.94 583.38 L311.90 582.85 L311.83 582.33 L311.73 581.80 L311.62 581.27 L311.50 580.75 L311.39 580.23 L311.28 579.70 L311.18 579.17 L311.11 578.65 L311.07 578.12 L311.05 577.60 L311.05 577.09 L311.05 576.59 L311.05 576.08 L311.04 575.57 L311.04 575.07 L311.03 574.56 L311.03 574.05 L311.02 573.54 L311.02 573.04 L311.01 572.53 L311.00 572.02 L311.00 571.52 L310.99 571.01 L310.98 570.50 L310.97 570.00 L310.96 569.49 L310.95 568.98 L310.95 568.48 L310.94 567.97 L310.93 567.46 L310.93 566.96 L310.92 566.45 L310.92 565.94 L310.91 565.43 L310.91 564.93 L310.90 564.42 L310.90 563.91 L310.90 563.41 L310.90 562.90Z" fill="#8c3428" stroke="#2a2a2a" stroke-width="0.6" stroke-linejoin="round"/>
<path d="M319.70 566.80 L319.70 567.34 L319.69 567.87 L319.68 568.41 L319.66 568.95 L319.64 569.48 L319.62 570.02 L319.61 570.56 L319.59 571.09 L319.57 571.63 L319.56 572.17 L319.55 572.70 L319.55 573.24 L319.46 573.79 L319.23 574.34 L318.93 574.90 L318.70 575.45 L318.61 576.00 L318.60 576.50 L318.57 577.00 L318.53 577.50 L318.47 578.00 L318.39 578.50 L318.30 579.00 L318.20 579.50 L318.08 580.00 L317.95 580.50 L317.81 581.00 L317.66 581.50 L317.51 582.00 L317.35 582.50 L317.19 583.00 L317.02 583.50 L316.86 584.00 L316.70 584.50 L316.55 585.00 L316.40 585.50 L316.26 586.00 L316.13 586.50 L316.01 587.00 L315.91 587.50 L315.82 588.00 L315.74 588.50 L315.68 589.00 L315.64 589.50 L315.61 590.00 L315.60 590.50 L315.61 591.01 L315.64 591.52 L315.68 592.03 L315.75 592.54 L315.83 593.04 L315.93 593.55 L316.04 594.06 L316.17 594.57 L316.30 595.08 L316.45 595.59 L316.61 596.10 L316.77 596.61 L316.94 597.12 L317.10 597.62 L317.27 598.13 L317.44 598.64 L317.60 599.15 L317.76 599.66 L317.91 600.17 L318.04 600.68 L318.17 601.19 L318.28 601.70 L318.38 602.21 L318.46 602.71 L318.53 603.22 L318.57 603.73 L318.60 604.24 L318.61 604.75 L318.64 605.28 L318.74 605.81 L318.88 606.33 L319.06 606.86 L319.25 607.39 L319.43 607.92 L319.57 608.44 L319.67 608.97 L319.70 609.50 L320.10 609.50 L320.13 608.97 L320.23 608.44 L320.37 607.92 L320.55 607.39 L320.74 606.86 L320.92 606.33 L321.06 605.81 L321.16 605.28 L321.19 604.75 L321.20 604.24 L321.23 603.73 L321.27 603.22 L321.34 602.71 L321.42 602.21 L321.52 601.70 L321.63 601.19 L321.76 600.68 L321.89 600.17 L322.04 599.66 L322.20 599.15 L322.36 598.64 L322.53 598.13 L322.69 597.62 L322.86 597.12 L323.03 596.61 L323.19 596.10 L323.35 595.59 L323.50 595.08 L323.63 594.57 L323.76 594.06 L323.87 593.55 L323.97 593.04 L324.05 592.54 L324.12 592.03 L324.16 591.52 L324.19 591.01 L324.20 590.50 L324.19 590.00 L324.16 589.50 L324.12 589.00 L324.06 588.50 L323.98 588.00 L323.89 587.50 L323.79 587.00 L323.67 586.50 L323.54 586.00 L323.40 585.50 L323.25 585.00 L323.10 584.50 L322.94 584.00 L322.78 583.50 L322.61 583.00 L322.45 582.50 L322.29 582.00 L322.14 581.50 L321.99 581.00 L321.85 580.50 L321.72 580.00 L321.60 579.50 L321.50 579.00 L321.41 578.50 L321.33 578.00 L321.27 577.50 L321.23 577.00 L321.20 576.50 L321.19 576.00 L321.10 575.45 L320.87 574.90 L320.57 574.34 L320.34 573.79 L320.25 573.24 L320.25 572.70 L320.24 572.17 L320.23 571.63 L320.21 571.09 L320.19 570.56 L320.17 570.02 L320.16 569.48 L320.14 568.95 L320.12 568.41 L320.11 567.87 L320.10 567.34 L320.10 566.80Z" fill="#33648c" stroke="#2a2a2a" stroke-width="0.6" stroke-linejoin="round"/>
<path d="M327.60 563.50 L327.60 564.02 L327.59 564.55 L327.59 565.07 L327.58 565.59 L327.56 566.11 L327.55 566.64 L327.53 567.16 L327.52 567.68 L327.50 568.20 L327.49 568.73 L327.47 569.25 L327.46 569.77 L327.46 570.29 L327.45 570.82 L327.45 571.34 L327.39 571.90 L327.22 572.46 L326.98 573.02 L326.75 573.58 L326.57 574.14 L326.51 574.70 L326.50 575.21 L326.48 575.73 L326.45 576.24 L326.40 576.75 L326.33 577.26 L326.26 577.78 L326.17 578.29 L326.07 578.80 L325.96 579.31 L325.84 579.83 L325.71 580.34 L325.58 580.85 L325.44 581.36 L325.30 581.88 L325.15 582.39 L325.00 582.90 L324.86 583.41 L324.71 583.93 L324.57 584.44 L324.43 584.95 L324.30 585.46 L324.17 585.98 L324.05 586.49 L323.94 587.00 L323.84 587.51 L323.75 588.02 L323.68 588.54 L323.61 589.05 L323.56 589.56 L323.53 590.08 L323.51 590.59 L323.50 591.10 L323.52 591.62 L323.57 592.14 L323.65 592.65 L323.76 593.17 L323.90 593.69 L324.07 594.21 L324.25 594.73 L324.46 595.24 L324.67 595.76 L324.89 596.28 L325.12 596.80 L325.34 597.31 L325.55 597.83 L325.76 598.35 L325.94 598.87 L326.11 599.39 L326.25 599.90 L326.36 600.42 L326.44 600.94 L326.49 601.46 L326.51 601.98 L326.56 602.49 L326.72 603.01 L326.93 603.53 L327.18 604.05 L327.39 604.56 L327.55 605.08 L327.60 605.60 L328.00 605.60 L328.05 605.08 L328.21 604.56 L328.42 604.05 L328.67 603.53 L328.88 603.01 L329.04 602.49 L329.09 601.98 L329.11 601.46 L329.16 600.94 L329.24 600.42 L329.35 599.90 L329.49 599.39 L329.66 598.87 L329.84 598.35 L330.05 597.83 L330.26 597.31 L330.48 596.80 L330.71 596.28 L330.93 595.76 L331.14 595.24 L331.35 594.73 L331.53 594.21 L331.70 593.69 L331.84 593.17 L331.95 592.65 L332.03 592.14 L332.08 591.62 L332.10 591.10 L332.09 590.59 L332.07 590.08 L332.04 589.56 L331.99 589.05 L331.92 588.54 L331.85 588.02 L331.76 587.51 L331.66 587.00 L331.55 586.49 L331.43 585.98 L331.30 585.46 L331.17 584.95 L331.03 584.44 L330.89 583.93 L330.74 583.41 L330.60 582.90 L330.45 582.39 L330.30 581.88 L330.16 581.36 L330.02 580.85 L329.89 580.34 L329.76 579.83 L329.64 579.31 L329.53 578.80 L329.43 578.29 L329.34 577.78 L329.27 577.26 L329.20 576.75 L329.15 576.24 L329.12 575.73 L329.10 575.21 L329.09 574.70 L329.03 574.14 L328.86 573.58 L328.62 573.02 L328.38 572.46 L328.21 571.90 L328.15 571.34 L328.15 570.82 L328.14 570.29 L328.14 569.77 L328.13 569.25 L328.11 568.73 L328.10 568.20 L328.08 567.68 L328.07 567.16 L328.05 566.64 L328.04 566.11 L328.02 565.59 L328.01 565.07 L328.01 564.55 L328.00 564.02 L328.00 563.50Z" fill="#8c3428" stroke="#2a2a2a" stroke-width="0.6" stroke-linejoin="round"/>
<path d="M337.20 578.00 L337.20 578.50 L337.19 579.01 L337.17 579.51 L337.15 580.02 L337.12 580.52 L337.10 581.02 L337.08 581.53 L337.06 582.03 L337.05 582.54 L337.05 583.04 L336.91 583.58 L336.58 584.12 L336.25 584.66 L336.11 585.20 L336.09 585.71 L336.02 586.22 L335.91 586.73 L335.76 587.24 L335.57 587.76 L335.36 588.27 L335.12 588.78 L334.87 589.29 L334.60 589.80 L334.34 590.31 L334.09 590.82 L333.85 591.33 L333.64 591.84 L333.45 592.36 L333.30 592.87 L333.19 593.38 L333.12 593.89 L333.10 594.40 L333.12 594.91 L333.16 595.43 L333.24 595.94 L333.34 596.46 L333.47 596.97 L333.62 597.49 L333.79 598.00 L333.98 598.52 L334.18 599.03 L334.39 599.55 L334.60 600.06 L334.82 600.58 L335.03 601.09 L335.23 601.61 L335.42 602.12 L335.59 602.64 L335.74 603.15 L335.87 603.67 L335.97 604.18 L336.05 604.70 L336.09 605.21 L336.11 605.73 L336.16 606.26 L336.32 606.80 L336.53 607.34 L336.78 607.88 L336.99 608.42 L337.15 608.96 L337.20 609.50 L337.60 609.50 L337.65 608.96 L337.81 608.42 L338.02 607.88 L338.27 607.34 L338.48 606.80 L338.64 606.26 L338.69 605.73 L338.71 605.21 L338.75 604.70 L338.83 604.18 L338.93 603.67 L339.06 603.15 L339.21 602.64 L339.38 602.12 L339.57 601.61 L339.77 601.09 L339.98 600.58 L340.19 600.06 L340.41 599.55 L340.62 599.03 L340.82 598.52 L341.01 598.00 L341.18 597.49 L341.33 596.97 L341.46 596.46 L341.56 595.94 L341.64 595.43 L341.68 594.91 L341.70 594.40 L341.68 593.89 L341.61 593.38 L341.50 592.87 L341.35 592.36 L341.16 591.84 L340.95 591.33 L340.71 590.82 L340.46 590.31 L340.19 589.80 L339.93 589.29 L339.68 588.78 L339.44 588.27 L339.23 587.76 L339.04 587.24 L338.89 586.73 L338.78 586.22 L338.71 585.71 L338.69 585.20 L338.55 584.66 L338.22 584.12 L337.89 583.58 L337.75 583.04 L337.75 582.54 L337.74 582.03 L337.72 581.53 L337.70 581.02 L337.67 580.52 L337.65 580.02 L337.63 579.51 L337.61 579.01 L337.60 578.50 L337.60 578.00Z" fill="#33648c" stroke="#2a2a2a" stroke-width="0.6" stroke-linejoin="round"/>
<path d="M345.40 576.00 L345.40 576.50 L345.39 577.01 L345.37 577.51 L345.36 578.01 L345.34 578.51 L345.31 579.02 L345.29 579.52 L345.28 580.02 L345.26 580.52 L345.25 581.03 L345.25 581.53 L345.13 582.12 L344.83 582.71 L344.52 583.31 L344.40 583.90 L344.38 584.40 L344.34 584.90 L344.26 585.40 L344.16 585.90 L344.03 586.40 L343.87 586.90 L343.70 587.40 L343.51 587.90 L343.31 588.40 L343.10 588.90 L342.90 589.40 L342.69 589.90 L342.49 590.40 L342.30 590.90 L342.13 591.40 L341.97 591.90 L341.84 592.40 L341.74 592.90 L341.66 593.40 L341.62 593.90 L341.60 594.40 L341.64 594.93 L341.74 595.46 L341.91 595.99 L342.13 596.52 L342.39 597.05 L342.69 597.58 L343.00 598.11 L343.31 598.64 L343.61 599.17 L343.87 599.70 L344.09 600.23 L344.26 600.76 L344.36 601.29 L344.40 601.82 L344.55 602.44 L344.90 603.06 L345.25 603.68 L345.40 604.30 L345.80 604.30 L345.95 603.68 L346.30 603.06 L346.65 602.44 L346.80 601.82 L346.84 601.29 L346.94 600.76 L347.11 600.23 L347.33 599.70 L347.59 599.17 L347.89 598.64 L348.20 598.11 L348.51 597.58 L348.81 597.05 L349.07 596.52 L349.29 595.99 L349.46 595.46 L349.56 594.93 L349.60 594.40 L349.58 593.90 L349.54 593.40 L349.46 592.90 L349.36 592.40 L349.23 591.90 L349.07 591.40 L348.90 590.90 L348.71 590.40 L348.51 589.90 L348.30 589.40 L348.10 588.90 L347.89 588.40 L347.69 587.90 L347.50 587.40 L347.33 586.90 L347.17 586.40 L347.04 585.90 L346.94 585.40 L346.86 584.90 L346.82 584.40 L346.80 583.90 L346.68 583.31 L346.38 582.71 L346.07 582.12 L345.95 581.53 L345.95 581.03 L345.94 580.52 L345.92 580.02 L345.91 579.52 L345.89 579.02 L345.86 578.51 L345.84 578.01 L345.83 577.51 L345.81 577.01 L345.80 576.50 L345.80 576.00Z" fill="#8c3428" stroke="#2a2a2a" stroke-width="0.6" stroke-linejoin="round"/>
<path d="M281.70 692.00 L281.62 692.70 L281.55 693.40 L281.12 693.70 L280.70 694.00 L280.68 694.51 L280.63 695.02 L280.55 695.53 L280.43 696.04 L280.29 696.55 L280.12 697.06 L279.94 697.57 L279.73 698.08 L279.52 698.59 L279.30 699.10 L279.08 699.61 L278.87 700.12 L278.66 700.63 L278.48 701.14 L278.31 701.65 L278.17 702.16 L278.05 702.67 L277.97 703.18 L277.92 703.69 L277.90 704.20 L278.04 704.76 L278.43 705.31 L278.99 705.87 L279.61 706.43 L280.17 706.99 L280.56 707.54 L280.70 708.10 L281.20 708.75 L281.70 709.40 L282.10 709.40 L282.60 708.75 L283.10 708.10 L283.24 707.54 L283.63 706.99 L284.19 706.43 L284.81 705.87 L285.37 705.31 L285.76 704.76 L285.90 704.20 L285.88 703.69 L285.83 703.18 L285.75 702.67 L285.63 702.16 L285.49 701.65 L285.32 701.14 L285.14 700.63 L284.93 700.12 L284.72 699.61 L284.50 699.10 L284.28 698.59 L284.07 698.08 L283.86 697.57 L283.68 697.06 L283.51 696.55 L283.37 696.04 L283.25 695.53 L283.17 695.02 L283.12 694.51 L283.10 694.00 L282.67 693.70 L282.25 693.40 L282.17 692.70 L282.10 692.00Z" fill="#33648c" stroke="#2a2a2a" stroke-width="0.6" stroke-linejoin="round"/>
<path d="M289.70 687.90 L289.58 688.42 L289.30 688.95 L289.02 689.48 L288.90 690.00 L288.86 690.50 L288.75 691.00 L288.57 691.50 L288.34 692.00 L288.05 692.50 L287.73 693.00 L287.40 693.50 L287.07 694.00 L286.75 694.50 L286.46 695.00 L286.23 695.50 L286.05 696.00 L285.94 696.50 L285.90 697.00 L285.96 697.50 L286.14 698.00 L286.42 698.50 L286.78 699.00 L287.19 699.50 L287.61 700.00 L288.02 700.50 L288.38 701.00 L288.66 701.50 L288.84 702.00 L288.90 702.50 L288.83 703.04 L288.64 703.59 L288.36 704.13 L288.04 704.67 L287.76 705.21 L287.57 705.76 L287.50 706.30 L287.64 706.83 L288.02 707.37 L288.55 707.90 L289.07 708.43 L289.46 708.97 L289.60 709.50 L290.20 709.50 L290.34 708.97 L290.72 708.43 L291.25 707.90 L291.77 707.37 L292.16 706.83 L292.30 706.30 L292.23 705.76 L292.04 705.21 L291.76 704.67 L291.44 704.13 L291.16 703.59 L290.97 703.04 L290.90 702.50 L290.96 702.00 L291.14 701.50 L291.42 701.00 L291.78 700.50 L292.19 700.00 L292.61 699.50 L293.02 699.00 L293.38 698.50 L293.66 698.00 L293.84 697.50 L293.90 697.00 L293.86 696.50 L293.75 696.00 L293.57 695.50 L293.34 695.00 L293.05 694.50 L292.73 694.00 L292.40 693.50 L292.07 693.00 L291.75 692.50 L291.46 692.00 L291.23 691.50 L291.05 691.00 L290.94 690.50 L290.90 690.00 L290.78 689.48 L290.50 688.95 L290.22 688.42 L290.10 687.90Z" fill="#8c3428" stroke="#2a2a2a" stroke-width="0.6" stroke-linejoin="round"/>
<path d="M299.30 675.00 L299.29 675.56 L299.25 676.12 L299.20 676.68 L299.16 677.24 L299.15 677.80 L298.65 678.40 L298.15 679.00 L298.14 679.52 L298.10 680.03 L298.03 680.55 L297.94 681.07 L297.82 681.58 L297.69 682.10 L297.53 682.62 L297.36 683.13 L297.18 683.65 L296.98 684.17 L296.78 684.68 L296.57 685.20 L296.37 685.72 L296.17 686.23 L295.97 686.75 L295.79 687.27 L295.62 687.78 L295.46 688.30 L295.33 688.82 L295.21 689.33 L295.12 689.85 L295.05 690.37 L295.01 690.88 L295.00 691.40 L295.02 691.91 L295.07 692.43 L295.16 692.94 L295.27 693.46 L295.42 693.97 L295.59 694.49 L295.79 695.00 L296.00 695.51 L296.22 696.03 L296.46 696.54 L296.69 697.06 L296.93 697.57 L297.15 698.09 L297.36 698.60 L297.56 699.11 L297.73 699.63 L297.88 700.14 L297.99 700.66 L298.08 701.17 L298.13 701.69 L298.15 702.20 L298.21 702.71 L298.37 703.23 L298.60 703.74 L298.85 704.26 L299.08 704.77 L299.24 705.29 L299.30 705.80 L299.70 705.80 L299.76 705.29 L299.92 704.77 L300.15 704.26 L300.40 703.74 L300.63 703.23 L300.79 702.71 L300.85 702.20 L300.87 701.69 L300.92 701.17 L301.01 700.66 L301.12 700.14 L301.27 699.63 L301.44 699.11 L301.64 698.60 L301.85 698.09 L302.07 697.57 L302.31 697.06 L302.54 696.54 L302.78 696.03 L303.00 695.51 L303.21 695.00 L303.41 694.49 L303.58 693.97 L303.73 693.46 L303.84 692.94 L303.93 692.43 L303.98 691.91 L304.00 691.40 L303.99 690.88 L303.95 690.37 L303.88 689.85 L303.79 689.33 L303.67 688.82 L303.54 688.30 L303.38 687.78 L303.21 687.27 L303.03 686.75 L302.83 686.23 L302.63 685.72 L302.43 685.20 L302.22 684.68 L302.02 684.17 L301.82 683.65 L301.64 683.13 L301.47 682.62 L301.31 682.10 L301.18 681.58 L301.06 681.07 L300.97 680.55 L300.90 680.03 L300.86 679.52 L300.85 679.00 L300.35 678.40 L299.85 677.80 L299.84 677.24 L299.80 676.68 L299.75 676.12 L299.71 675.56 L299.70 675.00Z" fill="#33648c" stroke="#2a2a2a" stroke-width="0.6" stroke-linejoin="round"/>
<path d="M306.90 659.30 L306.90 659.81 L306.90 660.32 L306.90 660.82 L306.89 661.33 L306.89 661.84 L306.89 662.35 L306.88 662.86 L306.88 663.36 L306.87 663.87 L306.86 664.38 L306.86 664.89 L306.85 665.40 L306.84 665.90 L306.84 666.41 L306.83 666.92 L306.82 667.43 L306.81 667.94 L306.81 668.45 L306.80 668.95 L306.79 669.46 L306.79 669.97 L306.78 670.48 L306.77 670.99 L306.77 671.49 L306.76 672.00 L306.76 672.51 L306.76 673.02 L306.75 673.53 L306.75 674.03 L306.75 674.54 L306.75 675.05 L306.74 675.57 L306.70 676.09 L306.64 676.61 L306.56 677.13 L306.47 677.65 L306.36 678.17 L306.26 678.68 L306.15 679.20 L306.06 679.72 L305.98 680.24 L305.92 680.76 L305.88 681.28 L305.87 681.80 L305.85 682.31 L305.79 682.81 L305.70 683.32 L305.57 683.82 L305.41 684.33 L305.22 684.83 L305.01 685.34 L304.79 685.84 L304.55 686.35 L304.32 686.85 L304.08 687.36 L303.86 687.86 L303.65 688.37 L303.46 688.87 L303.30 689.38 L303.17 689.88 L303.08 690.39 L303.02 690.89 L303.00 691.40 L303.01 691.92 L303.06 692.44 L303.13 692.95 L303.23 693.47 L303.35 693.99 L303.50 694.51 L303.66 695.03 L303.84 695.55 L304.03 696.06 L304.23 696.58 L304.44 697.10 L304.64 697.62 L304.84 698.14 L305.03 698.65 L305.21 699.17 L305.37 699.69 L305.52 700.21 L305.64 700.73 L305.74 701.25 L305.81 701.76 L305.86 702.28 L305.87 702.80 L305.92 703.34 L306.06 703.89 L306.27 704.43 L306.50 704.97 L306.71 705.51 L306.85 706.06 L306.90 706.60 L307.30 706.60 L307.35 706.06 L307.49 705.51 L307.70 704.97 L307.93 704.43 L308.14 703.89 L308.28 703.34 L308.33 702.80 L308.34 702.28 L308.39 701.76 L308.46 701.25 L308.56 700.73 L308.68 700.21 L308.83 699.69 L308.99 699.17 L309.17 698.65 L309.36 698.14 L309.56 697.62 L309.77 697.10 L309.97 696.58 L310.17 696.06 L310.36 695.55 L310.54 695.03 L310.70 694.51 L310.85 693.99 L310.97 693.47 L311.07 692.95 L311.14 692.44 L311.19 691.92 L311.20 691.40 L311.18 690.89 L311.12 690.39 L311.03 689.88 L310.90 689.38 L310.74 688.87 L310.55 688.37 L310.34 687.86 L310.12 687.36 L309.88 686.85 L309.65 686.35 L309.41 685.84 L309.19 685.34 L308.98 684.83 L308.79 684.33 L308.63 683.82 L308.50 683.32 L308.41 682.81 L308.35 682.31 L308.33 681.80 L308.32 681.28 L308.28 680.76 L308.22 680.24 L308.14 679.72 L308.05 679.20 L307.94 678.68 L307.84 678.17 L307.73 677.65 L307.64 677.13 L307.56 676.61 L307.50 676.09 L307.46 675.57 L307.45 675.05 L307.45 674.54 L307.45 674.03 L307.45 673.53 L307.44 673.02 L307.44 672.51 L307.44 672.00 L307.43 671.49 L307.43 670.99 L307.42 670.48 L307.41 669.97 L307.41 669.46 L307.40 668.95 L307.39 668.45 L307.39 667.94 L307.38 667.43 L307.37 666.92 L307.36 666.41 L307.36 665.90 L307.35 665.40 L307.34 664.89 L307.34 664.38 L307.33 663.87 L307.32 663.36 L307.32 662.86 L307.31 662.35 L307.31 661.84 L307.31 661.33 L307.30 660.82 L307.30 660.32 L307.30 659.81 L307.30 659.30Z" fill="#8c3428" stroke="#2a2a2a" stroke-width="0.6" stroke-linejoin="round"/>
<path d="M316.20 665.70 L316.19 666.20 L316.16 666.70 L316.12 667.21 L316.09 667.71 L316.06 668.21 L316.05 668.71 L315.50 669.36 L314.96 670.00 L314.95 670.50 L314.92 671.00 L314.88 671.50 L314.81 672.00 L314.73 672.50 L314.64 673.00 L314.53 673.50 L314.40 674.00 L314.27 674.50 L314.12 675.00 L313.96 675.50 L313.80 676.00 L313.63 676.50 L313.46 677.00 L313.28 677.50 L313.10 678.00 L312.93 678.50 L312.76 679.00 L312.60 679.50 L312.44 680.00 L312.29 680.50 L312.16 681.00 L312.03 681.50 L311.92 682.00 L311.83 682.50 L311.75 683.00 L311.68 683.50 L311.64 684.00 L311.61 684.50 L311.60 685.00 L311.61 685.51 L311.65 686.02 L311.70 686.53 L311.78 687.04 L311.88 687.56 L311.99 688.07 L312.13 688.58 L312.28 689.09 L312.44 689.60 L312.61 690.11 L312.80 690.62 L312.99 691.13 L313.18 691.64 L313.38 692.16 L313.57 692.67 L313.76 693.18 L313.95 693.69 L314.12 694.20 L314.28 694.71 L314.43 695.22 L314.57 695.73 L314.68 696.24 L314.78 696.76 L314.86 697.27 L314.91 697.78 L314.95 698.29 L314.96 698.80 L315.00 699.31 L315.11 699.82 L315.27 700.33 L315.47 700.84 L315.69 701.36 L315.89 701.87 L316.05 702.38 L316.16 702.89 L316.20 703.40 L316.60 703.40 L316.64 702.89 L316.75 702.38 L316.91 701.87 L317.11 701.36 L317.33 700.84 L317.53 700.33 L317.69 699.82 L317.80 699.31 L317.84 698.80 L317.85 698.29 L317.89 697.78 L317.94 697.27 L318.02 696.76 L318.12 696.24 L318.23 695.73 L318.37 695.22 L318.52 694.71 L318.68 694.20 L318.85 693.69 L319.04 693.18 L319.23 692.67 L319.42 692.16 L319.62 691.64 L319.81 691.13 L320.00 690.62 L320.19 690.11 L320.36 689.60 L320.52 689.09 L320.67 688.58 L320.81 688.07 L320.92 687.56 L321.02 687.04 L321.10 686.53 L321.15 686.02 L321.19 685.51 L321.20 685.00 L321.19 684.50 L321.16 684.00 L321.12 683.50 L321.05 683.00 L320.97 682.50 L320.88 682.00 L320.77 681.50 L320.64 681.00 L320.51 680.50 L320.36 680.00 L320.20 679.50 L320.04 679.00 L319.87 678.50 L319.70 678.00 L319.52 677.50 L319.34 677.00 L319.17 676.50 L319.00 676.00 L318.84 675.50 L318.68 675.00 L318.53 674.50 L318.40 674.00 L318.27 673.50 L318.16 673.00 L318.07 672.50 L317.99 672.00 L317.92 671.50 L317.88 671.00 L317.85 670.50 L317.84 670.00 L317.29 669.36 L316.75 668.71 L316.74 668.21 L316.71 667.71 L316.67 667.21 L316.64 666.70 L316.61 666.20 L316.60 665.70Z" fill="#33648c" stroke="#2a2a2a" stroke-width="0.6" stroke-linejoin="round"/>
<path d="M324.20 665.70 L324.20 666.22 L324.19 666.73 L324.18 667.25 L324.17 667.76 L324.16 668.27 L324.14 668.79 L324.12 669.31 L324.11 669.82 L324.09 670.34 L324.08 670.85 L324.07 671.37 L324.06 671.88 L324.05 672.39 L324.05 672.91 L323.99 673.42 L323.84 673.94 L323.62 674.45 L323.41 674.97 L323.26 675.49 L323.20 676.00 L323.19 676.52 L323.14 677.04 L323.07 677.55 L322.98 678.07 L322.86 678.59 L322.72 679.11 L322.56 679.63 L322.38 680.15 L322.19 680.66 L322.00 681.18 L321.80 681.70 L321.60 682.22 L321.41 682.74 L321.22 683.25 L321.04 683.77 L320.88 684.29 L320.74 684.81 L320.62 685.33 L320.53 685.85 L320.46 686.36 L320.41 686.88 L320.40 687.40 L320.41 687.91 L320.44 688.42 L320.48 688.93 L320.55 689.44 L320.63 689.96 L320.73 690.47 L320.84 690.98 L320.96 691.49 L321.10 692.00 L321.25 692.51 L321.40 693.02 L321.56 693.53 L321.72 694.04 L321.88 694.56 L322.04 695.07 L322.20 695.58 L322.35 696.09 L322.50 696.60 L322.64 697.11 L322.76 697.62 L322.87 698.13 L322.97 698.64 L323.05 699.16 L323.12 699.67 L323.16 700.18 L323.19 700.69 L323.20 701.20 L323.23 701.71 L323.32 702.22 L323.45 702.73 L323.61 703.24 L323.79 703.76 L323.95 704.27 L324.08 704.78 L324.17 705.29 L324.20 705.80 L324.60 705.80 L324.63 705.29 L324.72 704.78 L324.85 704.27 L325.01 703.76 L325.19 703.24 L325.35 702.73 L325.48 702.22 L325.57 701.71 L325.60 701.20 L325.61 700.69 L325.64 700.18 L325.68 699.67 L325.75 699.16 L325.83 698.64 L325.93 698.13 L326.04 697.62 L326.16 697.11 L326.30 696.60 L326.45 696.09 L326.60 695.58 L326.76 695.07 L326.92 694.56 L327.08 694.04 L327.24 693.53 L327.40 693.02 L327.55 692.51 L327.70 692.00 L327.84 691.49 L327.96 690.98 L328.07 690.47 L328.17 689.96 L328.25 689.44 L328.32 688.93 L328.36 688.42 L328.39 687.91 L328.40 687.40 L328.39 686.88 L328.34 686.36 L328.27 685.85 L328.18 685.33 L328.06 684.81 L327.92 684.29 L327.76 683.77 L327.58 683.25 L327.39 682.74 L327.20 682.22 L327.00 681.70 L326.80 681.18 L326.61 680.66 L326.42 680.15 L326.24 679.63 L326.08 679.11 L325.94 678.59 L325.82 678.07 L325.73 677.55 L325.66 677.04 L325.61 676.52 L325.60 676.00 L325.54 675.49 L325.39 674.97 L325.17 674.45 L324.96 673.94 L324.81 673.42 L324.75 672.91 L324.75 672.39 L324.74 671.88 L324.73 671.37 L324.72 670.85 L324.71 670.34 L324.69 669.82 L324.67 669.31 L324.66 668.79 L324.64 668.27 L324.63 667.76 L324.62 667.25 L324.61 666.73 L324.60 666.22 L324.60 665.70Z" fill="#8c3428" stroke="#2a2a2a" stroke-width="0.6" stroke-linejoin="round"/>
<path d="M333.50 669.00 L333.48 669.52 L333.43 670.05 L333.37 670.58 L333.35 671.10 L332.93 671.55 L332.50 672.00 L332.49 672.51 L332.46 673.02 L332.42 673.53 L332.35 674.04 L332.27 674.56 L332.17 675.07 L332.06 675.58 L331.94 676.09 L331.80 676.60 L331.65 677.11 L331.50 677.62 L331.34 678.13 L331.18 678.64 L331.02 679.16 L330.86 679.67 L330.70 680.18 L330.55 680.69 L330.40 681.20 L330.26 681.71 L330.14 682.22 L330.03 682.73 L329.93 683.24 L329.85 683.76 L329.78 684.27 L329.74 684.78 L329.71 685.29 L329.70 685.80 L329.74 686.31 L329.84 686.83 L330.01 687.34 L330.23 687.86 L330.49 688.37 L330.79 688.89 L331.10 689.40 L331.41 689.91 L331.71 690.43 L331.97 690.94 L332.19 691.46 L332.36 691.97 L332.46 692.49 L332.50 693.00 L332.65 693.60 L333.00 694.20 L333.35 694.80 L333.50 695.40 L333.90 695.40 L334.05 694.80 L334.40 694.20 L334.75 693.60 L334.90 693.00 L334.94 692.49 L335.04 691.97 L335.21 691.46 L335.43 690.94 L335.69 690.43 L335.99 689.91 L336.30 689.40 L336.61 688.89 L336.91 688.37 L337.17 687.86 L337.39 687.34 L337.56 686.83 L337.66 686.31 L337.70 685.80 L337.69 685.29 L337.66 684.78 L337.62 684.27 L337.55 683.76 L337.47 683.24 L337.37 682.73 L337.26 682.22 L337.14 681.71 L337.00 681.20 L336.85 680.69 L336.70 680.18 L336.54 679.67 L336.38 679.16 L336.22 678.64 L336.06 678.13 L335.90 677.62 L335.75 677.11 L335.60 676.60 L335.46 676.09 L335.34 675.58 L335.23 675.07 L335.13 674.56 L335.05 674.04 L334.98 673.53 L334.94 673.02 L334.91 672.51 L334.90 672.00 L334.47 671.55 L334.05 671.10 L334.03 670.58 L333.97 670.05 L333.92 669.52 L333.90 669.00Z" fill="#33648c" stroke="#2a2a2a" stroke-width="0.6" stroke-linejoin="round"/>
<path d="M341.60 660.90 L341.60 661.40 L341.60 661.91 L341.59 662.41 L341.59 662.91 L341.58 663.42 L341.57 663.92 L341.56 664.42 L341.55 664.93 L341.54 665.43 L341.53 665.93 L341.52 666.44 L341.51 666.94 L341.50 667.44 L341.49 667.95 L341.48 668.45 L341.47 668.95 L341.46 669.46 L341.46 669.96 L341.45 670.46 L341.45 670.97 L341.45 671.47 L341.42 671.97 L341.35 672.48 L341.24 672.98 L341.10 673.48 L340.95 673.99 L340.81 674.49 L340.70 674.99 L340.63 675.50 L340.60 676.00 L340.59 676.52 L340.54 677.04 L340.47 677.55 L340.38 678.07 L340.26 678.59 L340.12 679.11 L339.96 679.63 L339.78 680.15 L339.59 680.66 L339.40 681.18 L339.20 681.70 L339.00 682.22 L338.81 682.74 L338.62 683.25 L338.44 683.77 L338.28 684.29 L338.14 684.81 L338.02 685.33 L337.93 685.85 L337.86 686.36 L337.81 686.88 L337.80 687.40 L337.83 687.92 L337.92 688.44 L338.07 688.96 L338.26 689.48 L338.50 690.00 L338.77 690.52 L339.05 691.04 L339.35 691.56 L339.63 692.08 L339.90 692.60 L340.14 693.12 L340.33 693.64 L340.48 694.16 L340.57 694.68 L340.60 695.20 L340.70 695.72 L340.95 696.24 L341.25 696.76 L341.50 697.28 L341.60 697.80 L342.00 697.80 L342.10 697.28 L342.35 696.76 L342.65 696.24 L342.90 695.72 L343.00 695.20 L343.03 694.68 L343.12 694.16 L343.27 693.64 L343.46 693.12 L343.70 692.60 L343.97 692.08 L344.25 691.56 L344.55 691.04 L344.83 690.52 L345.10 690.00 L345.34 689.48 L345.53 688.96 L345.68 688.44 L345.77 687.92 L345.80 687.40 L345.79 686.88 L345.74 686.36 L345.67 685.85 L345.58 685.33 L345.46 684.81 L345.32 684.29 L345.16 683.77 L344.98 683.25 L344.79 682.74 L344.60 682.22 L344.40 681.70 L344.20 681.18 L344.01 680.66 L343.82 680.15 L343.64 679.63 L343.48 679.11 L343.34 678.59 L343.22 678.07 L343.13 677.55 L343.06 677.04 L343.01 676.52 L343.00 676.00 L342.97 675.50 L342.90 674.99 L342.79 674.49 L342.65 673.99 L342.50 673.48 L342.36 672.98 L342.25 672.48 L342.18 671.97 L342.15 671.47 L342.15 670.97 L342.15 670.46 L342.14 669.96 L342.14 669.46 L342.13 668.95 L342.12 668.45 L342.11 667.95 L342.10 667.44 L342.09 666.94 L342.08 666.44 L342.07 665.93 L342.06 665.43 L342.05 664.93 L342.04 664.42 L342.03 663.92 L342.02 663.42 L342.01 662.91 L342.01 662.41 L342.00 661.91 L342.00 661.40 L342.00 660.90Z" fill="#8c3428" stroke="#2a2a2a" stroke-width="0.6" stroke-linejoin="round"/>
<line x1="278.9" y1="562.0" x2="278.9" y2="616.3" stroke="#333" stroke-width="1" shape-rendering="crispEdges"/>
<line x1="278.9" y1="616.3" x2="351.6" y2="616.3" stroke="#333" stroke-width="1" shape-rendering="crispEdges"/>
<line x1="276.4" y1="571.4" x2="278.9" y2="571.4" stroke="#333" stroke-width="0.9" shape-rendering="crispEdges"/>
<text stroke="#333" stroke-width="0.22" x="275.4" y="574.7" font-size="9.4" text-anchor="end" fill="#333" font-family="Liberation Sans">0.2</text>
<line x1="276.4" y1="585.0" x2="278.9" y2="585.0" stroke="#333" stroke-width="0.9" shape-rendering="crispEdges"/>
<text stroke="#333" stroke-width="0.22" x="275.4" y="588.3" font-size="9.4" text-anchor="end" fill="#333" font-family="Liberation Sans">0.1</text>
<line x1="276.4" y1="598.7" x2="278.9" y2="598.7" stroke="#333" stroke-width="0.9" shape-rendering="crispEdges"/>
<text stroke="#333" stroke-width="0.22" x="275.4" y="602.0" font-size="9.4" text-anchor="end" fill="#333" font-family="Liberation Sans">0.0</text>
<line x1="276.4" y1="611.8" x2="278.9" y2="611.8" stroke="#333" stroke-width="0.9" shape-rendering="crispEdges"/>
<text stroke="#333" stroke-width="0.22" x="275.4" y="615.1" font-size="9.4" text-anchor="end" fill="#333" font-family="Liberation Sans">−0.1</text>
<line x1="289.6" y1="616.3" x2="289.6" y2="618.8" stroke="#333" stroke-width="0.9" shape-rendering="crispEdges"/>
<text stroke="#333" stroke-width="0.22" x="0" y="0" font-size="9.3" text-anchor="end" fill="#333" transform="translate(293.2 622.9) rotate(-45)">BMSC−0</text>
<line x1="306.6" y1="616.3" x2="306.6" y2="618.8" stroke="#333" stroke-width="0.9" shape-rendering="crispEdges"/>
<text stroke="#333" stroke-width="0.22" x="0" y="0" font-size="9.3" text-anchor="end" fill="#333" transform="translate(310.2 622.9) rotate(-45)">BMSC−1</text>
<line x1="323.8" y1="616.3" x2="323.8" y2="618.8" stroke="#333" stroke-width="0.9" shape-rendering="crispEdges"/>
<text stroke="#333" stroke-width="0.22" x="0" y="0" font-size="9.3" text-anchor="end" fill="#333" transform="translate(327.4 622.9) rotate(-45)">BMSC−2</text>
<line x1="341.5" y1="616.3" x2="341.5" y2="618.8" stroke="#333" stroke-width="0.9" shape-rendering="crispEdges"/>
<text stroke="#333" stroke-width="0.22" x="0" y="0" font-size="9.3" text-anchor="end" fill="#333" transform="translate(345.1 622.9) rotate(-45)">BMSC−3</text>
<line x1="275.9" y1="656.5" x2="275.9" y2="712.0" stroke="#333" stroke-width="1" shape-rendering="crispEdges"/>
<line x1="275.9" y1="712.0" x2="347.7" y2="712.0" stroke="#333" stroke-width="1" shape-rendering="crispEdges"/>
<line x1="273.4" y1="670.2" x2="275.9" y2="670.2" stroke="#333" stroke-width="0.9" shape-rendering="crispEdges"/>
<text stroke="#333" stroke-width="0.22" x="272.4" y="673.5" font-size="9.4" text-anchor="end" fill="#333" font-family="Liberation Sans">0.8</text>
<line x1="273.4" y1="686.9" x2="275.9" y2="686.9" stroke="#333" stroke-width="0.9" shape-rendering="crispEdges"/>
<text stroke="#333" stroke-width="0.22" x="272.4" y="690.2" font-size="9.4" text-anchor="end" fill="#333" font-family="Liberation Sans">0.4</text>
<line x1="273.4" y1="703.4" x2="275.9" y2="703.4" stroke="#333" stroke-width="0.9" shape-rendering="crispEdges"/>
<text stroke="#333" stroke-width="0.22" x="272.4" y="706.7" font-size="9.4" text-anchor="end" fill="#333" font-family="Liberation Sans">0.0</text>
<line x1="285.9" y1="712.0" x2="285.9" y2="714.5" stroke="#333" stroke-width="0.9" shape-rendering="crispEdges"/>
<text stroke="#333" stroke-width="0.22" x="0" y="0" font-size="10.2" text-anchor="end" fill="#333" transform="translate(292.5 720.0) rotate(-45)">BMSC−0</text>
<line x1="303.3" y1="712.0" x2="303.3" y2="714.5" stroke="#333" stroke-width="0.9" shape-rendering="crispEdges"/>
<text stroke="#333" stroke-width="0.22" x="0" y="0" font-size="10.2" text-anchor="end" fill="#333" transform="translate(309.9 720.0) rotate(-45)">BMSC−1</text>
<line x1="320.4" y1="712.0" x2="320.4" y2="714.5" stroke="#333" stroke-width="0.9" shape-rendering="crispEdges"/>
<text stroke="#333" stroke-width="0.22" x="0" y="0" font-size="10.2" text-anchor="end" fill="#333" transform="translate(327.0 720.0) rotate(-45)">BMSC−2</text>
<line x1="337.8" y1="712.0" x2="337.8" y2="714.5" stroke="#333" stroke-width="0.9" shape-rendering="crispEdges"/>
<text stroke="#333" stroke-width="0.22" x="0" y="0" font-size="10.2" text-anchor="end" fill="#333" transform="translate(344.4 720.0) rotate(-45)">BMSC−3</text>
<rect x="278.80" y="539.60" width="7.30" height="5.30" fill="#33648c" stroke="none" stroke-width="0"/>
<text stroke="#1a1a1a" stroke-width="0.22" x="289.0" y="545.6" font-size="10.3" text-anchor="start" fill="#1a1a1a" font-family="Liberation Sans">NBM</text>
<rect x="315.60" y="539.60" width="7.30" height="5.30" fill="#8c3428" stroke="none" stroke-width="0"/>
<text stroke="#1a1a1a" stroke-width="0.22" x="324.8" y="545.6" font-size="10.3" text-anchor="start" fill="#1a1a1a" font-family="Liberation Sans">LRMDS</text>
<text stroke="#1a1a1a" stroke-width="0.22" x="312.1" y="555.0" font-size="9.0" text-anchor="middle" fill="#1a1a1a" font-family="Liberation Sans">p=0.0036</text>
<text stroke="#1a1a1a" stroke-width="0.1" x="311.8" y="562.1" font-size="7.7" text-anchor="middle" fill="#1a1a1a" font-family="Liberation Sans">(BMSC2 vs others)</text>
<text stroke="#1a1a1a" stroke-width="0.22" x="312.1" y="654.0" font-size="9.0" text-anchor="middle" fill="#1a1a1a" font-family="Liberation Sans">p=0.0036</text>
<text stroke="#1a1a1a" stroke-width="0.1" x="311.8" y="661.4" font-size="7.7" text-anchor="middle" fill="#1a1a1a" font-family="Liberation Sans">(BMSC2 vs others)</text>
<text stroke="#1a1a1a" stroke-width="0.22" x="363.6" y="586.9" font-size="10.4" text-anchor="middle" fill="#1a1a1a" font-family="Liberation Sans" transform="rotate(90 363.6 586.9)">Inflammatory response</text>
<text stroke="#1a1a1a" stroke-width="0.22" x="363.6" y="683.2" font-size="10.0" text-anchor="middle" fill="#1a1a1a" font-family="Liberation Sans" transform="rotate(90 363.6 683.2)">TNFα signaling</text>
<text stroke="#1a1a1a" stroke-width="0.22" x="248.2" y="633.0" font-size="10.4" text-anchor="middle" fill="#1a1a1a" font-family="Liberation Sans" transform="rotate(-90 248.2 633.0)">Expression</text>
<text stroke="#1a1a1a" stroke-width="0.22" x="450.2" y="539.9" font-size="10.3" fill="#1a1a1a">CD45<tspan font-size="6.2" dy="-4">-</tspan><tspan dy="4">CD271</tspan><tspan font-size="6.2" dy="-4">+</tspan><tspan dy="4">cells</tspan></text>
<path d="M476.3 611.6h1.3M482.6 606.1h1.3M489.9 615.0h1.3M479.3 607.9h1.3M494.8 605.2h1.3M478.0 618.6h1.3M468.5 610.9h1.3M497.1 600.6h1.3M476.6 610.1h1.3M479.9 614.2h1.3M471.2 612.8h1.3M483.7 610.1h1.3M471.6 613.6h1.3M487.1 611.7h1.3M483.5 608.9h1.3M479.7 600.7h1.3M488.7 615.3h1.3M478.8 611.5h1.3M481.2 614.2h1.3M489.6 618.0h1.3M488.2 609.1h1.3M491.0 615.9h1.3M487.9 613.5h1.3M477.8 616.1h1.3M490.4 601.3h1.3M493.3 612.8h1.3M474.5 614.9h1.3M493.1 590.0h1.3M492.2 610.1h1.3M489.4 610.7h1.3M492.6 587.8h1.3M479.9 616.5h1.3M481.1 614.5h1.3M468.5 613.5h1.3M488.2 596.5h1.3M490.2 595.3h1.3M473.9 611.5h1.3M479.6 616.7h1.3M487.7 602.3h1.3M489.7 593.4h1.3M491.5 591.6h1.3M491.3 608.6h1.3" stroke="#e3262d" stroke-width="1.3" fill="none"/>
<path d="M485.5 610.7h1.3M500.9 617.0h1.3M482.2 614.1h1.3M472.7 608.7h1.3M481.5 613.7h1.3M473.8 610.5h1.3M500.0 609.0h1.3M494.5 608.9h1.3M481.3 610.1h1.3M487.7 613.4h1.3M503.8 612.2h1.3M472.9 614.5h1.3M490.5 616.0h1.3M491.9 614.1h1.3M502.2 615.1h1.3M489.0 601.8h1.3M493.3 609.4h1.3M478.9 610.9h1.3M480.9 604.7h1.3M499.5 615.5h1.3M489.1 612.2h1.3M485.0 605.9h1.3M495.0 606.1h1.3M488.6 612.7h1.3M486.5 614.8h1.3M494.6 601.1h1.3M471.4 619.1h1.3M481.9 607.0h1.3M494.8 612.4h1.3M501.2 597.6h1.3M506.1 610.0h1.3M498.6 600.7h1.3M488.9 610.7h1.3M483.0 616.7h1.3M491.3 616.9h1.3M484.8 608.1h1.3M491.4 612.4h1.3M496.7 590.6h1.3M505.3 609.0h1.3M492.8 610.5h1.3M484.9 614.5h1.3M497.0 592.9h1.3M503.9 605.8h1.3M483.8 610.3h1.3M483.9 613.5h1.3M484.0 608.0h1.3M497.4 589.2h1.3M479.0 610.8h1.3M503.7 611.1h1.3M491.3 604.1h1.3M489.0 617.3h1.3M501.5 615.3h1.3M482.7 607.2h1.3M474.3 616.7h1.3M490.5 608.6h1.3M485.1 601.0h1.3M486.8 603.8h1.3M481.7 609.1h1.3M489.1 615.1h1.3M504.8 609.1h1.3M491.0 603.3h1.3M486.8 609.8h1.3M477.1 613.1h1.3M497.0 606.6h1.3M474.0 609.0h1.3" stroke="#2eaadc" stroke-width="1.3" fill="none"/>
<path d="M481.5 612.5h1.3M490.5 609.6h1.3M480.3 609.6h1.3M475.1 616.1h1.3M490.2 598.5h1.3M488.9 606.4h1.3M478.1 610.7h1.3M478.6 616.4h1.3M486.3 605.6h1.3M492.7 599.4h1.3M484.9 616.7h1.3M492.9 614.0h1.3M491.2 604.8h1.3M492.0 594.9h1.3M485.4 610.2h1.3M477.2 606.6h1.3M475.0 612.1h1.3M492.4 618.7h1.3M493.1 612.1h1.3M487.1 617.8h1.3M479.5 608.8h1.3M483.3 603.6h1.3M481.0 605.3h1.3M476.2 606.9h1.3M476.0 609.3h1.3M481.8 611.3h1.3M483.0 602.2h1.3M489.0 599.4h1.3M482.3 610.6h1.3M478.7 611.3h1.3M495.0 610.2h1.3M471.3 612.5h1.3M493.9 599.8h1.3M475.5 614.2h1.3M497.7 607.5h1.3M488.5 604.4h1.3M479.6 611.9h1.3M495.2 606.4h1.3M483.9 606.2h1.3M488.0 611.5h1.3M482.0 614.5h1.3M478.4 612.3h1.3M494.0 609.6h1.3" stroke="#e3262d" stroke-width="1.3" fill="none"/>
<rect x="458.4" y="555.1" width="72.1" height="71.2" fill="none" stroke="#111" stroke-width="1"/>
<line x1="456.4" y1="558.9" x2="458.4" y2="558.9" stroke="#111" stroke-width="0.8" shape-rendering="crispEdges"/>
<text stroke="#222" stroke-width="0.1" x="456.1" y="561.2" font-size="6.4" text-anchor="end" fill="#222" font-family="Liberation Sans">250K</text>
<line x1="456.4" y1="572.2" x2="458.4" y2="572.2" stroke="#111" stroke-width="0.8" shape-rendering="crispEdges"/>
<text stroke="#222" stroke-width="0.1" x="456.1" y="574.5" font-size="6.4" text-anchor="end" fill="#222" font-family="Liberation Sans">200K</text>
<line x1="456.4" y1="585.9" x2="458.4" y2="585.9" stroke="#111" stroke-width="0.8" shape-rendering="crispEdges"/>
<text stroke="#222" stroke-width="0.1" x="456.1" y="588.2" font-size="6.4" text-anchor="end" fill="#222" font-family="Liberation Sans">150K</text>
<line x1="456.4" y1="599.3" x2="458.4" y2="599.3" stroke="#111" stroke-width="0.8" shape-rendering="crispEdges"/>
<text stroke="#222" stroke-width="0.1" x="456.1" y="601.6" font-size="6.4" text-anchor="end" fill="#222" font-family="Liberation Sans">100K</text>
<line x1="456.4" y1="613.0" x2="458.4" y2="613.0" stroke="#111" stroke-width="0.8" shape-rendering="crispEdges"/>
<text stroke="#222" stroke-width="0.1" x="456.1" y="615.3" font-size="6.4" text-anchor="end" fill="#222" font-family="Liberation Sans">50K</text>
<line x1="456.4" y1="624.4" x2="458.4" y2="624.4" stroke="#111" stroke-width="0.8" shape-rendering="crispEdges"/>
<text stroke="#222" stroke-width="0.1" x="456.1" y="626.7" font-size="6.4" text-anchor="end" fill="#222" font-family="Liberation Sans">0</text>
<text stroke="#222" stroke-width="0.1" x="470.7" y="634.6" font-size="6.5" text-anchor="middle" fill="#222" font-family="Liberation Sans">-10³ 0</text>
<text stroke="#222" stroke-width="0.1" x="491.6" y="634.6" font-size="6.5" text-anchor="middle" fill="#222" font-family="Liberation Sans">10³</text>
<text stroke="#222" stroke-width="0.1" x="510.6" y="634.6" font-size="6.5" text-anchor="middle" fill="#222" font-family="Liberation Sans">10⁴</text>
<text stroke="#222" stroke-width="0.1" x="527.7" y="634.6" font-size="6.5" text-anchor="middle" fill="#222" font-family="Liberation Sans">10⁵</text>
<line x1="462.0" y1="626.3" x2="462.0" y2="627.8" stroke="#111" stroke-width="0.5" shape-rendering="crispEdges"/>
<line x1="465.0" y1="626.3" x2="465.0" y2="627.8" stroke="#111" stroke-width="0.5" shape-rendering="crispEdges"/>
<line x1="468.0" y1="626.3" x2="468.0" y2="627.8" stroke="#111" stroke-width="0.5" shape-rendering="crispEdges"/>
<line x1="471.0" y1="626.3" x2="471.0" y2="627.8" stroke="#111" stroke-width="0.5" shape-rendering="crispEdges"/>
<line x1="474.0" y1="626.3" x2="474.0" y2="627.8" stroke="#111" stroke-width="0.5" shape-rendering="crispEdges"/>
<line x1="478.0" y1="626.3" x2="478.0" y2="627.8" stroke="#111" stroke-width="0.5" shape-rendering="crispEdges"/>
<line x1="482.0" y1="626.3" x2="482.0" y2="627.8" stroke="#111" stroke-width="0.5" shape-rendering="crispEdges"/>
<line x1="486.0" y1="626.3" x2="486.0" y2="627.8" stroke="#111" stroke-width="0.5" shape-rendering="crispEdges"/>
<line x1="490.0" y1="626.3" x2="490.0" y2="627.8" stroke="#111" stroke-width="0.5" shape-rendering="crispEdges"/>
<line x1="494.0" y1="626.3" x2="494.0" y2="627.8" stroke="#111" stroke-width="0.5" shape-rendering="crispEdges"/>
<line x1="497.0" y1="626.3" x2="497.0" y2="627.8" stroke="#111" stroke-width="0.5" shape-rendering="crispEdges"/>
<line x1="500.0" y1="626.3" x2="500.0" y2="627.8" stroke="#111" stroke-width="0.5" shape-rendering="crispEdges"/>
<line x1="503.0" y1="626.3" x2="503.0" y2="627.8" stroke="#111" stroke-width="0.5" shape-rendering="crispEdges"/>
<line x1="506.0" y1="626.3" x2="506.0" y2="627.8" stroke="#111" stroke-width="0.5" shape-rendering="crispEdges"/>
<line x1="509.0" y1="626.3" x2="509.0" y2="627.8" stroke="#111" stroke-width="0.5" shape-rendering="crispEdges"/>
<line x1="513.0" y1="626.3" x2="513.0" y2="627.8" stroke="#111" stroke-width="0.5" shape-rendering="crispEdges"/>
<line x1="516.0" y1="626.3" x2="516.0" y2="627.8" stroke="#111" stroke-width="0.5" shape-rendering="crispEdges"/>
<line x1="519.0" y1="626.3" x2="519.0" y2="627.8" stroke="#111" stroke-width="0.5" shape-rendering="crispEdges"/>
<line x1="522.0" y1="626.3" x2="522.0" y2="627.8" stroke="#111" stroke-width="0.5" shape-rendering="crispEdges"/>
<line x1="525.0" y1="626.3" x2="525.0" y2="627.8" stroke="#111" stroke-width="0.5" shape-rendering="crispEdges"/>
<line x1="528.0" y1="626.3" x2="528.0" y2="627.8" stroke="#111" stroke-width="0.5" shape-rendering="crispEdges"/>
<text stroke="#1a1a1a" stroke-width="0.22" x="440.4" y="590.6" font-size="11" text-anchor="middle" fill="#1a1a1a" font-family="Liberation Sans" transform="rotate(-90 440.4 590.6)">NBM</text>
<path d="M471.2 700.7h1.3M474.4 699.4h1.3M468.8 694.6h1.3M486.3 697.8h1.3M467.9 701.0h1.3M484.0 693.8h1.3M484.4 703.4h1.3M483.5 701.1h1.3M475.3 701.3h1.3M472.7 700.6h1.3M468.7 699.3h1.3M470.6 703.4h1.3M488.0 697.6h1.3M466.2 700.3h1.3M489.3 700.7h1.3M482.6 698.1h1.3M484.9 701.9h1.3M471.4 697.8h1.3M470.0 697.2h1.3M481.2 701.3h1.3M477.6 702.7h1.3M483.5 693.5h1.3M489.0 701.6h1.3M468.9 697.3h1.3M480.1 703.4h1.3M488.1 696.3h1.3M476.9 702.7h1.3M489.4 703.8h1.3M477.7 700.5h1.3M467.3 703.5h1.3M485.5 703.1h1.3M483.5 696.2h1.3M487.0 698.9h1.3M471.8 702.1h1.3M489.0 694.6h1.3M487.1 697.0h1.3M480.2 701.7h1.3M469.9 702.6h1.3M485.7 698.2h1.3M485.5 701.9h1.3M470.9 703.4h1.3M471.0 696.7h1.3M471.6 696.4h1.3M482.2 699.3h1.3M469.4 700.0h1.3M482.1 696.0h1.3M489.7 696.4h1.3M477.8 698.6h1.3M483.3 698.7h1.3M483.9 699.9h1.3M483.1 703.8h1.3M488.3 699.6h1.3M474.8 696.9h1.3M483.0 692.9h1.3M472.0 699.1h1.3M485.1 699.6h1.3M474.4 700.4h1.3M487.4 698.5h1.3M467.4 695.3h1.3M467.8 694.1h1.3M489.8 700.1h1.3M473.6 701.2h1.3M489.3 698.5h1.3M476.9 692.9h1.3M470.0 696.5h1.3M474.0 696.4h1.3M483.4 703.8h1.3M477.8 704.0h1.3M473.3 702.1h1.3M471.2 695.5h1.3M476.2 696.8h1.3M476.0 699.4h1.3M478.5 696.6h1.3M467.8 697.1h1.3M467.0 696.9h1.3M468.8 694.9h1.3M489.8 700.5h1.3M488.7 697.9h1.3M471.7 698.6h1.3M482.0 695.4h1.3M482.6 703.0h1.3M467.5 697.1h1.3M486.9 701.2h1.3M478.2 700.3h1.3M486.6 697.0h1.3M479.0 700.8h1.3M469.3 698.8h1.3M484.5 694.3h1.3M483.2 697.4h1.3M487.9 696.1h1.3M476.9 703.6h1.3M467.4 703.8h1.3M473.5 694.1h1.3M484.0 696.3h1.3M491.0 702.9h1.3M487.0 701.4h1.3M467.4 695.4h1.3M474.9 699.8h1.3M477.9 700.7h1.3M472.9 695.5h1.3M481.2 703.6h1.3M480.4 702.6h1.3M472.1 693.6h1.3M483.7 696.0h1.3M472.9 693.5h1.3M477.5 697.0h1.3M481.6 697.8h1.3M483.1 695.4h1.3M487.5 695.1h1.3M487.4 697.7h1.3M497.5 693.2h1.3M510.4 685.8h1.3M506.6 689.9h1.3M490.8 689.0h1.3" stroke="#e3262d" stroke-width="1.3" fill="none"/>
<path d="M485.9 698.8h1.3M481.7 699.3h1.3M484.9 695.8h1.3M476.7 701.7h1.3M478.3 699.3h1.3M480.3 696.8h1.3M480.4 682.2h1.3M486.6 698.3h1.3M473.3 701.9h1.3M483.4 699.1h1.3M484.6 693.1h1.3M477.5 699.4h1.3M473.1 697.3h1.3M484.9 684.1h1.3M478.6 696.0h1.3M483.7 699.3h1.3M484.3 693.8h1.3M482.7 692.6h1.3M474.0 694.2h1.3M478.1 686.3h1.3M478.4 699.7h1.3M476.0 694.9h1.3M485.1 698.9h1.3M478.5 698.3h1.3M483.3 688.6h1.3M471.6 699.4h1.3M487.6 701.3h1.3M473.8 697.6h1.3M479.7 696.1h1.3M478.1 690.9h1.3M480.6 699.5h1.3M487.8 687.9h1.3M480.7 701.4h1.3M476.9 693.6h1.3M485.8 699.9h1.3M477.1 692.0h1.3M477.6 697.1h1.3M484.4 694.0h1.3M490.2 699.0h1.3M471.0 698.6h1.3M485.3 697.9h1.3M480.8 701.2h1.3M477.9 688.6h1.3M471.2 697.4h1.3M474.7 696.6h1.3M480.9 694.8h1.3M488.1 700.2h1.3M474.4 696.9h1.3M476.0 698.4h1.3M486.6 696.9h1.3M484.8 693.2h1.3M479.1 696.8h1.3M479.3 702.6h1.3M479.1 702.3h1.3M480.8 695.1h1.3M485.2 692.2h1.3M490.3 695.3h1.3M477.1 696.5h1.3M480.4 697.3h1.3M483.0 702.7h1.3M485.8 684.2h1.3M482.2 697.5h1.3M489.7 698.4h1.3M475.9 698.7h1.3M474.2 692.0h1.3M475.1 691.4h1.3M475.0 696.6h1.3M474.5 690.4h1.3M478.7 690.3h1.3M482.0 694.4h1.3M483.4 702.4h1.3M487.8 684.2h1.3M478.3 691.7h1.3M482.1 699.8h1.3M477.9 697.3h1.3M482.8 693.7h1.3M477.1 693.2h1.3M482.4 695.2h1.3M478.3 698.8h1.3M479.6 701.3h1.3M487.6 684.1h1.3M489.6 703.8h1.3M485.9 699.8h1.3M487.2 683.5h1.3M477.9 699.7h1.3M476.9 701.0h1.3M480.7 697.7h1.3M480.4 694.6h1.3M478.4 698.6h1.3M487.5 688.0h1.3M490.2 700.9h1.3M478.9 680.8h1.3M479.6 695.3h1.3M484.8 694.5h1.3M481.7 688.0h1.3M476.0 699.2h1.3M477.8 692.1h1.3M483.2 699.3h1.3M476.8 692.9h1.3M478.1 696.6h1.3M485.9 693.6h1.3M476.9 690.3h1.3M481.7 702.3h1.3M488.4 696.2h1.3M483.4 697.5h1.3M476.6 703.9h1.3M474.8 701.5h1.3M479.0 697.7h1.3M482.9 685.8h1.3M484.1 697.4h1.3M476.2 700.3h1.3M479.0 691.8h1.3M474.2 696.8h1.3M490.3 695.7h1.3M481.9 692.4h1.3M488.5 699.1h1.3M479.6 687.5h1.3M483.0 695.0h1.3M487.2 682.5h1.3M491.3 693.7h1.3M481.5 696.3h1.3M477.0 689.7h1.3M480.6 688.8h1.3M478.3 693.5h1.3M488.4 697.2h1.3M483.5 702.5h1.3M476.8 690.9h1.3M471.8 694.0h1.3M485.9 689.1h1.3M487.1 697.1h1.3M489.5 697.5h1.3M481.7 697.2h1.3M478.8 694.7h1.3M476.4 695.0h1.3M477.7 693.4h1.3M480.9 688.9h1.3M481.4 695.3h1.3M483.9 699.6h1.3M484.1 700.9h1.3M486.4 694.5h1.3M471.7 700.7h1.3M488.7 687.0h1.3M483.7 690.0h1.3M478.7 697.2h1.3M485.3 687.0h1.3M481.7 684.8h1.3M473.4 694.1h1.3M486.1 702.5h1.3M484.4 701.9h1.3M488.5 690.6h1.3M488.9 671.3h1.3M492.9 671.0h1.3M474.2 675.1h1.3M470.8 680.1h1.3M478.4 679.2h1.3M480.7 679.8h1.3M488.9 679.8h1.3" stroke="#2eaadc" stroke-width="1.3" fill="none"/>
<path d="M500.3 689.1h1.3M498.3 685.8h1.3M501.2 693.7h1.3M501.4 693.9h1.3M496.9 684.2h1.3M493.6 690.0h1.3M512.3 690.3h1.3M496.0 699.8h1.3M519.3 695.6h1.3M495.5 689.5h1.3M502.9 699.9h1.3M512.9 689.9h1.3M518.0 694.1h1.3M491.1 699.8h1.3M509.3 695.9h1.3M513.4 698.8h1.3M508.7 695.0h1.3M495.2 691.0h1.3M501.3 693.2h1.3M512.7 691.4h1.3M498.4 688.4h1.3M497.5 695.4h1.3M506.3 681.3h1.3M498.4 692.3h1.3M491.4 690.2h1.3M520.0 692.3h1.3M504.0 699.5h1.3M491.7 691.6h1.3M516.9 693.5h1.3M491.1 698.8h1.3M497.4 692.4h1.3M495.7 693.2h1.3M493.8 696.5h1.3M502.1 693.0h1.3M494.5 701.0h1.3M516.0 695.8h1.3M495.3 687.1h1.3M512.4 687.0h1.3M515.3 694.5h1.3M492.0 692.1h1.3M501.8 694.7h1.3M497.9 692.1h1.3M495.2 687.2h1.3M496.2 688.5h1.3M512.0 690.4h1.3M501.6 697.1h1.3M494.6 693.6h1.3M505.0 700.2h1.3M497.8 701.2h1.3M503.6 682.6h1.3M513.6 695.5h1.3M498.2 693.2h1.3M503.1 692.6h1.3M505.1 696.2h1.3M505.0 690.5h1.3M509.7 695.9h1.3M503.2 682.0h1.3M499.5 700.1h1.3M511.4 687.6h1.3M490.0 692.2h1.3M489.4 690.4h1.3M488.6 699.3h1.3M502.7 695.0h1.3M496.3 686.4h1.3M487.6 690.7h1.3M512.3 686.1h1.3M491.0 691.3h1.3M487.6 699.3h1.3M500.6 692.9h1.3M504.4 687.6h1.3M497.0 699.8h1.3M492.9 695.2h1.3M490.8 690.2h1.3M499.3 697.6h1.3M512.8 685.5h1.3M489.5 698.0h1.3M488.5 692.3h1.3M510.3 687.8h1.3M512.6 693.6h1.3M491.6 687.4h1.3M496.7 696.2h1.3M508.8 692.0h1.3M509.0 697.2h1.3M495.7 697.8h1.3M500.9 681.9h1.3M495.8 691.3h1.3M503.6 692.0h1.3M493.4 687.7h1.3M491.0 696.1h1.3M507.3 692.1h1.3M501.5 683.5h1.3M501.7 684.5h1.3M501.8 697.3h1.3M492.1 702.0h1.3M491.9 699.5h1.3M506.0 700.4h1.3M500.6 682.1h1.3M520.0 695.7h1.3M493.4 688.3h1.3M498.4 700.2h1.3M504.3 691.2h1.3M513.9 692.3h1.3M495.5 700.2h1.3M496.0 700.5h1.3M495.3 687.0h1.3M499.3 701.1h1.3M492.9 675.0h1.3M501.1 675.7h1.3M496.4 677.4h1.3M513.9 684.0h1.3M519.8 683.9h1.3M514.4 687.0h1.3M466.4 698.0h1.3M465.4 701.0h1.3" stroke="#e3262d" stroke-width="1.3" fill="none"/>
<rect x="459" y="638.5" width="71.5" height="71.2" fill="none" stroke="#111" stroke-width="1"/>
<line x1="457.0" y1="642.9" x2="459.0" y2="642.9" stroke="#111" stroke-width="0.8" shape-rendering="crispEdges"/>
<text stroke="#222" stroke-width="0.1" x="456.7" y="645.2" font-size="6.4" text-anchor="end" fill="#222" font-family="Liberation Sans">250K</text>
<line x1="457.0" y1="655.6" x2="459.0" y2="655.6" stroke="#111" stroke-width="0.8" shape-rendering="crispEdges"/>
<text stroke="#222" stroke-width="0.1" x="456.7" y="657.9" font-size="6.4" text-anchor="end" fill="#222" font-family="Liberation Sans">200K</text>
<line x1="457.0" y1="669.9" x2="459.0" y2="669.9" stroke="#111" stroke-width="0.8" shape-rendering="crispEdges"/>
<text stroke="#222" stroke-width="0.1" x="456.7" y="672.2" font-size="6.4" text-anchor="end" fill="#222" font-family="Liberation Sans">150K</text>
<line x1="457.0" y1="683.1" x2="459.0" y2="683.1" stroke="#111" stroke-width="0.8" shape-rendering="crispEdges"/>
<text stroke="#222" stroke-width="0.1" x="456.7" y="685.4" font-size="6.4" text-anchor="end" fill="#222" font-family="Liberation Sans">100K</text>
<line x1="457.0" y1="697.4" x2="459.0" y2="697.4" stroke="#111" stroke-width="0.8" shape-rendering="crispEdges"/>
<text stroke="#222" stroke-width="0.1" x="456.7" y="699.7" font-size="6.4" text-anchor="end" fill="#222" font-family="Liberation Sans">50K</text>
<line x1="457.0" y1="708.2" x2="459.0" y2="708.2" stroke="#111" stroke-width="0.8" shape-rendering="crispEdges"/>
<text stroke="#222" stroke-width="0.1" x="456.7" y="710.5" font-size="6.4" text-anchor="end" fill="#222" font-family="Liberation Sans">0</text>
<text stroke="#222" stroke-width="0.1" x="470.7" y="718.2" font-size="6.5" text-anchor="middle" fill="#222" font-family="Liberation Sans">-10³ 0</text>
<text stroke="#222" stroke-width="0.1" x="491.6" y="718.2" font-size="6.5" text-anchor="middle" fill="#222" font-family="Liberation Sans">10³</text>
<text stroke="#222" stroke-width="0.1" x="510.6" y="718.2" font-size="6.5" text-anchor="middle" fill="#222" font-family="Liberation Sans">10⁴</text>
<text stroke="#222" stroke-width="0.1" x="527.7" y="718.2" font-size="6.5" text-anchor="middle" fill="#222" font-family="Liberation Sans">10⁵</text>
<line x1="462.0" y1="709.7" x2="462.0" y2="711.2" stroke="#111" stroke-width="0.5" shape-rendering="crispEdges"/>
<line x1="465.0" y1="709.7" x2="465.0" y2="711.2" stroke="#111" stroke-width="0.5" shape-rendering="crispEdges"/>
<line x1="468.0" y1="709.7" x2="468.0" y2="711.2" stroke="#111" stroke-width="0.5" shape-rendering="crispEdges"/>
<line x1="471.0" y1="709.7" x2="471.0" y2="711.2" stroke="#111" stroke-width="0.5" shape-rendering="crispEdges"/>
<line x1="474.0" y1="709.7" x2="474.0" y2="711.2" stroke="#111" stroke-width="0.5" shape-rendering="crispEdges"/>
<line x1="478.0" y1="709.7" x2="478.0" y2="711.2" stroke="#111" stroke-width="0.5" shape-rendering="crispEdges"/>
<line x1="482.0" y1="709.7" x2="482.0" y2="711.2" stroke="#111" stroke-width="0.5" shape-rendering="crispEdges"/>
<line x1="486.0" y1="709.7" x2="486.0" y2="711.2" stroke="#111" stroke-width="0.5" shape-rendering="crispEdges"/>
<line x1="490.0" y1="709.7" x2="490.0" y2="711.2" stroke="#111" stroke-width="0.5" shape-rendering="crispEdges"/>
<line x1="494.0" y1="709.7" x2="494.0" y2="711.2" stroke="#111" stroke-width="0.5" shape-rendering="crispEdges"/>
<line x1="497.0" y1="709.7" x2="497.0" y2="711.2" stroke="#111" stroke-width="0.5" shape-rendering="crispEdges"/>
<line x1="500.0" y1="709.7" x2="500.0" y2="711.2" stroke="#111" stroke-width="0.5" shape-rendering="crispEdges"/>
<line x1="503.0" y1="709.7" x2="503.0" y2="711.2" stroke="#111" stroke-width="0.5" shape-rendering="crispEdges"/>
<line x1="506.0" y1="709.7" x2="506.0" y2="711.2" stroke="#111" stroke-width="0.5" shape-rendering="crispEdges"/>
<line x1="509.0" y1="709.7" x2="509.0" y2="711.2" stroke="#111" stroke-width="0.5" shape-rendering="crispEdges"/>
<line x1="513.0" y1="709.7" x2="513.0" y2="711.2" stroke="#111" stroke-width="0.5" shape-rendering="crispEdges"/>
<line x1="516.0" y1="709.7" x2="516.0" y2="711.2" stroke="#111" stroke-width="0.5" shape-rendering="crispEdges"/>
<line x1="519.0" y1="709.7" x2="519.0" y2="711.2" stroke="#111" stroke-width="0.5" shape-rendering="crispEdges"/>
<line x1="522.0" y1="709.7" x2="522.0" y2="711.2" stroke="#111" stroke-width="0.5" shape-rendering="crispEdges"/>
<line x1="525.0" y1="709.7" x2="525.0" y2="711.2" stroke="#111" stroke-width="0.5" shape-rendering="crispEdges"/>
<line x1="528.0" y1="709.7" x2="528.0" y2="711.2" stroke="#111" stroke-width="0.5" shape-rendering="crispEdges"/>
<text stroke="#1a1a1a" stroke-width="0.22" x="440.4" y="674.6" font-size="11" text-anchor="middle" fill="#1a1a1a" font-family="Liberation Sans" transform="rotate(-90 440.4 674.6)">LRMDS</text>
<line x1="428.6" y1="689.0" x2="428.6" y2="724.9" stroke="#111" stroke-width="1" shape-rendering="crispEdges"/>
<line x1="428.6" y1="724.9" x2="460.5" y2="724.9" stroke="#111" stroke-width="1" shape-rendering="crispEdges"/>
<path d="M428.6 686.5 L426.6 690.8 L430.6 690.8Z" fill="#111"/>
<path d="M463.2 724.9 L458.9 722.9 L458.9 726.9Z" fill="#111"/>
<text stroke="#1a1a1a" stroke-width="0.22" x="425.2" y="716.3" font-size="10.4" text-anchor="middle" fill="#1a1a1a" font-family="Liberation Sans" transform="rotate(-90 425.2 716.3)">FSC-A</text>
<text stroke="#1a1a1a" stroke-width="0.22" x="432.4" y="738.2" font-size="10.4" text-anchor="start" fill="#1a1a1a" font-family="Liberation Sans">ANXA1</text>
<rect x="478.80" y="726.40" width="8.80" height="5.50" fill="#2eaadc" stroke="none" stroke-width="0"/>
<text stroke="#1a1a1a" stroke-width="0.22" x="491.0" y="731.9" font-size="10.2" text-anchor="start" fill="#1a1a1a" font-family="Liberation Sans">Isotype</text>
<rect x="478.80" y="739.60" width="8.80" height="5.60" fill="#e3262d" stroke="none" stroke-width="0"/>
<text stroke="#1a1a1a" stroke-width="0.22" x="491.0" y="745.2" font-size="10.2" text-anchor="start" fill="#1a1a1a" font-family="Liberation Sans">Anti-ANXA1</text>
<line x1="576.3" y1="546.7" x2="576.3" y2="714.8" stroke="#444" stroke-width="1" shape-rendering="crispEdges"/>
<line x1="576.3" y1="714.8" x2="651.9" y2="714.8" stroke="#444" stroke-width="1" shape-rendering="crispEdges"/>
<line x1="573.0" y1="714.8" x2="576.3" y2="714.8" stroke="#111" stroke-width="0.9" shape-rendering="crispEdges"/>
<text stroke="#333" stroke-width="0.22" x="572.3" y="717.8" font-size="8.8" text-anchor="end" fill="#333" font-family="Liberation Sans">0</text>
<line x1="573.0" y1="681.2" x2="576.3" y2="681.2" stroke="#111" stroke-width="0.9" shape-rendering="crispEdges"/>
<text stroke="#333" stroke-width="0.22" x="572.3" y="684.2" font-size="8.8" text-anchor="end" fill="#333" font-family="Liberation Sans">2</text>
<line x1="573.0" y1="647.6" x2="576.3" y2="647.6" stroke="#111" stroke-width="0.9" shape-rendering="crispEdges"/>
<text stroke="#333" stroke-width="0.22" x="572.3" y="650.6" font-size="8.8" text-anchor="end" fill="#333" font-family="Liberation Sans">4</text>
<line x1="573.0" y1="613.9" x2="576.3" y2="613.9" stroke="#111" stroke-width="0.9" shape-rendering="crispEdges"/>
<text stroke="#333" stroke-width="0.22" x="572.3" y="616.9" font-size="8.8" text-anchor="end" fill="#333" font-family="Liberation Sans">6</text>
<line x1="573.0" y1="580.3" x2="576.3" y2="580.3" stroke="#111" stroke-width="0.9" shape-rendering="crispEdges"/>
<text stroke="#333" stroke-width="0.22" x="572.3" y="583.3" font-size="8.8" text-anchor="end" fill="#333" font-family="Liberation Sans">8</text>
<line x1="573.0" y1="546.7" x2="576.3" y2="546.7" stroke="#111" stroke-width="0.9" shape-rendering="crispEdges"/>
<text stroke="#333" stroke-width="0.22" x="572.3" y="549.7" font-size="8.8" text-anchor="end" fill="#333" font-family="Liberation Sans">10</text>
<rect x="582.5" y="702.0" width="27.5" height="12.8" fill="#fff" stroke="#111" stroke-width="0.9"/>
<rect x="617" y="630.4" width="28.6" height="84.4" fill="#fff" stroke="#111" stroke-width="0.9"/>
<line x1="596.6" y1="690.1" x2="596.6" y2="709.7" stroke="#111" stroke-width="0.9" shape-rendering="crispEdges"/>
<line x1="589.0" y1="690.1" x2="604.0" y2="690.1" stroke="#111" stroke-width="0.9" shape-rendering="crispEdges"/>
<line x1="589.0" y1="709.7" x2="604.0" y2="709.7" stroke="#111" stroke-width="0.9" shape-rendering="crispEdges"/>
<line x1="631.5" y1="583.8" x2="631.5" y2="674.6" stroke="#111" stroke-width="0.9" shape-rendering="crispEdges"/>
<line x1="623.7" y1="583.8" x2="639.2" y2="583.8" stroke="#111" stroke-width="0.9" shape-rendering="crispEdges"/>
<line x1="623.7" y1="674.6" x2="639.2" y2="674.6" stroke="#111" stroke-width="0.9" shape-rendering="crispEdges"/>
<circle cx="596.4" cy="688.2" r="2.4" fill="#111"/>
<circle cx="596.2" cy="694.4" r="2.4" fill="#111"/>
<circle cx="591.1" cy="699.7" r="2.4" fill="#111"/>
<circle cx="601.2" cy="704.7" r="2.4" fill="#111"/>
<circle cx="596.2" cy="714.8" r="2.4" fill="#111"/>
<rect x="629.10" y="564.60" width="4.80" height="4.80" fill="#111" stroke="none" stroke-width="0"/>
<rect x="629.10" y="620.80" width="4.80" height="4.80" fill="#111" stroke="none" stroke-width="0"/>
<rect x="624.40" y="663.40" width="4.80" height="4.80" fill="#111" stroke="none" stroke-width="0"/>
<rect x="633.90" y="658.60" width="4.80" height="4.80" fill="#111" stroke="none" stroke-width="0"/>
<line x1="596.6" y1="714.8" x2="596.6" y2="718.0" stroke="#111" stroke-width="0.9" shape-rendering="crispEdges"/>
<line x1="631.5" y1="714.8" x2="631.5" y2="718.0" stroke="#111" stroke-width="0.9" shape-rendering="crispEdges"/>
<text stroke="#1a1a1a" stroke-width="0.22" x="596.6" y="731.2" font-size="10.3" text-anchor="middle" fill="#1a1a1a" font-family="Liberation Sans">NBM</text>
<text stroke="#1a1a1a" stroke-width="0.22" x="631.5" y="731.2" font-size="10.3" text-anchor="middle" fill="#1a1a1a" font-family="Liberation Sans">LRMDS</text>
<text stroke="#111" stroke-width="0.22" x="613.6" y="544.6" font-size="8.6" text-anchor="middle" fill="#111" font-family="Liberation Sans">p=0.0107</text>
<line x1="590.7" y1="547.2" x2="636.8" y2="547.2" stroke="#111" stroke-width="0.9" shape-rendering="crispEdges"/>
<text stroke="#1a1a1a" stroke-width="0.22" x="549.4" y="627.2" font-size="10.5" text-anchor="middle" fill="#1a1a1a" font-family="Liberation Sans" transform="rotate(-90 549.4 627.2)">MFIANXA1/Isotype</text>
<path d="M48.40 801.00 L48.31 801.50 L48.08 802.00 L47.73 802.50 L47.35 803.00 L47.00 803.50 L46.76 804.00 L46.68 804.50 L46.29 805.00 L45.23 805.50 L43.79 806.00 L42.34 806.50 L41.29 807.00 L40.90 807.50 L41.12 808.00 L41.75 808.50 L42.68 809.00 L43.79 809.50 L44.89 810.00 L45.83 810.50 L46.46 811.00 L46.68 811.50 L46.88 812.00 L47.39 812.50 L47.89 813.00 L48.10 813.50 L48.11 814.00 L48.14 814.50 L48.18 815.00 L48.22 815.50 L48.26 816.00 L48.29 816.50 L48.30 817.00 L48.35 817.25 L48.40 817.50 L48.80 817.50 L48.85 817.25 L48.90 817.00 L48.91 816.50 L48.94 816.00 L48.98 815.50 L49.02 815.00 L49.06 814.50 L49.09 814.00 L49.10 813.50 L49.31 813.00 L49.81 812.50 L50.32 812.00 L50.52 811.50 L50.74 811.00 L51.37 810.50 L52.31 810.00 L53.41 809.50 L54.52 809.00 L55.45 808.50 L56.08 808.00 L56.30 807.50 L55.91 807.00 L54.86 806.50 L53.41 806.00 L51.97 805.50 L50.91 805.00 L50.52 804.50 L50.44 804.00 L50.20 803.50 L49.85 803.00 L49.47 802.50 L49.12 802.00 L48.89 801.50 L48.80 801.00Z" fill="#33648c" stroke="#2a2a2a" stroke-width="0.55" stroke-linejoin="round"/>
<path d="M64.20 800.00 L64.17 800.50 L64.09 801.00 L63.95 801.50 L63.78 802.00 L63.57 802.50 L63.35 803.00 L63.13 803.50 L62.93 804.00 L62.75 804.50 L62.61 805.00 L62.53 805.50 L62.50 806.00 L62.38 806.50 L62.05 807.00 L61.52 807.50 L60.83 808.00 L60.06 808.50 L59.24 809.00 L58.47 809.50 L57.78 810.00 L57.25 810.50 L56.92 811.00 L56.80 811.50 L56.92 812.00 L57.25 812.50 L57.78 813.00 L58.47 813.50 L59.24 814.00 L60.06 814.50 L60.83 815.00 L61.52 815.50 L62.05 816.00 L62.38 816.50 L62.50 817.00 L62.71 817.50 L63.20 818.00 L63.69 818.50 L63.90 819.00 L63.90 819.50 L63.90 820.00 L63.90 820.50 L63.91 821.00 L63.91 821.50 L63.91 822.00 L63.92 822.50 L63.92 823.00 L63.93 823.50 L63.94 824.00 L63.94 824.50 L63.95 825.00 L63.96 825.50 L63.97 826.00 L63.97 826.50 L63.98 827.00 L63.99 827.50 L64.00 828.00 L64.01 828.50 L64.02 829.00 L64.03 829.50 L64.03 830.00 L64.04 830.50 L64.05 831.00 L64.06 831.50 L64.06 832.00 L64.07 832.50 L64.08 833.00 L64.08 833.50 L64.09 834.00 L64.09 834.50 L64.09 835.00 L64.10 835.50 L64.10 836.00 L64.10 836.50 L64.10 837.00 L64.15 837.25 L64.20 837.50 L64.60 837.50 L64.65 837.25 L64.70 837.00 L64.70 836.50 L64.70 836.00 L64.70 835.50 L64.71 835.00 L64.71 834.50 L64.71 834.00 L64.72 833.50 L64.72 833.00 L64.73 832.50 L64.74 832.00 L64.74 831.50 L64.75 831.00 L64.76 830.50 L64.77 830.00 L64.77 829.50 L64.78 829.00 L64.79 828.50 L64.80 828.00 L64.81 827.50 L64.82 827.00 L64.83 826.50 L64.83 826.00 L64.84 825.50 L64.85 825.00 L64.86 824.50 L64.86 824.00 L64.87 823.50 L64.88 823.00 L64.88 822.50 L64.89 822.00 L64.89 821.50 L64.89 821.00 L64.90 820.50 L64.90 820.00 L64.90 819.50 L64.90 819.00 L65.11 818.50 L65.60 818.00 L66.09 817.50 L66.30 817.00 L66.42 816.50 L66.75 816.00 L67.28 815.50 L67.97 815.00 L68.74 814.50 L69.56 814.00 L70.33 813.50 L71.02 813.00 L71.55 812.50 L71.88 812.00 L72.00 811.50 L71.88 811.00 L71.55 810.50 L71.02 810.00 L70.33 809.50 L69.56 809.00 L68.74 808.50 L67.97 808.00 L67.28 807.50 L66.75 807.00 L66.42 806.50 L66.30 806.00 L66.27 805.50 L66.19 805.00 L66.05 804.50 L65.88 804.00 L65.67 803.50 L65.45 803.00 L65.23 802.50 L65.03 802.00 L64.85 801.50 L64.71 801.00 L64.63 800.50 L64.60 800.00Z" fill="#8c3428" stroke="#2a2a2a" stroke-width="0.55" stroke-linejoin="round"/>
<path d="M81.30 803.50 L81.05 804.00 L80.45 804.50 L79.85 805.00 L79.60 805.50 L79.22 806.00 L78.17 806.50 L76.75 807.00 L75.33 807.50 L74.28 808.00 L73.90 808.50 L74.18 809.00 L74.97 809.50 L76.12 810.00 L77.38 810.50 L78.53 811.00 L79.32 811.50 L79.60 812.00 L79.81 812.50 L80.30 813.00 L80.79 813.50 L81.00 814.00 L81.00 814.50 L81.00 815.00 L81.00 815.50 L81.00 816.00 L81.01 816.50 L81.01 817.00 L81.01 817.50 L81.01 818.00 L81.02 818.50 L81.02 819.00 L81.03 819.50 L81.03 820.00 L81.04 820.50 L81.04 821.00 L81.05 821.50 L81.05 822.00 L81.06 822.50 L81.07 823.00 L81.07 823.50 L81.08 824.00 L81.09 824.50 L81.09 825.00 L81.10 825.50 L81.11 826.00 L81.11 826.50 L81.12 827.00 L81.13 827.50 L81.13 828.00 L81.14 828.50 L81.15 829.00 L81.15 829.50 L81.16 830.00 L81.16 830.50 L81.17 831.00 L81.17 831.50 L81.18 832.00 L81.18 832.50 L81.19 833.00 L81.19 833.50 L81.19 834.00 L81.19 834.50 L81.20 835.00 L81.20 835.50 L81.20 836.00 L81.20 836.50 L81.20 837.00 L81.25 837.25 L81.30 837.50 L81.70 837.50 L81.75 837.25 L81.80 837.00 L81.80 836.50 L81.80 836.00 L81.80 835.50 L81.80 835.00 L81.81 834.50 L81.81 834.00 L81.81 833.50 L81.81 833.00 L81.82 832.50 L81.82 832.00 L81.83 831.50 L81.83 831.00 L81.84 830.50 L81.84 830.00 L81.85 829.50 L81.85 829.00 L81.86 828.50 L81.87 828.00 L81.87 827.50 L81.88 827.00 L81.89 826.50 L81.89 826.00 L81.90 825.50 L81.91 825.00 L81.91 824.50 L81.92 824.00 L81.93 823.50 L81.93 823.00 L81.94 822.50 L81.95 822.00 L81.95 821.50 L81.96 821.00 L81.96 820.50 L81.97 820.00 L81.97 819.50 L81.98 819.00 L81.98 818.50 L81.99 818.00 L81.99 817.50 L81.99 817.00 L81.99 816.50 L82.00 816.00 L82.00 815.50 L82.00 815.00 L82.00 814.50 L82.00 814.00 L82.21 813.50 L82.70 813.00 L83.19 812.50 L83.40 812.00 L83.68 811.50 L84.47 811.00 L85.62 810.50 L86.88 810.00 L88.03 809.50 L88.82 809.00 L89.10 808.50 L88.72 808.00 L87.67 807.50 L86.25 807.00 L84.83 806.50 L83.78 806.00 L83.40 805.50 L83.15 805.00 L82.55 804.50 L81.95 804.00 L81.70 803.50Z" fill="#33648c" stroke="#2a2a2a" stroke-width="0.55" stroke-linejoin="round"/>
<path d="M97.00 806.00 L96.75 806.50 L96.15 807.00 L95.55 807.50 L95.30 808.00 L95.08 808.50 L94.47 809.00 L93.54 809.50 L92.45 810.00 L91.36 810.50 L90.43 811.00 L89.82 811.50 L89.60 812.00 L89.74 812.50 L90.14 813.00 L90.77 813.50 L91.57 814.00 L92.45 814.50 L93.33 815.00 L94.13 815.50 L94.76 816.00 L95.16 816.50 L95.30 817.00 L95.51 817.50 L96.00 818.00 L96.49 818.50 L96.70 819.00 L96.70 819.50 L96.70 820.00 L96.70 820.50 L96.71 821.00 L96.71 821.50 L96.71 822.00 L96.72 822.50 L96.72 823.00 L96.73 823.50 L96.74 824.00 L96.74 824.50 L96.75 825.00 L96.76 825.50 L96.77 826.00 L96.77 826.50 L96.78 827.00 L96.79 827.50 L96.80 828.00 L96.81 828.50 L96.82 829.00 L96.83 829.50 L96.83 830.00 L96.84 830.50 L96.85 831.00 L96.86 831.50 L96.86 832.00 L96.87 832.50 L96.88 833.00 L96.88 833.50 L96.89 834.00 L96.89 834.50 L96.89 835.00 L96.90 835.50 L96.90 836.00 L96.90 836.50 L96.90 837.00 L96.95 837.25 L97.00 837.50 L97.40 837.50 L97.45 837.25 L97.50 837.00 L97.50 836.50 L97.50 836.00 L97.50 835.50 L97.51 835.00 L97.51 834.50 L97.51 834.00 L97.52 833.50 L97.52 833.00 L97.53 832.50 L97.54 832.00 L97.54 831.50 L97.55 831.00 L97.56 830.50 L97.57 830.00 L97.57 829.50 L97.58 829.00 L97.59 828.50 L97.60 828.00 L97.61 827.50 L97.62 827.00 L97.63 826.50 L97.63 826.00 L97.64 825.50 L97.65 825.00 L97.66 824.50 L97.66 824.00 L97.67 823.50 L97.68 823.00 L97.68 822.50 L97.69 822.00 L97.69 821.50 L97.69 821.00 L97.70 820.50 L97.70 820.00 L97.70 819.50 L97.70 819.00 L97.91 818.50 L98.40 818.00 L98.89 817.50 L99.10 817.00 L99.24 816.50 L99.64 816.00 L100.27 815.50 L101.07 815.00 L101.95 814.50 L102.83 814.00 L103.63 813.50 L104.26 813.00 L104.66 812.50 L104.80 812.00 L104.58 811.50 L103.97 811.00 L103.04 810.50 L101.95 810.00 L100.86 809.50 L99.93 809.00 L99.32 808.50 L99.10 808.00 L98.85 807.50 L98.25 807.00 L97.65 806.50 L97.40 806.00Z" fill="#8c3428" stroke="#2a2a2a" stroke-width="0.55" stroke-linejoin="round"/>
<path d="M114.10 804.00 L113.67 804.50 L112.83 805.00 L112.40 805.50 L112.02 806.00 L110.97 806.50 L109.55 807.00 L108.12 807.50 L107.08 808.00 L106.70 808.50 L106.98 809.00 L107.77 809.50 L108.92 810.00 L110.18 810.50 L111.33 811.00 L112.12 811.50 L112.40 812.00 L112.61 812.50 L113.10 813.00 L113.59 813.50 L113.80 814.00 L113.80 814.50 L113.80 815.00 L113.81 815.50 L113.81 816.00 L113.82 816.50 L113.83 817.00 L113.84 817.50 L113.85 818.00 L113.86 818.50 L113.87 819.00 L113.88 819.50 L113.89 820.00 L113.91 820.50 L113.92 821.00 L113.93 821.50 L113.94 822.00 L113.95 822.50 L113.96 823.00 L113.97 823.50 L113.98 824.00 L113.99 824.50 L113.99 825.00 L114.00 825.50 L114.00 826.00 L114.00 826.50 L114.05 826.75 L114.10 827.00 L114.50 827.00 L114.55 826.75 L114.60 826.50 L114.60 826.00 L114.60 825.50 L114.61 825.00 L114.61 824.50 L114.62 824.00 L114.63 823.50 L114.64 823.00 L114.65 822.50 L114.66 822.00 L114.67 821.50 L114.68 821.00 L114.69 820.50 L114.71 820.00 L114.72 819.50 L114.73 819.00 L114.74 818.50 L114.75 818.00 L114.76 817.50 L114.77 817.00 L114.78 816.50 L114.79 816.00 L114.79 815.50 L114.80 815.00 L114.80 814.50 L114.80 814.00 L115.01 813.50 L115.50 813.00 L115.99 812.50 L116.20 812.00 L116.48 811.50 L117.27 811.00 L118.42 810.50 L119.68 810.00 L120.83 809.50 L121.62 809.00 L121.90 808.50 L121.52 808.00 L120.47 807.50 L119.05 807.00 L117.62 806.50 L116.58 806.00 L116.20 805.50 L115.77 805.00 L114.92 804.50 L114.50 804.00Z" fill="#33648c" stroke="#2a2a2a" stroke-width="0.55" stroke-linejoin="round"/>
<path d="M129.40 805.50 L128.97 806.00 L128.12 806.50 L127.70 807.00 L127.48 807.50 L126.87 808.00 L125.94 808.50 L124.85 809.00 L123.76 809.50 L122.83 810.00 L122.22 810.50 L122.00 811.00 L122.14 811.50 L122.54 812.00 L123.17 812.50 L123.97 813.00 L124.85 813.50 L125.73 814.00 L126.53 814.50 L127.16 815.00 L127.56 815.50 L127.70 816.00 L127.91 816.50 L128.40 817.00 L128.89 817.50 L129.10 818.00 L129.10 818.50 L129.10 819.00 L129.10 819.50 L129.11 820.00 L129.11 820.50 L129.11 821.00 L129.12 821.50 L129.12 822.00 L129.13 822.50 L129.13 823.00 L129.14 823.50 L129.15 824.00 L129.15 824.50 L129.16 825.00 L129.17 825.50 L129.18 826.00 L129.18 826.50 L129.19 827.00 L129.20 827.50 L129.21 828.00 L129.22 828.50 L129.22 829.00 L129.23 829.50 L129.24 830.00 L129.25 830.50 L129.25 831.00 L129.26 831.50 L129.27 832.00 L129.27 832.50 L129.28 833.00 L129.28 833.50 L129.29 834.00 L129.29 834.50 L129.29 835.00 L129.30 835.50 L129.30 836.00 L129.30 836.50 L129.30 837.00 L129.35 837.25 L129.40 837.50 L129.80 837.50 L129.85 837.25 L129.90 837.00 L129.90 836.50 L129.90 836.00 L129.90 835.50 L129.91 835.00 L129.91 834.50 L129.91 834.00 L129.92 833.50 L129.92 833.00 L129.93 832.50 L129.93 832.00 L129.94 831.50 L129.95 831.00 L129.95 830.50 L129.96 830.00 L129.97 829.50 L129.98 829.00 L129.98 828.50 L129.99 828.00 L130.00 827.50 L130.01 827.00 L130.02 826.50 L130.02 826.00 L130.03 825.50 L130.04 825.00 L130.05 824.50 L130.05 824.00 L130.06 823.50 L130.07 823.00 L130.07 822.50 L130.08 822.00 L130.08 821.50 L130.09 821.00 L130.09 820.50 L130.09 820.00 L130.10 819.50 L130.10 819.00 L130.10 818.50 L130.10 818.00 L130.31 817.50 L130.80 817.00 L131.29 816.50 L131.50 816.00 L131.64 815.50 L132.04 815.00 L132.67 814.50 L133.47 814.00 L134.35 813.50 L135.23 813.00 L136.03 812.50 L136.66 812.00 L137.06 811.50 L137.20 811.00 L136.98 810.50 L136.37 810.00 L135.44 809.50 L134.35 809.00 L133.26 808.50 L132.33 808.00 L131.72 807.50 L131.50 807.00 L131.07 806.50 L130.22 806.00 L129.80 805.50Z" fill="#8c3428" stroke="#2a2a2a" stroke-width="0.55" stroke-linejoin="round"/>
<path d="M146.70 806.00 L145.82 806.50 L144.07 807.00 L143.20 807.50 L142.93 808.00 L142.23 808.50 L141.37 809.00 L140.67 809.50 L140.40 810.00 L140.38 810.50 L140.30 811.00 L140.19 811.50 L140.05 812.00 L139.90 812.50 L139.75 813.00 L139.61 813.50 L139.50 814.00 L139.42 814.50 L139.40 815.00 L139.43 815.50 L139.51 816.00 L139.63 816.50 L139.80 817.00 L139.99 817.50 L140.20 818.00 L140.41 818.50 L140.60 819.00 L140.77 819.50 L140.89 820.00 L140.97 820.50 L141.00 821.00 L141.09 821.50 L141.34 822.00 L141.74 822.50 L142.24 823.00 L142.80 823.50 L143.36 824.00 L143.86 824.50 L144.26 825.00 L144.51 825.50 L144.60 826.00 L144.66 826.50 L144.85 827.00 L145.12 827.50 L145.45 828.00 L145.78 828.50 L146.05 829.00 L146.24 829.50 L146.30 830.00 L146.25 830.50 L146.12 831.00 L145.95 831.50 L145.77 832.00 L145.65 832.50 L145.60 833.00 L145.56 833.50 L145.46 834.00 L145.30 834.50 L145.10 835.00 L144.90 835.50 L144.70 836.00 L144.54 836.50 L144.44 837.00 L144.40 837.50 L150.00 837.50 L149.96 837.00 L149.86 836.50 L149.70 836.00 L149.50 835.50 L149.30 835.00 L149.10 834.50 L148.94 834.00 L148.84 833.50 L148.80 833.00 L148.75 832.50 L148.62 832.00 L148.45 831.50 L148.27 831.00 L148.15 830.50 L148.10 830.00 L148.16 829.50 L148.35 829.00 L148.62 828.50 L148.95 828.00 L149.28 827.50 L149.55 827.00 L149.74 826.50 L149.80 826.00 L149.89 825.50 L150.14 825.00 L150.54 824.50 L151.04 824.00 L151.60 823.50 L152.16 823.00 L152.66 822.50 L153.06 822.00 L153.31 821.50 L153.40 821.00 L153.43 820.50 L153.51 820.00 L153.63 819.50 L153.80 819.00 L153.99 818.50 L154.20 818.00 L154.41 817.50 L154.60 817.00 L154.77 816.50 L154.89 816.00 L154.97 815.50 L155.00 815.00 L154.98 814.50 L154.90 814.00 L154.79 813.50 L154.65 813.00 L154.50 812.50 L154.35 812.00 L154.21 811.50 L154.10 811.00 L154.02 810.50 L154.00 810.00 L153.73 809.50 L153.03 809.00 L152.17 808.50 L151.47 808.00 L151.20 807.50 L150.32 807.00 L148.57 806.50 L147.70 806.00Z" fill="#33648c" stroke="#2a2a2a" stroke-width="0.55" stroke-linejoin="round"/>
<path d="M162.70 808.50 L161.90 809.00 L160.30 809.50 L159.50 810.00 L159.34 810.50 L158.90 811.00 L158.23 811.50 L157.45 812.00 L156.67 812.50 L156.00 813.00 L155.56 813.50 L155.40 814.00 L155.60 814.50 L156.17 815.00 L156.99 815.50 L157.91 816.00 L158.73 816.50 L159.30 817.00 L159.50 817.50 L159.78 818.00 L160.50 818.50 L161.40 819.00 L162.12 819.50 L162.40 820.00 L162.40 820.50 L162.40 821.00 L162.41 821.50 L162.41 822.00 L162.42 822.50 L162.42 823.00 L162.43 823.50 L162.44 824.00 L162.45 824.50 L162.46 825.00 L162.47 825.50 L162.48 826.00 L162.49 826.50 L162.50 827.00 L162.51 827.50 L162.52 828.00 L162.53 828.50 L162.54 829.00 L162.55 829.50 L162.56 830.00 L162.57 830.50 L162.58 831.00 L162.58 831.50 L162.59 832.00 L162.59 832.50 L162.60 833.00 L162.60 833.50 L162.60 834.00 L162.47 834.50 L162.15 835.00 L161.83 835.50 L161.70 836.00 L161.70 836.50 L161.70 837.00 L161.70 837.50 L164.30 837.50 L164.30 837.00 L164.30 836.50 L164.30 836.00 L164.17 835.50 L163.85 835.00 L163.53 834.50 L163.40 834.00 L163.40 833.50 L163.40 833.00 L163.41 832.50 L163.41 832.00 L163.42 831.50 L163.42 831.00 L163.43 830.50 L163.44 830.00 L163.45 829.50 L163.46 829.00 L163.47 828.50 L163.48 828.00 L163.49 827.50 L163.50 827.00 L163.51 826.50 L163.52 826.00 L163.53 825.50 L163.54 825.00 L163.55 824.50 L163.56 824.00 L163.57 823.50 L163.58 823.00 L163.58 822.50 L163.59 822.00 L163.59 821.50 L163.60 821.00 L163.60 820.50 L163.60 820.00 L163.88 819.50 L164.60 819.00 L165.50 818.50 L166.22 818.00 L166.50 817.50 L166.70 817.00 L167.27 816.50 L168.09 816.00 L169.01 815.50 L169.83 815.00 L170.40 814.50 L170.60 814.00 L170.44 813.50 L170.00 813.00 L169.33 812.50 L168.55 812.00 L167.77 811.50 L167.10 811.00 L166.66 810.50 L166.50 810.00 L165.70 809.50 L164.10 809.00 L163.30 808.50Z" fill="#8c3428" stroke="#2a2a2a" stroke-width="0.55" stroke-linejoin="round"/>
<line x1="36.0" y1="798.2" x2="36.0" y2="838.8" stroke="#333" stroke-width="1" shape-rendering="crispEdges"/>
<line x1="36.0" y1="838.8" x2="174.8" y2="838.8" stroke="#333" stroke-width="1" shape-rendering="crispEdges"/>
<line x1="33.5" y1="806.0" x2="36.0" y2="806.0" stroke="#333" stroke-width="0.9" shape-rendering="crispEdges"/>
<text stroke="#333" stroke-width="0.22" x="32.7" y="809.2" font-size="9.2" text-anchor="end" fill="#333" font-family="Liberation Sans">6</text>
<line x1="33.5" y1="816.5" x2="36.0" y2="816.5" stroke="#333" stroke-width="0.9" shape-rendering="crispEdges"/>
<text stroke="#333" stroke-width="0.22" x="32.7" y="819.7" font-size="9.2" text-anchor="end" fill="#333" font-family="Liberation Sans">4</text>
<line x1="33.5" y1="827.0" x2="36.0" y2="827.0" stroke="#333" stroke-width="0.9" shape-rendering="crispEdges"/>
<text stroke="#333" stroke-width="0.22" x="32.7" y="830.2" font-size="9.2" text-anchor="end" fill="#333" font-family="Liberation Sans">2</text>
<line x1="33.5" y1="837.5" x2="36.0" y2="837.5" stroke="#333" stroke-width="0.9" shape-rendering="crispEdges"/>
<text stroke="#333" stroke-width="0.22" x="32.7" y="840.7" font-size="9.2" text-anchor="end" fill="#333" font-family="Liberation Sans">0</text>
<line x1="56.5" y1="838.8" x2="56.5" y2="841.3" stroke="#333" stroke-width="0.9" shape-rendering="crispEdges"/>
<text stroke="#333" stroke-width="0.22" x="0" y="0" font-size="10.4" text-anchor="end" fill="#333" transform="translate(62.8 848.4) rotate(-45)">BMSC−0</text>
<line x1="89.4" y1="838.8" x2="89.4" y2="841.3" stroke="#333" stroke-width="0.9" shape-rendering="crispEdges"/>
<text stroke="#333" stroke-width="0.22" x="0" y="0" font-size="10.4" text-anchor="end" fill="#333" transform="translate(95.7 848.4) rotate(-45)">BMSC−1</text>
<line x1="122.0" y1="838.8" x2="122.0" y2="841.3" stroke="#333" stroke-width="0.9" shape-rendering="crispEdges"/>
<text stroke="#333" stroke-width="0.22" x="0" y="0" font-size="10.4" text-anchor="end" fill="#333" transform="translate(128.3 848.4) rotate(-45)">BMSC−2</text>
<line x1="155.1" y1="838.8" x2="155.1" y2="841.3" stroke="#333" stroke-width="0.9" shape-rendering="crispEdges"/>
<text stroke="#333" stroke-width="0.22" x="0" y="0" font-size="10.4" text-anchor="end" fill="#333" transform="translate(161.4 848.4) rotate(-45)">BMSC−3</text>
<text stroke="#222" stroke-width="0.12" x="105.0" y="779.4" font-size="9.6" text-anchor="middle" fill="#222" font-family="Liberation Sans" font-style="italic">CXCL12</text>
<path d="M208.65 801.20 L208.51 801.77 L208.11 802.33 L207.54 802.90 L206.90 803.46 L206.33 804.03 L205.93 804.59 L205.79 805.16 L205.70 805.67 L205.42 806.19 L205.00 806.70 L204.48 807.21 L203.92 807.73 L203.41 808.24 L202.98 808.75 L202.71 809.27 L202.61 809.78 L202.58 810.29 L202.48 810.81 L202.33 811.32 L202.15 811.83 L201.96 812.35 L201.78 812.86 L201.63 813.37 L201.53 813.89 L201.50 814.40 L201.54 814.90 L201.65 815.41 L201.82 815.91 L202.04 816.41 L202.29 816.91 L202.56 817.42 L202.81 817.92 L203.03 818.42 L203.20 818.92 L203.31 819.43 L203.35 819.93 L203.42 820.46 L203.62 820.98 L203.95 821.51 L204.37 822.04 L204.86 822.56 L205.38 823.09 L205.91 823.62 L206.40 824.14 L206.82 824.67 L207.15 825.20 L207.35 825.72 L207.42 826.25 L207.45 826.81 L207.55 827.38 L207.68 827.94 L207.84 828.51 L207.97 829.07 L208.07 829.64 L208.10 830.20 L208.08 830.71 L208.01 831.23 L207.91 831.74 L207.80 832.25 L207.69 832.76 L207.59 833.27 L207.52 833.79 L207.50 834.30 L206.90 834.93 L205.69 835.57 L205.08 836.20 L204.34 836.85 L203.60 837.50 L214.20 837.50 L213.46 836.85 L212.72 836.20 L212.11 835.57 L210.90 834.93 L210.30 834.30 L210.28 833.79 L210.21 833.27 L210.11 832.76 L210.00 832.25 L209.89 831.74 L209.79 831.23 L209.72 830.71 L209.70 830.20 L209.73 829.64 L209.83 829.07 L209.96 828.51 L210.12 827.94 L210.25 827.38 L210.35 826.81 L210.38 826.25 L210.45 825.72 L210.65 825.20 L210.98 824.67 L211.40 824.14 L211.89 823.62 L212.42 823.09 L212.94 822.56 L213.43 822.04 L213.85 821.51 L214.18 820.98 L214.38 820.46 L214.45 819.93 L214.49 819.43 L214.60 818.92 L214.77 818.42 L214.99 817.92 L215.24 817.42 L215.51 816.91 L215.76 816.41 L215.98 815.91 L216.15 815.41 L216.26 814.90 L216.30 814.40 L216.27 813.89 L216.17 813.37 L216.02 812.86 L215.84 812.35 L215.65 811.83 L215.47 811.32 L215.32 810.81 L215.22 810.29 L215.19 809.78 L215.09 809.27 L214.82 808.75 L214.39 808.24 L213.88 807.73 L213.32 807.21 L212.80 806.70 L212.38 806.19 L212.10 805.67 L212.01 805.16 L211.87 804.59 L211.47 804.03 L210.90 803.46 L210.26 802.90 L209.69 802.33 L209.29 801.77 L209.15 801.20Z" fill="#33648c" stroke="#2a2a2a" stroke-width="0.55" stroke-linejoin="round"/>
<path d="M223.65 805.20 L223.62 805.73 L223.55 806.25 L223.43 806.78 L223.28 807.31 L223.13 807.83 L222.99 808.36 L222.87 808.89 L222.79 809.41 L222.77 809.94 L222.74 810.44 L222.67 810.95 L222.57 811.45 L222.43 811.95 L222.27 812.45 L222.10 812.96 L221.94 813.46 L221.81 813.96 L221.70 814.46 L221.63 814.97 L221.61 815.47 L221.60 815.97 L221.57 816.48 L221.54 816.98 L221.49 817.48 L221.43 817.98 L221.37 818.49 L221.32 818.99 L221.27 819.49 L221.23 819.99 L221.21 820.50 L221.20 821.00 L221.26 821.55 L221.43 822.09 L221.64 822.64 L221.81 823.18 L221.88 823.73 L221.97 824.25 L222.25 824.77 L222.62 825.29 L222.99 825.81 L223.26 826.33 L223.36 826.85 L223.30 827.50 L223.16 828.15 L223.10 828.80 L223.09 829.30 L223.05 829.80 L223.00 830.30 L222.92 830.80 L222.84 831.30 L222.76 831.80 L222.68 832.30 L222.60 832.80 L222.55 833.30 L222.51 833.80 L222.50 834.30 L221.48 834.93 L219.45 835.57 L218.43 836.20 L217.36 836.85 L216.30 837.50 L231.50 837.50 L230.44 836.85 L229.37 836.20 L228.35 835.57 L226.32 834.93 L225.30 834.30 L225.29 833.80 L225.25 833.30 L225.20 832.80 L225.12 832.30 L225.04 831.80 L224.96 831.30 L224.88 830.80 L224.80 830.30 L224.75 829.80 L224.71 829.30 L224.70 828.80 L224.64 828.15 L224.50 827.50 L224.44 826.85 L224.54 826.33 L224.81 825.81 L225.18 825.29 L225.55 824.77 L225.83 824.25 L225.93 823.73 L225.99 823.18 L226.16 822.64 L226.37 822.09 L226.54 821.55 L226.60 821.00 L226.59 820.50 L226.57 819.99 L226.53 819.49 L226.48 818.99 L226.43 818.49 L226.37 817.98 L226.31 817.48 L226.26 816.98 L226.23 816.48 L226.20 815.97 L226.19 815.47 L226.17 814.97 L226.10 814.46 L225.99 813.96 L225.86 813.46 L225.70 812.96 L225.53 812.45 L225.37 811.95 L225.23 811.45 L225.13 810.95 L225.06 810.44 L225.03 809.94 L225.01 809.41 L224.93 808.89 L224.81 808.36 L224.67 807.83 L224.52 807.31 L224.37 806.78 L224.25 806.25 L224.18 805.73 L224.15 805.20Z" fill="#8c3428" stroke="#2a2a2a" stroke-width="0.55" stroke-linejoin="round"/>
<path d="M240.75 800.00 L240.66 800.52 L240.42 801.05 L240.04 801.57 L239.57 802.09 L239.07 802.62 L238.61 803.14 L238.23 803.66 L237.98 804.19 L237.89 804.71 L237.81 805.26 L237.59 805.81 L237.24 806.36 L236.79 806.91 L236.30 807.46 L235.81 808.01 L235.37 808.56 L235.01 809.11 L234.79 809.66 L234.71 810.21 L234.68 810.75 L234.60 811.30 L234.48 811.85 L234.33 812.40 L234.16 812.95 L233.98 813.50 L233.83 814.05 L233.71 814.60 L233.63 815.15 L233.60 815.70 L233.65 816.20 L233.78 816.70 L233.98 817.20 L234.24 817.70 L234.53 818.20 L234.81 818.70 L235.07 819.20 L235.27 819.70 L235.40 820.20 L235.45 820.71 L235.53 821.23 L235.77 821.75 L236.15 822.26 L236.64 822.78 L237.20 823.30 L237.77 823.83 L238.33 824.35 L238.82 824.87 L239.20 825.38 L239.44 825.90 L239.52 826.42 L239.55 826.94 L239.65 827.45 L239.78 827.96 L239.94 828.47 L240.07 828.98 L240.17 829.49 L240.20 830.00 L240.18 830.54 L240.11 831.08 L240.01 831.61 L239.90 832.15 L239.79 832.69 L239.69 833.22 L239.62 833.76 L239.60 834.30 L239.00 834.93 L237.79 835.57 L237.18 836.20 L236.44 836.85 L235.70 837.50 L246.30 837.50 L245.56 836.85 L244.82 836.20 L244.21 835.57 L243.00 834.93 L242.40 834.30 L242.38 833.76 L242.31 833.22 L242.21 832.69 L242.10 832.15 L241.99 831.61 L241.89 831.08 L241.82 830.54 L241.80 830.00 L241.83 829.49 L241.93 828.98 L242.06 828.47 L242.22 827.96 L242.35 827.45 L242.45 826.94 L242.48 826.42 L242.56 825.90 L242.80 825.38 L243.18 824.87 L243.67 824.35 L244.23 823.83 L244.80 823.30 L245.36 822.78 L245.85 822.26 L246.23 821.75 L246.47 821.23 L246.55 820.71 L246.60 820.20 L246.73 819.70 L246.93 819.20 L247.19 818.70 L247.47 818.20 L247.76 817.70 L248.02 817.20 L248.22 816.70 L248.35 816.20 L248.40 815.70 L248.37 815.15 L248.29 814.60 L248.17 814.05 L248.02 813.50 L247.84 812.95 L247.67 812.40 L247.52 811.85 L247.40 811.30 L247.32 810.75 L247.29 810.21 L247.21 809.66 L246.99 809.11 L246.63 808.56 L246.19 808.01 L245.70 807.46 L245.21 806.91 L244.76 806.36 L244.41 805.81 L244.19 805.26 L244.11 804.71 L244.02 804.19 L243.77 803.66 L243.39 803.14 L242.93 802.62 L242.43 802.09 L241.96 801.57 L241.58 801.05 L241.34 800.52 L241.25 800.00Z" fill="#33648c" stroke="#2a2a2a" stroke-width="0.55" stroke-linejoin="round"/>
<path d="M255.95 802.60 L255.93 803.14 L255.86 803.67 L255.76 804.21 L255.63 804.75 L255.48 805.29 L255.33 805.82 L255.18 806.36 L255.04 806.90 L254.94 807.44 L254.88 807.97 L254.86 808.51 L254.84 809.04 L254.78 809.57 L254.68 810.10 L254.56 810.63 L254.41 811.16 L254.25 811.69 L254.09 812.22 L253.92 812.75 L253.78 813.28 L253.65 813.81 L253.56 814.34 L253.50 814.87 L253.48 815.40 L253.47 815.94 L253.45 816.47 L253.42 817.00 L253.38 817.53 L253.33 818.06 L253.27 818.59 L253.21 819.12 L253.15 819.65 L253.10 820.18 L253.06 820.71 L253.03 821.24 L253.01 821.77 L253.00 822.30 L253.08 822.84 L253.28 823.38 L253.52 823.92 L253.72 824.46 L253.80 825.00 L253.92 825.51 L254.24 826.02 L254.68 826.54 L255.12 827.05 L255.44 827.56 L255.56 828.08 L255.52 828.72 L255.44 829.36 L255.40 830.00 L255.38 830.54 L255.31 831.08 L255.21 831.61 L255.10 832.15 L254.99 832.69 L254.89 833.22 L254.82 833.76 L254.80 834.30 L253.78 834.93 L251.75 835.57 L250.73 836.20 L249.66 836.85 L248.60 837.50 L263.80 837.50 L262.74 836.85 L261.67 836.20 L260.65 835.57 L258.62 834.93 L257.60 834.30 L257.58 833.76 L257.51 833.22 L257.41 832.69 L257.30 832.15 L257.19 831.61 L257.09 831.08 L257.02 830.54 L257.00 830.00 L256.96 829.36 L256.88 828.72 L256.84 828.08 L256.96 827.56 L257.28 827.05 L257.72 826.54 L258.16 826.02 L258.48 825.51 L258.60 825.00 L258.68 824.46 L258.88 823.92 L259.12 823.38 L259.32 822.84 L259.40 822.30 L259.39 821.77 L259.37 821.24 L259.34 820.71 L259.30 820.18 L259.25 819.65 L259.19 819.12 L259.13 818.59 L259.07 818.06 L259.02 817.53 L258.98 817.00 L258.95 816.47 L258.93 815.94 L258.92 815.40 L258.90 814.87 L258.84 814.34 L258.75 813.81 L258.62 813.28 L258.48 812.75 L258.31 812.22 L258.15 811.69 L257.99 811.16 L257.84 810.63 L257.72 810.10 L257.62 809.57 L257.56 809.04 L257.54 808.51 L257.52 807.97 L257.46 807.44 L257.36 806.90 L257.22 806.36 L257.07 805.82 L256.92 805.29 L256.77 804.75 L256.64 804.21 L256.54 803.67 L256.47 803.14 L256.45 802.60Z" fill="#8c3428" stroke="#2a2a2a" stroke-width="0.55" stroke-linejoin="round"/>
<path d="M273.55 806.50 L273.44 807.04 L273.13 807.59 L272.67 808.13 L272.12 808.67 L271.57 809.22 L271.11 809.76 L270.80 810.31 L270.69 810.85 L270.61 811.36 L270.39 811.87 L270.04 812.37 L269.59 812.88 L269.10 813.39 L268.61 813.89 L268.17 814.40 L267.81 814.91 L267.59 815.42 L267.51 815.92 L267.48 816.43 L267.40 816.94 L267.28 817.45 L267.13 817.95 L266.95 818.46 L266.78 818.97 L266.63 819.48 L266.51 819.99 L266.43 820.49 L266.40 821.00 L266.49 821.52 L266.75 822.05 L267.12 822.57 L267.53 823.10 L267.90 823.62 L268.16 824.15 L268.25 824.67 L268.40 825.20 L268.85 825.72 L269.51 826.25 L270.29 826.77 L271.06 827.30 L271.72 827.83 L272.17 828.35 L272.32 828.88 L272.38 829.40 L272.55 829.92 L272.77 830.45 L272.94 830.98 L273.00 831.50 L272.94 832.06 L272.79 832.62 L272.61 833.18 L272.46 833.74 L272.40 834.30 L271.80 834.93 L270.59 835.57 L269.98 836.20 L269.24 836.85 L268.50 837.50 L279.10 837.50 L278.36 836.85 L277.62 836.20 L277.01 835.57 L275.80 834.93 L275.20 834.30 L275.14 833.74 L274.99 833.18 L274.81 832.62 L274.66 832.06 L274.60 831.50 L274.66 830.98 L274.83 830.45 L275.05 829.92 L275.22 829.40 L275.28 828.88 L275.43 828.35 L275.88 827.83 L276.54 827.30 L277.31 826.77 L278.09 826.25 L278.75 825.72 L279.20 825.20 L279.35 824.67 L279.44 824.15 L279.70 823.62 L280.07 823.10 L280.48 822.57 L280.85 822.05 L281.11 821.52 L281.20 821.00 L281.17 820.49 L281.09 819.99 L280.97 819.48 L280.82 818.97 L280.65 818.46 L280.47 817.95 L280.32 817.45 L280.20 816.94 L280.12 816.43 L280.09 815.92 L280.01 815.42 L279.79 814.91 L279.43 814.40 L278.99 813.89 L278.50 813.39 L278.01 812.88 L277.56 812.37 L277.21 811.87 L276.99 811.36 L276.91 810.85 L276.80 810.31 L276.49 809.76 L276.03 809.22 L275.48 808.67 L274.93 808.13 L274.47 807.59 L274.16 807.04 L274.05 806.50Z" fill="#33648c" stroke="#2a2a2a" stroke-width="0.55" stroke-linejoin="round"/>
<path d="M288.05 806.50 L288.02 807.01 L287.95 807.53 L287.82 808.04 L287.67 808.55 L287.50 809.07 L287.33 809.58 L287.18 810.09 L287.06 810.60 L286.98 811.12 L286.96 811.63 L286.93 812.17 L286.85 812.72 L286.72 813.26 L286.55 813.81 L286.37 814.35 L286.17 814.89 L285.98 815.44 L285.82 815.98 L285.69 816.53 L285.61 817.07 L285.58 817.62 L285.57 818.16 L285.54 818.70 L285.50 819.25 L285.44 819.79 L285.37 820.34 L285.31 820.88 L285.24 821.42 L285.18 821.97 L285.14 822.51 L285.11 823.06 L285.10 823.60 L285.18 824.12 L285.38 824.64 L285.62 825.15 L285.82 825.67 L285.90 826.19 L286.07 826.78 L286.51 827.37 L287.05 827.97 L287.49 828.56 L287.66 829.15 L287.62 829.77 L287.54 830.38 L287.50 831.00 L287.46 831.55 L287.35 832.10 L287.20 832.65 L287.05 833.20 L286.94 833.75 L286.90 834.30 L285.88 834.93 L283.85 835.57 L282.83 836.20 L281.76 836.85 L280.70 837.50 L295.90 837.50 L294.84 836.85 L293.77 836.20 L292.75 835.57 L290.72 834.93 L289.70 834.30 L289.66 833.75 L289.55 833.20 L289.40 832.65 L289.25 832.10 L289.14 831.55 L289.10 831.00 L289.06 830.38 L288.98 829.77 L288.94 829.15 L289.11 828.56 L289.55 827.97 L290.09 827.37 L290.53 826.78 L290.70 826.19 L290.78 825.67 L290.98 825.15 L291.22 824.64 L291.42 824.12 L291.50 823.60 L291.49 823.06 L291.46 822.51 L291.42 821.97 L291.36 821.42 L291.29 820.88 L291.23 820.34 L291.16 819.79 L291.10 819.25 L291.06 818.70 L291.03 818.16 L291.02 817.62 L290.99 817.07 L290.91 816.53 L290.78 815.98 L290.62 815.44 L290.43 814.89 L290.23 814.35 L290.05 813.81 L289.88 813.26 L289.75 812.72 L289.67 812.17 L289.64 811.63 L289.62 811.12 L289.54 810.60 L289.42 810.09 L289.27 809.58 L289.10 809.07 L288.93 808.55 L288.78 808.04 L288.65 807.53 L288.58 807.01 L288.55 806.50Z" fill="#8c3428" stroke="#2a2a2a" stroke-width="0.55" stroke-linejoin="round"/>
<path d="M305.80 807.80 L305.48 808.37 L304.83 808.93 L304.50 809.50 L304.45 810.00 L304.31 810.50 L304.11 811.00 L303.89 811.50 L303.69 812.00 L303.55 812.50 L303.50 813.00 L303.50 813.50 L303.50 814.00 L303.51 814.50 L303.51 815.00 L303.52 815.50 L303.53 816.00 L303.53 816.50 L303.54 817.00 L303.55 817.50 L303.56 818.00 L303.58 818.50 L303.59 819.00 L303.60 819.50 L303.61 820.00 L303.62 820.50 L303.64 821.00 L303.65 821.50 L303.66 822.00 L303.67 822.50 L303.67 823.00 L303.68 823.50 L303.69 824.00 L303.69 824.50 L303.70 825.00 L303.70 825.50 L303.70 826.00 L303.69 826.50 L303.66 827.00 L303.62 827.50 L303.56 828.00 L303.50 828.50 L303.44 829.00 L303.38 829.50 L303.34 830.00 L303.31 830.50 L303.30 831.00 L303.19 831.50 L302.89 832.00 L302.44 832.50 L301.96 833.00 L301.51 833.50 L301.21 834.00 L301.10 834.50 L300.94 835.00 L300.50 835.50 L299.90 836.00 L299.30 836.50 L298.86 837.00 L298.70 837.50 L313.50 837.50 L313.34 837.00 L312.90 836.50 L312.30 836.00 L311.70 835.50 L311.26 835.00 L311.10 834.50 L310.99 834.00 L310.69 833.50 L310.24 833.00 L309.76 832.50 L309.31 832.00 L309.01 831.50 L308.90 831.00 L308.89 830.50 L308.86 830.00 L308.82 829.50 L308.76 829.00 L308.70 828.50 L308.64 828.00 L308.58 827.50 L308.54 827.00 L308.51 826.50 L308.50 826.00 L308.50 825.50 L308.50 825.00 L308.51 824.50 L308.51 824.00 L308.52 823.50 L308.53 823.00 L308.53 822.50 L308.54 822.00 L308.55 821.50 L308.56 821.00 L308.58 820.50 L308.59 820.00 L308.60 819.50 L308.61 819.00 L308.62 818.50 L308.64 818.00 L308.65 817.50 L308.66 817.00 L308.67 816.50 L308.67 816.00 L308.68 815.50 L308.69 815.00 L308.69 814.50 L308.70 814.00 L308.70 813.50 L308.70 813.00 L308.65 812.50 L308.51 812.00 L308.31 811.50 L308.09 811.00 L307.89 810.50 L307.75 810.00 L307.70 809.50 L307.38 808.93 L306.73 808.37 L306.40 807.80Z" fill="#33648c" stroke="#2a2a2a" stroke-width="0.55" stroke-linejoin="round"/>
<path d="M320.85 806.50 L320.81 807.04 L320.71 807.59 L320.56 808.13 L320.39 808.67 L320.21 809.22 L320.06 809.76 L319.96 810.31 L319.92 810.85 L319.89 811.36 L319.81 811.87 L319.68 812.37 L319.51 812.88 L319.32 813.39 L319.14 813.89 L318.97 814.40 L318.83 814.91 L318.75 815.42 L318.72 815.92 L318.71 816.43 L318.68 816.94 L318.63 817.45 L318.57 817.95 L318.51 818.46 L318.45 818.97 L318.39 819.48 L318.34 819.99 L318.31 820.49 L318.30 821.00 L318.37 821.60 L318.54 822.19 L318.76 822.78 L318.93 823.38 L319.00 823.98 L319.10 824.54 L319.39 825.11 L319.77 825.67 L320.16 826.24 L320.44 826.81 L320.54 827.38 L320.50 827.91 L320.42 828.44 L320.34 828.97 L320.30 829.50 L320.28 830.03 L320.23 830.57 L320.15 831.10 L320.05 831.63 L319.95 832.17 L319.85 832.70 L319.77 833.23 L319.72 833.77 L319.70 834.30 L318.68 834.93 L316.65 835.57 L315.63 836.20 L314.56 836.85 L313.50 837.50 L328.70 837.50 L327.64 836.85 L326.57 836.20 L325.55 835.57 L323.52 834.93 L322.50 834.30 L322.48 833.77 L322.43 833.23 L322.35 832.70 L322.25 832.17 L322.15 831.63 L322.05 831.10 L321.97 830.57 L321.92 830.03 L321.90 829.50 L321.86 828.97 L321.78 828.44 L321.70 827.91 L321.66 827.38 L321.76 826.81 L322.05 826.24 L322.43 825.67 L322.81 825.11 L323.10 824.54 L323.20 823.98 L323.27 823.38 L323.44 822.78 L323.66 822.19 L323.83 821.60 L323.90 821.00 L323.89 820.49 L323.86 819.99 L323.81 819.48 L323.75 818.97 L323.69 818.46 L323.63 817.95 L323.57 817.45 L323.52 816.94 L323.49 816.43 L323.48 815.92 L323.45 815.42 L323.37 814.91 L323.23 814.40 L323.06 813.89 L322.88 813.39 L322.69 812.88 L322.52 812.37 L322.39 811.87 L322.31 811.36 L322.28 810.85 L322.24 810.31 L322.14 809.76 L321.99 809.22 L321.81 808.67 L321.64 808.13 L321.49 807.59 L321.39 807.04 L321.35 806.50Z" fill="#8c3428" stroke="#2a2a2a" stroke-width="0.55" stroke-linejoin="round"/>
<line x1="196.3" y1="798.2" x2="196.3" y2="838.8" stroke="#333" stroke-width="1" shape-rendering="crispEdges"/>
<line x1="196.3" y1="838.8" x2="333.5" y2="838.8" stroke="#333" stroke-width="1" shape-rendering="crispEdges"/>
<line x1="193.8" y1="807.0" x2="196.3" y2="807.0" stroke="#333" stroke-width="0.9" shape-rendering="crispEdges"/>
<text stroke="#333" stroke-width="0.22" x="193.0" y="810.2" font-size="9.2" text-anchor="end" fill="#333" font-family="Liberation Sans">3</text>
<line x1="193.8" y1="817.0" x2="196.3" y2="817.0" stroke="#333" stroke-width="0.9" shape-rendering="crispEdges"/>
<text stroke="#333" stroke-width="0.22" x="193.0" y="820.2" font-size="9.2" text-anchor="end" fill="#333" font-family="Liberation Sans">2</text>
<line x1="193.8" y1="827.5" x2="196.3" y2="827.5" stroke="#333" stroke-width="0.9" shape-rendering="crispEdges"/>
<text stroke="#333" stroke-width="0.22" x="193.0" y="830.7" font-size="9.2" text-anchor="end" fill="#333" font-family="Liberation Sans">1</text>
<line x1="193.8" y1="837.2" x2="196.3" y2="837.2" stroke="#333" stroke-width="0.9" shape-rendering="crispEdges"/>
<text stroke="#333" stroke-width="0.22" x="193.0" y="840.4" font-size="9.2" text-anchor="end" fill="#333" font-family="Liberation Sans">0</text>
<line x1="216.4" y1="838.8" x2="216.4" y2="841.3" stroke="#333" stroke-width="0.9" shape-rendering="crispEdges"/>
<text stroke="#333" stroke-width="0.22" x="0" y="0" font-size="10.4" text-anchor="end" fill="#333" transform="translate(222.7 848.4) rotate(-45)">BMSC−0</text>
<line x1="248.6" y1="838.8" x2="248.6" y2="841.3" stroke="#333" stroke-width="0.9" shape-rendering="crispEdges"/>
<text stroke="#333" stroke-width="0.22" x="0" y="0" font-size="10.4" text-anchor="end" fill="#333" transform="translate(254.9 848.4) rotate(-45)">BMSC−1</text>
<line x1="281.1" y1="838.8" x2="281.1" y2="841.3" stroke="#333" stroke-width="0.9" shape-rendering="crispEdges"/>
<text stroke="#333" stroke-width="0.22" x="0" y="0" font-size="10.4" text-anchor="end" fill="#333" transform="translate(287.4 848.4) rotate(-45)">BMSC−2</text>
<line x1="313.6" y1="838.8" x2="313.6" y2="841.3" stroke="#333" stroke-width="0.9" shape-rendering="crispEdges"/>
<text stroke="#333" stroke-width="0.22" x="0" y="0" font-size="10.4" text-anchor="end" fill="#333" transform="translate(319.9 848.4) rotate(-45)">BMSC−3</text>
<text stroke="#222" stroke-width="0.12" x="265.1" y="779.4" font-size="9.6" text-anchor="middle" fill="#222" font-family="Liberation Sans" font-style="italic">KITLG</text>
<line x1="206.8" y1="790.7" x2="225.2" y2="790.7" stroke="#666" stroke-width="0.9" shape-rendering="crispEdges"/>
<text stroke="#222" stroke-width="0.1" x="216.0" y="788.3" font-size="7.8" text-anchor="middle" fill="#222" font-family="Liberation Sans">padj=0.0015</text>
<line x1="238.3" y1="797.3" x2="258.0" y2="797.3" stroke="#666" stroke-width="0.9" shape-rendering="crispEdges"/>
<text stroke="#222" stroke-width="0.1" x="248.2" y="794.9" font-size="7.8" text-anchor="middle" fill="#222" font-family="Liberation Sans">padj=0.0051</text>
<line x1="271.2" y1="804.7" x2="290.9" y2="804.7" stroke="#666" stroke-width="0.9" shape-rendering="crispEdges"/>
<text stroke="#222" stroke-width="0.1" x="281.0" y="802.3" font-size="7.8" text-anchor="middle" fill="#222" font-family="Liberation Sans">padj=0.026</text>
<path d="M375.35 800.00 L375.35 800.50 L375.34 801.00 L375.34 801.50 L375.33 802.00 L375.32 802.50 L375.30 803.00 L375.29 803.50 L375.27 804.00 L375.26 804.50 L375.25 805.00 L375.23 805.50 L375.22 806.00 L375.21 806.50 L375.21 807.00 L375.20 807.50 L375.20 808.00 L375.18 808.50 L375.11 809.00 L375.01 809.50 L374.90 810.00 L374.79 810.50 L374.69 811.00 L374.62 811.50 L374.60 812.00 L374.59 812.51 L374.54 813.02 L374.48 813.53 L374.40 814.04 L374.30 814.55 L374.20 815.05 L374.10 815.56 L374.02 816.07 L373.96 816.58 L373.91 817.09 L373.90 817.60 L373.91 818.14 L373.96 818.68 L374.02 819.22 L374.11 819.76 L374.20 820.30 L374.29 820.84 L374.38 821.38 L374.44 821.92 L374.49 822.46 L374.50 823.00 L374.51 823.50 L374.54 824.00 L374.59 824.50 L374.66 825.00 L374.74 825.50 L374.81 826.00 L374.89 826.50 L374.96 827.00 L375.01 827.50 L375.04 828.00 L375.05 828.50 L374.99 829.00 L374.84 829.50 L374.62 830.00 L374.41 830.50 L374.26 831.00 L374.20 831.50 L373.98 832.00 L373.38 832.50 L372.55 833.00 L371.73 833.50 L371.12 834.00 L370.90 834.50 L370.70 835.00 L370.15 835.50 L369.40 836.00 L368.65 836.50 L368.10 837.00 L367.90 837.50 L383.10 837.50 L382.90 837.00 L382.35 836.50 L381.60 836.00 L380.85 835.50 L380.30 835.00 L380.10 834.50 L379.88 834.00 L379.27 833.50 L378.45 833.00 L377.62 832.50 L377.02 832.00 L376.80 831.50 L376.74 831.00 L376.59 830.50 L376.38 830.00 L376.16 829.50 L376.01 829.00 L375.95 828.50 L375.96 828.00 L375.99 827.50 L376.04 827.00 L376.11 826.50 L376.19 826.00 L376.26 825.50 L376.34 825.00 L376.41 824.50 L376.46 824.00 L376.49 823.50 L376.50 823.00 L376.51 822.46 L376.56 821.92 L376.62 821.38 L376.71 820.84 L376.80 820.30 L376.89 819.76 L376.98 819.22 L377.04 818.68 L377.09 818.14 L377.10 817.60 L377.09 817.09 L377.04 816.58 L376.98 816.07 L376.90 815.56 L376.80 815.05 L376.70 814.55 L376.60 814.04 L376.52 813.53 L376.46 813.02 L376.41 812.51 L376.40 812.00 L376.38 811.50 L376.31 811.00 L376.21 810.50 L376.10 810.00 L375.99 809.50 L375.89 809.00 L375.82 808.50 L375.80 808.00 L375.80 807.50 L375.79 807.00 L375.79 806.50 L375.78 806.00 L375.77 805.50 L375.75 805.00 L375.74 804.50 L375.73 804.00 L375.71 803.50 L375.70 803.00 L375.68 802.50 L375.67 802.00 L375.66 801.50 L375.66 801.00 L375.65 800.50 L375.65 800.00Z" fill="#33648c" stroke="#2a2a2a" stroke-width="0.55" stroke-linejoin="round"/>
<line x1="390.5" y1="805.0" x2="390.5" y2="837.5" stroke="#555" stroke-width="0.8" shape-rendering="crispEdges"/>
<path d="M408.15 802.30 L408.15 802.81 L408.14 803.33 L408.14 803.84 L408.13 804.35 L408.11 804.87 L408.10 805.38 L408.08 805.89 L408.07 806.41 L408.05 806.92 L408.04 807.43 L408.02 807.95 L408.01 808.46 L408.01 808.97 L408.00 809.49 L408.00 810.00 L407.96 810.50 L407.85 811.00 L407.70 811.50 L407.55 812.00 L407.44 812.50 L407.40 813.00 L407.39 813.50 L407.34 814.00 L407.28 814.50 L407.19 815.00 L407.10 815.50 L407.01 816.00 L406.92 816.50 L406.86 817.00 L406.81 817.50 L406.80 818.00 L406.81 818.50 L406.86 819.00 L406.92 819.50 L407.01 820.00 L407.10 820.50 L407.19 821.00 L407.28 821.50 L407.34 822.00 L407.39 822.50 L407.40 823.00 L407.41 823.50 L407.43 824.00 L407.47 824.50 L407.51 825.00 L407.57 825.50 L407.62 826.00 L407.68 826.50 L407.74 827.00 L407.78 827.50 L407.82 828.00 L407.84 828.50 L407.85 829.00 L407.80 829.50 L407.66 830.00 L407.48 830.50 L407.29 831.00 L407.15 831.50 L407.10 832.00 L406.81 832.56 L406.06 833.12 L405.14 833.68 L404.39 834.24 L404.10 834.80 L403.83 835.34 L403.13 835.88 L402.27 836.42 L401.57 836.96 L401.30 837.50 L415.30 837.50 L415.03 836.96 L414.33 836.42 L413.47 835.88 L412.77 835.34 L412.50 834.80 L412.21 834.24 L411.46 833.68 L410.54 833.12 L409.79 832.56 L409.50 832.00 L409.45 831.50 L409.31 831.00 L409.12 830.50 L408.94 830.00 L408.80 829.50 L408.75 829.00 L408.76 828.50 L408.78 828.00 L408.82 827.50 L408.86 827.00 L408.92 826.50 L408.98 826.00 L409.03 825.50 L409.09 825.00 L409.13 824.50 L409.17 824.00 L409.19 823.50 L409.20 823.00 L409.21 822.50 L409.26 822.00 L409.32 821.50 L409.41 821.00 L409.50 820.50 L409.59 820.00 L409.68 819.50 L409.74 819.00 L409.79 818.50 L409.80 818.00 L409.79 817.50 L409.74 817.00 L409.68 816.50 L409.59 816.00 L409.50 815.50 L409.41 815.00 L409.32 814.50 L409.26 814.00 L409.21 813.50 L409.20 813.00 L409.16 812.50 L409.05 812.00 L408.90 811.50 L408.75 811.00 L408.64 810.50 L408.60 810.00 L408.60 809.49 L408.59 808.97 L408.59 808.46 L408.58 807.95 L408.56 807.43 L408.55 806.92 L408.53 806.41 L408.52 805.89 L408.50 805.38 L408.49 804.87 L408.47 804.35 L408.46 803.84 L408.46 803.33 L408.45 802.81 L408.45 802.30Z" fill="#33648c" stroke="#2a2a2a" stroke-width="0.55" stroke-linejoin="round"/>
<line x1="422.8" y1="804.0" x2="422.8" y2="837.5" stroke="#555" stroke-width="0.8" shape-rendering="crispEdges"/>
<line x1="440.7" y1="810.0" x2="440.7" y2="837.5" stroke="#555" stroke-width="0.8" shape-rendering="crispEdges"/>
<line x1="455.1" y1="806.5" x2="455.1" y2="837.5" stroke="#555" stroke-width="0.8" shape-rendering="crispEdges"/>
<line x1="473.5" y1="808.0" x2="473.5" y2="837.5" stroke="#555" stroke-width="0.8" shape-rendering="crispEdges"/>
<line x1="488.0" y1="808.5" x2="488.0" y2="837.5" stroke="#555" stroke-width="0.8" shape-rendering="crispEdges"/>
<line x1="433.9" y1="837.3" x2="447.5" y2="837.3" stroke="#444" stroke-width="0.8" shape-rendering="crispEdges"/>
<line x1="448.3" y1="837.3" x2="461.9" y2="837.3" stroke="#444" stroke-width="0.8" shape-rendering="crispEdges"/>
<line x1="466.7" y1="837.3" x2="480.3" y2="837.3" stroke="#444" stroke-width="0.8" shape-rendering="crispEdges"/>
<line x1="481.2" y1="837.3" x2="494.8" y2="837.3" stroke="#444" stroke-width="0.8" shape-rendering="crispEdges"/>
<line x1="383.0" y1="837.3" x2="397.0" y2="837.3" stroke="#444" stroke-width="0.8" shape-rendering="crispEdges"/>
<line x1="415.5" y1="837.3" x2="429.5" y2="837.3" stroke="#444" stroke-width="0.8" shape-rendering="crispEdges"/>
<line x1="363.7" y1="798.2" x2="363.7" y2="838.8" stroke="#333" stroke-width="1" shape-rendering="crispEdges"/>
<line x1="363.7" y1="838.8" x2="500.3" y2="838.8" stroke="#333" stroke-width="1" shape-rendering="crispEdges"/>
<line x1="361.2" y1="798.1" x2="363.7" y2="798.1" stroke="#333" stroke-width="0.9" shape-rendering="crispEdges"/>
<text stroke="#333" stroke-width="0.22" x="360.4" y="801.3" font-size="9.2" text-anchor="end" fill="#333" font-family="Liberation Sans">3</text>
<line x1="361.2" y1="811.2" x2="363.7" y2="811.2" stroke="#333" stroke-width="0.9" shape-rendering="crispEdges"/>
<text stroke="#333" stroke-width="0.22" x="360.4" y="814.4" font-size="9.2" text-anchor="end" fill="#333" font-family="Liberation Sans">2</text>
<line x1="361.2" y1="824.4" x2="363.7" y2="824.4" stroke="#333" stroke-width="0.9" shape-rendering="crispEdges"/>
<text stroke="#333" stroke-width="0.22" x="360.4" y="827.6" font-size="9.2" text-anchor="end" fill="#333" font-family="Liberation Sans">1</text>
<line x1="361.2" y1="837.2" x2="363.7" y2="837.2" stroke="#333" stroke-width="0.9" shape-rendering="crispEdges"/>
<text stroke="#333" stroke-width="0.22" x="360.4" y="840.4" font-size="9.2" text-anchor="end" fill="#333" font-family="Liberation Sans">0</text>
<line x1="383.0" y1="838.8" x2="383.0" y2="841.3" stroke="#333" stroke-width="0.9" shape-rendering="crispEdges"/>
<text stroke="#333" stroke-width="0.22" x="0" y="0" font-size="10.4" text-anchor="end" fill="#333" transform="translate(389.3 848.4) rotate(-45)">BMSC−0</text>
<line x1="415.6" y1="838.8" x2="415.6" y2="841.3" stroke="#333" stroke-width="0.9" shape-rendering="crispEdges"/>
<text stroke="#333" stroke-width="0.22" x="0" y="0" font-size="10.4" text-anchor="end" fill="#333" transform="translate(421.9 848.4) rotate(-45)">BMSC−1</text>
<line x1="447.9" y1="838.8" x2="447.9" y2="841.3" stroke="#333" stroke-width="0.9" shape-rendering="crispEdges"/>
<text stroke="#333" stroke-width="0.22" x="0" y="0" font-size="10.4" text-anchor="end" fill="#333" transform="translate(454.2 848.4) rotate(-45)">BMSC−2</text>
<line x1="480.8" y1="838.8" x2="480.8" y2="841.3" stroke="#333" stroke-width="0.9" shape-rendering="crispEdges"/>
<text stroke="#333" stroke-width="0.22" x="0" y="0" font-size="10.4" text-anchor="end" fill="#333" transform="translate(487.1 848.4) rotate(-45)">BMSC−3</text>
<text stroke="#222" stroke-width="0.12" x="432.0" y="779.4" font-size="9.6" text-anchor="middle" fill="#222" font-family="Liberation Sans" font-style="italic">IL7</text>
<line x1="407.0" y1="798.1" x2="426.7" y2="798.1" stroke="#666" stroke-width="0.9" shape-rendering="crispEdges"/>
<text stroke="#222" stroke-width="0.1" x="416.9" y="795.7" font-size="7.8" text-anchor="middle" fill="#222" font-family="Liberation Sans">padj=0.055</text>
<path d="M541.55 804.80 L541.33 805.33 L540.74 805.86 L539.93 806.39 L539.12 806.92 L538.53 807.45 L538.31 807.98 L538.14 808.51 L537.64 809.04 L536.93 809.57 L536.13 810.10 L535.42 810.63 L534.92 811.16 L534.75 811.69 L534.68 812.22 L534.51 812.75 L534.26 813.28 L533.98 813.81 L533.73 814.34 L533.56 814.87 L533.50 815.40 L533.55 815.92 L533.70 816.44 L533.93 816.95 L534.22 817.47 L534.54 817.99 L534.86 818.51 L535.15 819.03 L535.38 819.54 L535.52 820.06 L535.57 820.58 L535.67 821.12 L535.94 821.66 L536.36 822.19 L536.91 822.73 L537.53 823.27 L538.18 823.81 L538.81 824.35 L539.35 824.89 L539.78 825.42 L540.05 825.96 L540.14 826.50 L540.18 827.03 L540.30 827.56 L540.47 828.09 L540.67 828.61 L540.84 829.14 L540.96 829.67 L541.00 830.20 L540.97 830.71 L540.89 831.23 L540.77 831.74 L540.63 832.26 L540.51 832.77 L540.43 833.29 L540.40 833.80 L539.81 834.43 L538.64 835.07 L538.06 835.70 L537.33 836.35 L536.60 837.00 L547.00 837.00 L546.27 836.35 L545.54 835.70 L544.96 835.07 L543.79 834.43 L543.20 833.80 L543.17 833.29 L543.09 832.77 L542.97 832.26 L542.83 831.74 L542.71 831.23 L542.63 830.71 L542.60 830.20 L542.64 829.67 L542.76 829.14 L542.93 828.61 L543.13 828.09 L543.30 827.56 L543.42 827.03 L543.46 826.50 L543.55 825.96 L543.82 825.42 L544.25 824.89 L544.79 824.35 L545.42 823.81 L546.07 823.27 L546.69 822.73 L547.24 822.19 L547.66 821.66 L547.93 821.12 L548.02 820.58 L548.08 820.06 L548.22 819.54 L548.45 819.03 L548.74 818.51 L549.06 817.99 L549.38 817.47 L549.67 816.95 L549.90 816.44 L550.05 815.92 L550.10 815.40 L550.04 814.87 L549.87 814.34 L549.62 813.81 L549.34 813.28 L549.09 812.75 L548.92 812.22 L548.85 811.69 L548.68 811.16 L548.18 810.63 L547.47 810.10 L546.67 809.57 L545.96 809.04 L545.46 808.51 L545.29 807.98 L545.07 807.45 L544.48 806.92 L543.67 806.39 L542.86 805.86 L542.27 805.33 L542.05 804.80Z" fill="#33648c" stroke="#2a2a2a" stroke-width="0.55" stroke-linejoin="round"/>
<path d="M554.65 807.50 L554.56 808.08 L554.30 808.65 L553.96 809.23 L553.61 809.80 L553.35 810.38 L553.26 810.95 L553.20 811.45 L553.02 811.96 L552.74 812.46 L552.42 812.96 L552.10 813.47 L551.83 813.97 L551.65 814.47 L551.58 814.98 L551.56 815.48 L551.50 815.98 L551.40 816.48 L551.29 816.99 L551.18 817.49 L551.09 817.99 L551.02 818.50 L551.00 819.00 L551.05 819.55 L551.18 820.10 L551.38 820.65 L551.60 821.20 L551.79 821.75 L551.93 822.30 L551.98 822.85 L552.06 823.40 L552.29 823.95 L552.64 824.50 L553.05 825.05 L553.46 825.60 L553.81 826.15 L554.04 826.70 L554.12 827.25 L554.12 827.80 L554.11 828.35 L554.11 828.90 L554.10 829.45 L554.10 830.00 L554.07 830.54 L553.99 831.09 L553.87 831.63 L553.73 832.17 L553.61 832.71 L553.53 833.26 L553.50 833.80 L552.66 834.43 L550.99 835.07 L550.15 835.70 L549.22 836.35 L548.30 837.00 L561.50 837.00 L560.58 836.35 L559.65 835.70 L558.81 835.07 L557.14 834.43 L556.30 833.80 L556.27 833.26 L556.19 832.71 L556.07 832.17 L555.93 831.63 L555.81 831.09 L555.73 830.54 L555.70 830.00 L555.70 829.45 L555.69 828.90 L555.69 828.35 L555.68 827.80 L555.68 827.25 L555.76 826.70 L555.99 826.15 L556.34 825.60 L556.75 825.05 L557.16 824.50 L557.51 823.95 L557.74 823.40 L557.82 822.85 L557.87 822.30 L558.01 821.75 L558.20 821.20 L558.42 820.65 L558.62 820.10 L558.75 819.55 L558.80 819.00 L558.78 818.50 L558.71 817.99 L558.62 817.49 L558.51 816.99 L558.40 816.48 L558.30 815.98 L558.24 815.48 L558.22 814.98 L558.15 814.47 L557.97 813.97 L557.70 813.47 L557.38 812.96 L557.06 812.46 L556.78 811.96 L556.60 811.45 L556.54 810.95 L556.45 810.38 L556.19 809.80 L555.84 809.23 L555.50 808.65 L555.24 808.08 L555.15 807.50Z" fill="#8c3428" stroke="#2a2a2a" stroke-width="0.55" stroke-linejoin="round"/>
<path d="M574.35 800.00 L574.28 800.51 L574.08 801.02 L573.76 801.53 L573.36 802.04 L572.92 802.55 L572.48 803.06 L572.08 803.57 L571.76 804.08 L571.56 804.59 L571.49 805.10 L571.43 805.64 L571.24 806.18 L570.94 806.72 L570.56 807.26 L570.13 807.80 L569.67 808.35 L569.24 808.89 L568.86 809.43 L568.56 809.97 L568.37 810.51 L568.31 811.05 L568.29 811.59 L568.22 812.13 L568.12 812.67 L567.99 813.21 L567.83 813.75 L567.68 814.30 L567.52 814.84 L567.39 815.38 L567.29 815.92 L567.22 816.46 L567.20 817.00 L567.26 817.51 L567.42 818.01 L567.66 818.52 L567.96 819.02 L568.29 819.53 L568.59 820.03 L568.83 820.54 L568.99 821.04 L569.05 821.55 L569.15 822.07 L569.44 822.59 L569.89 823.11 L570.46 823.63 L571.09 824.15 L571.71 824.67 L572.28 825.19 L572.73 825.71 L573.02 826.23 L573.12 826.75 L573.17 827.29 L573.29 827.83 L573.46 828.38 L573.63 828.92 L573.75 829.46 L573.80 830.00 L573.77 830.54 L573.69 831.09 L573.57 831.63 L573.43 832.17 L573.31 832.71 L573.23 833.26 L573.20 833.80 L572.65 834.43 L571.55 835.07 L571.00 835.70 L570.30 836.35 L569.60 837.00 L579.60 837.00 L578.90 836.35 L578.20 835.70 L577.65 835.07 L576.55 834.43 L576.00 833.80 L575.97 833.26 L575.89 832.71 L575.77 832.17 L575.63 831.63 L575.51 831.09 L575.43 830.54 L575.40 830.00 L575.45 829.46 L575.57 828.92 L575.74 828.38 L575.91 827.83 L576.03 827.29 L576.08 826.75 L576.18 826.23 L576.47 825.71 L576.92 825.19 L577.49 824.67 L578.12 824.15 L578.74 823.63 L579.31 823.11 L579.76 822.59 L580.05 822.07 L580.15 821.55 L580.21 821.04 L580.37 820.54 L580.61 820.03 L580.91 819.53 L581.24 819.02 L581.54 818.52 L581.78 818.01 L581.94 817.51 L582.00 817.00 L581.98 816.46 L581.91 815.92 L581.81 815.38 L581.68 814.84 L581.52 814.30 L581.37 813.75 L581.21 813.21 L581.08 812.67 L580.98 812.13 L580.91 811.59 L580.89 811.05 L580.83 810.51 L580.64 809.97 L580.34 809.43 L579.96 808.89 L579.53 808.35 L579.07 807.80 L578.64 807.26 L578.26 806.72 L577.96 806.18 L577.77 805.64 L577.71 805.10 L577.64 804.59 L577.44 804.08 L577.12 803.57 L576.72 803.06 L576.28 802.55 L575.84 802.04 L575.44 801.53 L575.12 801.02 L574.92 800.51 L574.85 800.00Z" fill="#33648c" stroke="#2a2a2a" stroke-width="0.55" stroke-linejoin="round"/>
<path d="M588.35 805.90 L588.30 806.43 L588.17 806.96 L587.97 807.49 L587.74 808.01 L587.51 808.54 L587.31 809.07 L587.18 809.60 L587.13 810.13 L587.08 810.68 L586.95 811.23 L586.75 811.77 L586.51 812.32 L586.25 812.87 L586.00 813.42 L585.80 813.97 L585.67 814.52 L585.62 815.06 L585.61 815.61 L585.56 816.16 L585.49 816.71 L585.41 817.26 L585.32 817.81 L585.23 818.36 L585.16 818.90 L585.12 819.45 L585.10 820.00 L585.14 820.55 L585.26 821.10 L585.44 821.65 L585.63 822.20 L585.81 822.75 L585.93 823.30 L585.98 823.85 L586.05 824.40 L586.26 824.95 L586.57 825.50 L586.94 826.05 L587.31 826.60 L587.62 827.15 L587.83 827.70 L587.90 828.25 L587.89 828.80 L587.87 829.35 L587.83 829.90 L587.81 830.45 L587.80 831.00 L587.74 831.56 L587.59 832.12 L587.41 832.68 L587.26 833.24 L587.20 833.80 L586.38 834.43 L584.74 835.07 L583.92 835.70 L583.01 836.35 L582.10 837.00 L595.10 837.00 L594.19 836.35 L593.28 835.70 L592.46 835.07 L590.82 834.43 L590.00 833.80 L589.94 833.24 L589.79 832.68 L589.61 832.12 L589.46 831.56 L589.40 831.00 L589.39 830.45 L589.37 829.90 L589.33 829.35 L589.31 828.80 L589.30 828.25 L589.37 827.70 L589.58 827.15 L589.89 826.60 L590.26 826.05 L590.63 825.50 L590.94 824.95 L591.15 824.40 L591.23 823.85 L591.27 823.30 L591.39 822.75 L591.57 822.20 L591.76 821.65 L591.94 821.10 L592.06 820.55 L592.10 820.00 L592.08 819.45 L592.04 818.90 L591.97 818.36 L591.88 817.81 L591.79 817.26 L591.71 816.71 L591.64 816.16 L591.59 815.61 L591.58 815.06 L591.53 814.52 L591.40 813.97 L591.20 813.42 L590.95 812.87 L590.69 812.32 L590.45 811.77 L590.25 811.23 L590.12 810.68 L590.07 810.13 L590.02 809.60 L589.89 809.07 L589.69 808.54 L589.46 808.01 L589.23 807.49 L589.03 806.96 L588.90 806.43 L588.85 805.90Z" fill="#8c3428" stroke="#2a2a2a" stroke-width="0.55" stroke-linejoin="round"/>
<path d="M605.95 806.00 L605.77 806.55 L605.28 807.10 L604.61 807.65 L603.93 808.20 L603.44 808.75 L603.26 809.30 L603.11 809.85 L602.69 810.40 L602.09 810.95 L601.42 811.50 L600.82 812.05 L600.40 812.60 L600.25 813.15 L600.20 813.70 L600.05 814.25 L599.84 814.80 L599.61 815.35 L599.40 815.90 L599.25 816.45 L599.20 817.00 L599.25 817.51 L599.40 818.01 L599.64 818.52 L599.92 819.02 L600.23 819.53 L600.51 820.03 L600.75 820.54 L600.90 821.04 L600.95 821.55 L601.04 822.07 L601.32 822.59 L601.74 823.11 L602.28 823.63 L602.88 824.15 L603.47 824.67 L604.01 825.19 L604.43 825.71 L604.71 826.23 L604.80 826.75 L604.84 827.29 L604.95 827.83 L605.10 828.38 L605.25 828.92 L605.36 829.46 L605.40 830.00 L605.37 830.54 L605.29 831.09 L605.17 831.63 L605.03 832.17 L604.91 832.71 L604.83 833.26 L604.80 833.80 L604.25 834.43 L603.15 835.07 L602.60 835.70 L601.90 836.35 L601.20 837.00 L611.20 837.00 L610.50 836.35 L609.80 835.70 L609.25 835.07 L608.15 834.43 L607.60 833.80 L607.57 833.26 L607.49 832.71 L607.37 832.17 L607.23 831.63 L607.11 831.09 L607.03 830.54 L607.00 830.00 L607.04 829.46 L607.15 828.92 L607.30 828.38 L607.45 827.83 L607.56 827.29 L607.60 826.75 L607.69 826.23 L607.97 825.71 L608.39 825.19 L608.93 824.67 L609.53 824.15 L610.12 823.63 L610.66 823.11 L611.08 822.59 L611.36 822.07 L611.45 821.55 L611.50 821.04 L611.65 820.54 L611.89 820.03 L612.17 819.53 L612.48 819.02 L612.76 818.52 L613.00 818.01 L613.15 817.51 L613.20 817.00 L613.15 816.45 L613.00 815.90 L612.79 815.35 L612.56 814.80 L612.35 814.25 L612.20 813.70 L612.15 813.15 L612.00 812.60 L611.58 812.05 L610.98 811.50 L610.31 810.95 L609.71 810.40 L609.29 809.85 L609.14 809.30 L608.96 808.75 L608.47 808.20 L607.80 807.65 L607.12 807.10 L606.63 806.55 L606.45 806.00Z" fill="#33648c" stroke="#2a2a2a" stroke-width="0.55" stroke-linejoin="round"/>
<path d="M620.95 810.00 L620.89 810.51 L620.72 811.03 L620.48 811.54 L620.20 812.06 L619.96 812.57 L619.79 813.09 L619.73 813.60 L619.67 814.12 L619.51 814.65 L619.27 815.17 L618.98 815.70 L618.69 816.23 L618.45 816.75 L618.28 817.27 L618.23 817.80 L618.21 818.32 L618.15 818.85 L618.06 819.38 L617.96 819.90 L617.86 820.42 L617.78 820.95 L617.72 821.48 L617.70 822.00 L617.76 822.52 L617.92 823.05 L618.14 823.58 L618.36 824.10 L618.52 824.62 L618.58 825.15 L618.67 825.66 L618.94 826.18 L619.32 826.69 L619.75 827.21 L620.14 827.72 L620.40 828.24 L620.50 828.75 L620.49 829.31 L620.45 829.88 L620.41 830.44 L620.40 831.00 L620.34 831.56 L620.19 832.12 L620.01 832.68 L619.86 833.24 L619.80 833.80 L618.98 834.43 L617.34 835.07 L616.52 835.70 L615.61 836.35 L614.70 837.00 L627.70 837.00 L626.79 836.35 L625.88 835.70 L625.06 835.07 L623.42 834.43 L622.60 833.80 L622.54 833.24 L622.39 832.68 L622.21 832.12 L622.06 831.56 L622.00 831.00 L621.99 830.44 L621.95 829.88 L621.91 829.31 L621.90 828.75 L622.00 828.24 L622.26 827.72 L622.65 827.21 L623.08 826.69 L623.46 826.18 L623.73 825.66 L623.83 825.15 L623.88 824.62 L624.04 824.10 L624.26 823.58 L624.48 823.05 L624.64 822.52 L624.70 822.00 L624.68 821.48 L624.62 820.95 L624.54 820.42 L624.44 819.90 L624.34 819.38 L624.25 818.85 L624.19 818.32 L624.18 817.80 L624.12 817.27 L623.95 816.75 L623.71 816.23 L623.42 815.70 L623.13 815.17 L622.89 814.65 L622.73 814.12 L622.67 813.60 L622.61 813.09 L622.44 812.57 L622.20 812.06 L621.92 811.54 L621.68 811.03 L621.51 810.51 L621.45 810.00Z" fill="#8c3428" stroke="#2a2a2a" stroke-width="0.55" stroke-linejoin="round"/>
<path d="M638.75 811.00 L638.63 811.54 L638.33 812.08 L637.95 812.62 L637.65 813.16 L637.53 813.70 L637.43 814.23 L637.15 814.75 L636.78 815.28 L636.40 815.80 L636.13 816.33 L636.02 816.85 L635.99 817.38 L635.89 817.90 L635.76 818.42 L635.63 818.95 L635.54 819.48 L635.50 820.00 L635.56 820.52 L635.72 821.05 L635.94 821.58 L636.16 822.10 L636.32 822.62 L636.38 823.15 L636.47 823.66 L636.74 824.18 L637.12 824.69 L637.55 825.21 L637.94 825.72 L638.20 826.24 L638.30 826.75 L638.29 827.31 L638.25 827.88 L638.21 828.44 L638.20 829.00 L638.18 829.53 L638.13 830.07 L638.05 830.60 L637.95 831.13 L637.85 831.67 L637.75 832.20 L637.67 832.73 L637.62 833.27 L637.60 833.80 L636.87 834.43 L635.41 835.07 L634.68 835.70 L633.84 836.35 L633.00 837.00 L645.00 837.00 L644.16 836.35 L643.32 835.70 L642.59 835.07 L641.13 834.43 L640.40 833.80 L640.38 833.27 L640.33 832.73 L640.25 832.20 L640.15 831.67 L640.05 831.13 L639.95 830.60 L639.87 830.07 L639.82 829.53 L639.80 829.00 L639.79 828.44 L639.75 827.88 L639.71 827.31 L639.70 826.75 L639.80 826.24 L640.06 825.72 L640.45 825.21 L640.88 824.69 L641.26 824.18 L641.53 823.66 L641.62 823.15 L641.68 822.62 L641.84 822.10 L642.06 821.58 L642.28 821.05 L642.44 820.52 L642.50 820.00 L642.46 819.48 L642.37 818.95 L642.24 818.42 L642.11 817.90 L642.01 817.38 L641.98 816.85 L641.87 816.33 L641.60 815.80 L641.22 815.28 L640.85 814.75 L640.57 814.23 L640.47 813.70 L640.35 813.16 L640.05 812.62 L639.67 812.08 L639.37 811.54 L639.25 811.00Z" fill="#33648c" stroke="#2a2a2a" stroke-width="0.55" stroke-linejoin="round"/>
<path d="M653.25 807.50 L653.16 808.08 L652.91 808.65 L652.58 809.23 L652.24 809.80 L651.99 810.38 L651.90 810.95 L651.84 811.45 L651.66 811.96 L651.40 812.46 L651.09 812.96 L650.77 813.47 L650.51 813.97 L650.33 814.47 L650.27 814.98 L650.25 815.48 L650.19 815.98 L650.09 816.48 L649.99 816.99 L649.88 817.49 L649.78 817.99 L649.72 818.50 L649.70 819.00 L649.74 819.52 L649.84 820.05 L649.99 820.58 L650.17 821.10 L650.36 821.62 L650.51 822.15 L650.61 822.68 L650.65 823.20 L650.71 823.73 L650.89 824.27 L651.17 824.80 L651.51 825.33 L651.88 825.87 L652.22 826.40 L652.50 826.93 L652.68 827.47 L652.74 828.00 L652.74 828.50 L652.73 829.00 L652.72 829.50 L652.71 830.00 L652.70 830.50 L652.70 831.00 L652.64 831.56 L652.49 832.12 L652.31 832.68 L652.16 833.24 L652.10 833.80 L651.12 834.43 L649.15 835.07 L648.17 835.70 L647.14 836.35 L646.10 837.00 L660.90 837.00 L659.86 836.35 L658.83 835.70 L657.85 835.07 L655.88 834.43 L654.90 833.80 L654.84 833.24 L654.69 832.68 L654.51 832.12 L654.36 831.56 L654.30 831.00 L654.30 830.50 L654.29 830.00 L654.28 829.50 L654.27 829.00 L654.26 828.50 L654.26 828.00 L654.32 827.47 L654.50 826.93 L654.78 826.40 L655.12 825.87 L655.49 825.33 L655.83 824.80 L656.11 824.27 L656.29 823.73 L656.35 823.20 L656.39 822.68 L656.49 822.15 L656.64 821.62 L656.83 821.10 L657.01 820.58 L657.16 820.05 L657.26 819.52 L657.30 819.00 L657.28 818.50 L657.22 817.99 L657.12 817.49 L657.01 816.99 L656.91 816.48 L656.81 815.98 L656.75 815.48 L656.73 814.98 L656.67 814.47 L656.49 813.97 L656.23 813.47 L655.91 812.96 L655.60 812.46 L655.34 811.96 L655.16 811.45 L655.10 810.95 L655.01 810.38 L654.76 809.80 L654.42 809.23 L654.09 808.65 L653.84 808.08 L653.75 807.50Z" fill="#8c3428" stroke="#2a2a2a" stroke-width="0.55" stroke-linejoin="round"/>
<line x1="529.4" y1="798.2" x2="529.4" y2="838.8" stroke="#333" stroke-width="1" shape-rendering="crispEdges"/>
<line x1="529.4" y1="838.8" x2="666.8" y2="838.8" stroke="#333" stroke-width="1" shape-rendering="crispEdges"/>
<line x1="526.9" y1="799.4" x2="529.4" y2="799.4" stroke="#333" stroke-width="0.9" shape-rendering="crispEdges"/>
<text stroke="#333" stroke-width="0.22" x="526.1" y="802.6" font-size="9.2" text-anchor="end" fill="#333" font-family="Liberation Sans">4</text>
<line x1="526.9" y1="809.1" x2="529.4" y2="809.1" stroke="#333" stroke-width="0.9" shape-rendering="crispEdges"/>
<text stroke="#333" stroke-width="0.22" x="526.1" y="812.3" font-size="9.2" text-anchor="end" fill="#333" font-family="Liberation Sans">3</text>
<line x1="526.9" y1="818.9" x2="529.4" y2="818.9" stroke="#333" stroke-width="0.9" shape-rendering="crispEdges"/>
<text stroke="#333" stroke-width="0.22" x="526.1" y="822.1" font-size="9.2" text-anchor="end" fill="#333" font-family="Liberation Sans">2</text>
<line x1="526.9" y1="827.8" x2="529.4" y2="827.8" stroke="#333" stroke-width="0.9" shape-rendering="crispEdges"/>
<text stroke="#333" stroke-width="0.22" x="526.1" y="831.0" font-size="9.2" text-anchor="end" fill="#333" font-family="Liberation Sans">1</text>
<line x1="526.9" y1="836.7" x2="529.4" y2="836.7" stroke="#333" stroke-width="0.9" shape-rendering="crispEdges"/>
<text stroke="#333" stroke-width="0.22" x="526.1" y="839.9" font-size="9.2" text-anchor="end" fill="#333" font-family="Liberation Sans">0</text>
<line x1="548.4" y1="838.8" x2="548.4" y2="841.3" stroke="#333" stroke-width="0.9" shape-rendering="crispEdges"/>
<text stroke="#333" stroke-width="0.22" x="0" y="0" font-size="10.4" text-anchor="end" fill="#333" transform="translate(554.6 848.4) rotate(-45)">BMSC−0</text>
<line x1="581.6" y1="838.8" x2="581.6" y2="841.3" stroke="#333" stroke-width="0.9" shape-rendering="crispEdges"/>
<text stroke="#333" stroke-width="0.22" x="0" y="0" font-size="10.4" text-anchor="end" fill="#333" transform="translate(587.9 848.4) rotate(-45)">BMSC−1</text>
<line x1="613.7" y1="838.8" x2="613.7" y2="841.3" stroke="#333" stroke-width="0.9" shape-rendering="crispEdges"/>
<text stroke="#333" stroke-width="0.22" x="0" y="0" font-size="10.4" text-anchor="end" fill="#333" transform="translate(620.0 848.4) rotate(-45)">BMSC−2</text>
<line x1="646.2" y1="838.8" x2="646.2" y2="841.3" stroke="#333" stroke-width="0.9" shape-rendering="crispEdges"/>
<text stroke="#333" stroke-width="0.22" x="0" y="0" font-size="10.4" text-anchor="end" fill="#333" transform="translate(652.5 848.4) rotate(-45)">BMSC−3</text>
<text stroke="#222" stroke-width="0.12" x="597.5" y="779.4" font-size="9.6" text-anchor="middle" fill="#222" font-family="Liberation Sans" font-style="italic">ANGPT1</text>
<line x1="540.5" y1="787.6" x2="558.9" y2="787.6" stroke="#666" stroke-width="0.9" shape-rendering="crispEdges"/>
<text stroke="#222" stroke-width="0.1" x="549.7" y="785.2" font-size="7.8" text-anchor="middle" fill="#222" font-family="Liberation Sans">padj=0.0076</text>
<line x1="572.0" y1="797.8" x2="591.7" y2="797.8" stroke="#666" stroke-width="0.9" shape-rendering="crispEdges"/>
<text stroke="#222" stroke-width="0.1" x="581.9" y="795.4" font-size="7.8" text-anchor="middle" fill="#222" font-family="Liberation Sans">padj=0.00027</text>
<line x1="604.9" y1="803.9" x2="624.6" y2="803.9" stroke="#666" stroke-width="0.9" shape-rendering="crispEdges"/>
<text stroke="#222" stroke-width="0.1" x="614.8" y="801.5" font-size="7.8" text-anchor="middle" fill="#222" font-family="Liberation Sans">padj=0.013</text>
<text stroke="#1a1a1a" stroke-width="0.22" x="19.6" y="818.9" font-size="10.4" text-anchor="middle" fill="#1a1a1a" font-family="Liberation Sans" transform="rotate(-90 19.6 818.9)">Expression</text>
<rect x="676.90" y="794.00" width="6.10" height="7.80" fill="#33648c" stroke="none" stroke-width="0"/>
<rect x="676.90" y="830.80" width="6.10" height="7.30" fill="#8c3428" stroke="none" stroke-width="0"/>
<text stroke="#1a1a1a" stroke-width="0.22" x="677.6" y="815.8" font-size="10.4" text-anchor="middle" fill="#1a1a1a" font-family="Liberation Sans" transform="rotate(90 677.6 815.8)">NBM</text>
<text stroke="#1a1a1a" stroke-width="0.22" x="677.6" y="857.9" font-size="10.4" text-anchor="middle" fill="#1a1a1a" font-family="Liberation Sans" transform="rotate(90 677.6 857.9)">LRMDS</text>
</svg>
</body></html>
